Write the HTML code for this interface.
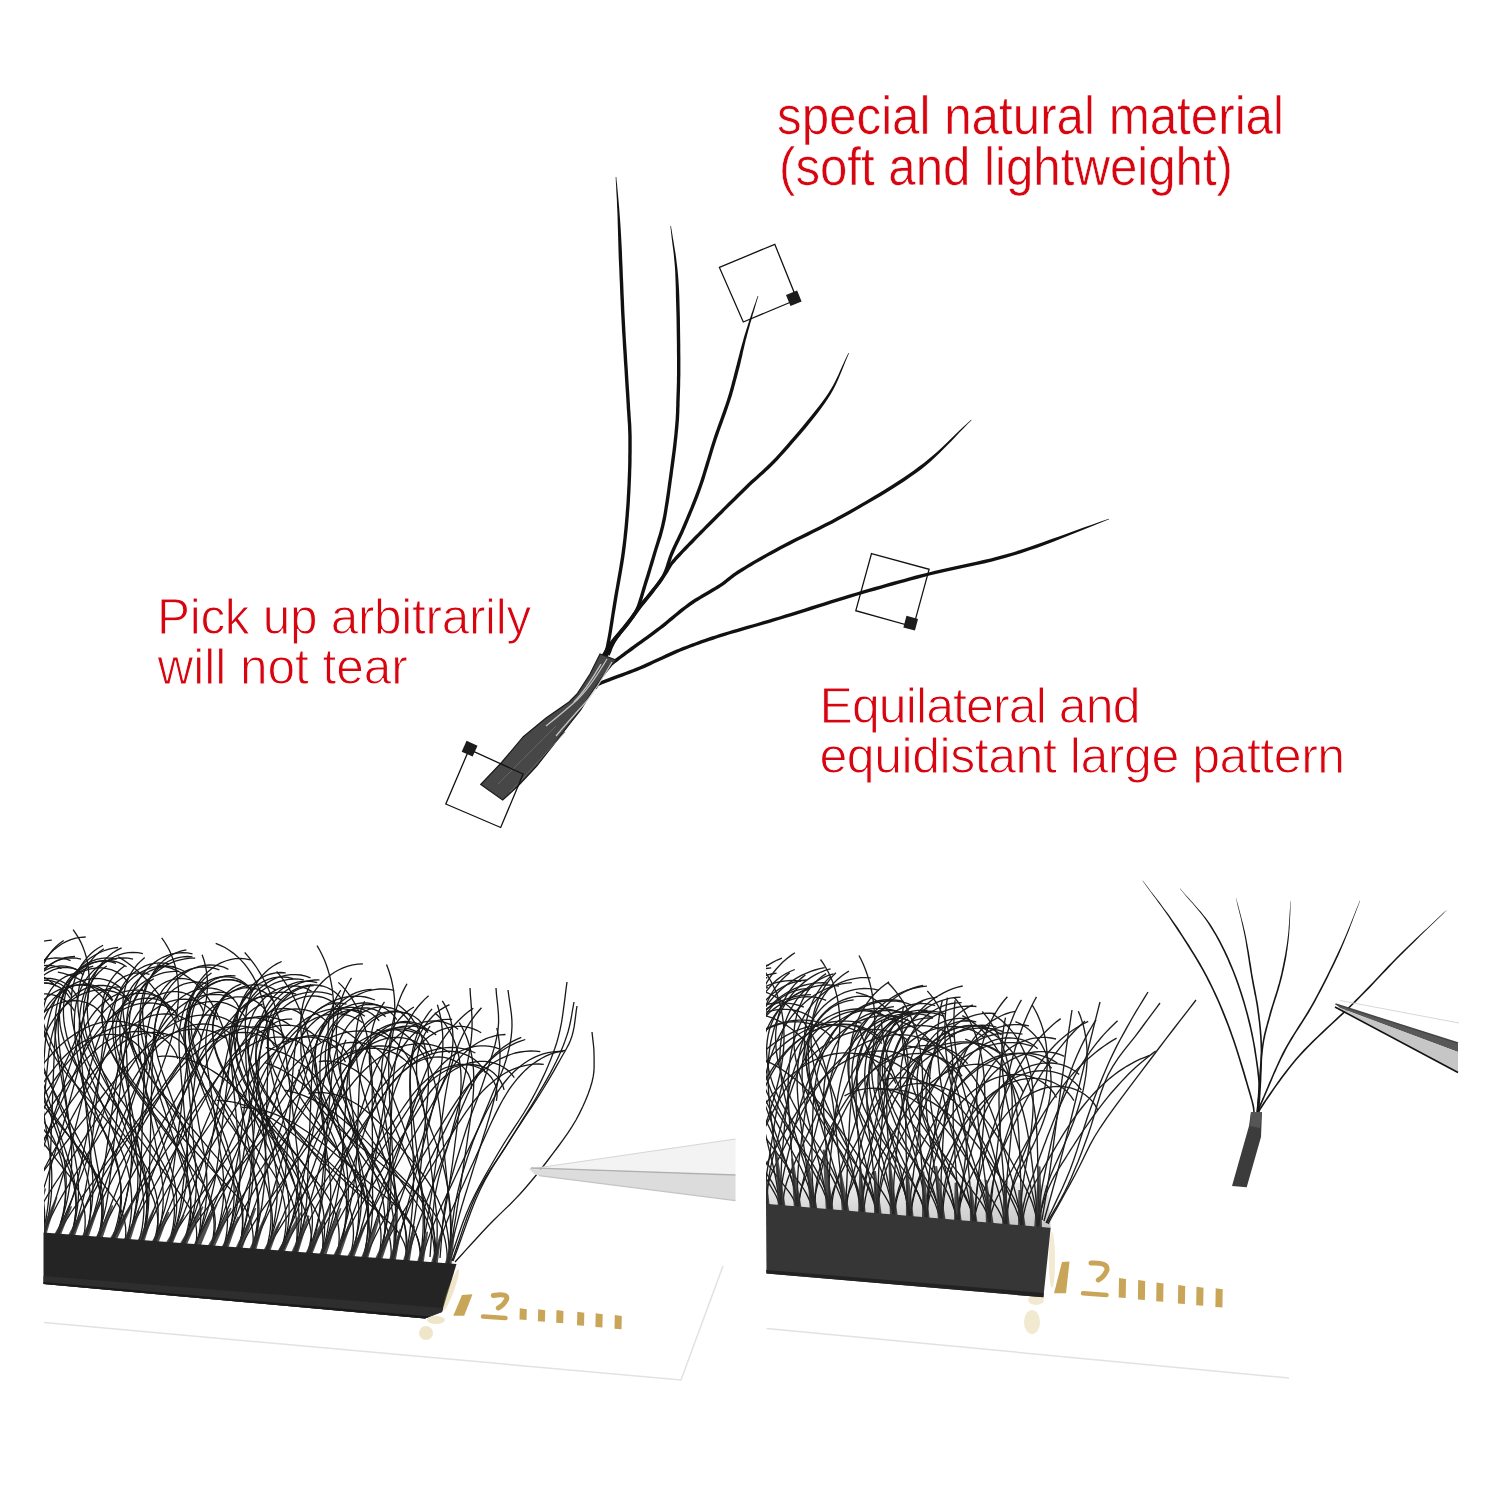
<!DOCTYPE html>
<html><head><meta charset="utf-8"><style>
html,body{margin:0;padding:0;background:#fff;width:1500px;height:1500px;overflow:hidden}
svg{display:block}
</style></head><body>
<svg width="1500" height="1500" viewBox="0 0 1500 1500">
<rect width="1500" height="1500" fill="#fff"/>
<g font-family="Liberation Sans, sans-serif" fill="#d7050f">
<text x="777" y="134.4" font-size="54" stroke="#fff" stroke-width="0.6" textLength="507" lengthAdjust="spacingAndGlyphs">special natural material</text>
<text x="779" y="184.8" font-size="54" stroke="#fff" stroke-width="0.6" textLength="454" lengthAdjust="spacingAndGlyphs">(soft and lightweight)</text>
<text x="157" y="633.7" stroke="#fff" stroke-width="1" font-size="49.5" letter-spacing="-0.3">Pick up arbitrarily</text>
<text x="157.5" y="684" stroke="#fff" stroke-width="1" font-size="49.5">will not tear</text>
<text x="819.5" y="723" stroke="#fff" stroke-width="1" font-size="50" letter-spacing="-0.9">Equilateral and</text>
<text x="819.5" y="772.7" stroke="#fff" stroke-width="1" font-size="50" letter-spacing="-0.45">equidistant large pattern</text>
</g>
<g fill="#111"><path d="M615.7,177.0 615.8,180.7 616.0,184.1 616.2,187.4 616.3,190.6 616.5,193.8 616.7,197.1 616.9,200.5 617.0,204.2 617.2,208.2 617.4,212.6 617.6,217.5 617.7,223.1 617.9,229.3 618.1,236.1 618.3,243.5 618.5,251.3 618.8,259.4 619.2,267.8 619.5,276.3 619.9,284.8 620.2,293.2 620.6,301.5 620.9,309.5 621.3,317.1 621.7,324.5 622.1,332.1 622.6,339.6 623.0,347.2 623.5,354.6 623.9,362.0 624.4,369.1 624.8,376.0 625.2,382.6 625.6,388.9 626.0,394.7 626.3,400.1 626.6,404.9 626.8,409.1 627.1,412.8 627.3,416.2 627.5,419.2 627.7,422.0 627.9,424.7 628.0,427.4 628.1,430.2 628.2,433.1 628.3,436.4 628.3,440.0 628.3,444.0 628.3,448.1 628.3,452.3 628.2,456.6 628.2,461.1 628.1,465.6 628.0,470.1 627.8,474.7 627.6,479.3 627.5,483.9 627.2,488.4 627.0,492.9 626.7,497.4 626.5,501.8 626.2,506.3 625.8,510.8 625.5,515.3 625.1,519.9 624.7,524.4 624.3,528.9 623.8,533.4 623.4,537.9 622.9,542.3 622.3,546.8 621.7,551.2 621.1,555.7 620.4,560.2 619.7,564.6 619.0,569.1 618.2,573.6 617.4,578.0 616.6,582.4 615.9,586.8 615.1,591.1 614.3,595.5 613.6,599.7 612.9,604.0 612.2,608.5 611.5,613.0 610.8,617.6 610.1,622.1 609.4,626.6 608.7,630.9 608.0,635.0 607.3,638.8 606.6,642.3 606.0,645.4 605.4,648.1 604.7,650.3 604.2,652.0 603.6,653.3 603.1,654.2 602.6,654.9 602.2,655.4 601.7,655.8 601.2,656.2 600.6,656.7 599.9,657.3 599.2,658.1 598.6,659.0 601.4,661.0 601.9,660.2 602.4,659.7 602.8,659.3 603.4,658.9 604.0,658.4 604.6,657.8 605.3,657.0 606.0,656.0 606.7,654.7 607.3,653.2 608.0,651.3 608.6,648.9 609.3,646.1 610.0,642.9 610.6,639.4 611.3,635.5 612.0,631.4 612.7,627.1 613.4,622.7 614.1,618.1 614.8,613.6 615.6,609.0 616.3,604.6 617.0,600.3 617.7,596.0 618.4,591.7 619.2,587.4 620.0,583.0 620.8,578.6 621.6,574.1 622.3,569.7 623.1,565.2 623.8,560.7 624.5,556.2 625.1,551.7 625.7,547.2 626.2,542.7 626.7,538.2 627.2,533.7 627.7,529.2 628.1,524.7 628.5,520.1 628.9,515.6 629.2,511.1 629.6,506.6 629.9,502.1 630.1,497.6 630.4,493.1 630.6,488.6 630.8,484.0 631.0,479.4 631.2,474.8 631.3,470.2 631.5,465.7 631.6,461.1 631.6,456.7 631.7,452.3 631.7,448.1 631.7,444.0 631.7,440.0 631.7,436.3 631.6,433.0 631.5,430.0 631.4,427.2 631.3,424.5 631.1,421.8 630.9,418.9 630.7,415.9 630.5,412.6 630.2,408.9 630.0,404.7 629.7,399.9 629.4,394.5 629.0,388.7 628.6,382.4 628.2,375.8 627.8,368.9 627.3,361.8 626.9,354.4 626.4,347.0 625.9,339.4 625.5,331.9 625.1,324.3 624.7,316.9 624.3,309.3 624.0,301.3 623.6,293.1 623.3,284.6 622.9,276.1 622.6,267.6 622.2,259.3 621.9,251.1 621.5,243.3 621.1,236.0 620.7,229.1 620.3,222.9 619.9,217.4 619.5,212.5 619.2,208.1 618.8,204.1 618.5,200.4 618.2,196.9 617.9,193.7 617.6,190.5 617.3,187.3 617.0,184.1 616.6,180.7 616.3,177.0Z"/><path d="M670.4,226.0 670.8,230.2 671.3,234.2 671.7,238.2 672.2,242.0 672.7,245.9 673.2,249.8 673.7,253.8 674.1,258.0 674.5,262.3 674.9,266.9 675.2,271.8 675.4,277.1 675.6,282.8 675.8,289.1 675.9,295.9 676.1,302.9 676.3,310.2 676.5,317.5 676.6,324.8 676.7,332.0 676.8,338.9 676.9,345.5 676.9,351.6 677.0,357.0 677.0,361.9 677.0,366.5 677.0,370.7 677.0,374.6 676.9,378.3 676.9,381.8 676.8,385.0 676.7,388.2 676.6,391.2 676.5,394.1 676.4,397.0 676.3,400.0 676.2,402.7 676.2,405.2 676.1,407.5 676.0,409.7 676.0,411.7 675.9,413.6 675.8,415.6 675.7,417.5 675.6,419.6 675.4,421.8 675.2,424.2 675.0,426.8 674.7,429.7 674.5,432.6 674.2,435.6 673.8,438.7 673.5,441.9 673.1,445.2 672.7,448.5 672.3,452.0 671.8,455.6 671.3,459.2 670.8,462.9 670.3,466.8 669.8,470.8 669.2,475.1 668.6,479.6 667.9,484.2 667.3,488.9 666.6,493.7 665.9,498.4 665.2,503.1 664.5,507.6 663.8,511.9 663.1,515.9 662.3,519.7 661.6,523.1 660.9,526.3 660.1,529.3 659.4,532.1 658.6,534.7 657.8,537.3 657.0,539.8 656.3,542.3 655.5,544.8 654.7,547.3 653.9,549.9 653.1,552.5 652.3,555.2 651.5,558.0 650.6,560.7 649.8,563.5 649.0,566.3 648.2,569.0 647.3,571.7 646.5,574.4 645.7,577.0 644.9,579.6 644.1,582.1 643.4,584.5 642.6,586.9 641.9,589.2 641.3,591.5 640.6,593.7 640.0,595.9 639.3,598.1 638.7,600.1 638.1,602.1 637.4,604.0 636.7,605.9 636.0,607.6 635.3,609.3 634.5,610.8 633.7,612.2 632.9,613.5 632.1,614.7 631.3,615.8 630.4,616.9 629.5,618.0 628.6,619.1 627.7,620.2 626.7,621.4 625.7,622.6 624.7,623.9 623.6,625.3 622.5,626.7 621.3,628.1 620.1,629.5 618.8,631.0 617.6,632.5 616.3,633.9 615.1,635.4 613.9,636.8 612.8,638.3 611.7,639.6 610.6,641.0 609.7,642.3 608.8,643.5 608.0,644.8 607.2,646.0 606.5,647.1 605.7,648.3 605.0,649.4 604.4,650.6 603.7,651.7 603.0,652.8 602.3,653.9 601.6,655.1 604.4,656.9 605.2,655.7 605.9,654.6 606.6,653.5 607.3,652.3 607.9,651.2 608.6,650.1 609.3,648.9 610.1,647.8 610.8,646.7 611.6,645.5 612.5,644.3 613.4,643.0 614.3,641.7 615.4,640.4 616.5,639.0 617.7,637.6 618.9,636.1 620.2,634.7 621.4,633.2 622.7,631.7 623.9,630.3 625.1,628.8 626.3,627.4 627.3,626.1 628.3,624.8 629.3,623.6 630.3,622.4 631.2,621.3 632.2,620.2 633.1,619.1 634.0,617.9 634.9,616.6 635.8,615.3 636.7,613.9 637.5,612.4 638.3,610.7 639.1,609.0 639.9,607.1 640.6,605.2 641.3,603.2 641.9,601.2 642.6,599.1 643.2,596.9 643.9,594.7 644.5,592.5 645.2,590.2 645.9,587.9 646.6,585.5 647.4,583.1 648.2,580.6 649.0,578.0 649.8,575.4 650.6,572.7 651.4,570.0 652.2,567.2 653.1,564.5 653.9,561.7 654.7,559.0 655.5,556.2 656.3,553.5 657.1,550.8 657.9,548.3 658.7,545.8 659.5,543.3 660.3,540.8 661.1,538.3 661.9,535.7 662.6,533.0 663.4,530.1 664.2,527.1 664.9,523.8 665.7,520.3 666.4,516.6 667.1,512.5 667.8,508.1 668.6,503.6 669.3,498.9 670.0,494.2 670.6,489.4 671.3,484.7 671.9,480.0 672.6,475.5 673.1,471.3 673.7,467.2 674.2,463.4 674.7,459.7 675.2,456.0 675.6,452.4 676.1,449.0 676.5,445.6 676.8,442.3 677.2,439.1 677.5,436.0 677.8,432.9 678.1,430.0 678.4,427.2 678.6,424.5 678.8,422.1 679.0,419.8 679.1,417.7 679.2,415.7 679.3,413.8 679.4,411.8 679.4,409.8 679.5,407.6 679.6,405.3 679.6,402.8 679.7,400.0 679.8,397.1 679.9,394.2 680.0,391.3 680.1,388.3 680.2,385.1 680.2,381.9 680.3,378.4 680.4,374.7 680.4,370.7 680.4,366.5 680.4,361.9 680.4,357.0 680.3,351.5 680.3,345.5 680.2,338.9 680.1,332.0 680.0,324.8 679.9,317.5 679.7,310.1 679.5,302.8 679.3,295.8 679.0,289.0 678.6,282.7 678.2,276.9 677.7,271.6 677.2,266.7 676.6,262.1 676.1,257.7 675.5,253.6 674.8,249.6 674.2,245.7 673.6,241.8 672.9,238.0 672.3,234.1 671.6,230.1 671.0,226.0Z"/><path d="M757.7,295.9 757.1,297.7 756.4,299.5 755.8,301.4 755.2,303.2 754.5,305.0 753.9,306.8 753.3,308.6 752.7,310.5 752.0,312.3 751.4,314.1 750.8,315.9 750.2,317.8 749.6,319.6 749.0,321.3 748.5,323.0 747.9,324.8 747.4,326.5 746.8,328.2 746.2,330.0 745.7,331.8 745.1,333.6 744.5,335.6 743.9,337.6 743.3,339.7 742.7,341.9 742.0,344.2 741.4,346.6 740.7,349.1 740.0,351.6 739.4,354.1 738.7,356.7 738.0,359.3 737.3,361.9 736.7,364.5 736.0,367.1 735.4,369.6 734.7,372.0 734.1,374.5 733.5,376.8 732.9,379.2 732.2,381.6 731.6,383.9 731.0,386.3 730.3,388.8 729.6,391.3 728.8,393.9 728.0,396.6 727.1,399.5 726.1,402.4 725.1,405.5 724.0,408.6 722.9,411.8 721.7,415.0 720.5,418.4 719.3,421.8 718.0,425.2 716.8,428.7 715.5,432.3 714.3,435.8 713.1,439.5 711.9,443.2 710.7,447.0 709.5,450.9 708.3,454.9 707.1,459.0 705.8,463.0 704.6,467.1 703.4,471.1 702.2,475.1 700.9,479.0 699.7,482.8 698.4,486.4 697.1,490.0 695.8,493.6 694.4,497.2 693.0,500.7 691.6,504.2 690.3,507.7 688.9,511.0 687.5,514.3 686.2,517.5 684.9,520.6 683.6,523.5 682.4,526.3 681.3,529.0 680.2,531.5 679.1,533.8 678.0,536.1 677.0,538.2 676.0,540.3 675.0,542.3 674.1,544.3 673.1,546.3 672.2,548.3 671.3,550.3 670.4,552.3 669.6,554.4 668.8,556.5 668.1,558.5 667.5,560.6 666.8,562.5 666.2,564.5 665.6,566.4 665.0,568.2 664.3,570.1 663.6,571.8 662.8,573.5 662.0,575.2 661.1,576.8 660.1,578.4 659.0,580.0 657.9,581.5 656.8,583.0 655.6,584.5 654.4,586.0 653.2,587.4 652.0,588.8 650.9,590.2 649.7,591.6 648.7,592.9 647.6,594.2 646.6,595.5 645.7,596.7 644.7,597.8 643.7,599.0 642.8,600.1 641.8,601.2 640.9,602.3 639.9,603.4 639.0,604.6 638.1,605.8 637.1,607.0 636.2,608.2 635.3,609.4 634.5,610.6 633.7,611.9 632.8,613.1 632.0,614.3 631.2,615.5 630.3,616.8 629.4,618.0 628.6,619.3 627.6,620.6 626.6,622.0 625.6,623.4 624.5,624.8 623.3,626.3 622.0,627.8 620.8,629.4 619.5,630.9 618.3,632.5 617.0,634.1 615.8,635.6 614.7,637.1 613.6,638.6 612.6,640.1 611.7,641.5 610.9,642.8 610.1,644.1 609.4,645.4 608.7,646.7 608.1,647.9 607.5,649.2 606.9,650.4 606.3,651.6 605.7,652.8 605.1,654.0 604.5,655.2 607.5,656.8 608.2,655.5 608.8,654.3 609.4,653.1 610.0,651.9 610.6,650.6 611.1,649.4 611.8,648.2 612.4,647.0 613.1,645.8 613.8,644.5 614.6,643.3 615.4,641.9 616.4,640.6 617.4,639.2 618.5,637.7 619.7,636.2 620.9,634.6 622.2,633.1 623.4,631.5 624.7,630.0 625.9,628.4 627.1,626.9 628.3,625.4 629.4,624.0 630.4,622.6 631.3,621.3 632.2,620.0 633.1,618.7 634.0,617.4 634.8,616.2 635.6,615.0 636.5,613.8 637.3,612.6 638.1,611.4 639.0,610.2 639.9,609.0 640.8,607.9 641.7,606.7 642.6,605.6 643.5,604.5 644.4,603.4 645.4,602.3 646.3,601.2 647.3,600.0 648.3,598.8 649.3,597.6 650.3,596.4 651.3,595.1 652.4,593.7 653.5,592.4 654.7,591.0 655.8,589.6 657.0,588.1 658.3,586.6 659.5,585.1 660.7,583.5 661.8,581.9 662.9,580.3 664.0,578.6 665.0,576.8 665.9,575.0 666.7,573.2 667.5,571.3 668.2,569.4 668.8,567.5 669.5,565.5 670.1,563.6 670.7,561.6 671.4,559.6 672.0,557.6 672.8,555.6 673.6,553.7 674.4,551.7 675.3,549.7 676.2,547.8 677.1,545.8 678.1,543.8 679.1,541.8 680.1,539.7 681.1,537.5 682.2,535.3 683.3,532.9 684.4,530.3 685.6,527.7 686.8,524.8 688.0,521.9 689.3,518.8 690.7,515.6 692.0,512.3 693.4,509.0 694.8,505.5 696.2,502.0 697.6,498.4 699.0,494.8 700.3,491.2 701.6,487.6 702.9,483.8 704.2,480.0 705.4,476.1 706.6,472.1 707.9,468.1 709.1,464.0 710.3,459.9 711.5,455.9 712.7,451.9 713.9,448.0 715.1,444.2 716.3,440.5 717.5,436.9 718.7,433.4 720.0,429.8 721.2,426.4 722.5,422.9 723.7,419.5 724.9,416.2 726.1,412.9 727.2,409.7 728.3,406.6 729.3,403.5 730.3,400.5 731.2,397.7 732.1,394.9 732.8,392.3 733.6,389.7 734.2,387.2 734.9,384.8 735.5,382.4 736.1,380.1 736.8,377.7 737.4,375.3 738.0,372.9 738.6,370.4 739.3,367.9 740.0,365.3 740.6,362.7 741.2,360.1 741.8,357.5 742.4,354.9 742.9,352.3 743.5,349.8 744.1,347.3 744.6,344.9 745.2,342.5 745.7,340.3 746.3,338.2 746.8,336.2 747.3,334.3 747.8,332.4 748.3,330.6 748.8,328.8 749.3,327.1 749.8,325.3 750.2,323.6 750.8,321.8 751.3,320.1 751.8,318.2 752.3,316.4 752.8,314.6 753.4,312.7 753.9,310.9 754.5,309.0 755.0,307.2 755.6,305.3 756.1,303.5 756.7,301.6 757.2,299.8 757.8,297.9 758.3,296.1Z"/><path d="M848.5,352.9 846.7,356.5 844.9,360.2 843.3,363.7 841.7,367.3 840.1,370.8 838.5,374.4 836.8,378.0 835.0,381.7 833.0,385.4 830.8,389.2 828.3,393.2 825.6,397.3 822.5,401.6 818.9,406.2 815.1,411.0 811.1,416.0 807.0,421.1 802.7,426.2 798.5,431.3 794.2,436.3 790.0,441.1 786.0,445.7 782.2,450.0 778.7,453.9 775.5,457.4 772.5,460.6 769.5,463.5 766.7,466.3 764.0,468.8 761.4,471.2 758.8,473.6 756.2,475.9 753.6,478.3 750.9,480.6 748.3,483.1 745.5,485.8 742.7,488.5 739.9,491.3 737.0,494.1 734.1,496.9 731.3,499.8 728.4,502.6 725.5,505.4 722.7,508.2 720.0,510.9 717.3,513.6 714.6,516.3 712.1,518.8 709.6,521.3 707.1,523.8 704.7,526.2 702.3,528.7 699.9,531.0 697.6,533.4 695.4,535.6 693.2,537.8 691.1,540.0 689.1,542.0 687.3,544.0 685.5,545.8 683.8,547.6 682.2,549.2 680.8,550.7 679.4,552.2 678.1,553.5 676.9,554.8 675.7,556.1 674.6,557.3 673.6,558.5 672.6,559.6 671.6,560.8 670.7,561.9 669.8,563.0 669.1,564.1 668.4,565.0 667.9,565.9 667.4,566.7 666.9,567.5 666.5,568.3 666.0,569.2 665.5,570.0 665.0,570.9 664.3,571.9 663.6,573.0 662.7,574.3 661.8,575.7 660.8,577.1 659.7,578.6 658.6,580.2 657.4,581.8 656.3,583.4 655.1,585.0 654.0,586.5 652.8,588.1 651.7,589.6 650.6,591.0 649.6,592.3 648.6,593.6 647.6,594.9 646.6,596.2 645.6,597.4 644.6,598.6 643.6,599.8 642.6,601.0 641.6,602.3 640.6,603.5 639.6,604.7 638.7,606.0 637.7,607.2 636.8,608.5 635.9,609.7 635.0,610.9 634.1,612.1 633.2,613.3 632.4,614.5 631.5,615.8 630.6,617.0 629.6,618.3 628.7,619.6 627.6,621.0 626.6,622.4 625.4,623.8 624.2,625.3 623.0,626.8 621.7,628.4 620.4,629.9 619.2,631.5 617.9,633.1 616.7,634.6 615.6,636.1 614.5,637.6 613.6,639.1 612.7,640.5 611.9,641.9 611.2,643.2 610.6,644.5 610.0,645.8 609.5,647.0 609.0,648.3 608.5,649.5 608.0,650.7 607.5,651.9 607.0,653.1 606.5,654.3 609.5,655.7 610.1,654.4 610.7,653.2 611.2,652.0 611.7,650.7 612.1,649.5 612.6,648.3 613.1,647.1 613.7,645.9 614.3,644.7 614.9,643.5 615.6,642.2 616.4,640.9 617.3,639.6 618.3,638.1 619.4,636.7 620.6,635.2 621.8,633.6 623.1,632.1 624.3,630.5 625.6,629.0 626.9,627.4 628.1,625.9 629.3,624.5 630.4,623.0 631.4,621.7 632.4,620.3 633.3,619.0 634.2,617.8 635.1,616.5 636.0,615.3 636.9,614.1 637.7,612.9 638.6,611.7 639.5,610.5 640.4,609.3 641.3,608.0 642.3,606.8 643.3,605.6 644.2,604.4 645.2,603.2 646.2,602.0 647.2,600.8 648.2,599.5 649.2,598.3 650.2,597.0 651.3,595.7 652.3,594.4 653.4,593.0 654.4,591.6 655.5,590.1 656.7,588.6 657.9,587.0 659.0,585.4 660.2,583.7 661.3,582.1 662.5,580.6 663.5,579.1 664.6,577.6 665.5,576.2 666.4,575.0 667.2,573.8 667.9,572.7 668.5,571.7 669.0,570.8 669.4,570.0 669.9,569.2 670.3,568.4 670.8,567.7 671.3,566.9 671.8,566.0 672.5,565.1 673.3,564.1 674.2,563.0 675.2,561.9 676.1,560.7 677.2,559.6 678.2,558.4 679.4,557.2 680.6,555.9 681.9,554.5 683.2,553.1 684.7,551.5 686.3,549.9 687.9,548.2 689.7,546.3 691.6,544.4 693.6,542.4 695.6,540.2 697.8,538.0 700.0,535.8 702.3,533.4 704.7,531.0 707.1,528.6 709.5,526.2 712.0,523.7 714.5,521.2 717.0,518.7 719.7,516.0 722.4,513.4 725.1,510.6 727.9,507.8 730.8,505.0 733.6,502.2 736.5,499.4 739.4,496.5 742.3,493.7 745.1,490.9 747.9,488.2 750.6,485.6 753.3,483.1 755.9,480.8 758.4,478.5 761.0,476.1 763.7,473.8 766.3,471.3 769.1,468.7 771.9,465.9 774.9,463.0 778.0,459.7 781.3,456.1 784.8,452.2 788.6,447.9 792.6,443.3 796.8,438.5 801.1,433.5 805.4,428.4 809.6,423.2 813.8,418.1 817.7,413.0 821.4,408.0 824.8,403.2 827.8,398.7 830.5,394.5 832.8,390.4 834.9,386.4 836.8,382.5 838.5,378.8 840.0,375.1 841.5,371.4 843.0,367.8 844.4,364.2 845.9,360.6 847.4,356.9 849.1,353.1Z"/><path d="M971.1,419.8 966.8,423.7 962.6,427.6 958.4,431.6 954.3,435.6 950.2,439.5 946.1,443.5 941.9,447.5 937.6,451.4 933.2,455.3 928.7,459.1 923.9,462.9 919.0,466.6 913.8,470.5 908.4,474.3 902.9,478.1 897.1,481.8 891.3,485.6 885.3,489.3 879.2,493.0 873.2,496.6 867.1,500.2 861.0,503.7 855.0,507.2 849.2,510.5 843.3,513.8 837.2,517.1 831.0,520.4 824.8,523.6 818.6,526.7 812.4,529.8 806.3,532.8 800.4,535.7 794.6,538.6 789.2,541.3 784.0,544.0 779.2,546.5 774.7,548.9 770.5,551.2 766.6,553.4 762.9,555.5 759.4,557.5 756.0,559.4 752.9,561.2 749.9,563.0 747.0,564.7 744.3,566.4 741.6,568.0 739.1,569.6 736.7,571.1 734.7,572.5 732.8,573.8 731.2,575.0 729.7,576.2 728.3,577.3 727.0,578.3 725.6,579.4 724.2,580.5 722.7,581.7 721.0,582.9 719.1,584.2 716.9,585.5 714.7,586.9 712.3,588.3 709.9,589.8 707.4,591.2 704.8,592.7 702.1,594.3 699.5,595.9 696.8,597.5 694.2,599.1 691.6,600.8 689.0,602.6 686.5,604.4 684.0,606.4 681.4,608.3 678.9,610.3 676.4,612.4 673.9,614.5 671.4,616.6 668.9,618.6 666.4,620.7 663.9,622.7 661.4,624.7 659.0,626.7 656.4,628.6 653.8,630.5 651.2,632.5 648.5,634.5 645.8,636.4 643.2,638.3 640.6,640.2 638.0,642.1 635.6,643.8 633.2,645.5 631.0,647.1 629.0,648.6 627.1,650.0 625.3,651.3 623.7,652.6 622.1,653.7 620.6,654.8 619.2,655.9 617.9,656.8 616.7,657.8 615.5,658.6 614.4,659.5 613.3,660.3 612.3,661.0 611.3,661.7 610.5,662.4 609.8,662.9 609.1,663.4 608.6,663.9 608.0,664.3 607.5,664.7 607.0,665.0 606.6,665.4 606.1,665.8 605.5,666.2 605.0,666.7 607.0,669.3 607.6,668.9 608.1,668.5 608.6,668.1 609.1,667.7 609.6,667.4 610.1,667.0 610.6,666.6 611.2,666.1 611.8,665.6 612.6,665.1 613.4,664.5 614.3,663.8 615.3,663.0 616.4,662.2 617.5,661.4 618.7,660.5 619.9,659.6 621.2,658.6 622.6,657.6 624.1,656.5 625.7,655.3 627.3,654.1 629.1,652.8 631.0,651.4 633.0,649.9 635.2,648.3 637.6,646.6 640.0,644.8 642.6,643.0 645.2,641.1 647.8,639.2 650.5,637.2 653.2,635.2 655.9,633.3 658.5,631.3 661.0,629.3 663.6,627.4 666.1,625.4 668.6,623.3 671.1,621.2 673.6,619.2 676.1,617.1 678.6,615.0 681.1,613.0 683.6,611.0 686.0,609.0 688.5,607.2 691.0,605.4 693.5,603.7 696.0,602.0 698.6,600.4 701.2,598.8 703.9,597.2 706.5,595.7 709.1,594.2 711.6,592.7 714.1,591.3 716.5,589.8 718.8,588.4 720.9,587.0 722.9,585.7 724.7,584.4 726.3,583.2 727.7,582.1 729.1,581.0 730.4,579.9 731.8,578.8 733.3,577.7 734.8,576.5 736.6,575.3 738.6,573.9 740.9,572.4 743.4,570.9 746.0,569.3 748.8,567.6 751.6,565.9 754.6,564.1 757.7,562.3 761.0,560.4 764.5,558.4 768.2,556.3 772.2,554.2 776.4,551.9 780.8,549.5 785.6,547.0 790.7,544.4 796.2,541.6 801.9,538.8 807.8,535.9 813.9,532.8 820.1,529.7 826.3,526.6 832.6,523.4 838.8,520.1 844.9,516.8 850.8,513.5 856.7,510.1 862.7,506.6 868.8,503.1 874.9,499.5 881.0,495.9 887.1,492.2 893.1,488.5 899.0,484.7 904.8,480.9 910.4,477.1 915.8,473.2 921.0,469.4 925.9,465.4 930.6,461.4 935.1,457.3 939.3,453.2 943.5,449.1 947.5,445.0 951.5,440.9 955.5,436.7 959.4,432.6 963.4,428.5 967.4,424.3 971.5,420.2Z"/><path d="M1108.9,518.7 1100.8,521.5 1092.6,524.4 1084.4,527.3 1076.2,530.2 1068.0,533.2 1059.8,536.2 1051.6,539.0 1043.5,541.9 1035.6,544.7 1027.8,547.4 1020.1,550.0 1012.5,552.4 1005.1,554.6 997.7,556.6 990.5,558.4 983.3,560.1 976.2,561.7 969.1,563.3 962.2,564.8 955.3,566.2 948.5,567.7 941.8,569.2 935.1,570.7 928.6,572.4 922.2,574.0 915.9,575.6 909.8,577.3 903.9,578.9 898.0,580.5 892.1,582.1 886.3,583.7 880.5,585.4 874.6,587.1 868.7,588.8 862.7,590.6 856.5,592.4 850.2,594.3 843.8,596.2 837.2,598.2 830.6,600.3 823.9,602.4 817.2,604.5 810.6,606.6 804.1,608.7 797.7,610.7 791.4,612.7 785.3,614.6 779.5,616.4 773.9,618.1 768.3,619.7 762.9,621.3 757.5,622.9 752.3,624.4 747.2,625.8 742.2,627.3 737.4,628.7 732.7,630.0 728.2,631.4 723.7,632.7 719.5,634.1 715.4,635.4 711.6,636.6 708.1,637.8 704.6,639.0 701.4,640.1 698.2,641.2 695.1,642.4 692.0,643.5 688.9,644.7 685.8,645.9 682.6,647.1 679.4,648.4 676.0,649.8 672.6,651.3 669.3,652.8 665.9,654.3 662.5,655.9 659.2,657.4 655.8,659.0 652.5,660.6 649.2,662.1 645.9,663.6 642.6,665.0 639.3,666.4 636.0,667.8 632.5,669.2 628.9,670.5 625.3,671.9 621.7,673.2 618.1,674.5 614.7,675.8 611.4,677.0 608.3,678.2 605.5,679.2 603.0,680.2 600.9,681.1 599.2,681.9 597.8,682.6 596.8,683.3 596.0,683.8 595.4,684.4 594.9,685.0 594.6,685.6 594.4,686.0 594.4,686.2 594.3,686.3 594.2,686.4 593.9,686.7 596.1,689.3 596.7,688.8 597.2,688.2 597.5,687.6 597.6,687.2 597.7,687.0 597.7,686.9 597.8,686.7 598.1,686.5 598.6,686.1 599.5,685.6 600.7,685.0 602.3,684.3 604.3,683.4 606.8,682.4 609.5,681.4 612.6,680.2 615.9,679.0 619.3,677.7 622.9,676.4 626.5,675.1 630.1,673.7 633.8,672.3 637.3,670.9 640.7,669.6 644.0,668.2 647.3,666.7 650.6,665.2 653.9,663.6 657.3,662.1 660.6,660.5 664.0,658.9 667.3,657.4 670.7,655.9 674.0,654.4 677.3,652.9 680.6,651.6 683.9,650.3 687.1,649.0 690.1,647.8 693.2,646.7 696.2,645.5 699.3,644.4 702.5,643.3 705.7,642.2 709.1,641.0 712.7,639.9 716.5,638.6 720.5,637.3 724.7,636.0 729.1,634.6 733.7,633.3 738.4,631.9 743.2,630.5 748.2,629.1 753.3,627.6 758.5,626.1 763.8,624.6 769.3,623.0 774.8,621.3 780.5,619.6 786.3,617.8 792.4,615.9 798.7,614.0 805.1,611.9 811.6,609.9 818.3,607.8 824.9,605.7 831.6,603.6 838.2,601.5 844.8,599.5 851.2,597.5 857.5,595.6 863.6,593.8 869.6,592.1 875.5,590.4 881.4,588.7 887.2,587.0 893.0,585.4 898.9,583.8 904.7,582.2 910.7,580.5 916.8,578.9 923.0,577.3 929.4,575.6 935.9,574.0 942.5,572.5 949.2,571.0 956.0,569.6 962.9,568.1 969.9,566.6 976.9,565.1 984.1,563.4 991.3,561.7 998.6,559.8 1006.0,557.8 1013.5,555.6 1021.1,553.2 1028.9,550.6 1036.7,547.9 1044.7,545.0 1052.7,541.9 1060.7,538.7 1068.8,535.5 1076.9,532.2 1085.0,528.9 1093.1,525.7 1101.1,522.4 1109.1,519.3Z"/></g><path d="M600,654 590,674 577,694 569,702 546,718 523.3,736.7 502,762 480.7,784.5 502.7,800 518,786 536.7,766 556.7,740.7 570,723.3 580.7,710 590,695 603,676 616,660Z" fill="#474747" stroke="#1a1a1a" stroke-width="1.2"/><g stroke="#d0d0d0" stroke-width="1.3" fill="none" opacity="0.9"><path d="M607,659 C599,672 590,688 577,700 C566,710 556,718 546,726"/><path d="M612,662 C604,676 596,690 585,703 C575,714 566,724 556,736"/><path d="M601,664 C594,676 586,690 574,702"/></g><g stroke="#6a6a6a" stroke-width="1" fill="none" opacity="0.9"><path d="M556,726 C540,742 522,760 498,784"/><path d="M565,732 C550,748 533,768 510,792"/></g><polygon points="719.4,267.4 774.8,244.3 797,299.5 743.3,322" fill="none" stroke="#111" stroke-width="1.3"/><rect x="787.8" y="292.2" width="12" height="12" fill="#1c1c1c" transform="rotate(-22 793.8 298.2)"/><polygon points="871.5,553.6 929.1,569.3 913.4,626.8 855.8,610.7" fill="none" stroke="#111" stroke-width="1.3"/><rect x="904.7" y="617.2" width="12" height="12" fill="#1c1c1c" transform="rotate(15 910.7 623.2)"/><polygon points="469.1,749.4 523.1,774 500.7,827.5 445.8,804" fill="none" stroke="#111" stroke-width="1.3"/><rect x="463.6" y="742.7" width="12" height="12" fill="#1c1c1c" transform="rotate(24 469.6 748.7)"/>
<clipPath id="cl"><rect x="44" y="900" width="700" height="500"/></clipPath><clipPath id="cr"><rect x="766" y="860" width="700" height="540"/></clipPath><g stroke="#e2e2e2" stroke-width="1.5" fill="none"><path d="M44,1322.5 L681,1380 L723,1266"/><path d="M766.5,1328.5 L1289,1378"/></g><g clip-path="url(#cl)" fill="none" stroke="#181818" stroke-width="1.3"><path d="M-70.7,1227.8 -69.2,1223.0 -68.0,1218.1 -67.1,1213.2 -66.5,1208.2 -66.1,1203.2 -66.0,1198.2 -66.2,1193.2 -66.7,1188.2 -67.5,1183.2 -68.5,1178.3 -69.8,1173.5 -71.4,1168.7 -73.3,1164.1 -75.4,1159.5 -77.7,1155.1 -80.3,1150.8 -83.1,1146.6 -85.8,1142.4 -88.5,1138.2 -91.2,1133.9 -93.9,1129.7 -96.6,1125.5 -99.3,1121.3 -102.1,1117.1 -104.8,1112.9 -107.5,1108.6 -110.2,1104.4 -112.9,1100.2 -115.6,1096.0 -118.4,1091.8 -121.1,1087.6 -123.8,1083.4 -126.5,1079.1 -129.2,1074.9 -131.9,1070.7 -134.7,1066.5 -137.4,1062.3 -140.1,1058.0 -142.7,1053.8 -145.3,1049.5 -147.8,1045.1 -150.2,1040.8 -152.5,1036.3 -154.7,1031.8 -156.7,1027.2 -158.5,1022.5 -160.1,1017.7 -161.5,1012.9 -162.6,1008.0 -163.4,1003.1 -164.0,998.1 -164.2,993.1 -164.1,988.1 -163.6,983.1 -162.7,978.2 -161.5,973.3 -159.8,968.6 -157.7,964.0 -155.1,959.7 -152.2,955.6 -148.8,951.9 -145.1,948.6 -141.0,945.6 -136.7,943.2 -132.0,941.3"/><path d="M-69.1,1228.9 -67.4,1224.2 -65.7,1219.5 -64.3,1214.7 -62.9,1209.9 -61.7,1205.0 -60.7,1200.1 -59.8,1195.2 -59.1,1190.2 -58.5,1185.3 -58.0,1180.3 -57.7,1175.3 -57.6,1170.3 -57.6,1165.3 -57.8,1160.3 -58.1,1155.3 -58.6,1150.3 -59.2,1145.4 -59.9,1140.4 -60.9,1135.5 -61.9,1130.6 -63.1,1125.8 -64.5,1121.0 -66.0,1116.2 -67.6,1111.5 -69.4,1106.8 -71.4,1102.2 -73.3,1097.6 -75.3,1093.0 -77.3,1088.4 -79.2,1083.8 -81.2,1079.2 -83.2,1074.6 -85.1,1070.0 -87.1,1065.4 -89.1,1060.8 -91.1,1056.2 -93.0,1051.6 -94.9,1047.0 -96.7,1042.3 -98.4,1037.6 -99.9,1032.8 -101.2,1028.0 -102.4,1023.1 -103.2,1018.2 -103.8,1013.2 -104.0,1008.2 -103.9,1003.2 -103.4,998.3 -102.5,993.4 -101.1,988.6 -99.2,983.9 -96.9,979.5 -94.0,975.4 -90.7,971.6 -87.0,968.3 -82.8,965.5 -78.3,963.3 -73.6,961.8 -68.6,961.1 -63.6,961.1 -58.7,962.0 -54.0,963.7 -49.7,966.2 -45.9,969.5"/><path d="M-71.4,1227.1 -69.6,1222.4 -67.9,1217.6 -66.5,1212.7 -65.1,1207.8 -63.9,1202.9 -62.9,1197.9 -62.0,1192.9 -61.3,1187.9 -60.7,1182.9 -60.3,1177.8 -60.0,1172.8 -59.9,1167.7 -60.0,1162.6 -60.2,1157.6 -60.5,1152.5 -61.1,1147.5 -61.7,1142.5 -62.5,1137.4 -63.3,1132.4 -64.0,1127.4 -64.8,1122.4 -65.5,1117.4 -66.3,1112.4 -67.0,1107.4 -67.8,1102.4 -68.6,1097.3 -69.3,1092.3 -70.1,1087.3 -70.8,1082.3 -71.6,1077.3 -72.4,1072.3 -73.1,1067.3 -73.9,1062.3 -74.6,1057.2 -75.4,1052.2 -76.1,1047.2 -76.8,1042.2 -77.4,1037.2 -77.9,1032.1 -78.2,1027.0 -78.3,1022.0 -78.3,1016.9 -78.0,1011.8 -77.5,1006.8 -76.7,1001.8 -75.5,996.9 -74.1,992.0 -72.2,987.3 -70.0,982.7 -67.4,978.4 -64.5,974.3 -61.1,970.5 -57.4,967.0 -53.3,964.0 -48.9,961.5 -44.2,959.6 -39.3,958.2 -34.3,957.5 -29.2,957.5 -24.2,958.3 -19.3,959.8 -14.8,962.0"/><path d="M-70.0,1228.5 -68.0,1223.8 -66.2,1219.1 -64.4,1214.3 -62.8,1209.5 -61.2,1204.7 -59.7,1199.9 -58.3,1195.0 -57.0,1190.1 -55.7,1185.2 -54.6,1180.3 -53.6,1175.3 -52.6,1170.3 -51.7,1165.3 -50.9,1160.3 -50.0,1155.3 -49.1,1150.4 -48.2,1145.4 -47.3,1140.4 -46.5,1135.4 -45.6,1130.4 -44.7,1125.4 -43.8,1120.4 -42.9,1115.4 -42.1,1110.4 -41.2,1105.4 -40.3,1100.4 -39.4,1095.4 -38.5,1090.5 -37.7,1085.5 -36.8,1080.5 -35.9,1075.5 -35.0,1070.5 -34.1,1065.5 -33.3,1060.5 -32.4,1055.5 -31.5,1050.5 -30.6,1045.5 -29.6,1040.6 -28.5,1035.6 -27.3,1030.7 -25.9,1025.8 -24.4,1021.0 -22.7,1016.2 -20.7,1011.5 -18.5,1007.0 -16.0,1002.5 -13.3,998.3 -10.3,994.2 -6.9,990.4 -3.3,986.9 0.6,983.7 4.8,980.8 9.3,978.4 14.0,976.5 18.8,975.1 23.8,974.2 28.9,974.0 34.0,974.4 38.9,975.5 43.7,977.2 48.1,979.7 52.2,982.7 55.7,986.3"/><path d="M-70.9,1228.1 -68.9,1223.5 -67.0,1218.9 -65.2,1214.2 -63.5,1209.5 -61.8,1204.8 -60.1,1200.1 -58.5,1195.3 -57.0,1190.6 -55.6,1185.8 -54.1,1181.0 -52.6,1176.2 -51.2,1171.4 -49.7,1166.7 -48.2,1161.9 -46.8,1157.1 -45.3,1152.3 -43.8,1147.5 -42.4,1142.7 -40.9,1137.9 -39.4,1133.2 -38.0,1128.4 -36.5,1123.6 -35.0,1118.8 -33.6,1114.0 -32.1,1109.2 -30.6,1104.5 -29.2,1099.7 -27.7,1094.9 -26.2,1090.1 -24.8,1085.3 -23.3,1080.5 -21.8,1075.8 -20.4,1071.0 -18.9,1066.2 -17.4,1061.4 -16.0,1056.6 -14.4,1051.9 -12.8,1047.1 -11.0,1042.5 -9.1,1037.8 -7.1,1033.3 -4.9,1028.8 -2.4,1024.4 0.3,1020.2 3.2,1016.1 6.4,1012.3 9.9,1008.7 13.6,1005.3 17.6,1002.3 21.9,999.7 26.3,997.5 31.0,995.8 35.9,994.5 40.9,993.9 45.9,993.8 50.8,994.4 55.7,995.6 60.3,997.5 64.6,1000.1 68.5,1003.3 71.8,1007.0 74.5,1011.2"/><path d="M-68.9,1228.5 -66.6,1224.0 -64.4,1219.5 -62.1,1215.1 -59.7,1210.6 -57.4,1206.2 -54.9,1201.8 -52.5,1197.4 -50.0,1193.0 -47.5,1188.7 -44.9,1184.4 -42.3,1180.1 -39.6,1175.8 -37.0,1171.6 -34.2,1167.3 -31.5,1163.1 -28.7,1159.0 -25.9,1154.8 -23.0,1150.7 -20.1,1146.6 -17.2,1142.5 -14.2,1138.4 -11.2,1134.4 -8.1,1130.4 -5.1,1126.4 -2.0,1122.5 1.0,1118.5 4.1,1114.5 7.2,1110.5 10.2,1106.5 13.3,1102.5 16.4,1098.6 19.4,1094.6 22.5,1090.6 25.6,1086.6 28.6,1082.6 31.7,1078.6 34.7,1074.7 37.8,1070.7 41.0,1066.8 44.1,1062.9 47.4,1059.0 50.7,1055.3 54.1,1051.6 57.7,1048.0 61.3,1044.6 65.1,1041.3 69.0,1038.1 73.1,1035.2 77.3,1032.4 81.6,1029.9 86.1,1027.7 90.8,1025.7 95.5,1024.0 100.4,1022.7 105.3,1021.8 110.3,1021.3 115.3,1021.1 120.3,1021.5 125.3,1022.2 130.2,1023.5 134.9,1025.2 139.4,1027.4 143.6,1030.1 147.5,1033.3 151.1,1036.9"/><path d="M-57.0,1230.4 -55.7,1225.6 -54.7,1220.7 -53.9,1215.7 -53.6,1210.7 -53.5,1205.7 -53.8,1200.7 -54.4,1195.7 -55.3,1190.8 -56.6,1185.9 -58.1,1181.2 -60.0,1176.5 -62.2,1172.0 -64.7,1167.6 -67.4,1163.4 -70.5,1159.4 -73.6,1155.5 -76.7,1151.5 -79.8,1147.6 -82.9,1143.6 -86.0,1139.7 -89.1,1135.7 -92.2,1131.8 -95.3,1127.8 -98.4,1123.9 -101.5,1120.0 -104.6,1116.0 -107.7,1112.1 -110.8,1108.1 -113.9,1104.2 -117.0,1100.2 -120.1,1096.3 -123.2,1092.3 -126.3,1088.4 -129.4,1084.4 -132.5,1080.5 -135.6,1076.5 -138.6,1072.5 -141.6,1068.5 -144.5,1064.4 -147.3,1060.3 -150.0,1056.0 -152.6,1051.7 -155.0,1047.3 -157.2,1042.8 -159.2,1038.2 -161.0,1033.5 -162.5,1028.7 -163.6,1023.8 -164.5,1018.9 -165.0,1013.9 -165.2,1008.9 -164.9,1003.9 -164.2,998.9 -163.1,994.0 -161.5,989.2 -159.4,984.7 -156.9,980.3 -154.0,976.3 -150.5,972.6 -146.7,969.3 -142.5,966.6 -138.0,964.4"/><path d="M-55.6,1230.0 -54.2,1225.2 -53.1,1220.2 -52.3,1215.2 -51.8,1210.1 -51.7,1205.1 -51.9,1200.0 -52.4,1195.0 -53.2,1190.0 -54.4,1185.0 -55.8,1180.2 -57.6,1175.4 -59.4,1170.7 -61.2,1165.9 -62.9,1161.2 -64.7,1156.4 -66.5,1151.7 -68.3,1146.9 -70.1,1142.2 -71.8,1137.4 -73.6,1132.7 -75.4,1127.9 -77.2,1123.2 -79.0,1118.4 -80.7,1113.7 -82.5,1108.9 -84.3,1104.2 -86.1,1099.4 -87.9,1094.7 -89.6,1089.9 -91.4,1085.2 -93.2,1080.5 -95.0,1075.7 -96.8,1071.0 -98.5,1066.2 -100.3,1061.5 -102.1,1056.7 -103.9,1052.0 -105.6,1047.2 -107.3,1042.4 -108.9,1037.6 -110.4,1032.8 -111.8,1027.9 -113.0,1023.0 -114.0,1018.0 -114.8,1013.0 -115.3,1007.9 -115.6,1002.9 -115.6,997.8 -115.3,992.7 -114.6,987.7 -113.5,982.8 -112.0,977.9 -110.2,973.2 -107.9,968.7 -105.2,964.4 -102.1,960.4 -98.6,956.7 -94.6,953.5 -90.4,950.8 -85.8,948.5 -81.0,946.9 -76.0,946.0 -71.0,945.7 -65.9,946.1 -61.0,947.3"/><path d="M-57.2,1230.9 -55.5,1226.1 -54.1,1221.3 -52.8,1216.4 -51.7,1211.4 -50.8,1206.5 -50.1,1201.4 -49.7,1196.4 -49.4,1191.4 -49.3,1186.3 -49.5,1181.2 -49.8,1176.2 -50.4,1171.2 -51.0,1166.1 -51.6,1161.1 -52.2,1156.1 -52.8,1151.1 -53.4,1146.0 -54.0,1141.0 -54.6,1136.0 -55.2,1131.0 -55.8,1125.9 -56.4,1120.9 -57.0,1115.9 -57.6,1110.9 -58.2,1105.8 -58.8,1100.8 -59.4,1095.8 -60.0,1090.8 -60.6,1085.7 -61.2,1080.7 -61.8,1075.7 -62.4,1070.7 -63.0,1065.6 -63.6,1060.6 -64.2,1055.6 -64.8,1050.6 -65.3,1045.5 -65.8,1040.5 -66.3,1035.5 -66.6,1030.4 -66.8,1025.4 -66.8,1020.3 -66.6,1015.2 -66.3,1010.2 -65.7,1005.2 -64.8,1000.2 -63.7,995.2 -62.3,990.4 -60.6,985.6 -58.5,981.0 -56.1,976.5 -53.4,972.3 -50.3,968.3 -46.8,964.6 -43.1,961.2 -39.0,958.2 -34.6,955.7 -30.0,953.6 -25.2,952.1 -20.2,951.2 -15.1,950.9 -10.1,951.2 -5.1,952.2"/><path d="M-55.5,1228.4 -53.5,1223.8 -51.5,1219.1 -49.6,1214.4 -47.7,1209.7 -45.9,1205.0 -44.1,1200.3 -42.4,1195.6 -40.7,1190.8 -39.1,1186.0 -37.5,1181.2 -36.0,1176.4 -34.5,1171.6 -33.1,1166.7 -31.7,1161.8 -30.4,1157.0 -29.1,1152.1 -27.9,1147.2 -26.7,1142.3 -25.6,1137.3 -24.5,1132.4 -23.5,1127.4 -22.5,1122.5 -21.6,1117.5 -20.7,1112.5 -19.8,1107.5 -19.0,1102.6 -18.1,1097.6 -17.2,1092.6 -16.3,1087.6 -15.4,1082.7 -14.5,1077.7 -13.7,1072.7 -12.8,1067.7 -11.9,1062.8 -11.0,1057.8 -10.1,1052.8 -9.2,1047.8 -8.2,1042.9 -7.2,1037.9 -6.0,1033.0 -4.7,1028.2 -3.2,1023.3 -1.5,1018.6 0.5,1013.9 2.7,1009.3 5.1,1004.9 7.9,1000.7 11.0,996.7 14.4,992.9 18.0,989.5 22.1,986.4 26.3,983.7 30.9,981.5 35.7,979.9 40.6,978.8 45.6,978.3 50.7,978.5 55.7,979.4 60.5,980.9 65.0,983.2 69.1,986.2 72.6,989.7 75.5,993.9 77.7,998.5"/><path d="M-57.1,1228.6 -55.0,1224.0 -52.9,1219.4 -50.8,1214.8 -48.7,1210.1 -46.7,1205.5 -44.6,1200.9 -42.6,1196.2 -40.6,1191.6 -38.6,1186.9 -36.7,1182.3 -34.7,1177.6 -32.8,1172.9 -30.9,1168.2 -29.0,1163.6 -27.1,1158.9 -25.2,1154.2 -23.3,1149.5 -21.5,1144.7 -19.7,1140.0 -17.9,1135.3 -16.1,1130.6 -14.3,1125.8 -12.5,1121.1 -10.8,1116.3 -9.0,1111.6 -7.3,1106.8 -5.6,1102.1 -3.9,1097.3 -2.1,1092.6 -0.4,1087.8 1.3,1083.1 3.1,1078.3 4.8,1073.5 6.5,1068.8 8.3,1064.0 10.0,1059.3 11.7,1054.5 13.5,1049.8 15.3,1045.1 17.2,1040.4 19.2,1035.7 21.4,1031.1 23.6,1026.6 26.1,1022.2 28.7,1017.9 31.5,1013.7 34.6,1009.6 37.8,1005.8 41.3,1002.1 45.1,998.7 49.1,995.6 53.3,992.8 57.7,990.4 62.4,988.3 67.2,986.7 72.1,985.6 77.1,985.0 82.2,985.0 87.2,985.5 92.1,986.6 96.9,988.3 101.4,990.6 105.5,993.6 109.2,997.0 112.4,1001.0"/><path d="M-55.6,1229.7 -53.3,1225.2 -51.0,1220.8 -48.7,1216.3 -46.3,1211.9 -43.8,1207.6 -41.3,1203.2 -38.7,1198.9 -36.1,1194.6 -33.5,1190.3 -30.8,1186.1 -28.0,1181.9 -25.3,1177.8 -22.4,1173.6 -19.5,1169.5 -16.6,1165.4 -13.7,1161.4 -10.7,1157.3 -7.8,1153.3 -4.8,1149.2 -1.9,1145.1 1.1,1141.1 4.0,1137.0 6.9,1132.9 9.9,1128.9 12.8,1124.8 15.8,1120.7 18.7,1116.7 21.6,1112.6 24.6,1108.6 27.5,1104.5 30.5,1100.4 33.4,1096.4 36.4,1092.3 39.3,1088.2 42.2,1084.2 45.2,1080.1 48.1,1076.1 51.2,1072.1 54.2,1068.1 57.4,1064.2 60.7,1060.4 64.1,1056.8 67.7,1053.3 71.5,1049.9 75.4,1046.8 79.5,1043.9 83.8,1041.4 88.3,1039.1 93.0,1037.2 97.8,1035.8 102.7,1034.8 107.7,1034.3 112.7,1034.3 117.7,1034.9 122.5,1036.1 127.2,1037.8 131.6,1040.2 135.7,1043.2 139.3,1046.7 142.3,1050.7 144.6,1055.2 146.2,1059.9 146.9,1064.9 146.8,1069.9"/><path d="M-43.1,1231.9 -41.8,1227.1 -40.6,1222.2 -39.7,1217.3 -39.1,1212.3 -38.7,1207.3 -38.6,1202.3 -38.7,1197.3 -39.1,1192.3 -39.8,1187.3 -40.7,1182.4 -41.8,1177.5 -43.2,1172.7 -44.8,1168.0 -46.7,1163.3 -48.8,1158.8 -51.2,1154.4 -53.7,1150.1 -56.5,1145.9 -59.5,1141.9 -62.7,1138.0 -65.9,1134.2 -69.2,1130.4 -72.4,1126.6 -75.7,1122.8 -78.9,1118.9 -82.1,1115.1 -85.4,1111.3 -88.6,1107.5 -91.9,1103.7 -95.1,1099.9 -98.4,1096.1 -101.6,1092.2 -104.9,1088.4 -108.1,1084.6 -111.4,1080.8 -114.6,1077.0 -117.8,1073.1 -121.0,1069.3 -124.1,1065.3 -127.1,1061.3 -130.1,1057.3 -132.9,1053.2 -135.6,1049.0 -138.2,1044.7 -140.6,1040.3 -142.9,1035.8 -144.9,1031.2 -146.8,1026.6 -148.3,1021.8 -149.7,1017.0 -150.7,1012.1 -151.4,1007.1 -151.8,1002.2 -151.9,997.1 -151.6,992.2 -150.8,987.2 -149.7,982.3 -148.2,977.5 -146.3,972.9 -144.0,968.5 -141.2,964.3 -138.0,960.4"/><path d="M-42.5,1230.8 -40.9,1226.0 -39.4,1221.1 -38.2,1216.2 -37.1,1211.3 -36.1,1206.3 -35.4,1201.3 -34.8,1196.3 -34.3,1191.3 -34.1,1186.2 -34.0,1181.1 -34.1,1176.1 -34.4,1171.0 -34.8,1166.0 -35.4,1161.0 -36.2,1156.0 -37.1,1151.0 -38.2,1146.1 -39.5,1141.2 -41.0,1136.4 -42.6,1131.6 -44.3,1126.8 -46.0,1122.0 -47.7,1117.3 -49.4,1112.5 -51.1,1107.8 -52.8,1103.0 -54.5,1098.2 -56.2,1093.5 -57.9,1088.7 -59.6,1084.0 -61.3,1079.2 -63.0,1074.4 -64.7,1069.7 -66.4,1064.9 -68.1,1060.2 -69.8,1055.4 -71.5,1050.6 -73.1,1045.8 -74.5,1041.0 -75.9,1036.1 -77.0,1031.2 -78.0,1026.2 -78.7,1021.2 -79.2,1016.2 -79.3,1011.1 -79.1,1006.1 -78.5,1001.0 -77.6,996.1 -76.2,991.2 -74.3,986.5 -72.0,982.0 -69.3,977.8 -66.0,973.9 -62.4,970.4 -58.3,967.4 -53.8,965.0 -49.1,963.2 -44.2,962.1 -39.1,961.8 -34.1,962.3 -29.2,963.6 -24.6,965.7 -20.5,968.6"/><path d="M-40.8,1229.4 -39.0,1224.7 -37.4,1220.0 -35.8,1215.2 -34.4,1210.3 -33.1,1205.5 -31.8,1200.6 -30.7,1195.7 -29.7,1190.8 -28.7,1185.8 -27.9,1180.9 -27.2,1175.9 -26.6,1170.9 -26.1,1165.9 -25.7,1160.9 -25.4,1155.8 -25.2,1150.8 -25.1,1145.8 -25.2,1140.7 -25.3,1135.7 -25.5,1130.7 -25.9,1125.7 -26.3,1120.6 -26.9,1115.6 -27.6,1110.7 -28.3,1105.7 -29.1,1100.7 -29.9,1095.7 -30.7,1090.8 -31.5,1085.8 -32.3,1080.8 -33.1,1075.9 -33.8,1070.9 -34.6,1065.9 -35.4,1060.9 -36.2,1056.0 -37.0,1051.0 -37.7,1046.0 -38.4,1041.0 -38.9,1036.0 -39.3,1031.0 -39.6,1026.0 -39.7,1020.9 -39.5,1015.9 -39.1,1010.9 -38.4,1005.9 -37.4,1001.0 -36.0,996.1 -34.3,991.4 -32.2,986.8 -29.7,982.5 -26.8,978.4 -23.5,974.5 -19.8,971.1 -15.7,968.1 -11.4,965.6 -6.7,963.7 -1.9,962.4 3.1,961.7 8.2,961.8 13.1,962.7 17.9,964.3 22.4,966.6 26.4,969.7"/><path d="M-43.1,1230.2 -41.3,1225.6 -39.5,1220.9 -37.8,1216.2 -36.1,1211.5 -34.5,1206.8 -33.0,1202.0 -31.5,1197.2 -30.1,1192.4 -28.7,1187.6 -27.4,1182.8 -26.2,1177.9 -25.0,1173.1 -23.9,1168.2 -22.8,1163.3 -21.8,1158.4 -20.9,1153.5 -20.0,1148.6 -19.2,1143.6 -18.4,1138.7 -17.7,1133.7 -17.1,1128.8 -16.5,1123.8 -16.0,1118.8 -15.5,1113.9 -15.1,1108.9 -14.6,1103.9 -14.1,1098.9 -13.6,1093.9 -13.1,1089.0 -12.6,1084.0 -12.1,1079.0 -11.6,1074.0 -11.1,1069.1 -10.6,1064.1 -10.1,1059.1 -9.6,1054.1 -9.0,1049.2 -8.3,1044.2 -7.5,1039.3 -6.6,1034.4 -5.4,1029.5 -4.0,1024.7 -2.4,1020.0 -0.5,1015.3 1.6,1010.8 4.1,1006.5 6.9,1002.3 10.1,998.5 13.6,994.9 17.4,991.6 21.5,988.8 26.0,986.5 30.6,984.7 35.5,983.4 40.4,982.8 45.4,982.9 50.4,983.7 55.1,985.2 59.6,987.4 63.7,990.3 67.2,993.9 70.0,998.0"/><path d="M-42.0,1231.2 -40.1,1226.5 -38.2,1221.9 -36.4,1217.2 -34.5,1212.6 -32.8,1207.9 -31.0,1203.2 -29.3,1198.5 -27.6,1193.8 -26.0,1189.1 -24.4,1184.3 -22.8,1179.6 -21.2,1174.8 -19.7,1170.1 -18.2,1165.3 -16.6,1160.5 -15.1,1155.8 -13.5,1151.0 -12.0,1146.2 -10.5,1141.5 -8.9,1136.7 -7.4,1131.9 -5.9,1127.2 -4.3,1122.4 -2.8,1117.7 -1.3,1112.9 0.3,1108.1 1.8,1103.4 3.3,1098.6 4.9,1093.8 6.4,1089.1 7.9,1084.3 9.5,1079.6 11.0,1074.8 12.6,1070.0 14.1,1065.3 15.7,1060.5 17.3,1055.8 19.0,1051.1 20.8,1046.4 22.8,1041.8 24.9,1037.3 27.3,1032.9 29.9,1028.6 32.7,1024.4 35.7,1020.5 39.1,1016.8 42.7,1013.3 46.6,1010.1 50.7,1007.3 55.1,1005.0 59.7,1003.0 64.5,1001.6 69.5,1000.8 74.5,1000.5 79.5,1000.9 84.4,1002.0 89.0,1003.7 93.4,1006.1 97.4,1009.2 100.8,1012.8 103.6,1017.0 105.6,1021.6"/><path d="M-42.5,1231.8 -40.3,1227.2 -38.2,1222.7 -36.0,1218.1 -33.7,1213.6 -31.4,1209.1 -29.0,1204.6 -26.6,1200.1 -24.2,1195.7 -21.7,1191.3 -19.1,1186.9 -16.5,1182.6 -13.9,1178.2 -11.2,1173.9 -8.5,1169.7 -5.7,1165.4 -2.9,1161.2 -0.0,1157.0 2.9,1152.9 5.8,1148.8 8.7,1144.6 11.6,1140.5 14.6,1136.4 17.5,1132.2 20.4,1128.1 23.3,1124.0 26.3,1119.8 29.2,1115.7 32.1,1111.6 35.0,1107.4 38.0,1103.3 40.9,1099.2 43.8,1095.0 46.7,1090.9 49.7,1086.8 52.6,1082.6 55.5,1078.5 58.5,1074.4 61.5,1070.4 64.6,1066.3 67.8,1062.4 71.1,1058.5 74.5,1054.8 78.0,1051.1 81.6,1047.6 85.4,1044.2 89.3,1041.1 93.4,1038.1 97.7,1035.3 102.1,1032.8 106.6,1030.6 111.3,1028.7 116.2,1027.1 121.1,1025.9 126.1,1025.1 131.1,1024.8 136.2,1024.8 141.2,1025.4 146.2,1026.4 151.0,1027.9 155.7,1029.9 160.1,1032.4 164.1,1035.4"/><path d="M-26.9,1231.2 -25.3,1226.4 -24.0,1221.5 -22.9,1216.5 -21.9,1211.5 -21.1,1206.5 -20.5,1201.5 -20.1,1196.4 -19.9,1191.4 -19.9,1186.3 -20.1,1181.2 -20.4,1176.1 -21.0,1171.1 -21.7,1166.1 -22.7,1161.1 -23.8,1156.1 -25.1,1151.2 -26.6,1146.4 -28.2,1141.6 -30.1,1136.9 -32.1,1132.2 -34.3,1127.6 -36.7,1123.1 -39.2,1118.7 -41.9,1114.4 -44.7,1110.2 -47.5,1106.0 -50.3,1101.8 -53.1,1097.5 -56.0,1093.3 -58.8,1089.1 -61.6,1084.9 -64.4,1080.6 -67.2,1076.4 -70.0,1072.2 -72.8,1068.0 -75.7,1063.7 -78.4,1059.5 -81.2,1055.2 -83.9,1050.9 -86.5,1046.6 -89.1,1042.2 -91.5,1037.7 -93.7,1033.2 -95.8,1028.5 -97.7,1023.8 -99.3,1019.0 -100.7,1014.1 -101.9,1009.2 -102.7,1004.2 -103.2,999.1 -103.3,994.1 -103.0,989.0 -102.4,984.0 -101.3,979.0 -99.8,974.2 -97.8,969.5 -95.3,965.0 -92.4,960.9 -89.1,957.0 -85.3,953.6 -81.2,950.7 -76.8,948.2 -72.0,946.4 -67.1,945.2"/><path d="M-26.6,1230.7 -25.1,1226.0 -23.7,1221.1 -22.5,1216.3 -21.4,1211.4 -20.5,1206.4 -19.8,1201.4 -19.2,1196.5 -18.8,1191.4 -18.5,1186.4 -18.5,1181.4 -18.6,1176.4 -18.8,1171.4 -19.2,1166.4 -19.8,1161.4 -20.6,1156.4 -21.5,1151.5 -22.6,1146.6 -23.8,1141.7 -25.3,1136.9 -26.8,1132.1 -28.6,1127.4 -30.4,1122.7 -32.5,1118.1 -34.5,1113.6 -36.5,1109.0 -38.5,1104.4 -40.5,1099.8 -42.6,1095.2 -44.6,1090.6 -46.6,1086.0 -48.6,1081.4 -50.6,1076.8 -52.7,1072.2 -54.7,1067.6 -56.7,1063.0 -58.7,1058.4 -60.6,1053.7 -62.5,1049.1 -64.3,1044.4 -65.9,1039.6 -67.4,1034.8 -68.7,1030.0 -69.9,1025.1 -70.7,1020.1 -71.3,1015.2 -71.6,1010.1 -71.6,1005.1 -71.2,1000.1 -70.5,995.2 -69.3,990.3 -67.7,985.5 -65.7,980.9 -63.3,976.5 -60.4,972.4 -57.1,968.6 -53.4,965.2 -49.3,962.3 -44.8,960.0 -40.1,958.2 -35.2,957.1 -30.2,956.6 -25.2,956.9"/><path d="M-26.6,1231.0 -25.0,1226.2 -23.5,1221.3 -22.2,1216.5 -21.0,1211.6 -19.9,1206.6 -19.0,1201.6 -18.3,1196.6 -17.6,1191.6 -17.2,1186.6 -16.8,1181.5 -16.7,1176.5 -16.6,1171.4 -16.7,1166.4 -17.0,1161.3 -17.4,1156.3 -17.9,1151.3 -18.4,1146.2 -18.8,1141.2 -19.3,1136.2 -19.8,1131.1 -20.3,1126.1 -20.8,1121.1 -21.2,1116.0 -21.7,1111.0 -22.2,1106.0 -22.7,1100.9 -23.2,1095.9 -23.6,1090.9 -24.1,1085.8 -24.6,1080.8 -25.1,1075.8 -25.6,1070.7 -26.0,1065.7 -26.5,1060.7 -27.0,1055.7 -27.5,1050.6 -27.9,1045.6 -28.3,1040.5 -28.7,1035.5 -28.9,1030.5 -29.0,1025.4 -28.9,1020.3 -28.6,1015.3 -28.2,1010.3 -27.4,1005.3 -26.5,1000.3 -25.2,995.4 -23.6,990.6 -21.7,985.9 -19.4,981.4 -16.8,977.1 -13.8,973.0 -10.4,969.2 -6.7,965.8 -2.7,962.8 1.7,960.2 6.3,958.1 11.1,956.6 16.1,955.7 21.2,955.5 26.2,956.0 31.1,957.1 35.8,959.0 40.2,961.6"/><path d="M-26.8,1232.5 -25.1,1227.7 -23.6,1222.9 -22.2,1218.0 -20.9,1213.1 -19.8,1208.2 -18.8,1203.2 -17.9,1198.2 -17.2,1193.2 -16.5,1188.2 -16.1,1183.1 -15.6,1178.1 -15.2,1173.0 -14.8,1168.0 -14.4,1162.9 -13.9,1157.9 -13.5,1152.8 -13.1,1147.8 -12.6,1142.8 -12.2,1137.7 -11.8,1132.7 -11.4,1127.6 -10.9,1122.6 -10.5,1117.5 -10.1,1112.5 -9.6,1107.4 -9.2,1102.4 -8.8,1097.3 -8.4,1092.3 -7.9,1087.2 -7.5,1082.2 -7.1,1077.1 -6.7,1072.1 -6.2,1067.0 -5.8,1062.0 -5.4,1056.9 -5.0,1051.9 -4.6,1046.8 -4.2,1041.8 -4.0,1036.7 -3.8,1031.7 -3.7,1026.6 -3.7,1021.5 -3.8,1016.5 -4.1,1011.4 -4.5,1006.4 -5.1,1001.3 -5.9,996.3 -6.8,991.4 -8.0,986.4 -9.4,981.6 -11.1,976.8 -13.0,972.1 -15.2,967.5 -17.6,963.1 -20.3,958.8 -23.3,954.7 -26.5,950.8 -30.1,947.2 -33.8,943.8 -37.9,940.7 -42.1,938.0 -46.6,935.6"/><path d="M-27.5,1230.9 -25.6,1226.2 -23.7,1221.6 -21.8,1216.9 -19.9,1212.3 -18.1,1207.6 -16.2,1202.9 -14.4,1198.2 -12.5,1193.5 -10.7,1188.8 -8.9,1184.2 -7.1,1179.5 -5.3,1174.7 -3.5,1170.0 -1.8,1165.3 -0.0,1160.6 1.7,1155.9 3.5,1151.2 5.2,1146.4 6.9,1141.7 8.6,1137.0 10.3,1132.2 11.9,1127.5 13.6,1122.7 15.3,1118.0 16.9,1113.2 18.5,1108.4 20.1,1103.7 21.8,1098.9 23.4,1094.2 25.0,1089.4 26.7,1084.6 28.3,1079.9 29.9,1075.1 31.6,1070.4 33.2,1065.6 34.8,1060.8 36.5,1056.1 38.2,1051.3 39.9,1046.6 41.8,1042.0 43.8,1037.3 45.9,1032.8 48.2,1028.3 50.7,1023.9 53.4,1019.6 56.3,1015.5 59.4,1011.6 62.8,1007.9 66.4,1004.4 70.3,1001.2 74.4,998.3 78.7,995.7 83.3,993.6 88.0,991.9 92.9,990.7 97.9,990.0 102.9,989.9 107.9,990.4 112.9,991.5 117.6,993.2 122.1,995.5 126.2,998.4 129.8,1001.9 132.9,1005.8"/><path d="M-28.9,1230.2 -26.8,1225.6 -24.7,1221.0 -22.4,1216.4 -20.1,1211.9 -17.8,1207.4 -15.4,1203.0 -12.9,1198.5 -10.4,1194.1 -7.8,1189.8 -5.1,1185.5 -2.4,1181.2 0.4,1176.9 3.2,1172.7 6.1,1168.6 9.0,1164.4 12.0,1160.3 14.9,1156.2 17.9,1152.1 20.9,1148.0 23.8,1143.9 26.8,1139.8 29.8,1135.7 32.8,1131.6 35.7,1127.5 38.7,1123.4 41.7,1119.3 44.6,1115.1 47.6,1111.0 50.6,1106.9 53.6,1102.8 56.5,1098.7 59.5,1094.6 62.5,1090.5 65.4,1086.4 68.4,1082.3 71.4,1078.2 74.4,1074.1 77.5,1070.1 80.6,1066.1 83.9,1062.2 87.2,1058.4 90.7,1054.7 94.3,1051.2 98.1,1047.9 102.1,1044.7 106.3,1041.8 110.6,1039.2 115.1,1036.9 119.8,1034.9 124.6,1033.3 129.5,1032.2 134.6,1031.5 139.6,1031.3 144.7,1031.6 149.7,1032.5 154.5,1033.9 159.2,1036.0 163.5,1038.6 167.5,1041.7 171.0,1045.4 173.9,1049.5 176.2,1054.0 177.8,1058.9"/><path d="M-15.4,1231.7 -14.0,1226.9 -13.0,1221.9 -12.3,1216.9 -12.0,1211.9 -12.0,1206.8 -12.3,1201.8 -13.1,1196.8 -14.2,1191.9 -15.6,1187.0 -17.4,1182.3 -19.5,1177.7 -21.9,1173.3 -24.6,1169.0 -27.2,1164.7 -29.9,1160.4 -32.6,1156.1 -35.3,1151.9 -38.0,1147.6 -40.6,1143.3 -43.3,1139.0 -46.0,1134.7 -48.7,1130.5 -51.4,1126.2 -54.0,1121.9 -56.7,1117.6 -59.4,1113.3 -62.1,1109.0 -64.8,1104.8 -67.4,1100.5 -70.1,1096.2 -72.8,1091.9 -75.5,1087.6 -78.2,1083.4 -80.8,1079.1 -83.5,1074.8 -86.2,1070.5 -88.9,1066.2 -91.6,1062.0 -94.3,1057.7 -97.1,1053.5 -99.9,1049.3 -102.8,1045.2 -105.8,1041.1 -108.9,1037.1 -112.1,1033.2 -115.4,1029.4 -118.8,1025.6 -122.3,1022.1 -126.0,1018.6 -129.9,1015.3 -133.9,1012.2 -138.0,1009.3 -142.3,1006.6 -146.7,1004.2 -151.2,1002.0 -155.9,1000.1 -160.7,998.5 -165.6,997.2 -170.5,996.3 -175.6,995.7 -180.6,995.6 -185.7,995.8 -190.7,996.5 -195.6,997.6 -200.4,999.2"/><path d="M-13.7,1231.5 -12.0,1226.7 -10.4,1221.9 -9.0,1217.1 -7.7,1212.2 -6.7,1207.2 -5.9,1202.2 -5.3,1197.2 -4.8,1192.1 -4.6,1187.1 -4.6,1182.0 -4.7,1177.0 -5.1,1171.9 -5.6,1166.9 -6.4,1161.9 -7.3,1156.9 -8.5,1152.0 -9.8,1147.1 -11.3,1142.3 -13.0,1137.5 -14.9,1132.8 -16.9,1128.2 -18.9,1123.5 -20.8,1118.8 -22.8,1114.2 -24.8,1109.5 -26.8,1104.9 -28.7,1100.2 -30.7,1095.5 -32.7,1090.9 -34.7,1086.2 -36.7,1081.6 -38.6,1076.9 -40.6,1072.2 -42.6,1067.6 -44.6,1062.9 -46.5,1058.3 -48.4,1053.6 -50.3,1048.9 -52.1,1044.2 -53.8,1039.4 -55.5,1034.6 -56.9,1029.8 -58.3,1024.9 -59.5,1020.0 -60.5,1015.0 -61.3,1010.0 -61.9,1005.0 -62.2,999.9 -62.3,994.9 -62.1,989.8 -61.6,984.8 -60.7,979.8 -59.6,974.9 -58.1,970.0 -56.2,965.3 -54.0,960.8 -51.4,956.4 -48.5,952.3 -45.2,948.4 -41.6,944.9 -37.6,941.8 -33.4,939.0"/><path d="M-13.9,1233.4 -11.9,1228.8 -10.1,1224.1 -8.4,1219.4 -6.8,1214.7 -5.2,1209.9 -3.8,1205.1 -2.6,1200.3 -1.4,1195.4 -0.3,1190.5 0.6,1185.6 1.5,1180.7 2.2,1175.7 2.8,1170.7 3.3,1165.8 3.7,1160.8 4.0,1155.8 4.1,1150.8 4.2,1145.8 4.1,1140.8 3.9,1135.8 3.7,1130.8 3.5,1125.7 3.2,1120.7 3.0,1115.7 2.8,1110.7 2.6,1105.7 2.3,1100.7 2.1,1095.7 1.9,1090.7 1.7,1085.7 1.4,1080.7 1.2,1075.7 1.0,1070.7 0.8,1065.7 0.5,1060.7 0.3,1055.7 0.2,1050.7 0.2,1045.7 0.3,1040.7 0.6,1035.7 1.1,1030.7 1.8,1025.8 2.8,1020.9 4.1,1016.0 5.7,1011.3 7.7,1006.7 10.1,1002.3 12.8,998.1 15.9,994.2 19.5,990.6 23.3,987.5 27.6,984.8 32.1,982.7 36.9,981.2 41.8,980.3 46.8,980.2 51.8,980.8 56.6,982.3 61.1,984.5 65.1,987.4 68.6,991.0 71.3,995.2"/><path d="M-15.4,1233.4 -13.3,1228.8 -11.2,1224.2 -9.2,1219.6 -7.2,1215.0 -5.3,1210.3 -3.5,1205.6 -1.6,1200.9 0.1,1196.2 1.9,1191.5 3.5,1186.7 5.2,1182.0 6.8,1177.2 8.3,1172.4 9.8,1167.6 11.2,1162.8 12.6,1157.9 14.0,1153.1 15.3,1148.2 16.5,1143.3 17.7,1138.5 18.9,1133.6 20.0,1128.6 21.0,1123.7 22.0,1118.8 23.0,1113.8 23.9,1108.9 24.8,1103.9 25.7,1099.0 26.6,1094.0 27.6,1089.1 28.5,1084.1 29.4,1079.2 30.3,1074.2 31.2,1069.3 32.2,1064.3 33.1,1059.4 34.0,1054.4 35.0,1049.5 36.1,1044.6 37.2,1039.7 38.5,1034.8 39.9,1030.0 41.6,1025.2 43.4,1020.5 45.4,1015.9 47.6,1011.4 50.1,1007.0 52.9,1002.8 56.0,998.8 59.3,995.1 63.0,991.6 66.9,988.4 71.0,985.6 75.5,983.2 80.1,981.2 84.9,979.8 89.9,978.8 94.9,978.5 99.9,978.7 104.9,979.6 109.7,981.2 114.2,983.3 118.4,986.1 122.1,989.5"/><path d="M-14.5,1231.3 -12.3,1226.8 -10.1,1222.3 -7.9,1217.7 -5.7,1213.2 -3.6,1208.7 -1.4,1204.1 0.8,1199.6 3.0,1195.1 5.2,1190.5 7.3,1186.0 9.5,1181.5 11.7,1176.9 13.8,1172.4 16.0,1167.8 18.2,1163.3 20.3,1158.7 22.5,1154.2 24.6,1149.6 26.7,1145.1 28.9,1140.5 31.0,1136.0 33.1,1131.4 35.3,1126.8 37.4,1122.3 39.6,1117.7 41.7,1113.2 43.8,1108.6 46.0,1104.1 48.1,1099.5 50.2,1095.0 52.4,1090.4 54.5,1085.8 56.7,1081.3 58.8,1076.7 60.9,1072.2 63.1,1067.6 65.2,1063.1 67.3,1058.5 69.4,1053.9 71.5,1049.3 73.5,1044.7 75.4,1040.1 77.3,1035.4 79.1,1030.7 80.7,1026.0 82.3,1021.2 83.7,1016.4 85.0,1011.5 86.2,1006.6 87.2,1001.7 88.0,996.7 88.6,991.7 89.0,986.7 89.1,981.6 89.1,976.6 88.7,971.6 88.2,966.6 87.3,961.6 86.2,956.7 84.7,951.9 83.0,947.2 81.0,942.6 78.7,938.1 76.0,933.8 73.1,929.7"/><path d="M-13.1,1231.4 -10.8,1226.9 -8.5,1222.5 -6.1,1218.0 -3.7,1213.6 -1.3,1209.2 1.1,1204.9 3.6,1200.5 6.1,1196.2 8.7,1191.9 11.3,1187.6 13.9,1183.3 16.6,1179.0 19.2,1174.8 21.9,1170.6 24.7,1166.4 27.5,1162.2 30.3,1158.0 33.1,1153.9 36.0,1149.8 38.9,1145.7 41.8,1141.6 44.8,1137.6 47.7,1133.5 50.7,1129.5 53.7,1125.5 56.7,1121.4 59.6,1117.4 62.6,1113.3 65.6,1109.3 68.5,1105.3 71.5,1101.2 74.5,1097.2 77.4,1093.1 80.4,1089.1 83.4,1085.1 86.3,1081.0 89.3,1077.0 92.3,1073.0 95.4,1069.0 98.5,1065.1 101.8,1061.2 105.1,1057.5 108.6,1053.9 112.3,1050.5 116.1,1047.2 120.1,1044.2 124.3,1041.4 128.6,1039.0 133.2,1036.8 137.8,1035.0 142.7,1033.7 147.6,1032.8 152.6,1032.3 157.6,1032.4 162.6,1033.1 167.4,1034.3 172.1,1036.2 176.5,1038.6 180.5,1041.5 184.1,1045.1 187.1,1049.1 189.5,1053.5 191.1,1058.2 192.0,1063.2 192.0,1068.2"/><path d="M0.7,1234.6 2.5,1229.9 4.1,1225.1 5.6,1220.3 6.8,1215.5 7.9,1210.6 8.8,1205.6 9.4,1200.6 9.9,1195.6 10.2,1190.6 10.2,1185.6 10.1,1180.6 9.8,1175.6 9.2,1170.6 8.5,1165.6 7.6,1160.7 6.4,1155.8 5.1,1150.9 3.6,1146.1 1.9,1141.4 0.0,1136.8 -2.1,1132.2 -4.3,1127.7 -6.8,1123.3 -9.4,1119.0 -12.1,1114.8 -14.7,1110.5 -17.4,1106.3 -20.1,1102.0 -22.8,1097.8 -25.5,1093.6 -28.2,1089.3 -30.9,1085.1 -33.6,1080.8 -36.2,1076.6 -38.9,1072.3 -41.6,1068.1 -44.3,1063.8 -47.0,1059.6 -49.6,1055.3 -52.1,1051.0 -54.6,1046.6 -57.0,1042.2 -59.2,1037.7 -61.4,1033.1 -63.3,1028.5 -65.1,1023.8 -66.6,1019.0 -67.9,1014.2 -69.0,1009.3 -69.8,1004.3 -70.3,999.3 -70.4,994.3 -70.2,989.3 -69.6,984.3 -68.6,979.4 -67.2,974.5 -65.4,969.8 -63.2,965.3 -60.5,961.1 -57.5,957.1 -54.0,953.5 -50.1,950.2 -46.0,947.5 -41.5,945.2 -36.7,943.5"/><path d="M-0.9,1233.7 1.1,1229.0 2.9,1224.3 4.6,1219.5 6.2,1214.7 7.6,1209.9 8.8,1205.0 10.0,1200.0 10.9,1195.1 11.8,1190.1 12.5,1185.1 13.0,1180.1 13.4,1175.0 13.6,1170.0 13.7,1164.9 13.7,1159.9 13.5,1154.8 13.1,1149.8 12.6,1144.8 12.0,1139.8 11.2,1134.8 10.2,1129.8 9.2,1124.9 7.9,1120.0 6.6,1115.1 5.1,1110.3 3.5,1105.5 2.0,1100.7 0.4,1095.9 -1.1,1091.1 -2.7,1086.2 -4.2,1081.4 -5.8,1076.6 -7.3,1071.8 -8.9,1067.0 -10.4,1062.2 -12.0,1057.4 -13.5,1052.6 -15.2,1047.8 -16.8,1043.0 -18.5,1038.3 -20.3,1033.5 -22.1,1028.8 -24.0,1024.1 -26.0,1019.5 -28.1,1014.9 -30.3,1010.3 -32.6,1005.9 -35.0,1001.4 -37.6,997.1 -40.3,992.8 -43.1,988.6 -46.1,984.6 -49.2,980.6 -52.5,976.8 -56.0,973.1 -59.6,969.6 -63.4,966.2 -67.3,963.0 -71.4,960.1 -75.7,957.3 -80.1,954.8 -84.6,952.6"/><path d="M0.5,1232.3 2.4,1227.6 4.2,1222.9 5.8,1218.1 7.2,1213.3 8.5,1208.4 9.7,1203.5 10.7,1198.6 11.5,1193.6 12.2,1188.6 12.7,1183.6 13.0,1178.5 13.2,1173.5 13.2,1168.5 13.0,1163.4 12.7,1158.4 12.3,1153.4 12.0,1148.3 11.6,1143.3 11.3,1138.3 10.9,1133.3 10.6,1128.2 10.2,1123.2 9.8,1118.2 9.5,1113.1 9.1,1108.1 8.8,1103.1 8.4,1098.1 8.1,1093.0 7.7,1088.0 7.3,1083.0 7.0,1077.9 6.6,1072.9 6.3,1067.9 5.9,1062.9 5.6,1057.8 5.2,1052.8 4.9,1047.8 4.6,1042.7 4.5,1037.7 4.4,1032.7 4.5,1027.6 4.7,1022.6 5.2,1017.6 5.8,1012.6 6.7,1007.6 7.8,1002.7 9.2,997.8 10.9,993.1 13.0,988.5 15.3,984.0 18.0,979.8 21.1,975.8 24.4,972.0 28.2,968.6 32.2,965.6 36.5,963.0 41.1,960.9 45.9,959.3 50.8,958.3 55.8,957.9 60.9,958.1 65.8,959.0 70.6,960.6"/><path d="M-0.4,1233.1 1.7,1228.5 3.7,1223.9 5.6,1219.2 7.4,1214.5 9.2,1209.7 10.8,1205.0 12.3,1200.2 13.8,1195.3 15.1,1190.5 16.4,1185.6 17.6,1180.7 18.7,1175.8 19.7,1170.8 20.6,1165.9 21.4,1160.9 22.1,1155.9 22.7,1150.9 23.2,1145.9 23.7,1140.9 24.2,1135.8 24.7,1130.8 25.3,1125.8 25.8,1120.8 26.3,1115.8 26.8,1110.8 27.3,1105.7 27.8,1100.7 28.3,1095.7 28.8,1090.7 29.4,1085.7 29.9,1080.6 30.4,1075.6 30.9,1070.6 31.4,1065.6 31.9,1060.6 32.5,1055.6 33.1,1050.6 33.8,1045.6 34.6,1040.6 35.6,1035.6 36.8,1030.7 38.2,1025.9 39.8,1021.1 41.8,1016.5 44.0,1011.9 46.5,1007.6 49.4,1003.4 52.6,999.6 56.2,996.0 60.1,992.8 64.3,990.0 68.7,987.7 73.5,985.9 78.4,984.8 83.4,984.2 88.4,984.4 93.4,985.3 98.2,986.9 102.6,989.3 106.6,992.3 110.1,996.0 112.8,1000.3"/><path d="M-0.1,1232.2 2.2,1227.7 4.4,1223.1 6.7,1218.6 9.0,1214.1 11.2,1209.5 13.4,1205.0 15.7,1200.4 17.9,1195.9 20.1,1191.3 22.3,1186.7 24.5,1182.2 26.7,1177.6 28.8,1173.0 31.0,1168.4 33.2,1163.8 35.3,1159.2 37.4,1154.6 39.6,1150.0 41.7,1145.4 43.8,1140.8 45.9,1136.2 48.0,1131.6 50.1,1127.0 52.1,1122.4 54.2,1117.7 56.3,1113.1 58.4,1108.5 60.5,1103.9 62.6,1099.3 64.7,1094.6 66.8,1090.0 68.9,1085.4 71.0,1080.8 73.0,1076.2 75.1,1071.6 77.3,1066.9 79.4,1062.4 81.6,1057.8 83.9,1053.3 86.3,1048.8 88.9,1044.4 91.5,1040.1 94.4,1035.9 97.4,1031.8 100.6,1027.9 104.0,1024.1 107.6,1020.6 111.4,1017.3 115.4,1014.2 119.7,1011.4 124.1,1009.0 128.7,1006.9 133.5,1005.2 138.4,1003.9 143.4,1003.2 148.5,1002.9 153.6,1003.2 158.6,1004.0 163.5,1005.3 168.1,1007.3 172.5,1009.8 176.6,1012.8"/><path d="M0.8,1232.4 3.2,1228.0 5.8,1223.6 8.4,1219.3 11.0,1215.1 13.8,1210.8 16.6,1206.7 19.4,1202.5 22.3,1198.4 25.3,1194.4 28.4,1190.4 31.5,1186.5 34.6,1182.5 37.7,1178.6 40.8,1174.6 43.9,1170.6 47.0,1166.7 50.1,1162.7 53.2,1158.8 56.3,1154.8 59.4,1150.9 62.5,1146.9 65.6,1143.0 68.7,1139.0 71.8,1135.1 74.9,1131.1 78.0,1127.2 81.1,1123.2 84.2,1119.3 87.3,1115.3 90.4,1111.3 93.5,1107.4 96.6,1103.4 99.7,1099.5 102.8,1095.5 105.9,1091.6 109.0,1087.6 112.1,1083.7 115.3,1079.8 118.4,1075.9 121.7,1072.0 125.0,1068.2 128.3,1064.5 131.8,1060.9 135.4,1057.3 139.1,1053.9 142.9,1050.6 146.8,1047.5 150.9,1044.5 155.0,1041.8 159.4,1039.2 163.8,1036.9 168.4,1034.8 173.1,1033.0 177.9,1031.6 182.8,1030.4 187.8,1029.6 192.8,1029.2 197.8,1029.2 202.8,1029.6 207.8,1030.4 212.6,1031.7 217.3,1033.4 221.9,1035.6 226.2,1038.2"/><path d="M14.6,1233.2 15.9,1228.4 17.0,1223.4 17.9,1218.4 18.5,1213.4 19.0,1208.4 19.2,1203.3 19.2,1198.3 19.0,1193.2 18.5,1188.2 17.9,1183.2 17.0,1178.2 15.9,1173.2 14.6,1168.3 13.1,1163.5 11.4,1158.8 9.4,1154.1 7.3,1149.5 5.0,1145.0 2.5,1140.6 -0.3,1136.3 -3.1,1132.2 -6.1,1128.1 -9.0,1124.0 -12.0,1119.9 -15.0,1115.8 -17.9,1111.7 -20.9,1107.5 -23.8,1103.4 -26.8,1099.3 -29.7,1095.2 -32.7,1091.1 -35.6,1087.0 -38.6,1082.9 -41.5,1078.8 -44.5,1074.7 -47.4,1070.6 -50.3,1066.4 -53.2,1062.3 -56.0,1058.1 -58.7,1053.8 -61.3,1049.5 -63.8,1045.0 -66.1,1040.6 -68.3,1036.0 -70.2,1031.3 -71.9,1026.5 -73.3,1021.7 -74.5,1016.7 -75.3,1011.8 -75.8,1006.7 -75.9,1001.7 -75.6,996.6 -74.9,991.6 -73.8,986.7 -72.2,981.9 -70.2,977.2 -67.7,972.8 -64.7,968.7 -61.3,965.0 -57.5,961.7 -53.3,958.8 -48.8,956.5 -44.0,954.8"/><path d="M13.6,1233.1 14.9,1228.3 16.0,1223.4 16.8,1218.5 17.5,1213.5 17.9,1208.5 18.1,1203.5 18.1,1198.5 17.9,1193.5 17.5,1188.5 16.8,1183.6 16.0,1178.6 14.9,1173.7 13.6,1168.9 12.1,1164.1 10.4,1159.4 8.5,1154.8 6.4,1150.2 4.1,1145.7 1.9,1141.3 -0.4,1136.8 -2.6,1132.3 -4.9,1127.9 -7.1,1123.4 -9.4,1118.9 -11.7,1114.5 -13.9,1110.0 -16.2,1105.5 -18.4,1101.0 -20.7,1096.6 -23.0,1092.1 -25.2,1087.6 -27.5,1083.2 -29.7,1078.7 -32.0,1074.2 -34.2,1069.8 -36.5,1065.3 -38.8,1060.8 -41.0,1056.3 -43.1,1051.8 -45.2,1047.3 -47.2,1042.7 -49.0,1038.0 -50.7,1033.3 -52.2,1028.5 -53.5,1023.7 -54.5,1018.8 -55.3,1013.8 -55.8,1008.8 -55.9,1003.8 -55.6,998.8 -55.0,993.8 -54.0,988.9 -52.5,984.2 -50.6,979.5 -48.2,975.1 -45.4,971.0 -42.1,967.2 -38.4,963.8 -34.4,960.9 -30.0,958.5 -25.3,956.7 -20.4,955.6 -15.4,955.1 -10.4,955.5 -5.5,956.6"/><path d="M14.1,1235.2 15.6,1230.4 17.1,1225.6 18.4,1220.8 19.6,1216.0 20.7,1211.1 21.7,1206.2 22.6,1201.3 23.3,1196.3 24.0,1191.4 24.5,1186.4 25.0,1181.4 25.3,1176.4 25.5,1171.4 25.6,1166.4 25.6,1161.4 25.5,1156.4 25.2,1151.4 24.9,1146.4 24.4,1141.4 23.9,1136.5 23.2,1131.5 22.4,1126.6 21.5,1121.7 20.5,1116.8 19.4,1111.9 18.3,1107.0 17.2,1102.1 16.1,1097.2 15.0,1092.3 14.0,1087.5 12.9,1082.6 11.8,1077.7 10.7,1072.8 9.6,1067.9 8.5,1063.0 7.5,1058.1 6.4,1053.3 5.3,1048.4 4.3,1043.5 3.4,1038.6 2.5,1033.6 1.8,1028.7 1.2,1023.7 0.7,1018.7 0.4,1013.7 0.3,1008.7 0.4,1003.7 0.7,998.8 1.3,993.8 2.2,988.9 3.3,984.0 4.8,979.2 6.5,974.5 8.6,970.0 11.1,965.6 13.8,961.5 17.0,957.5 20.4,953.9 24.2,950.6 28.2,947.7 32.6,945.2 37.1,943.2 41.9,941.6 46.8,940.6 51.8,940.2"/><path d="M14.4,1235.1 16.1,1230.4 17.8,1225.6 19.4,1220.8 20.9,1216.0 22.5,1211.2 23.9,1206.4 25.3,1201.6 26.7,1196.7 28.0,1191.9 29.3,1187.0 30.5,1182.1 31.7,1177.2 32.9,1172.3 34.0,1167.4 35.0,1162.4 36.0,1157.5 36.9,1152.5 37.8,1147.6 38.7,1142.6 39.5,1137.6 40.2,1132.6 40.9,1127.7 41.6,1122.7 42.2,1117.7 42.8,1112.6 43.3,1107.6 43.8,1102.6 44.3,1097.6 44.8,1092.6 45.3,1087.6 45.8,1082.6 46.3,1077.5 46.8,1072.5 47.3,1067.5 47.8,1062.5 48.3,1057.5 48.9,1052.5 49.6,1047.5 50.4,1042.5 51.4,1037.6 52.6,1032.7 53.9,1027.8 55.6,1023.0 57.5,1018.4 59.6,1013.8 62.1,1009.4 65.0,1005.3 68.1,1001.3 71.6,997.7 75.5,994.5 79.6,991.6 84.1,989.2 88.7,987.3 93.6,986.1 98.6,985.4 103.7,985.5 108.7,986.2 113.5,987.7 118.0,989.9 122.1,992.8 125.7,996.3 128.6,1000.4"/><path d="M13.7,1234.9 15.5,1230.1 17.2,1225.4 18.9,1220.6 20.6,1215.9 22.3,1211.1 24.0,1206.3 25.7,1201.6 27.3,1196.8 28.9,1192.0 30.5,1187.2 32.1,1182.4 33.7,1177.6 35.2,1172.8 36.8,1167.9 38.3,1163.1 39.9,1158.3 41.5,1153.5 43.0,1148.7 44.6,1143.9 46.2,1139.1 47.7,1134.3 49.3,1129.5 50.9,1124.6 52.4,1119.8 54.0,1115.0 55.5,1110.2 57.1,1105.4 58.7,1100.6 60.2,1095.8 61.8,1091.0 63.4,1086.2 64.9,1081.4 66.5,1076.5 68.1,1071.7 69.6,1066.9 71.2,1062.1 72.7,1057.3 74.4,1052.5 76.0,1047.7 77.8,1043.0 79.7,1038.3 81.7,1033.7 83.9,1029.1 86.2,1024.6 88.8,1020.3 91.6,1016.1 94.7,1012.0 98.0,1008.2 101.6,1004.6 105.4,1001.4 109.5,998.4 113.9,995.8 118.4,993.6 123.2,991.9 128.1,990.8 133.1,990.1 138.2,990.1 143.2,990.7 148.1,991.9 152.8,993.8 157.2,996.3 161.2,999.4 164.6,1003.1 167.5,1007.3 169.6,1011.9"/><path d="M13.8,1234.1 15.7,1229.5 17.6,1224.8 19.6,1220.2 21.6,1215.6 23.6,1211.1 25.6,1206.5 27.7,1202.0 29.9,1197.4 32.0,1192.9 34.2,1188.4 36.4,1183.9 38.7,1179.5 41.0,1175.0 43.3,1170.6 45.7,1166.2 48.0,1161.8 50.4,1157.4 52.8,1153.0 55.2,1148.6 57.6,1144.2 60.0,1139.8 62.4,1135.4 64.8,1131.0 67.2,1126.6 69.6,1122.2 71.9,1117.8 74.3,1113.4 76.7,1109.0 79.1,1104.6 81.5,1100.2 83.9,1095.9 86.3,1091.5 88.7,1087.1 91.1,1082.7 93.5,1078.3 95.9,1073.9 98.3,1069.5 100.7,1065.1 103.2,1060.8 105.7,1056.5 108.4,1052.2 111.2,1048.1 114.1,1044.0 117.2,1040.1 120.5,1036.3 123.9,1032.7 127.6,1029.3 131.5,1026.1 135.6,1023.2 139.9,1020.7 144.3,1018.4 149.0,1016.6 153.8,1015.2 158.7,1014.3 163.7,1013.8 168.7,1014.0 173.6,1014.6 178.5,1015.9 183.1,1017.8 187.5,1020.2 191.5,1023.2 195.0,1026.8 198.0,1030.8 200.3,1035.3 201.9,1040.0"/><path d="M28.8,1236.9 29.5,1231.9 29.9,1226.9 29.8,1221.8 29.2,1216.8 28.3,1211.8 27.0,1207.0 25.2,1202.2 23.1,1197.6 20.6,1193.2 17.8,1189.1 14.6,1185.2 11.4,1181.3 8.2,1177.4 5.0,1173.4 1.8,1169.5 -1.4,1165.6 -4.7,1161.7 -7.9,1157.8 -11.1,1153.9 -14.3,1150.0 -17.5,1146.1 -20.7,1142.2 -23.9,1138.3 -27.1,1134.4 -30.3,1130.5 -33.5,1126.6 -36.7,1122.7 -39.9,1118.8 -43.1,1114.9 -46.3,1111.0 -49.5,1107.1 -52.7,1103.2 -56.0,1099.3 -59.2,1095.4 -62.4,1091.5 -65.6,1087.6 -68.8,1083.6 -72.0,1079.7 -75.1,1075.8 -78.2,1071.8 -81.3,1067.8 -84.2,1063.7 -87.1,1059.5 -89.8,1055.3 -92.5,1050.9 -94.9,1046.5 -97.2,1042.0 -99.3,1037.4 -101.2,1032.8 -102.9,1028.0 -104.3,1023.1 -105.5,1018.2 -106.3,1013.2 -106.8,1008.2 -107.0,1003.2 -106.8,998.1 -106.2,993.1 -105.3,988.1 -103.9,983.3 -102.1,978.5 -99.9,974.0 -97.3,969.7 -94.3,965.6 -90.9,961.9 -87.1,958.6"/><path d="M26.9,1234.2 28.3,1229.4 29.5,1224.4 30.6,1219.5 31.6,1214.5 32.4,1209.5 33.1,1204.5 33.6,1199.5 33.9,1194.4 34.1,1189.3 34.2,1184.3 34.1,1179.2 33.8,1174.2 33.5,1169.1 32.9,1164.1 32.2,1159.0 31.4,1154.0 30.4,1149.1 29.2,1144.1 27.9,1139.2 26.5,1134.4 24.9,1129.6 23.2,1124.8 21.3,1120.1 19.3,1115.4 17.2,1110.9 14.9,1106.3 12.6,1101.8 10.4,1097.3 8.1,1092.7 5.8,1088.2 3.6,1083.7 1.3,1079.2 -1.0,1074.6 -3.3,1070.1 -5.5,1065.6 -7.8,1061.0 -10.0,1056.5 -12.2,1051.9 -14.4,1047.3 -16.4,1042.7 -18.2,1038.0 -19.9,1033.2 -21.3,1028.3 -22.5,1023.4 -23.5,1018.4 -24.1,1013.4 -24.4,1008.3 -24.2,1003.3 -23.7,998.2 -22.7,993.3 -21.3,988.4 -19.3,983.7 -16.9,979.3 -13.9,975.2 -10.5,971.4 -6.7,968.1 -2.4,965.4 2.2,963.3 7.1,961.9 12.1,961.3 17.2,961.4 22.2,962.4 26.9,964.3 31.2,967.0"/><path d="M27.8,1236.2 29.1,1231.3 30.1,1226.4 31.0,1221.4 31.6,1216.4 32.0,1211.4 32.3,1206.4 32.3,1201.3 32.1,1196.3 31.7,1191.3 31.1,1186.3 30.2,1181.3 29.3,1176.4 28.3,1171.4 27.3,1166.5 26.3,1161.6 25.3,1156.6 24.3,1151.7 23.3,1146.7 22.3,1141.8 21.3,1136.9 20.3,1131.9 19.3,1127.0 18.4,1122.0 17.4,1117.1 16.4,1112.2 15.4,1107.2 14.4,1102.3 13.4,1097.3 12.4,1092.4 11.4,1087.5 10.4,1082.5 9.4,1077.6 8.4,1072.6 7.4,1067.7 6.5,1062.8 5.5,1057.8 4.6,1052.9 3.8,1047.9 3.0,1042.9 2.5,1037.9 2.0,1032.9 1.8,1027.9 1.8,1022.8 2.1,1017.8 2.6,1012.8 3.5,1007.8 4.7,1002.9 6.2,998.1 8.1,993.5 10.4,989.0 13.1,984.7 16.1,980.7 19.6,977.1 23.4,973.8 27.6,971.0 32.1,968.7 36.8,966.9 41.7,965.8 46.8,965.4 51.8,965.7 56.7,966.7 61.5,968.4"/><path d="M26.7,1235.4 28.1,1230.5 29.4,1225.6 30.6,1220.7 31.6,1215.8 32.5,1210.8 33.3,1205.8 33.9,1200.8 34.4,1195.8 34.8,1190.7 35.1,1185.7 35.5,1180.7 35.8,1175.6 36.2,1170.6 36.5,1165.6 36.9,1160.5 37.2,1155.5 37.6,1150.4 38.0,1145.4 38.3,1140.4 38.7,1135.3 39.0,1130.3 39.4,1125.2 39.7,1120.2 40.1,1115.2 40.5,1110.1 40.8,1105.1 41.2,1100.1 41.5,1095.0 41.9,1090.0 42.2,1084.9 42.6,1079.9 42.9,1074.9 43.3,1069.8 43.7,1064.8 44.0,1059.8 44.4,1054.7 44.7,1049.7 45.1,1044.6 45.6,1039.6 46.2,1034.6 46.8,1029.6 47.7,1024.6 48.7,1019.7 49.9,1014.8 51.4,1009.9 53.1,1005.2 55.1,1000.5 57.3,996.0 59.9,991.7 62.9,987.6 66.1,983.7 69.7,980.1 73.6,976.9 77.8,974.1 82.2,971.7 86.9,969.9 91.8,968.6 96.8,967.9 101.9,967.9 106.9,968.6 111.8,969.9 116.4,971.9 120.6,974.6 124.4,978.0 127.6,981.9"/><path d="M27.9,1234.1 29.6,1229.4 31.3,1224.7 32.9,1219.9 34.6,1215.2 36.2,1210.5 37.9,1205.7 39.5,1200.9 41.1,1196.2 42.7,1191.4 44.2,1186.7 45.8,1181.9 47.3,1177.1 48.8,1172.3 50.4,1167.5 51.9,1162.7 53.3,1157.9 54.8,1153.1 56.3,1148.3 57.7,1143.5 59.1,1138.7 60.5,1133.9 61.9,1129.1 63.3,1124.2 64.6,1119.4 66.0,1114.6 67.3,1109.7 68.6,1104.9 70.0,1100.0 71.3,1095.2 72.6,1090.4 73.9,1085.5 75.3,1080.7 76.6,1075.8 77.9,1071.0 79.3,1066.2 80.6,1061.3 82.0,1056.5 83.4,1051.7 85.0,1046.9 86.6,1042.2 88.4,1037.5 90.4,1032.9 92.6,1028.4 95.0,1024.0 97.7,1019.7 100.6,1015.6 103.8,1011.7 107.2,1008.1 111.0,1004.7 115.0,1001.7 119.3,999.1 123.8,996.9 128.5,995.1 133.4,993.9 138.3,993.3 143.4,993.3 148.3,993.9 153.2,995.2 157.8,997.1 162.1,999.7 166.0,1002.9 169.3,1006.7 172.0,1010.9"/><path d="M27.7,1234.6 29.6,1230.0 31.7,1225.4 33.8,1220.8 36.0,1216.3 38.3,1211.8 40.7,1207.3 43.1,1202.9 45.7,1198.6 48.3,1194.2 51.0,1190.0 53.7,1185.7 56.4,1181.5 59.2,1177.3 61.9,1173.0 64.7,1168.8 67.4,1164.6 70.1,1160.3 72.9,1156.1 75.6,1151.9 78.4,1147.6 81.1,1143.4 83.8,1139.2 86.6,1134.9 89.3,1130.7 92.1,1126.5 94.8,1122.2 97.5,1118.0 100.3,1113.8 103.0,1109.5 105.8,1105.3 108.5,1101.1 111.2,1096.8 114.0,1092.6 116.7,1088.4 119.5,1084.1 122.2,1079.9 124.9,1075.7 127.7,1071.5 130.5,1067.3 133.4,1063.1 136.3,1059.0 139.3,1055.0 142.4,1051.0 145.7,1047.1 149.0,1043.4 152.5,1039.8 156.2,1036.3 160.0,1033.0 164.0,1029.9 168.1,1027.0 172.4,1024.3 176.8,1021.9 181.4,1019.8 186.2,1018.1 191.0,1016.7 195.9,1015.7 200.9,1015.1 206.0,1014.9 211.0,1015.2 216.0,1015.9 220.9,1017.2 225.6,1018.9 230.1,1021.2 234.4,1023.9 238.3,1027.1"/><path d="M42.0,1236.8 43.1,1231.9 43.9,1227.0 44.4,1222.0 44.6,1217.0 44.6,1212.0 44.2,1207.0 43.6,1202.0 42.7,1197.1 41.6,1192.3 40.2,1187.5 38.5,1182.7 36.5,1178.1 34.3,1173.7 31.8,1169.3 29.1,1165.1 26.2,1161.0 23.0,1157.1 19.6,1153.4 16.3,1149.8 12.9,1146.1 9.5,1142.4 6.1,1138.7 2.7,1135.1 -0.7,1131.4 -4.1,1127.7 -7.5,1124.0 -10.9,1120.4 -14.3,1116.7 -17.7,1113.0 -21.1,1109.3 -24.5,1105.7 -27.9,1102.0 -31.3,1098.3 -34.7,1094.6 -38.1,1091.0 -41.5,1087.3 -44.9,1083.6 -48.2,1079.8 -51.5,1076.1 -54.7,1072.2 -57.8,1068.3 -60.8,1064.3 -63.6,1060.2 -66.3,1056.0 -68.9,1051.6 -71.2,1047.2 -73.3,1042.7 -75.2,1038.0 -76.7,1033.3 -78.0,1028.4 -78.9,1023.5 -79.5,1018.5 -79.7,1013.5 -79.4,1008.5 -78.8,1003.6 -77.7,998.7 -76.1,993.9 -74.1,989.4 -71.6,985.0 -68.6,981.0 -65.2,977.3 -61.4,974.0 -57.3,971.3"/><path d="M41.0,1235.3 41.9,1230.4 42.5,1225.4 42.6,1220.3 42.5,1215.3 41.9,1210.3 41.0,1205.3 39.8,1200.4 38.2,1195.6 36.3,1190.9 34.0,1186.4 31.6,1182.0 29.2,1177.5 26.8,1173.1 24.4,1168.7 22.0,1164.2 19.6,1159.8 17.2,1155.3 14.9,1150.9 12.5,1146.5 10.1,1142.0 7.7,1137.6 5.3,1133.1 2.9,1128.7 0.5,1124.2 -1.9,1119.8 -4.3,1115.4 -6.7,1110.9 -9.1,1106.5 -11.5,1102.0 -13.9,1097.6 -16.3,1093.2 -18.7,1088.7 -21.1,1084.3 -23.5,1079.8 -25.8,1075.4 -28.2,1070.9 -30.6,1066.5 -32.9,1062.0 -35.0,1057.4 -37.1,1052.8 -39.0,1048.1 -40.7,1043.4 -42.1,1038.5 -43.3,1033.6 -44.2,1028.7 -44.8,1023.7 -45.0,1018.6 -44.7,1013.6 -44.1,1008.6 -43.0,1003.6 -41.4,998.9 -39.3,994.3 -36.7,989.9 -33.6,986.0 -30.0,982.4 -26.0,979.4 -21.6,976.9 -16.9,975.1 -11.9,974.0 -6.9,973.7 -1.9,974.3 3.0,975.7 7.5,977.9"/><path d="M43.4,1235.6 44.8,1230.7 46.1,1225.8 47.3,1220.9 48.4,1215.9 49.3,1210.9 50.0,1205.9 50.7,1200.9 51.2,1195.8 51.5,1190.8 51.7,1185.7 51.8,1180.6 51.8,1175.6 51.6,1170.5 51.3,1165.4 50.8,1160.4 50.2,1155.3 49.5,1150.3 48.7,1145.3 47.9,1140.3 47.2,1135.3 46.4,1130.3 45.6,1125.3 44.8,1120.3 44.0,1115.3 43.3,1110.2 42.5,1105.2 41.7,1100.2 40.9,1095.2 40.1,1090.2 39.4,1085.2 38.6,1080.2 37.8,1075.2 37.0,1070.2 36.2,1065.2 35.5,1060.1 34.7,1055.1 33.9,1050.1 33.2,1045.1 32.4,1040.1 31.8,1035.1 31.3,1030.0 30.8,1025.0 30.5,1019.9 30.3,1014.8 30.3,1009.8 30.5,1004.7 30.9,999.6 31.5,994.6 32.4,989.6 33.5,984.7 34.9,979.8 36.6,975.0 38.7,970.4 41.0,965.9 43.6,961.6 46.6,957.5 49.9,953.6 53.6,950.1 57.5,946.9 61.7,944.0 66.1,941.6 70.8,939.7 75.7,938.2 80.7,937.3 85.7,937.0"/><path d="M41.4,1236.7 42.9,1231.9 44.1,1226.9 45.3,1222.0 46.3,1217.0 47.1,1212.0 47.8,1207.0 48.4,1201.9 48.8,1196.9 49.1,1191.8 49.3,1186.7 49.4,1181.6 49.6,1176.6 49.8,1171.5 50.0,1166.4 50.2,1161.3 50.4,1156.3 50.6,1151.2 50.8,1146.1 51.0,1141.0 51.2,1136.0 51.3,1130.9 51.5,1125.8 51.7,1120.7 51.9,1115.7 52.1,1110.6 52.3,1105.5 52.5,1100.4 52.7,1095.4 52.9,1090.3 53.0,1085.2 53.2,1080.1 53.4,1075.1 53.6,1070.0 53.8,1064.9 54.0,1059.8 54.2,1054.8 54.4,1049.7 54.7,1044.6 55.0,1039.6 55.4,1034.5 55.9,1029.4 56.5,1024.4 57.3,1019.4 58.2,1014.4 59.3,1009.4 60.5,1004.5 62.0,999.6 63.6,994.8 65.5,990.1 67.7,985.5 70.1,981.1 72.7,976.7 75.7,972.6 78.9,968.6 82.3,964.9 86.0,961.4 90.0,958.3 94.2,955.5 98.7,953.0 103.3,951.0 108.1,949.3 113.1,948.2 118.1,947.5"/><path d="M42.8,1237.4 44.5,1232.6 46.2,1227.9 47.8,1223.1 49.4,1218.2 51.1,1213.4 52.6,1208.6 54.2,1203.8 55.7,1198.9 57.2,1194.1 58.7,1189.2 60.2,1184.4 61.6,1179.5 63.1,1174.6 64.5,1169.8 65.8,1164.9 67.2,1160.0 68.5,1155.1 69.8,1150.2 71.1,1145.3 72.3,1140.3 73.5,1135.4 74.7,1130.5 75.9,1125.5 77.2,1120.6 78.4,1115.7 79.6,1110.7 80.8,1105.8 82.0,1100.9 83.2,1096.0 84.4,1091.0 85.6,1086.1 86.8,1081.2 88.0,1076.2 89.2,1071.3 90.4,1066.4 91.7,1061.4 93.0,1056.5 94.3,1051.7 95.9,1046.8 97.6,1042.0 99.4,1037.3 101.5,1032.7 103.9,1028.2 106.5,1023.8 109.3,1019.6 112.5,1015.7 116.0,1012.0 119.8,1008.6 123.9,1005.6 128.3,1003.1 132.9,1001.0 137.8,999.4 142.7,998.5 147.8,998.2 152.9,998.5 157.8,999.6 162.6,1001.4 167.0,1003.9 170.9,1007.1 174.3,1010.9 177.0,1015.2 178.8,1020.0"/><path d="M42.7,1235.8 44.6,1231.2 46.6,1226.5 48.7,1221.9 50.9,1217.3 53.1,1212.8 55.4,1208.2 57.7,1203.8 60.2,1199.3 62.7,1194.9 65.2,1190.5 67.9,1186.2 70.5,1181.9 73.2,1177.6 75.8,1173.3 78.5,1169.0 81.1,1164.6 83.8,1160.3 86.4,1156.0 89.1,1151.7 91.8,1147.4 94.4,1143.1 97.1,1138.8 99.7,1134.5 102.4,1130.1 105.0,1125.8 107.7,1121.5 110.3,1117.2 113.0,1112.9 115.7,1108.6 118.3,1104.3 121.0,1099.9 123.6,1095.6 126.3,1091.3 128.9,1087.0 131.6,1082.7 134.3,1078.4 136.9,1074.1 139.6,1069.8 142.4,1065.6 145.3,1061.4 148.3,1057.3 151.4,1053.3 154.7,1049.5 158.1,1045.8 161.8,1042.2 165.6,1038.9 169.6,1035.8 173.8,1033.0 178.2,1030.5 182.8,1028.3 187.5,1026.5 192.4,1025.2 197.4,1024.3 202.4,1024.0 207.5,1024.2 212.5,1024.9 217.4,1026.2 222.1,1028.1 226.5,1030.7 230.5,1033.7 234.1,1037.3 237.1,1041.4 239.4,1045.9 241.0,1050.7"/><path d="M56.9,1236.8 58.7,1232.1 60.2,1227.3 61.6,1222.4 62.7,1217.5 63.7,1212.6 64.4,1207.6 65.0,1202.6 65.3,1197.6 65.4,1192.6 65.4,1187.5 65.1,1182.5 64.6,1177.5 64.0,1172.5 63.1,1167.6 62.0,1162.7 60.7,1157.8 59.2,1153.0 57.6,1148.3 55.7,1143.6 53.7,1139.0 51.4,1134.5 49.0,1130.1 46.4,1125.7 43.9,1121.4 41.3,1117.1 38.8,1112.8 36.2,1108.4 33.6,1104.1 31.1,1099.8 28.5,1095.4 26.0,1091.1 23.4,1086.8 20.8,1082.4 18.3,1078.1 15.7,1073.8 13.2,1069.4 10.7,1065.1 8.3,1060.7 6.0,1056.2 3.8,1051.7 1.7,1047.1 -0.1,1042.4 -1.8,1037.7 -3.2,1032.8 -4.3,1027.9 -5.2,1023.0 -5.7,1018.0 -5.8,1012.9 -5.5,1007.9 -4.9,1002.9 -3.7,998.0 -2.1,993.3 -0.1,988.7 2.5,984.3 5.5,980.3 8.9,976.7 12.8,973.5 17.1,970.8 21.7,968.7 26.5,967.3 31.5,966.7 36.5,966.8"/><path d="M55.8,1237.2 57.6,1232.4 59.3,1227.7 60.7,1222.8 62.0,1217.9 63.2,1213.0 64.1,1208.0 64.9,1203.0 65.5,1198.0 65.9,1192.9 66.1,1187.9 66.2,1182.8 66.1,1177.8 65.7,1172.7 65.3,1167.7 64.6,1162.6 63.8,1157.6 62.7,1152.7 61.5,1147.8 60.2,1142.9 58.6,1138.1 57.0,1133.3 55.3,1128.5 53.6,1123.7 52.0,1118.9 50.3,1114.2 48.6,1109.4 47.0,1104.6 45.3,1099.8 43.7,1095.0 42.0,1090.2 40.3,1085.5 38.7,1080.7 37.0,1075.9 35.3,1071.1 33.7,1066.3 32.0,1061.5 30.4,1056.8 28.8,1051.9 27.3,1047.1 25.9,1042.2 24.7,1037.3 23.7,1032.4 22.9,1027.4 22.3,1022.3 22.1,1017.3 22.2,1012.2 22.6,1007.2 23.4,1002.2 24.6,997.3 26.3,992.5 28.4,987.9 31.0,983.5 34.1,979.5 37.6,975.8 41.5,972.6 45.8,970.0 50.5,967.9 55.3,966.6 60.4,966.0 65.4,966.1 70.4,967.1 75.1,968.9 79.5,971.5 83.3,974.9"/><path d="M55.1,1237.6 57.1,1232.9 58.9,1228.3 60.6,1223.5 62.1,1218.8 63.6,1213.9 65.0,1209.1 66.2,1204.2 67.3,1199.3 68.3,1194.4 69.1,1189.4 69.9,1184.5 70.5,1179.5 71.0,1174.5 71.4,1169.5 71.6,1164.5 71.7,1159.4 71.7,1154.4 71.6,1149.4 71.4,1144.4 71.0,1139.3 70.5,1134.3 69.9,1129.4 69.3,1124.4 68.6,1119.4 68.0,1114.4 67.4,1109.4 66.7,1104.4 66.1,1099.4 65.4,1094.5 64.8,1089.5 64.2,1084.5 63.5,1079.5 62.9,1074.5 62.2,1069.5 61.6,1064.5 61.0,1059.6 60.3,1054.6 59.7,1049.6 59.2,1044.6 58.7,1039.6 58.4,1034.6 58.2,1029.5 58.2,1024.5 58.4,1019.5 58.8,1014.5 59.5,1009.5 60.4,1004.6 61.6,999.7 63.2,994.9 65.1,990.3 67.3,985.8 70.0,981.5 72.9,977.4 76.3,973.7 80.0,970.3 84.1,967.3 88.4,964.8 93.0,962.8 97.8,961.4 102.8,960.6 107.8,960.4 112.8,961.0 117.7,962.2 122.3,964.2 126.6,966.8"/><path d="M57.4,1237.3 59.4,1232.7 61.4,1228.1 63.3,1223.5 65.1,1218.8 66.9,1214.1 68.6,1209.4 70.2,1204.6 71.8,1199.9 73.3,1195.1 74.7,1190.3 76.0,1185.4 77.3,1180.6 78.5,1175.7 79.7,1170.8 80.7,1165.9 81.7,1161.0 82.7,1156.0 83.7,1151.1 84.7,1146.2 85.7,1141.3 86.7,1136.4 87.7,1131.5 88.8,1126.5 89.8,1121.6 90.8,1116.7 91.8,1111.8 92.8,1106.9 93.8,1101.9 94.8,1097.0 95.8,1092.1 96.8,1087.2 97.8,1082.3 98.8,1077.3 99.8,1072.4 100.8,1067.5 101.8,1062.6 102.9,1057.7 104.0,1052.8 105.2,1047.9 106.4,1043.0 107.8,1038.2 109.3,1033.4 110.9,1028.7 112.7,1024.0 114.7,1019.3 116.8,1014.8 119.1,1010.3 121.6,1006.0 124.4,1001.8 127.4,997.8 130.6,993.9 134.0,990.2 137.7,986.8 141.6,983.6 145.7,980.7 150.0,978.2 154.5,976.0 159.2,974.1 164.0,972.7 168.9,971.8 173.9,971.3 178.9,971.3"/><path d="M54.8,1237.6 56.9,1233.0 59.0,1228.4 61.1,1223.8 63.2,1219.2 65.3,1214.6 67.3,1209.9 69.3,1205.3 71.3,1200.6 73.2,1195.9 75.1,1191.2 77.0,1186.5 78.8,1181.8 80.7,1177.0 82.5,1172.3 84.2,1167.6 86.0,1162.8 87.7,1158.0 89.4,1153.2 91.0,1148.5 92.7,1143.7 94.4,1138.9 96.1,1134.1 97.7,1129.3 99.4,1124.5 101.1,1119.8 102.8,1115.0 104.4,1110.2 106.1,1105.4 107.8,1100.6 109.5,1095.8 111.1,1091.0 112.8,1086.3 114.5,1081.5 116.2,1076.7 117.8,1071.9 119.5,1067.1 121.2,1062.4 123.0,1057.6 124.8,1052.9 126.7,1048.2 128.8,1043.5 131.0,1039.0 133.4,1034.5 136.0,1030.2 138.8,1026.0 141.8,1021.9 145.1,1018.1 148.7,1014.4 152.5,1011.1 156.6,1008.1 160.9,1005.4 165.4,1003.2 170.2,1001.4 175.1,1000.1 180.1,999.3 185.2,999.2 190.2,999.6 195.2,1000.7 199.9,1002.4 204.4,1004.8 208.5,1007.8 212.1,1011.3 215.1,1015.4 217.4,1020.0"/><path d="M56.4,1237.6 58.8,1233.1 61.3,1228.7 63.8,1224.3 66.4,1220.0 69.1,1215.7 71.8,1211.5 74.6,1207.3 77.5,1203.1 80.4,1199.0 83.4,1194.9 86.4,1190.8 89.4,1186.7 92.4,1182.7 95.3,1178.6 98.3,1174.5 101.3,1170.4 104.3,1166.3 107.3,1162.2 110.3,1158.2 113.2,1154.1 116.2,1150.0 119.2,1145.9 122.2,1141.8 125.2,1137.8 128.2,1133.7 131.1,1129.6 134.1,1125.5 137.1,1121.4 140.1,1117.3 143.1,1113.3 146.1,1109.2 149.0,1105.1 152.0,1101.0 155.0,1096.9 158.0,1092.9 161.0,1088.8 164.0,1084.7 166.9,1080.6 169.9,1076.5 172.8,1072.4 175.7,1068.2 178.5,1064.0 181.3,1059.8 183.9,1055.5 186.6,1051.2 189.1,1046.8 191.5,1042.3 193.8,1037.8 195.9,1033.2 197.9,1028.6 199.8,1023.9 201.5,1019.1 203.0,1014.3 204.3,1009.4 205.4,1004.5 206.3,999.5 206.9,994.5 207.3,989.5 207.5,984.4 207.3,979.4 206.9,974.3 206.1,969.3 205.1,964.4 203.8,959.5 202.1,954.7"/><path d="M70.4,1239.4 71.9,1234.6 73.2,1229.8 74.2,1224.8 75.0,1219.9 75.6,1214.9 75.9,1209.9 76.0,1204.9 75.8,1199.9 75.4,1194.9 74.7,1189.9 73.8,1185.0 72.6,1180.1 71.2,1175.3 69.6,1170.5 67.7,1165.9 65.7,1161.3 63.3,1156.9 60.8,1152.5 58.1,1148.3 55.1,1144.3 52.1,1140.3 49.0,1136.3 45.9,1132.3 42.9,1128.4 39.8,1124.4 36.7,1120.4 33.7,1116.5 30.6,1112.5 27.5,1108.5 24.5,1104.6 21.4,1100.6 18.3,1096.6 15.3,1092.6 12.2,1088.7 9.1,1084.7 6.1,1080.7 3.0,1076.7 0.0,1072.7 -3.0,1068.7 -5.8,1064.6 -8.6,1060.4 -11.3,1056.2 -13.8,1051.8 -16.2,1047.4 -18.3,1042.9 -20.3,1038.2 -21.9,1033.5 -23.3,1028.7 -24.4,1023.8 -25.2,1018.8 -25.6,1013.8 -25.6,1008.8 -25.2,1003.8 -24.4,998.9 -23.1,994.0 -21.3,989.3 -19.1,984.8 -16.4,980.6 -13.2,976.7 -9.6,973.2 -5.6,970.2 -1.3,967.7 3.4,965.8 8.2,964.5"/><path d="M69.7,1239.2 71.3,1234.4 72.6,1229.5 73.8,1224.6 74.7,1219.6 75.4,1214.7 75.9,1209.6 76.2,1204.6 76.2,1199.5 76.0,1194.5 75.6,1189.5 74.9,1184.5 74.1,1179.5 73.0,1174.6 71.7,1169.7 70.1,1164.9 68.6,1160.1 67.0,1155.3 65.4,1150.5 63.8,1145.7 62.2,1141.0 60.7,1136.2 59.1,1131.4 57.5,1126.6 55.9,1121.8 54.4,1117.0 52.8,1112.2 51.2,1107.4 49.6,1102.6 48.1,1097.8 46.5,1093.0 44.9,1088.2 43.3,1083.5 41.7,1078.7 40.2,1073.9 38.6,1069.1 37.0,1064.3 35.5,1059.5 33.9,1054.7 32.5,1049.8 31.2,1045.0 29.9,1040.1 28.9,1035.2 28.0,1030.2 27.3,1025.2 26.8,1020.2 26.6,1015.1 26.7,1010.1 27.1,1005.1 27.8,1000.1 28.9,995.1 30.4,990.3 32.3,985.6 34.5,981.1 37.2,976.9 40.3,972.9 43.8,969.2 47.7,966.0 51.9,963.2 56.4,960.9 61.1,959.3 66.1,958.2 71.1,957.8 76.1,958.2 81.1,959.2"/><path d="M69.5,1239.4 71.2,1234.6 72.7,1229.8 74.1,1224.9 75.3,1220.0 76.3,1215.0 77.1,1210.0 77.7,1205.0 78.2,1199.9 78.5,1194.9 78.5,1189.8 78.4,1184.7 78.2,1179.7 77.7,1174.6 77.1,1169.6 76.2,1164.6 75.4,1159.6 74.5,1154.6 73.7,1149.6 72.8,1144.6 72.0,1139.6 71.1,1134.6 70.3,1129.6 69.4,1124.6 68.6,1119.6 67.7,1114.6 66.9,1109.6 66.0,1104.6 65.2,1099.6 64.3,1094.6 63.5,1089.6 62.6,1084.6 61.8,1079.7 60.9,1074.7 60.1,1069.7 59.2,1064.7 58.4,1059.7 57.6,1054.7 56.8,1049.6 56.2,1044.6 55.6,1039.6 55.2,1034.5 55.0,1029.5 54.9,1024.4 55.1,1019.3 55.6,1014.3 56.3,1009.3 57.2,1004.3 58.6,999.4 60.2,994.6 62.2,989.9 64.6,985.5 67.3,981.2 70.5,977.2 74.0,973.5 77.8,970.2 82.0,967.4 86.4,965.0 91.2,963.1 96.1,961.8 101.1,961.2 106.2,961.2 111.2,961.9 116.0,963.4"/><path d="M70.6,1237.0 72.5,1232.4 74.3,1227.7 76.0,1222.9 77.7,1218.2 79.2,1213.4 80.6,1208.6 82.0,1203.7 83.2,1198.9 84.4,1194.0 85.5,1189.0 86.4,1184.1 87.3,1179.2 88.1,1174.2 88.8,1169.2 89.4,1164.2 90.0,1159.2 90.5,1154.2 91.1,1149.2 91.6,1144.2 92.2,1139.2 92.7,1134.2 93.3,1129.2 93.9,1124.2 94.4,1119.2 95.0,1114.2 95.5,1109.2 96.1,1104.2 96.7,1099.2 97.2,1094.2 97.8,1089.2 98.3,1084.3 98.9,1079.3 99.5,1074.3 100.0,1069.3 100.6,1064.3 101.1,1059.3 101.7,1054.3 102.3,1049.3 102.9,1044.3 103.7,1039.3 104.5,1034.3 105.4,1029.4 106.5,1024.5 107.8,1019.6 109.2,1014.8 110.9,1010.1 112.8,1005.4 114.9,1000.8 117.3,996.4 120.0,992.2 122.9,988.1 126.1,984.2 129.7,980.6 133.4,977.3 137.5,974.4 141.8,971.8 146.4,969.6 151.1,967.9 156.0,966.8 161.0,966.1 166.0,966.1 171.0,966.6 175.9,967.8 180.6,969.5 185.1,971.9"/><path d="M70.5,1239.0 72.6,1234.4 74.7,1229.8 76.7,1225.2 78.8,1220.6 80.9,1216.0 82.9,1211.4 84.9,1206.8 87.0,1202.2 89.0,1197.6 91.0,1193.0 93.0,1188.4 95.0,1183.8 97.0,1179.1 99.0,1174.5 101.0,1169.9 103.0,1165.2 104.9,1160.6 106.9,1156.0 108.8,1151.3 110.8,1146.7 112.7,1142.0 114.7,1137.4 116.6,1132.8 118.5,1128.1 120.5,1123.5 122.4,1118.8 124.4,1114.2 126.3,1109.5 128.3,1104.9 130.2,1100.3 132.2,1095.6 134.1,1091.0 136.1,1086.3 138.0,1081.7 140.0,1077.0 141.9,1072.4 143.9,1067.8 145.8,1063.1 147.9,1058.5 150.0,1054.0 152.2,1049.4 154.5,1045.0 157.0,1040.6 159.6,1036.3 162.4,1032.1 165.4,1028.1 168.6,1024.2 172.1,1020.5 175.7,1017.0 179.6,1013.8 183.7,1010.9 188.0,1008.3 192.5,1006.1 197.2,1004.2 202.0,1002.8 207.0,1001.9 212.0,1001.5 217.0,1001.7 222.0,1002.4 226.9,1003.7 231.5,1005.6 235.9,1008.0 240.0,1011.1 243.5,1014.6 246.5,1018.6"/><path d="M69.4,1238.2 71.6,1233.7 73.8,1229.1 76.1,1224.6 78.4,1220.1 80.7,1215.6 83.1,1211.2 85.5,1206.7 87.9,1202.3 90.4,1197.9 92.9,1193.5 95.4,1189.1 97.9,1184.7 100.5,1180.4 103.2,1176.1 105.8,1171.8 108.5,1167.5 111.2,1163.2 114.0,1159.0 116.7,1154.8 119.6,1150.6 122.4,1146.4 125.3,1142.2 128.2,1138.1 131.1,1134.0 134.1,1129.9 137.1,1125.8 140.1,1121.7 143.1,1117.7 146.1,1113.6 149.1,1109.5 152.1,1105.5 155.1,1101.4 158.1,1097.3 161.1,1093.3 164.1,1089.2 167.1,1085.1 170.1,1081.1 173.2,1077.1 176.3,1073.1 179.5,1069.2 182.8,1065.4 186.2,1061.7 189.8,1058.0 193.4,1054.6 197.2,1051.2 201.2,1048.1 205.3,1045.2 209.6,1042.5 214.0,1040.0 218.6,1037.9 223.3,1036.0 228.1,1034.5 233.0,1033.4 238.0,1032.7 243.1,1032.5 248.1,1032.7 253.2,1033.4 258.1,1034.6 262.8,1036.3 267.4,1038.5 271.6,1041.2 275.6,1044.4 279.1,1048.0"/><path d="M82.7,1240.5 83.9,1235.6 84.7,1230.6 85.1,1225.6 85.2,1220.6 85.0,1215.5 84.4,1210.5 83.5,1205.6 82.2,1200.7 80.6,1195.9 78.7,1191.2 76.5,1186.7 73.9,1182.4 71.1,1178.2 68.0,1174.2 64.9,1170.3 61.7,1166.3 58.6,1162.3 55.5,1158.4 52.4,1154.4 49.3,1150.5 46.2,1146.5 43.0,1142.5 39.9,1138.6 36.8,1134.6 33.7,1130.7 30.6,1126.7 27.4,1122.7 24.3,1118.8 21.2,1114.8 18.1,1110.8 15.0,1106.9 11.9,1102.9 8.7,1099.0 5.6,1095.0 2.5,1091.0 -0.6,1087.1 -3.7,1083.1 -6.8,1079.1 -9.9,1075.1 -12.8,1071.0 -15.7,1066.9 -18.4,1062.6 -21.0,1058.3 -23.4,1053.9 -25.7,1049.4 -27.7,1044.7 -29.4,1040.0 -30.8,1035.2 -31.9,1030.3 -32.6,1025.3 -33.0,1020.2 -32.9,1015.2 -32.4,1010.2 -31.4,1005.2 -29.9,1000.4 -27.9,995.8 -25.4,991.4 -22.4,987.4 -19.0,983.7 -15.1,980.5 -10.8,977.8 -6.1,975.8 -1.3,974.5 3.7,973.9 8.8,974.1"/><path d="M85.0,1240.4 86.4,1235.5 87.7,1230.6 88.7,1225.6 89.5,1220.6 90.1,1215.6 90.5,1210.5 90.7,1205.4 90.6,1200.4 90.3,1195.3 89.8,1190.2 89.1,1185.2 88.1,1180.2 87.0,1175.3 85.6,1170.4 84.0,1165.6 82.3,1160.8 80.3,1156.1 78.4,1151.4 76.4,1146.7 74.5,1142.1 72.5,1137.4 70.6,1132.7 68.6,1128.0 66.7,1123.3 64.7,1118.6 62.8,1113.9 60.9,1109.2 58.9,1104.5 57.0,1099.8 55.0,1095.2 53.1,1090.5 51.1,1085.8 49.2,1081.1 47.2,1076.4 45.3,1071.7 43.4,1067.0 41.5,1062.3 39.6,1057.6 37.8,1052.8 36.2,1048.0 34.6,1043.2 33.2,1038.3 32.0,1033.4 31.0,1028.4 30.2,1023.4 29.7,1018.3 29.5,1013.3 29.5,1008.2 29.9,1003.1 30.7,998.1 31.9,993.1 33.4,988.3 35.3,983.6 37.7,979.1 40.5,974.9 43.7,970.9 47.2,967.3 51.2,964.2 55.5,961.5 60.1,959.3 64.9,957.7 69.9,956.8 75.0,956.5"/><path d="M84.1,1238.5 85.7,1233.8 87.1,1229.0 88.4,1224.1 89.5,1219.2 90.5,1214.3 91.3,1209.4 91.9,1204.4 92.4,1199.4 92.7,1194.5 92.9,1189.4 92.9,1184.4 92.8,1179.4 92.5,1174.4 92.0,1169.5 91.5,1164.5 91.0,1159.5 90.6,1154.5 90.1,1149.5 89.6,1144.6 89.1,1139.6 88.6,1134.6 88.1,1129.6 87.6,1124.6 87.1,1119.6 86.7,1114.7 86.2,1109.7 85.7,1104.7 85.2,1099.7 84.7,1094.7 84.2,1089.8 83.7,1084.8 83.2,1079.8 82.7,1074.8 82.3,1069.8 81.8,1064.8 81.3,1059.9 80.8,1054.9 80.3,1049.9 79.9,1044.9 79.6,1039.9 79.4,1034.9 79.3,1029.9 79.3,1024.9 79.5,1019.9 79.8,1014.9 80.4,1009.9 81.2,1005.0 82.3,1000.1 83.6,995.3 85.2,990.5 87.1,985.9 89.3,981.4 91.8,977.1 94.7,973.0 97.9,969.1 101.4,965.6 105.2,962.3 109.3,959.5 113.7,957.0 118.3,955.1 123.1,953.6 128.0,952.7 133.0,952.4 138.0,952.7 142.9,953.6"/><path d="M84.7,1240.4 86.5,1235.6 88.2,1230.9 89.9,1226.1 91.5,1221.3 93.0,1216.4 94.4,1211.6 95.8,1206.7 97.1,1201.8 98.3,1196.9 99.5,1192.0 100.6,1187.0 101.6,1182.1 102.5,1177.1 103.4,1172.1 104.2,1167.1 104.9,1162.1 105.6,1157.1 106.3,1152.1 107.0,1147.0 107.7,1142.0 108.4,1137.0 109.1,1132.0 109.8,1127.0 110.5,1122.0 111.2,1116.9 111.9,1111.9 112.6,1106.9 113.3,1101.9 114.0,1096.9 114.7,1091.9 115.4,1086.8 116.1,1081.8 116.8,1076.8 117.5,1071.8 118.2,1066.8 118.9,1061.8 119.6,1056.7 120.3,1051.7 121.1,1046.7 122.0,1041.7 122.9,1036.8 124.0,1031.8 125.2,1026.9 126.5,1022.0 127.9,1017.1 129.6,1012.4 131.4,1007.6 133.4,1003.0 135.6,998.4 138.0,994.0 140.7,989.7 143.6,985.5 146.8,981.6 150.2,977.8 153.8,974.3 157.7,971.0 161.8,968.1 166.1,965.4 170.6,963.1 175.3,961.2 180.2,959.8 185.1,958.8 190.2,958.2 195.2,958.2"/><path d="M84.4,1239.0 86.3,1234.4 88.2,1229.7 90.1,1225.1 91.9,1220.4 93.7,1215.7 95.5,1211.1 97.3,1206.4 99.1,1201.7 100.8,1197.0 102.6,1192.2 104.3,1187.5 106.0,1182.8 107.6,1178.1 109.3,1173.3 110.9,1168.6 112.5,1163.8 114.1,1159.1 115.7,1154.3 117.3,1149.5 118.8,1144.7 120.3,1140.0 121.9,1135.2 123.4,1130.4 125.0,1125.6 126.5,1120.8 128.0,1116.1 129.6,1111.3 131.1,1106.5 132.6,1101.7 134.2,1097.0 135.7,1092.2 137.3,1087.4 138.8,1082.6 140.3,1077.8 141.9,1073.1 143.4,1068.3 145.0,1063.5 146.7,1058.8 148.4,1054.1 150.3,1049.4 152.2,1044.8 154.4,1040.2 156.6,1035.8 159.1,1031.4 161.7,1027.1 164.6,1023.0 167.6,1019.0 170.9,1015.2 174.4,1011.6 178.1,1008.3 182.1,1005.2 186.3,1002.4 190.7,1000.0 195.3,998.0 200.0,996.3 204.9,995.2 209.9,994.5 214.9,994.3 219.9,994.7 224.9,995.6 229.7,997.0 234.2,999.1"/><path d="M84.4,1238.5 86.4,1233.9 88.4,1229.4 90.5,1224.8 92.5,1220.2 94.6,1215.7 96.7,1211.2 98.9,1206.7 101.1,1202.1 103.2,1197.6 105.5,1193.2 107.7,1188.7 110.0,1184.2 112.2,1179.8 114.5,1175.3 116.9,1170.9 119.2,1166.5 121.6,1162.1 124.0,1157.7 126.4,1153.3 128.9,1148.9 131.3,1144.6 133.8,1140.3 136.3,1135.9 138.8,1131.6 141.4,1127.3 144.0,1123.0 146.6,1118.7 149.1,1114.4 151.7,1110.1 154.3,1105.9 156.8,1101.6 159.4,1097.3 162.0,1093.0 164.6,1088.7 167.1,1084.4 169.7,1080.1 172.3,1075.9 175.0,1071.6 177.7,1067.4 180.6,1063.3 183.5,1059.3 186.6,1055.3 189.8,1051.5 193.2,1047.9 196.8,1044.4 200.6,1041.1 204.5,1038.0 208.7,1035.2 213.0,1032.7 217.5,1030.6 222.2,1028.8 227.0,1027.4 231.9,1026.5 236.9,1026.0 241.9,1026.1 246.9,1026.7 251.8,1027.8 256.5,1029.6 260.9,1031.9 265.0,1034.7 268.7,1038.1 271.9,1041.9 274.5,1046.2"/><path d="M98.0,1241.7 99.3,1236.8 100.4,1231.9 101.2,1226.9 101.8,1221.9 102.1,1216.9 102.2,1211.8 102.0,1206.8 101.6,1201.8 100.9,1196.8 100.0,1191.8 98.8,1186.9 97.4,1182.0 95.7,1177.3 93.8,1172.6 91.7,1168.0 89.4,1163.6 86.8,1159.2 84.0,1155.0 81.0,1151.0 77.8,1147.1 74.6,1143.2 71.4,1139.3 68.2,1135.4 65.0,1131.5 61.7,1127.6 58.5,1123.7 55.3,1119.9 52.1,1116.0 48.9,1112.1 45.6,1108.2 42.4,1104.3 39.2,1100.4 36.0,1096.6 32.8,1092.7 29.6,1088.8 26.4,1084.9 23.2,1080.9 20.1,1076.9 17.2,1072.9 14.3,1068.7 11.6,1064.4 9.1,1060.0 6.9,1055.5 4.9,1050.9 3.1,1046.2 1.7,1041.3 0.7,1036.4 0.1,1031.4 -0.1,1026.3 0.2,1021.3 1.0,1016.3 2.4,1011.5 4.3,1006.8 6.7,1002.4 9.7,998.3 13.1,994.6 17.1,991.5 21.4,989.0 26.1,987.1 31.1,986.0 36.1,985.8 41.1,986.4"/><path d="M97.5,1239.7 98.9,1234.8 100.0,1229.9 100.8,1224.9 101.4,1219.9 101.8,1214.9 101.9,1209.9 101.8,1204.8 101.5,1199.8 100.9,1194.8 100.0,1189.9 98.9,1184.9 97.6,1180.1 96.0,1175.3 94.2,1170.6 92.2,1166.0 90.0,1161.5 87.7,1157.0 85.4,1152.5 83.1,1148.0 80.8,1143.5 78.5,1139.0 76.2,1134.6 73.9,1130.1 71.6,1125.6 69.3,1121.1 67.0,1116.6 64.7,1112.1 62.4,1107.7 60.1,1103.2 57.8,1098.7 55.5,1094.2 53.2,1089.7 50.9,1085.2 48.6,1080.8 46.3,1076.3 44.0,1071.8 41.7,1067.3 39.5,1062.8 37.3,1058.2 35.3,1053.6 33.4,1049.0 31.6,1044.2 30.0,1039.5 28.7,1034.6 27.6,1029.7 26.8,1024.7 26.3,1019.7 26.2,1014.7 26.4,1009.6 27.0,1004.6 28.1,999.7 29.7,994.9 31.7,990.3 34.1,985.9 37.1,981.8 40.5,978.1 44.3,974.8 48.5,972.1 53.1,969.9 57.9,968.4 62.8,967.6 67.9,967.6 72.9,968.3 77.6,969.9"/><path d="M98.4,1239.3 99.8,1234.4 100.9,1229.5 101.9,1224.5 102.6,1219.5 103.0,1214.4 103.2,1209.3 103.2,1204.3 103.0,1199.2 102.5,1194.1 101.8,1189.1 100.9,1184.1 100.0,1179.1 99.1,1174.1 98.1,1169.1 97.2,1164.1 96.3,1159.2 95.4,1154.2 94.5,1149.2 93.6,1144.2 92.7,1139.2 91.8,1134.2 90.9,1129.2 90.0,1124.2 89.1,1119.2 88.2,1114.2 87.3,1109.2 86.3,1104.2 85.4,1099.2 84.5,1094.2 83.6,1089.2 82.7,1084.2 81.8,1079.2 80.9,1074.3 80.0,1069.3 79.1,1064.3 78.2,1059.3 77.3,1054.3 76.5,1049.3 75.8,1044.2 75.2,1039.2 74.7,1034.1 74.4,1029.1 74.3,1024.0 74.3,1018.9 74.7,1013.9 75.2,1008.8 76.1,1003.8 77.3,998.9 78.8,994.0 80.6,989.3 82.8,984.7 85.4,980.3 88.3,976.2 91.7,972.4 95.3,968.8 99.3,965.7 103.6,963.1 108.2,960.9 113.0,959.2 118.0,958.2 123.1,957.8 128.1,958.1 133.1,959.1"/><path d="M96.6,1239.5 98.2,1234.7 99.8,1229.9 101.3,1225.0 102.6,1220.2 103.9,1215.3 105.0,1210.3 106.1,1205.4 107.0,1200.4 107.8,1195.4 108.5,1190.4 109.1,1185.4 109.7,1180.4 110.3,1175.4 110.9,1170.3 111.4,1165.3 112.0,1160.3 112.6,1155.3 113.1,1150.2 113.7,1145.2 114.3,1140.2 114.9,1135.2 115.4,1130.2 116.0,1125.1 116.6,1120.1 117.1,1115.1 117.7,1110.1 118.3,1105.0 118.9,1100.0 119.4,1095.0 120.0,1090.0 120.6,1084.9 121.1,1079.9 121.7,1074.9 122.3,1069.9 122.9,1064.8 123.5,1059.8 124.1,1054.8 124.9,1049.8 125.8,1044.8 126.9,1039.9 128.2,1035.0 129.7,1030.2 131.5,1025.5 133.6,1020.9 136.0,1016.4 138.7,1012.2 141.8,1008.1 145.2,1004.4 149.0,1001.1 153.1,998.1 157.5,995.6 162.2,993.7 167.1,992.4 172.1,991.7 177.1,991.7 182.1,992.5 186.9,994.0 191.4,996.3 195.5,999.3 199.0,1003.0 201.7,1007.3 203.6,1011.9"/><path d="M97.0,1239.7 98.9,1235.0 100.8,1230.3 102.7,1225.6 104.6,1220.9 106.4,1216.2 108.3,1211.5 110.2,1206.8 112.0,1202.0 113.9,1197.3 115.7,1192.6 117.5,1187.8 119.3,1183.1 121.1,1178.4 122.9,1173.6 124.7,1168.9 126.5,1164.1 128.3,1159.4 130.1,1154.6 131.8,1149.9 133.6,1145.1 135.3,1140.4 137.1,1135.6 138.8,1130.8 140.5,1126.1 142.3,1121.3 144.0,1116.5 145.7,1111.8 147.5,1107.0 149.2,1102.2 150.9,1097.5 152.7,1092.7 154.4,1087.9 156.1,1083.2 157.9,1078.4 159.6,1073.6 161.3,1068.9 163.0,1064.1 164.7,1059.3 166.4,1054.5 168.0,1049.7 169.5,1044.9 171.0,1040.0 172.3,1035.1 173.6,1030.2 174.7,1025.3 175.8,1020.3 176.6,1015.3 177.4,1010.3 177.9,1005.3 178.3,1000.2 178.5,995.1 178.5,990.1 178.2,985.0 177.8,980.0 177.1,974.9 176.1,970.0 174.9,965.0 173.4,960.2 171.6,955.4 169.6,950.8 167.2,946.3 164.6,942.0 161.7,937.8"/><path d="M97.8,1241.4 99.8,1236.7 101.9,1232.1 104.0,1227.5 106.2,1223.0 108.4,1218.4 110.7,1213.9 113.0,1209.4 115.4,1204.9 117.8,1200.5 120.3,1196.1 122.8,1191.7 125.3,1187.3 127.8,1182.9 130.4,1178.5 132.9,1174.1 135.4,1169.8 137.9,1165.4 140.4,1161.0 143.0,1156.6 145.5,1152.2 148.0,1147.8 150.5,1143.4 153.0,1139.0 155.6,1134.7 158.1,1130.3 160.6,1125.9 163.1,1121.5 165.6,1117.1 168.2,1112.7 170.7,1108.3 173.2,1103.9 175.7,1099.6 178.2,1095.2 180.8,1090.8 183.3,1086.4 185.8,1082.0 188.4,1077.7 191.1,1073.4 193.8,1069.1 196.6,1064.9 199.6,1060.8 202.7,1056.8 205.9,1052.9 209.4,1049.2 213.0,1045.7 216.8,1042.3 220.8,1039.2 225.0,1036.4 229.3,1033.8 233.9,1031.6 238.6,1029.8 243.4,1028.4 248.4,1027.4 253.4,1026.9 258.5,1026.9 263.5,1027.4 268.5,1028.5 273.3,1030.2 277.8,1032.4 282.0,1035.1 285.9,1038.4 289.2,1042.2"/><path d="M111.4,1240.0 113.3,1235.3 115.0,1230.5 116.4,1225.7 117.7,1220.8 118.7,1215.8 119.6,1210.8 120.2,1205.8 120.6,1200.7 120.9,1195.7 120.9,1190.6 120.7,1185.6 120.2,1180.5 119.6,1175.5 118.8,1170.5 117.8,1165.5 116.5,1160.6 115.1,1155.8 113.4,1151.0 111.6,1146.3 109.5,1141.6 107.3,1137.1 104.9,1132.6 102.3,1128.3 99.7,1124.0 97.1,1119.6 94.4,1115.3 91.8,1111.0 89.2,1106.7 86.5,1102.3 83.9,1098.0 81.3,1093.7 78.7,1089.4 76.0,1085.0 73.4,1080.7 70.8,1076.4 68.2,1072.0 65.5,1067.7 62.9,1063.4 60.4,1059.0 57.8,1054.6 55.4,1050.2 53.0,1045.7 50.8,1041.2 48.6,1036.6 46.6,1031.9 44.8,1027.2 43.1,1022.4 41.7,1017.6 40.4,1012.7 39.4,1007.7 38.6,1002.7 38.2,997.7 38.0,992.6 38.1,987.6 38.6,982.5 39.4,977.5 40.6,972.6 42.2,967.8 44.1,963.1 46.5,958.6 49.2,954.4 52.3,950.4 55.8,946.7 59.6,943.4 63.7,940.4"/><path d="M112.5,1241.9 114.3,1237.2 116.0,1232.4 117.4,1227.6 118.6,1222.7 119.6,1217.7 120.4,1212.8 120.9,1207.7 121.3,1202.7 121.4,1197.6 121.3,1192.6 121.0,1187.6 120.5,1182.5 119.7,1177.5 118.8,1172.6 117.6,1167.7 116.2,1162.8 114.7,1158.0 112.9,1153.3 111.0,1148.6 109.0,1143.9 107.1,1139.3 105.2,1134.6 103.3,1129.9 101.4,1125.2 99.5,1120.6 97.6,1115.9 95.7,1111.2 93.8,1106.5 91.9,1101.8 90.0,1097.2 88.0,1092.5 86.1,1087.8 84.2,1083.1 82.3,1078.5 80.4,1073.8 78.5,1069.1 76.6,1064.4 74.7,1059.7 72.9,1055.0 71.2,1050.3 69.5,1045.5 68.0,1040.7 66.7,1035.8 65.6,1030.9 64.6,1025.9 63.9,1020.9 63.5,1015.9 63.4,1010.8 63.6,1005.8 64.1,1000.8 65.1,995.8 66.4,990.9 68.1,986.2 70.3,981.6 72.9,977.3 75.9,973.2 79.3,969.5 83.1,966.2 87.3,963.4 91.8,961.1 96.5,959.3 101.5,958.3 106.5,957.9 111.5,958.2 116.5,959.3"/><path d="M112.0,1240.0 114.1,1235.3 116.1,1230.7 117.9,1225.9 119.6,1221.2 121.2,1216.4 122.8,1211.6 124.1,1206.7 125.4,1201.8 126.6,1196.9 127.6,1191.9 128.6,1186.9 129.4,1181.9 130.1,1176.9 130.6,1171.9 131.1,1166.9 131.4,1161.8 131.6,1156.7 131.7,1151.7 131.7,1146.6 131.6,1141.6 131.3,1136.5 131.0,1131.5 130.7,1126.4 130.4,1121.3 130.2,1116.3 129.9,1111.2 129.6,1106.2 129.3,1101.1 129.0,1096.1 128.7,1091.0 128.4,1086.0 128.1,1080.9 127.8,1075.9 127.5,1070.8 127.2,1065.8 126.9,1060.7 126.7,1055.6 126.4,1050.6 126.2,1045.5 126.1,1040.5 126.0,1035.4 126.1,1030.3 126.3,1025.3 126.7,1020.2 127.2,1015.2 128.0,1010.2 129.0,1005.2 130.2,1000.3 131.7,995.5 133.4,990.7 135.5,986.1 137.8,981.6 140.5,977.3 143.5,973.2 146.7,969.4 150.4,965.8 154.3,962.6 158.4,959.8 162.9,957.3 167.6,955.4 172.4,953.9 177.4,953.0 182.4,952.6 187.5,952.9 192.5,953.8"/><path d="M112.8,1240.9 114.8,1236.3 116.7,1231.6 118.5,1226.8 120.1,1222.1 121.6,1217.2 123.0,1212.4 124.3,1207.5 125.4,1202.5 126.4,1197.6 127.3,1192.6 128.2,1187.6 129.1,1182.6 130.0,1177.7 130.9,1172.7 131.8,1167.7 132.7,1162.7 133.6,1157.7 134.5,1152.7 135.4,1147.8 136.3,1142.8 137.2,1137.8 138.1,1132.8 139.0,1127.8 139.9,1122.9 140.8,1117.9 141.7,1112.9 142.5,1107.9 143.4,1102.9 144.3,1098.0 145.2,1093.0 146.1,1088.0 147.0,1083.0 147.9,1078.0 148.8,1073.1 149.7,1068.1 150.6,1063.1 151.5,1058.1 152.5,1053.2 153.6,1048.2 154.8,1043.3 156.1,1038.4 157.6,1033.6 159.3,1028.8 161.2,1024.1 163.4,1019.6 165.9,1015.1 168.6,1010.9 171.7,1006.9 175.1,1003.1 178.8,999.6 182.7,996.5 187.0,993.8 191.6,991.6 196.3,989.8 201.2,988.7 206.3,988.1 211.3,988.2 216.3,989.0 221.2,990.5 225.7,992.7 229.9,995.6 233.5,999.1 236.6,1003.1 238.9,1007.6"/><path d="M111.8,1242.7 114.1,1238.2 116.4,1233.7 118.7,1229.2 121.0,1224.7 123.2,1220.2 125.5,1215.7 127.7,1211.2 129.9,1206.6 132.2,1202.1 134.4,1197.6 136.6,1193.0 138.8,1188.5 140.9,1183.9 143.1,1179.4 145.3,1174.8 147.5,1170.3 149.6,1165.7 151.8,1161.2 154.0,1156.7 156.2,1152.1 158.4,1147.6 160.5,1143.0 162.7,1138.5 164.9,1133.9 167.1,1129.4 169.2,1124.8 171.4,1120.3 173.6,1115.7 175.8,1111.2 177.9,1106.6 180.1,1102.1 182.3,1097.5 184.5,1093.0 186.6,1088.4 188.8,1083.9 191.0,1079.3 193.3,1074.8 195.6,1070.3 197.9,1065.9 200.4,1061.5 203.0,1057.2 205.8,1052.9 208.7,1048.8 211.7,1044.8 215.0,1040.9 218.4,1037.3 222.0,1033.8 225.9,1030.5 229.9,1027.5 234.2,1024.8 238.6,1022.4 243.2,1020.3 248.0,1018.7 252.9,1017.5 257.9,1016.7 262.9,1016.4 267.9,1016.7 272.9,1017.5 277.8,1018.8 282.5,1020.7 286.9,1023.1 290.9,1026.1"/><path d="M111.7,1239.9 114.1,1235.5 116.5,1231.0 118.9,1226.6 121.4,1222.2 123.9,1217.8 126.4,1213.4 128.9,1209.1 131.5,1204.7 134.1,1200.4 136.7,1196.1 139.3,1191.8 141.9,1187.5 144.6,1183.2 147.3,1178.9 150.0,1174.7 152.8,1170.4 155.6,1166.2 158.4,1162.0 161.2,1157.8 164.0,1153.7 166.9,1149.5 169.8,1145.4 172.7,1141.3 175.6,1137.1 178.5,1133.0 181.4,1128.9 184.3,1124.8 187.2,1120.6 190.1,1116.5 193.0,1112.4 195.9,1108.2 198.8,1104.1 201.7,1100.0 204.6,1095.9 207.5,1091.7 210.4,1087.6 213.3,1083.5 216.3,1079.4 219.3,1075.3 222.3,1071.3 225.5,1067.4 228.8,1063.6 232.2,1059.9 235.8,1056.3 239.6,1053.0 243.6,1049.9 247.7,1047.0 252.0,1044.4 256.5,1042.1 261.2,1040.2 266.0,1038.7 271.0,1037.7 276.0,1037.1 281.0,1037.1 286.0,1037.6 291.0,1038.7 295.7,1040.4 300.2,1042.7 304.4,1045.6 308.1,1049.1 311.2,1053.0 313.7,1057.4 315.5,1062.1 316.5,1067.0 316.7,1072.1"/><path d="M124.9,1242.4 125.6,1237.4 125.8,1232.4 125.6,1227.3 124.9,1222.3 123.7,1217.4 122.1,1212.6 120.0,1208.0 117.4,1203.6 114.5,1199.5 111.5,1195.4 108.6,1191.3 105.6,1187.1 102.7,1183.0 99.7,1178.9 96.8,1174.8 93.8,1170.7 90.9,1166.6 87.9,1162.4 85.0,1158.3 82.0,1154.2 79.1,1150.1 76.1,1146.0 73.2,1141.9 70.2,1137.8 67.3,1133.6 64.3,1129.5 61.4,1125.4 58.4,1121.3 55.5,1117.2 52.5,1113.1 49.6,1109.0 46.6,1104.8 43.7,1100.7 40.7,1096.6 37.8,1092.5 34.8,1088.4 31.9,1084.3 29.0,1080.1 26.2,1075.9 23.5,1071.6 20.9,1067.2 18.5,1062.8 16.2,1058.3 14.2,1053.6 12.4,1048.9 11.0,1044.0 9.8,1039.1 9.0,1034.1 8.6,1029.1 8.6,1024.0 9.1,1019.0 10.0,1014.0 11.5,1009.1 13.4,1004.5 15.9,1000.1 19.0,996.0 22.5,992.4 26.4,989.2 30.8,986.6 35.5,984.7 40.4,983.5 45.4,983.1 50.5,983.5 55.4,984.8"/><path d="M125.3,1243.2 126.8,1238.4 128.0,1233.5 129.1,1228.6 130.0,1223.7 130.7,1218.7 131.2,1213.7 131.6,1208.7 131.7,1203.7 131.7,1198.7 131.4,1193.7 131.0,1188.7 130.4,1183.7 129.7,1178.8 128.7,1173.8 127.6,1169.0 126.2,1164.1 124.7,1159.3 123.0,1154.6 121.2,1149.9 119.3,1145.3 117.3,1140.7 115.4,1136.1 113.5,1131.4 111.6,1126.8 109.7,1122.2 107.7,1117.5 105.8,1112.9 103.9,1108.3 102.0,1103.6 100.0,1099.0 98.1,1094.4 96.2,1089.7 94.3,1085.1 92.3,1080.5 90.4,1075.8 88.5,1071.2 86.6,1066.6 84.7,1061.9 82.9,1057.2 81.1,1052.5 79.4,1047.8 77.9,1043.1 76.4,1038.3 75.1,1033.4 73.9,1028.5 72.9,1023.6 72.1,1018.7 71.5,1013.7 71.2,1008.7 71.1,1003.7 71.2,998.7 71.7,993.7 72.4,988.7 73.5,983.8 74.9,979.0 76.7,974.3 78.8,969.8 81.3,965.4 84.1,961.3 87.3,957.4 90.8,953.8 94.6,950.5 98.7,947.7 103.1,945.3"/><path d="M127.1,1241.8 128.7,1237.0 130.1,1232.2 131.5,1227.4 132.7,1222.5 133.8,1217.6 134.7,1212.7 135.6,1207.7 136.3,1202.7 136.8,1197.8 137.3,1192.8 137.6,1187.8 137.8,1182.7 137.9,1177.7 137.9,1172.7 137.7,1167.7 137.4,1162.7 136.9,1157.7 136.4,1152.7 135.7,1147.7 134.9,1142.8 133.9,1137.8 132.9,1132.9 131.8,1128.0 130.7,1123.1 129.6,1118.2 128.6,1113.3 127.5,1108.4 126.4,1103.5 125.4,1098.6 124.3,1093.7 123.2,1088.8 122.1,1083.9 121.1,1079.0 120.0,1074.1 118.9,1069.2 117.9,1064.3 116.8,1059.3 115.9,1054.4 115.0,1049.5 114.2,1044.5 113.5,1039.5 113.1,1034.5 112.8,1029.5 112.7,1024.5 112.8,1019.5 113.2,1014.5 113.9,1009.5 114.9,1004.6 116.3,999.8 118.0,995.0 120.0,990.5 122.4,986.1 125.2,981.9 128.4,978.0 131.9,974.4 135.8,971.2 140.0,968.5 144.5,966.2 149.2,964.5 154.1,963.4 159.1,962.9 164.1,963.1 169.0,964.0"/><path d="M126.7,1243.0 128.3,1238.2 129.9,1233.4 131.3,1228.6 132.7,1223.7 133.9,1218.8 135.1,1213.9 136.1,1209.0 137.0,1204.0 137.9,1199.1 138.6,1194.1 139.3,1189.1 139.8,1184.1 140.2,1179.0 140.5,1174.0 140.8,1169.0 140.9,1163.9 141.1,1158.9 141.3,1153.9 141.5,1148.8 141.7,1143.8 141.9,1138.7 142.1,1133.7 142.2,1128.7 142.4,1123.6 142.6,1118.6 142.8,1113.6 143.0,1108.5 143.2,1103.5 143.4,1098.4 143.5,1093.4 143.7,1088.4 143.9,1083.3 144.1,1078.3 144.3,1073.2 144.5,1068.2 144.6,1063.2 144.9,1058.1 145.1,1053.1 145.4,1048.1 145.8,1043.0 146.3,1038.0 147.0,1033.0 147.8,1028.0 148.8,1023.1 150.0,1018.2 151.4,1013.3 153.0,1008.6 154.9,1003.9 157.1,999.4 159.6,995.0 162.3,990.7 165.4,986.7 168.8,983.0 172.4,979.5 176.4,976.4 180.6,973.6 185.1,971.3 189.7,969.4 194.6,968.1 199.6,967.2 204.6,967.0 209.6,967.4 214.6,968.3 219.4,969.9"/><path d="M125.1,1243.1 127.0,1238.4 128.8,1233.8 130.7,1229.1 132.6,1224.5 134.4,1219.8 136.3,1215.2 138.1,1210.5 140.0,1205.9 141.8,1201.2 143.7,1196.6 145.5,1191.9 147.3,1187.2 149.2,1182.6 151.0,1177.9 152.8,1173.3 154.7,1168.6 156.5,1163.9 158.3,1159.3 160.2,1154.6 162.0,1150.0 163.8,1145.3 165.7,1140.6 167.5,1136.0 169.3,1131.3 171.2,1126.7 173.0,1122.0 174.8,1117.3 176.7,1112.7 178.5,1108.0 180.4,1103.4 182.2,1098.7 184.0,1094.0 185.9,1089.4 187.7,1084.7 189.5,1080.0 191.4,1075.4 193.3,1070.8 195.3,1066.2 197.4,1061.6 199.6,1057.2 202.1,1052.8 204.6,1048.5 207.4,1044.3 210.5,1040.3 213.7,1036.5 217.2,1032.9 221.0,1029.6 225.0,1026.6 229.2,1024.0 233.7,1021.7 238.4,1019.9 243.2,1018.6 248.1,1017.8 253.1,1017.6 258.1,1018.0 263.0,1019.1 267.7,1020.8 272.2,1023.1 276.2,1026.1 279.7,1029.6 282.7,1033.7 284.9,1038.2"/><path d="M125.4,1241.8 127.4,1237.2 129.5,1232.6 131.7,1228.0 133.9,1223.4 136.2,1218.9 138.5,1214.4 140.9,1209.9 143.3,1205.5 145.8,1201.1 148.4,1196.7 150.9,1192.3 153.5,1187.9 156.0,1183.5 158.5,1179.1 161.1,1174.7 163.6,1170.4 166.2,1166.0 168.7,1161.6 171.3,1157.2 173.8,1152.8 176.3,1148.4 178.9,1144.0 181.4,1139.7 184.0,1135.3 186.5,1130.9 189.1,1126.5 191.6,1122.1 194.2,1117.7 196.7,1113.3 199.2,1109.0 201.8,1104.6 204.3,1100.2 206.9,1095.8 209.4,1091.4 212.0,1087.0 214.5,1082.7 217.1,1078.3 219.7,1074.0 222.4,1069.7 225.2,1065.4 228.1,1061.3 231.2,1057.2 234.4,1053.3 237.7,1049.5 241.2,1045.9 245.0,1042.4 248.9,1039.2 253.0,1036.2 257.2,1033.5 261.7,1031.1 266.4,1029.1 271.2,1027.4 276.1,1026.2 281.1,1025.4 286.1,1025.1 291.2,1025.4 296.2,1026.2 301.1,1027.5 305.8,1029.4 310.2,1031.9 314.3,1034.9 318.0,1038.4 321.1,1042.4"/><path d="M138.7,1242.3 140.1,1237.4 141.2,1232.6 142.2,1227.6 142.9,1222.7 143.4,1217.7 143.8,1212.7 143.9,1207.7 143.8,1202.7 143.4,1197.7 142.9,1192.7 142.2,1187.8 141.2,1182.9 140.1,1178.0 138.7,1173.2 137.2,1168.4 135.4,1163.7 133.4,1159.1 131.3,1154.6 129.0,1150.2 126.4,1145.8 123.7,1141.6 120.9,1137.5 117.8,1133.5 114.6,1129.7 111.3,1125.9 108.0,1122.1 104.8,1118.3 101.5,1114.6 98.2,1110.8 94.9,1107.0 91.7,1103.2 88.4,1099.4 85.1,1095.6 81.8,1091.8 78.6,1088.0 75.3,1084.3 72.1,1080.4 68.9,1076.6 65.7,1072.7 62.7,1068.7 59.8,1064.6 57.0,1060.5 54.4,1056.2 51.9,1051.8 49.7,1047.3 47.7,1042.7 46.0,1038.0 44.6,1033.2 43.6,1028.3 42.9,1023.4 42.6,1018.4 42.8,1013.4 43.4,1008.4 44.5,1003.5 46.0,998.7 48.1,994.2 50.7,989.9 53.7,985.9 57.2,982.3 61.1,979.2 65.5,976.7 70.1,974.7 74.9,973.5"/><path d="M140.3,1244.5 141.8,1239.6 143.1,1234.7 144.2,1229.8 145.2,1224.8 146.0,1219.8 146.6,1214.8 147.1,1209.7 147.3,1204.7 147.5,1199.6 147.4,1194.5 147.1,1189.5 146.7,1184.4 146.2,1179.4 145.4,1174.3 144.5,1169.4 143.4,1164.4 142.1,1159.5 140.7,1154.6 139.1,1149.8 137.3,1145.1 135.4,1140.4 133.3,1135.7 131.1,1131.2 128.7,1126.7 126.3,1122.2 124.0,1117.7 121.6,1113.2 119.3,1108.8 116.9,1104.3 114.5,1099.8 112.2,1095.3 109.8,1090.8 107.5,1086.3 105.1,1081.8 102.7,1077.3 100.4,1072.8 98.1,1068.3 95.8,1063.8 93.5,1059.3 91.4,1054.7 89.3,1050.1 87.3,1045.4 85.5,1040.6 83.8,1035.9 82.3,1031.0 81.0,1026.1 79.8,1021.2 78.9,1016.2 78.3,1011.2 77.9,1006.1 77.8,1001.0 78.0,996.0 78.6,990.9 79.4,985.9 80.7,981.0 82.3,976.2 84.2,971.5 86.6,967.1 89.3,962.8 92.4,958.8 95.9,955.1 99.7,951.7 103.9,948.8"/><path d="M140.8,1242.1 142.2,1237.3 143.4,1232.5 144.4,1227.6 145.3,1222.6 145.9,1217.7 146.4,1212.7 146.7,1207.7 146.8,1202.7 146.7,1197.7 146.4,1192.7 145.9,1187.7 145.2,1182.8 144.3,1177.8 143.4,1172.9 142.5,1168.0 141.6,1163.1 140.7,1158.2 139.8,1153.3 138.9,1148.3 138.0,1143.4 137.0,1138.5 136.1,1133.6 135.2,1128.7 134.3,1123.7 133.4,1118.8 132.5,1113.9 131.6,1109.0 130.7,1104.1 129.7,1099.2 128.8,1094.2 127.9,1089.3 127.0,1084.4 126.1,1079.5 125.2,1074.6 124.3,1069.6 123.4,1064.7 122.5,1059.8 121.8,1054.9 121.1,1049.9 120.5,1044.9 120.1,1039.9 119.9,1034.9 119.8,1029.9 120.0,1024.9 120.4,1020.0 121.1,1015.0 122.0,1010.1 123.3,1005.3 124.9,1000.5 126.8,995.9 129.1,991.5 131.8,987.2 134.8,983.2 138.2,979.6 141.9,976.2 145.9,973.3 150.3,970.8 154.9,968.8 159.7,967.3 164.6,966.5 169.6,966.3 174.6,966.7"/><path d="M141.4,1242.8 142.9,1238.0 144.2,1233.2 145.3,1228.3 146.3,1223.4 147.2,1218.4 147.8,1213.5 148.3,1208.5 148.6,1203.5 148.8,1198.4 148.9,1193.4 149.1,1188.4 149.2,1183.4 149.3,1178.4 149.4,1173.4 149.6,1168.3 149.7,1163.3 149.8,1158.3 150.0,1153.3 150.1,1148.3 150.2,1143.3 150.3,1138.2 150.5,1133.2 150.6,1128.2 150.7,1123.2 150.9,1118.2 151.0,1113.1 151.1,1108.1 151.3,1103.1 151.4,1098.1 151.5,1093.1 151.6,1088.1 151.8,1083.0 151.9,1078.0 152.0,1073.0 152.2,1068.0 152.3,1063.0 152.4,1058.0 152.6,1052.9 152.8,1047.9 153.1,1042.9 153.5,1037.9 154.0,1032.9 154.7,1027.9 155.5,1023.0 156.6,1018.1 157.8,1013.2 159.3,1008.4 161.0,1003.7 163.0,999.1 165.3,994.6 167.9,990.3 170.8,986.2 174.0,982.4 177.5,978.8 181.3,975.5 185.4,972.6 189.7,970.1 194.3,968.0 199.1,966.4 204.0,965.4 209.0,965.0 214.0,965.1 219.0,965.8 223.8,967.2 228.4,969.3"/><path d="M140.2,1244.7 142.1,1240.1 143.9,1235.4 145.7,1230.7 147.5,1225.9 149.4,1221.2 151.2,1216.5 153.0,1211.8 154.8,1207.1 156.5,1202.4 158.3,1197.7 160.1,1192.9 161.8,1188.2 163.6,1183.5 165.3,1178.7 167.0,1174.0 168.8,1169.3 170.5,1164.5 172.2,1159.8 173.9,1155.0 175.6,1150.3 177.3,1145.5 179.0,1140.8 180.7,1136.0 182.4,1131.3 184.1,1126.5 185.8,1121.7 187.5,1117.0 189.2,1112.2 190.9,1107.5 192.6,1102.7 194.3,1098.0 196.0,1093.2 197.7,1088.5 199.4,1083.7 201.1,1079.0 202.8,1074.2 204.5,1069.5 206.3,1064.8 208.1,1060.1 210.0,1055.4 212.0,1050.8 214.1,1046.2 216.3,1041.7 218.7,1037.2 221.2,1032.9 223.9,1028.6 226.8,1024.4 229.9,1020.4 233.2,1016.6 236.6,1012.9 240.3,1009.5 244.2,1006.2 248.3,1003.3 252.5,1000.6 257.0,998.2 261.6,996.2 266.4,994.6 271.3,993.4 276.3,992.6 281.3,992.2 286.3,992.4 291.3,993.0 296.3,994.2"/><path d="M140.8,1243.7 142.7,1239.0 144.8,1234.4 146.8,1229.8 149.0,1225.2 151.1,1220.6 153.3,1216.1 155.6,1211.6 157.9,1207.1 160.2,1202.6 162.6,1198.2 165.0,1193.7 167.4,1189.3 169.9,1185.0 172.5,1180.6 175.1,1176.3 177.7,1172.0 180.4,1167.7 183.1,1163.4 185.8,1159.2 188.6,1155.0 191.5,1150.8 194.3,1146.7 197.3,1142.5 200.2,1138.4 203.1,1134.3 206.0,1130.2 208.9,1126.0 211.8,1121.9 214.7,1117.8 217.6,1113.7 220.5,1109.5 223.4,1105.4 226.3,1101.3 229.2,1097.2 232.1,1093.0 235.0,1088.9 237.9,1084.8 240.9,1080.7 243.9,1076.7 247.0,1072.7 250.2,1068.8 253.5,1065.0 257.0,1061.3 260.6,1057.8 264.4,1054.4 268.3,1051.3 272.4,1048.3 276.7,1045.7 281.1,1043.3 285.8,1041.2 290.5,1039.6 295.4,1038.3 300.4,1037.5 305.4,1037.1 310.4,1037.2 315.4,1037.9 320.3,1039.1 325.1,1040.9 329.6,1043.2 333.7,1046.1 337.4,1049.4 340.7,1053.3 343.4,1057.6 345.4,1062.2"/><path d="M153.3,1244.0 154.8,1239.2 156.0,1234.3 156.9,1229.4 157.6,1224.4 158.0,1219.4 158.2,1214.4 158.1,1209.4 157.7,1204.4 157.1,1199.4 156.2,1194.5 155.0,1189.6 153.6,1184.8 152.0,1180.1 150.1,1175.4 147.9,1170.9 145.6,1166.5 143.0,1162.2 140.1,1158.1 137.3,1154.0 134.4,1149.8 131.5,1145.7 128.6,1141.6 125.8,1137.5 122.9,1133.4 120.0,1129.3 117.2,1125.2 114.3,1121.1 111.4,1117.0 108.5,1112.9 105.7,1108.7 102.8,1104.6 99.9,1100.5 97.1,1096.4 94.2,1092.3 91.3,1088.2 88.4,1084.1 85.6,1080.0 82.8,1075.8 80.0,1071.6 77.3,1067.4 74.7,1063.1 72.3,1058.7 69.9,1054.3 67.8,1049.8 65.8,1045.2 64.0,1040.5 62.5,1035.7 61.2,1030.8 60.3,1025.9 59.7,1021.0 59.4,1015.9 59.5,1010.9 59.9,1005.9 60.8,1001.0 62.2,996.2 64.0,991.5 66.2,987.0 68.9,982.8 72.0,978.8 75.6,975.3 79.5,972.2 83.8,969.6 88.3,967.5 93.2,966.1"/><path d="M155.0,1245.6 156.2,1240.8 157.2,1235.8 157.8,1230.8 158.0,1225.7 157.9,1220.7 157.5,1215.6 156.7,1210.6 155.5,1205.7 154.1,1200.8 152.3,1196.1 150.4,1191.4 148.5,1186.7 146.7,1182.0 144.8,1177.3 142.9,1172.6 141.1,1167.9 139.2,1163.2 137.3,1158.5 135.5,1153.8 133.6,1149.1 131.7,1144.4 129.9,1139.7 128.0,1135.0 126.1,1130.3 124.3,1125.6 122.4,1120.9 120.5,1116.2 118.7,1111.5 116.8,1106.8 114.9,1102.1 113.0,1097.4 111.2,1092.7 109.3,1088.0 107.4,1083.3 105.6,1078.6 103.7,1073.9 101.9,1069.2 100.0,1064.5 98.3,1059.7 96.6,1055.0 94.9,1050.2 93.4,1045.4 92.0,1040.5 90.8,1035.6 89.7,1030.6 88.8,1025.7 88.1,1020.7 87.6,1015.6 87.3,1010.6 87.4,1005.5 87.7,1000.5 88.2,995.4 89.1,990.5 90.4,985.6 92.0,980.8 93.9,976.1 96.2,971.6 98.8,967.2 101.8,963.2 105.1,959.4 108.8,955.9 112.8,952.8 117.1,950.1 121.6,947.9"/><path d="M155.2,1243.0 156.9,1238.2 158.3,1233.3 159.6,1228.4 160.7,1223.5 161.6,1218.5 162.3,1213.4 162.8,1208.4 163.1,1203.3 163.2,1198.2 163.2,1193.1 162.9,1188.1 162.4,1183.0 161.8,1178.0 160.9,1173.0 160.0,1168.0 159.1,1163.0 158.2,1158.0 157.3,1153.0 156.4,1148.0 155.5,1143.0 154.6,1138.0 153.7,1133.0 152.8,1128.0 151.9,1123.0 150.9,1118.0 150.0,1113.0 149.1,1108.0 148.2,1103.0 147.3,1098.0 146.4,1093.0 145.5,1088.0 144.6,1083.0 143.7,1078.0 142.8,1073.0 141.9,1068.0 141.0,1063.0 140.2,1058.0 139.5,1052.9 138.9,1047.9 138.5,1042.8 138.3,1037.7 138.3,1032.7 138.6,1027.6 139.1,1022.5 140.1,1017.5 141.3,1012.6 143.0,1007.8 145.0,1003.2 147.5,998.7 150.4,994.6 153.7,990.7 157.4,987.3 161.6,984.3 166.0,981.9 170.8,980.0 175.7,978.9 180.8,978.4 185.8,978.8 190.8,979.9 195.5,981.8 199.8,984.5 203.5,987.9"/><path d="M152.7,1243.4 154.6,1238.7 156.4,1234.0 158.2,1229.2 159.9,1224.5 161.5,1219.7 163.0,1214.8 164.5,1210.0 165.8,1205.1 167.1,1200.2 168.3,1195.3 169.5,1190.4 170.5,1185.4 171.5,1180.4 172.4,1175.5 173.2,1170.5 173.9,1165.5 174.6,1160.4 175.2,1155.4 175.9,1150.4 176.5,1145.4 177.2,1140.4 177.8,1135.3 178.5,1130.3 179.1,1125.3 179.8,1120.3 180.4,1115.3 181.1,1110.2 181.7,1105.2 182.4,1100.2 183.0,1095.2 183.7,1090.2 184.3,1085.1 185.0,1080.1 185.6,1075.1 186.3,1070.1 186.9,1065.1 187.7,1060.0 188.5,1055.1 189.5,1050.1 190.7,1045.2 192.0,1040.3 193.6,1035.5 195.4,1030.8 197.5,1026.2 200.0,1021.7 202.7,1017.5 205.8,1013.5 209.3,1009.8 213.1,1006.4 217.2,1003.4 221.6,1000.9 226.2,999.0 231.1,997.6 236.1,996.9 241.2,996.8 246.2,997.5 251.0,998.9 255.6,1001.1 259.8,1004.0 263.4,1007.6 266.3,1011.7 268.4,1016.3"/><path d="M152.9,1243.9 155.0,1239.4 157.0,1234.8 159.1,1230.2 161.1,1225.7 163.2,1221.1 165.2,1216.5 167.2,1211.9 169.3,1207.4 171.3,1202.8 173.3,1198.2 175.3,1193.6 177.3,1189.0 179.4,1184.4 181.4,1179.9 183.4,1175.3 185.3,1170.7 187.3,1166.1 189.3,1161.5 191.3,1156.9 193.3,1152.3 195.3,1147.7 197.2,1143.1 199.2,1138.5 201.2,1133.9 203.1,1129.3 205.1,1124.6 207.0,1120.0 209.0,1115.4 210.9,1110.8 212.9,1106.2 214.8,1101.6 216.8,1097.0 218.7,1092.4 220.7,1087.8 222.6,1083.1 224.6,1078.5 226.6,1073.9 228.6,1069.3 230.6,1064.8 232.8,1060.3 235.1,1055.8 237.4,1051.4 240.0,1047.1 242.7,1042.8 245.5,1038.7 248.6,1034.8 251.8,1031.0 255.3,1027.4 259.0,1024.0 262.9,1020.9 267.0,1018.0 271.4,1015.5 275.9,1013.3 280.6,1011.6 285.4,1010.2 290.3,1009.4 295.3,1009.0 300.3,1009.2 305.3,1009.9 310.1,1011.2 314.8,1013.0 319.2,1015.4 323.2,1018.4 326.8,1021.9"/><path d="M153.4,1245.2 155.6,1240.7 157.9,1236.3 160.2,1231.8 162.6,1227.4 165.0,1223.1 167.5,1218.7 170.0,1214.4 172.5,1210.1 175.2,1205.8 177.8,1201.6 180.4,1197.3 183.0,1193.0 185.6,1188.8 188.2,1184.5 190.8,1180.3 193.4,1176.0 196.1,1171.7 198.7,1167.5 201.3,1163.2 203.9,1158.9 206.5,1154.7 209.1,1150.4 211.7,1146.1 214.3,1141.9 216.9,1137.6 219.6,1133.3 222.2,1129.1 224.8,1124.8 227.4,1120.6 230.0,1116.3 232.6,1112.0 235.2,1107.8 237.8,1103.5 240.4,1099.2 243.1,1095.0 245.7,1090.7 248.3,1086.4 250.9,1082.2 253.6,1078.0 256.4,1073.8 259.3,1069.8 262.3,1065.8 265.5,1061.9 268.8,1058.2 272.3,1054.6 276.0,1051.2 279.9,1048.1 284.0,1045.2 288.3,1042.6 292.7,1040.4 297.4,1038.5 302.2,1037.1 307.1,1036.1 312.1,1035.7 317.1,1035.8 322.0,1036.4 326.9,1037.6 331.5,1039.5 335.9,1041.9 339.9,1044.9 343.4,1048.4 346.4,1052.5 348.7,1056.9 350.3,1061.6 351.0,1066.6"/><path d="M167.9,1244.9 169.6,1240.2 171.0,1235.4 172.2,1230.5 173.2,1225.6 173.8,1220.6 174.3,1215.6 174.4,1210.6 174.3,1205.6 174.0,1200.6 173.4,1195.6 172.5,1190.7 171.4,1185.8 170.1,1181.0 168.5,1176.2 166.6,1171.5 164.5,1167.0 162.2,1162.5 159.7,1158.2 156.9,1154.0 154.2,1149.8 151.4,1145.6 148.6,1141.4 145.9,1137.3 143.1,1133.1 140.4,1128.9 137.6,1124.7 134.8,1120.5 132.1,1116.3 129.3,1112.1 126.6,1107.9 123.8,1103.7 121.0,1099.6 118.3,1095.4 115.5,1091.2 112.8,1087.0 110.0,1082.8 107.3,1078.6 104.6,1074.3 102.0,1070.0 99.5,1065.7 97.1,1061.3 94.9,1056.8 92.7,1052.3 90.8,1047.6 89.0,1043.0 87.4,1038.2 86.1,1033.4 85.0,1028.5 84.2,1023.5 83.6,1018.5 83.5,1013.5 83.6,1008.5 84.1,1003.5 85.0,998.6 86.3,993.7 88.0,989.0 90.1,984.4 92.7,980.1 95.6,976.0 98.9,972.3 102.6,968.9 106.7,965.9"/><path d="M168.8,1244.6 170.5,1239.9 172.1,1235.2 173.4,1230.3 174.5,1225.5 175.4,1220.5 176.0,1215.6 176.5,1210.6 176.7,1205.6 176.6,1200.6 176.4,1195.6 175.9,1190.6 175.2,1185.6 174.3,1180.7 173.2,1175.8 171.8,1171.0 170.3,1166.2 168.7,1161.4 167.2,1156.7 165.7,1151.9 164.2,1147.1 162.6,1142.3 161.1,1137.6 159.6,1132.8 158.1,1128.0 156.5,1123.3 155.0,1118.5 153.5,1113.7 152.0,1108.9 150.4,1104.2 148.9,1099.4 147.4,1094.6 145.9,1089.9 144.3,1085.1 142.8,1080.3 141.3,1075.5 139.7,1070.8 138.2,1066.0 136.6,1061.3 135.0,1056.5 133.3,1051.8 131.6,1047.1 129.7,1042.4 127.8,1037.8 125.8,1033.2 123.6,1028.7 121.4,1024.2 118.9,1019.9 116.4,1015.6 113.7,1011.3 110.8,1007.2 107.7,1003.3 104.5,999.4 101.1,995.8 97.5,992.3 93.7,989.0 89.8,985.9 85.6,983.1 81.3,980.5 76.9,978.2 72.3,976.2 67.6,974.5 62.7,973.2 57.8,972.2"/><path d="M169.3,1244.8 171.3,1240.2 173.1,1235.6 174.9,1230.9 176.6,1226.2 178.1,1221.4 179.6,1216.6 180.9,1211.8 182.1,1207.0 183.2,1202.1 184.1,1197.2 185.0,1192.2 185.7,1187.3 186.3,1182.3 186.8,1177.4 187.2,1172.4 187.5,1167.4 187.6,1162.4 187.6,1157.4 187.5,1152.4 187.3,1147.4 186.9,1142.4 186.5,1137.4 186.1,1132.4 185.6,1127.4 185.2,1122.5 184.8,1117.5 184.3,1112.5 183.9,1107.5 183.5,1102.5 183.0,1097.5 182.6,1092.6 182.2,1087.6 181.7,1082.6 181.3,1077.6 180.9,1072.6 180.4,1067.6 180.0,1062.7 179.6,1057.7 179.3,1052.7 179.1,1047.7 179.0,1042.7 179.1,1037.7 179.3,1032.7 179.8,1027.7 180.6,1022.8 181.6,1017.9 182.9,1013.1 184.6,1008.3 186.6,1003.8 189.0,999.4 191.7,995.2 194.9,991.3 198.4,987.7 202.3,984.5 206.5,981.8 210.9,979.6 215.7,978.0 220.6,977.0 225.6,976.7 230.5,977.1 235.4,978.2 240.1,980.1 244.3,982.7 248.1,986.0 251.3,989.8"/><path d="M168.3,1246.7 170.3,1242.1 172.1,1237.4 173.7,1232.7 175.3,1227.9 176.7,1223.1 178.0,1218.3 179.1,1213.4 180.1,1208.5 180.9,1203.6 181.6,1198.6 182.2,1193.7 182.7,1188.7 183.3,1183.7 183.8,1178.8 184.4,1173.8 184.9,1168.8 185.5,1163.9 186.0,1158.9 186.6,1153.9 187.1,1148.9 187.7,1144.0 188.2,1139.0 188.8,1134.0 189.3,1129.1 189.9,1124.1 190.4,1119.1 191.0,1114.1 191.5,1109.2 192.1,1104.2 192.6,1099.2 193.2,1094.3 193.7,1089.3 194.3,1084.3 194.8,1079.4 195.4,1074.4 195.9,1069.4 196.5,1064.4 197.2,1059.5 197.9,1054.5 198.7,1049.6 199.7,1044.7 200.8,1039.8 202.1,1035.0 203.6,1030.2 205.4,1025.5 207.3,1020.9 209.5,1016.5 212.0,1012.1 214.8,1008.0 217.9,1004.0 221.2,1000.3 224.9,996.9 228.8,993.8 233.0,991.1 237.5,988.8 242.1,987.0 247.0,985.6 251.9,984.9 256.9,984.7 261.9,985.1 266.8,986.1 271.5,987.8 275.9,990.1"/><path d="M169.4,1246.0 171.6,1241.4 173.7,1236.8 175.8,1232.2 177.9,1227.5 179.9,1222.9 181.9,1218.2 183.8,1213.5 185.6,1208.8 187.5,1204.1 189.2,1199.3 191.0,1194.6 192.7,1189.8 194.4,1185.1 196.2,1180.3 197.9,1175.6 199.7,1170.8 201.4,1166.0 203.1,1161.3 204.9,1156.5 206.6,1151.8 208.4,1147.0 210.1,1142.2 211.8,1137.5 213.6,1132.7 215.3,1128.0 217.1,1123.2 218.8,1118.5 220.5,1113.7 222.3,1108.9 224.0,1104.2 225.8,1099.4 227.5,1094.7 229.2,1089.9 231.0,1085.1 232.7,1080.4 234.5,1075.6 236.2,1070.9 238.0,1066.1 239.8,1061.4 241.7,1056.7 243.7,1052.1 245.8,1047.5 248.0,1042.9 250.4,1038.4 252.9,1034.0 255.5,1029.7 258.4,1025.5 261.4,1021.4 264.6,1017.5 268.0,1013.8 271.7,1010.2 275.5,1006.9 279.5,1003.8 283.7,1001.0 288.2,998.6 292.8,996.4 297.5,994.7 302.4,993.3 307.4,992.4 312.4,991.9 317.5,991.9 322.5,992.4 327.5,993.4 332.3,994.9"/><path d="M167.5,1246.7 169.9,1242.3 172.4,1237.9 175.0,1233.5 177.6,1229.2 180.3,1224.9 183.0,1220.7 185.8,1216.5 188.7,1212.3 191.6,1208.2 194.5,1204.1 197.4,1200.0 200.3,1195.8 203.3,1191.7 206.2,1187.6 209.1,1183.5 212.0,1179.4 214.9,1175.2 217.8,1171.1 220.7,1167.0 223.7,1162.9 226.6,1158.7 229.5,1154.6 232.4,1150.5 235.3,1146.4 238.2,1142.3 241.1,1138.1 244.0,1134.0 247.0,1129.9 249.9,1125.8 252.8,1121.6 255.7,1117.5 258.6,1113.4 261.5,1109.3 264.4,1105.2 267.4,1101.0 270.3,1096.9 273.2,1092.8 276.1,1088.7 279.1,1084.6 282.1,1080.5 285.2,1076.5 288.3,1072.6 291.6,1068.7 294.9,1064.9 298.4,1061.3 301.9,1057.7 305.6,1054.2 309.4,1051.0 313.4,1047.8 317.5,1044.9 321.8,1042.2 326.2,1039.7 330.7,1037.5 335.4,1035.6 340.2,1033.9 345.0,1032.6 350.0,1031.7 355.0,1031.1 360.1,1031.0 365.1,1031.2 370.1,1031.9 375.0,1033.0 379.8,1034.6 384.4,1036.7 388.8,1039.2"/><path d="M181.7,1247.2 183.6,1242.5 185.2,1237.7 186.6,1232.8 187.8,1227.9 188.8,1222.9 189.6,1217.9 190.2,1212.8 190.5,1207.8 190.7,1202.7 190.6,1197.6 190.3,1192.6 189.7,1187.5 189.0,1182.5 188.0,1177.5 186.9,1172.6 185.5,1167.7 183.9,1162.9 182.1,1158.1 180.1,1153.5 177.9,1148.9 175.5,1144.4 172.9,1140.0 170.1,1135.8 167.1,1131.7 164.1,1127.6 161.1,1123.5 158.2,1119.4 155.2,1115.3 152.2,1111.2 149.2,1107.1 146.2,1103.0 143.2,1098.9 140.2,1094.8 137.2,1090.7 134.2,1086.6 131.2,1082.5 128.2,1078.4 125.3,1074.2 122.4,1070.1 119.6,1065.8 116.9,1061.6 114.3,1057.2 111.9,1052.7 109.6,1048.2 107.6,1043.5 105.9,1038.7 104.5,1033.8 103.4,1028.9 102.6,1023.9 102.2,1018.8 102.3,1013.7 102.8,1008.7 103.8,1003.7 105.3,998.9 107.4,994.2 109.9,989.8 112.9,985.8 116.5,982.1 120.5,979.0 124.8,976.4 129.5,974.5 134.5,973.2 139.5,972.8 144.6,973.2 149.5,974.4"/><path d="M183.3,1247.7 185.1,1242.9 186.7,1238.1 188.0,1233.2 189.0,1228.3 189.9,1223.2 190.5,1218.2 190.8,1213.1 190.9,1208.1 190.8,1203.0 190.4,1197.9 189.8,1192.9 188.9,1187.9 187.8,1183.0 186.5,1178.1 184.9,1173.2 183.3,1168.4 181.7,1163.6 180.2,1158.8 178.6,1153.9 177.0,1149.1 175.4,1144.3 173.9,1139.5 172.3,1134.7 170.7,1129.8 169.1,1125.0 167.5,1120.2 166.0,1115.4 164.4,1110.5 162.8,1105.7 161.2,1100.9 159.7,1096.1 158.1,1091.2 156.5,1086.4 154.9,1081.6 153.4,1076.8 151.8,1071.9 150.2,1067.1 148.7,1062.3 147.2,1057.4 145.8,1052.6 144.4,1047.7 143.2,1042.7 142.2,1037.8 141.3,1032.8 140.6,1027.7 140.2,1022.7 140.0,1017.6 140.0,1012.5 140.4,1007.5 141.1,1002.5 142.1,997.5 143.4,992.6 145.2,987.8 147.3,983.2 149.8,978.8 152.7,974.6 156.0,970.8 159.6,967.3 163.7,964.2 168.0,961.5 172.6,959.4 177.4,957.8 182.4,956.8 187.5,956.5 192.5,956.9"/><path d="M182.8,1246.3 184.7,1241.6 186.6,1236.9 188.2,1232.1 189.7,1227.3 191.1,1222.4 192.3,1217.5 193.4,1212.6 194.3,1207.6 195.0,1202.6 195.6,1197.6 196.0,1192.5 196.2,1187.5 196.3,1182.4 196.3,1177.3 196.1,1172.3 195.7,1167.2 195.3,1162.2 194.8,1157.2 194.4,1152.1 193.9,1147.1 193.5,1142.0 193.1,1137.0 192.6,1132.0 192.2,1126.9 191.7,1121.9 191.3,1116.9 190.9,1111.8 190.4,1106.8 190.0,1101.7 189.5,1096.7 189.1,1091.7 188.7,1086.6 188.2,1081.6 187.8,1076.5 187.3,1071.5 186.9,1066.5 186.5,1061.4 186.1,1056.4 185.7,1051.3 185.4,1046.3 185.2,1041.2 185.2,1036.2 185.3,1031.1 185.5,1026.1 185.9,1021.0 186.6,1016.0 187.4,1011.0 188.5,1006.1 189.9,1001.2 191.6,996.4 193.6,991.8 195.9,987.3 198.5,982.9 201.4,978.8 204.7,975.0 208.3,971.4 212.2,968.2 216.4,965.3 220.8,962.9 225.5,961.0 230.3,959.6 235.3,958.7 240.4,958.4 245.4,958.8 250.4,959.8"/><path d="M180.7,1247.1 182.8,1242.6 184.9,1238.0 186.9,1233.3 188.8,1228.7 190.7,1224.0 192.5,1219.3 194.2,1214.5 195.9,1209.8 197.4,1205.0 198.9,1200.2 200.4,1195.3 201.7,1190.5 203.0,1185.6 204.2,1180.7 205.3,1175.8 206.4,1170.8 207.3,1165.9 208.3,1160.9 209.1,1156.0 210.0,1151.0 210.8,1146.0 211.7,1141.1 212.6,1136.1 213.4,1131.1 214.3,1126.2 215.2,1121.2 216.0,1116.2 216.9,1111.2 217.7,1106.3 218.6,1101.3 219.5,1096.3 220.3,1091.4 221.2,1086.4 222.1,1081.4 222.9,1076.5 223.8,1071.5 224.7,1066.5 225.6,1061.6 226.6,1056.6 227.7,1051.7 228.9,1046.8 230.3,1041.9 231.7,1037.1 233.3,1032.3 235.1,1027.6 237.1,1023.0 239.3,1018.5 241.7,1014.0 244.4,1009.7 247.3,1005.6 250.4,1001.6 253.8,997.9 257.4,994.4 261.3,991.2 265.4,988.2 269.7,985.7 274.2,983.4 279.0,981.6 283.8,980.3 288.8,979.4 293.8,979.0 298.8,979.2 303.8,979.9"/><path d="M181.2,1245.7 183.5,1241.2 185.8,1236.7 188.1,1232.2 190.3,1227.7 192.6,1223.1 194.8,1218.6 197.0,1214.1 199.3,1209.5 201.5,1205.0 203.7,1200.4 205.8,1195.9 208.0,1191.3 210.2,1186.7 212.3,1182.2 214.5,1177.6 216.7,1173.0 218.8,1168.5 221.0,1163.9 223.1,1159.3 225.3,1154.7 227.4,1150.2 229.6,1145.6 231.7,1141.0 233.9,1136.5 236.0,1131.9 238.2,1127.3 240.4,1122.7 242.5,1118.2 244.7,1113.6 246.8,1109.0 249.0,1104.5 251.1,1099.9 253.3,1095.3 255.4,1090.7 257.6,1086.2 259.8,1081.6 261.9,1077.0 264.1,1072.5 266.4,1068.0 268.7,1063.5 271.1,1059.0 273.7,1054.7 276.3,1050.4 279.1,1046.1 282.0,1042.0 285.1,1038.0 288.4,1034.2 291.9,1030.5 295.5,1027.0 299.4,1023.7 303.4,1020.7 307.6,1017.9 312.0,1015.5 316.6,1013.3 321.3,1011.5 326.2,1010.2 331.2,1009.2 336.2,1008.7 341.2,1008.7 346.3,1009.1 351.2,1010.1 356.1,1011.6 360.7,1013.6 365.0,1016.2"/><path d="M182.4,1245.4 184.9,1241.1 187.4,1236.8 190.1,1232.5 192.8,1228.3 195.5,1224.1 198.4,1220.0 201.3,1215.9 204.3,1211.9 207.3,1207.9 210.4,1204.0 213.5,1200.1 216.7,1196.2 219.8,1192.3 222.9,1188.4 226.1,1184.5 229.2,1180.6 232.3,1176.7 235.5,1172.8 238.6,1168.9 241.7,1165.0 244.9,1161.1 248.0,1157.2 251.1,1153.3 254.3,1149.4 257.4,1145.5 260.5,1141.6 263.7,1137.7 266.8,1133.8 269.9,1129.9 273.1,1126.0 276.2,1122.1 279.3,1118.2 282.5,1114.3 285.6,1110.4 288.7,1106.5 291.9,1102.6 295.0,1098.7 298.2,1094.8 301.4,1091.0 304.6,1087.2 307.9,1083.4 311.3,1079.8 314.8,1076.2 318.4,1072.7 322.2,1069.4 326.0,1066.2 330.0,1063.2 334.2,1060.4 338.5,1057.8 342.9,1055.5 347.5,1053.4 352.1,1051.7 356.9,1050.2 361.8,1049.2 366.8,1048.5 371.8,1048.3 376.8,1048.4 381.7,1049.1 386.6,1050.2 391.4,1051.8 395.9,1053.8 400.2,1056.4 404.2,1059.4 407.8,1062.9 410.9,1066.8"/><path d="M195.0,1248.0 196.0,1243.1 196.6,1238.1 196.7,1233.0 196.3,1228.0 195.5,1223.0 194.2,1218.2 192.4,1213.5 190.3,1208.9 187.6,1204.6 184.7,1200.6 181.7,1196.5 178.8,1192.4 175.8,1188.4 172.8,1184.3 169.9,1180.2 166.9,1176.2 164.0,1172.1 161.0,1168.0 158.0,1164.0 155.1,1159.9 152.1,1155.8 149.2,1151.8 146.2,1147.7 143.2,1143.6 140.3,1139.6 137.3,1135.5 134.3,1131.4 131.4,1127.4 128.4,1123.3 125.5,1119.2 122.5,1115.2 119.5,1111.1 116.6,1107.0 113.6,1103.0 110.7,1098.9 107.7,1094.8 104.8,1090.7 101.9,1086.6 99.1,1082.4 96.4,1078.1 93.9,1073.8 91.5,1069.4 89.2,1064.9 87.2,1060.3 85.4,1055.6 83.9,1050.8 82.7,1045.9 81.9,1040.9 81.4,1035.9 81.3,1030.9 81.6,1025.9 82.4,1020.9 83.6,1016.0 85.3,1011.3 87.6,1006.8 90.3,1002.6 93.5,998.7 97.1,995.2 101.2,992.3 105.6,989.9 110.4,988.1 115.3,987.1 120.3,986.8"/><path d="M195.1,1248.8 196.7,1244.0 198.0,1239.1 199.1,1234.2 199.9,1229.2 200.4,1224.1 200.7,1219.1 200.7,1214.0 200.5,1208.9 199.9,1203.9 199.2,1198.9 198.1,1193.9 196.8,1189.0 195.3,1184.2 193.6,1179.4 191.9,1174.6 190.2,1169.9 188.5,1165.1 186.9,1160.3 185.2,1155.5 183.5,1150.7 181.8,1146.0 180.2,1141.2 178.5,1136.4 176.8,1131.6 175.1,1126.8 173.4,1122.0 171.8,1117.3 170.1,1112.5 168.4,1107.7 166.7,1102.9 165.1,1098.1 163.4,1093.4 161.7,1088.6 160.0,1083.8 158.3,1079.0 156.7,1074.2 155.0,1069.4 153.3,1064.7 151.7,1059.8 150.2,1055.0 148.7,1050.2 147.4,1045.3 146.2,1040.4 145.1,1035.4 144.2,1030.4 143.5,1025.4 142.9,1020.4 142.7,1015.3 142.6,1010.2 142.9,1005.2 143.4,1000.1 144.3,995.1 145.5,990.2 147.0,985.4 148.9,980.7 151.2,976.1 153.8,971.8 156.8,967.7 160.1,963.9 163.8,960.4 167.8,957.4 172.1,954.7 176.7,952.5 181.5,950.9 186.4,949.8"/><path d="M194.6,1247.4 196.5,1242.7 198.1,1238.0 199.7,1233.2 201.1,1228.4 202.3,1223.5 203.4,1218.6 204.4,1213.6 205.2,1208.7 205.8,1203.7 206.3,1198.7 206.7,1193.6 206.9,1188.6 206.9,1183.6 206.8,1178.6 206.6,1173.5 206.2,1168.5 205.6,1163.5 204.9,1158.5 204.1,1153.6 203.2,1148.6 202.3,1143.7 201.4,1138.7 200.5,1133.7 199.6,1128.8 198.7,1123.8 197.9,1118.9 197.0,1113.9 196.1,1109.0 195.2,1104.0 194.3,1099.1 193.4,1094.1 192.5,1089.2 191.6,1084.2 190.8,1079.3 189.9,1074.3 189.0,1069.3 188.1,1064.4 187.3,1059.4 186.6,1054.4 186.0,1049.4 185.6,1044.4 185.4,1039.4 185.4,1034.4 185.6,1029.3 186.1,1024.3 187.0,1019.4 188.2,1014.5 189.8,1009.7 191.8,1005.1 194.1,1000.6 196.9,996.5 200.2,992.6 203.8,989.1 207.8,986.1 212.2,983.5 216.8,981.6 221.7,980.3 226.7,979.7 231.7,979.9 236.6,980.9 241.4,982.6 245.7,985.1 249.6,988.4 252.8,992.2"/><path d="M194.5,1246.0 196.5,1241.3 198.4,1236.6 200.3,1231.9 202.0,1227.2 203.7,1222.4 205.3,1217.6 206.8,1212.7 208.3,1207.9 209.6,1203.0 210.9,1198.1 212.1,1193.2 213.2,1188.3 214.3,1183.3 215.2,1178.3 216.1,1173.3 216.8,1168.3 217.5,1163.3 218.2,1158.3 218.8,1153.3 219.4,1148.2 220.0,1143.2 220.6,1138.2 221.2,1133.2 221.8,1128.1 222.4,1123.1 223.0,1118.1 223.6,1113.0 224.2,1108.0 224.8,1103.0 225.4,1098.0 226.0,1092.9 226.6,1087.9 227.2,1082.9 227.8,1077.9 228.4,1072.8 229.0,1067.8 229.6,1062.8 230.3,1057.8 231.0,1052.7 231.8,1047.7 232.7,1042.8 233.7,1037.8 234.9,1032.9 236.3,1028.0 237.9,1023.2 239.6,1018.5 241.6,1013.8 243.8,1009.3 246.3,1004.8 249.1,1000.6 252.1,996.5 255.4,992.7 259.0,989.1 262.9,985.9 267.0,982.9 271.4,980.4 276.0,978.2 280.7,976.5 285.7,975.3 290.7,974.7 295.7,974.6 300.8,975.0 305.7,976.1 310.5,977.8"/><path d="M194.7,1245.9 196.9,1241.4 199.0,1236.9 201.1,1232.3 203.2,1227.7 205.3,1223.2 207.4,1218.6 209.5,1214.0 211.6,1209.5 213.6,1204.9 215.7,1200.3 217.7,1195.7 219.8,1191.1 221.8,1186.5 223.8,1181.9 225.8,1177.3 227.8,1172.7 229.8,1168.1 231.8,1163.4 233.7,1158.8 235.7,1154.2 237.6,1149.6 239.5,1144.9 241.5,1140.3 243.4,1135.6 245.3,1131.0 247.2,1126.3 249.1,1121.7 251.0,1117.0 252.9,1112.4 254.8,1107.7 256.7,1103.1 258.6,1098.4 260.5,1093.8 262.4,1089.1 264.3,1084.5 266.2,1079.8 268.1,1075.2 270.2,1070.6 272.3,1066.0 274.5,1061.5 276.8,1057.1 279.3,1052.7 282.0,1048.4 284.8,1044.3 287.8,1040.3 291.1,1036.4 294.5,1032.8 298.2,1029.3 302.1,1026.1 306.2,1023.2 310.5,1020.7 315.0,1018.4 319.6,1016.6 324.5,1015.2 329.4,1014.3 334.4,1013.8 339.4,1013.9 344.4,1014.5 349.3,1015.7 354.0,1017.5 358.5,1019.8 362.6,1022.7"/><path d="M194.5,1246.6 196.8,1242.1 199.0,1237.5 201.3,1233.0 203.6,1228.5 206.0,1224.0 208.3,1219.6 210.7,1215.1 213.1,1210.6 215.6,1206.2 218.0,1201.8 220.5,1197.4 223.0,1193.0 225.5,1188.6 228.0,1184.2 230.6,1179.9 233.2,1175.5 235.8,1171.2 238.4,1166.9 241.1,1162.6 243.8,1158.3 246.5,1154.0 249.2,1149.7 251.9,1145.5 254.7,1141.2 257.5,1137.0 260.3,1132.8 263.1,1128.6 265.9,1124.4 268.7,1120.2 271.5,1115.9 274.3,1111.7 277.1,1107.5 279.9,1103.3 282.7,1099.1 285.5,1094.9 288.3,1090.7 291.1,1086.5 294.0,1082.3 297.0,1078.3 300.1,1074.2 303.3,1070.3 306.7,1066.6 310.2,1062.9 313.9,1059.5 317.8,1056.2 321.9,1053.2 326.1,1050.5 330.6,1048.1 335.2,1046.1 340.0,1044.4 344.9,1043.2 349.9,1042.5 355.0,1042.3 360.0,1042.7 365.0,1043.6 369.8,1045.1 374.4,1047.3 378.7,1050.0 382.5,1053.2 385.9,1057.0 388.6,1061.3 390.7,1065.9 391.9,1070.8"/><path d="M211.2,1247.9 212.7,1243.0 213.9,1238.1 214.7,1233.2 215.1,1228.1 215.3,1223.1 215.0,1218.1 214.4,1213.1 213.5,1208.1 212.2,1203.2 210.6,1198.4 208.7,1193.8 206.4,1189.3 203.9,1184.9 201.0,1180.8 198.0,1176.7 195.1,1172.6 192.1,1168.6 189.1,1164.5 186.2,1160.4 183.2,1156.3 180.2,1152.3 177.3,1148.2 174.3,1144.1 171.3,1140.0 168.4,1136.0 165.4,1131.9 162.4,1127.8 159.5,1123.7 156.5,1119.7 153.5,1115.6 150.5,1111.5 147.6,1107.4 144.6,1103.4 141.6,1099.3 138.7,1095.2 135.7,1091.1 132.8,1087.1 129.8,1082.9 126.9,1078.8 124.1,1074.6 121.4,1070.4 118.7,1066.1 116.2,1061.7 113.8,1057.3 111.6,1052.8 109.5,1048.2 107.6,1043.5 106.0,1038.8 104.5,1033.9 103.4,1029.0 102.5,1024.0 101.9,1019.0 101.7,1014.0 101.8,1009.0 102.3,1003.9 103.2,999.0 104.4,994.1 106.1,989.3 108.2,984.8 110.7,980.4 113.6,976.3 116.9,972.5 120.6,969.0 124.6,966.0"/><path d="M210.1,1248.7 211.6,1243.9 212.8,1239.0 213.5,1234.0 214.0,1229.0 214.1,1224.0 213.8,1219.0 213.2,1214.0 212.2,1209.1 210.9,1204.2 209.2,1199.5 207.5,1194.7 205.7,1190.0 204.0,1185.3 202.3,1180.6 200.5,1175.9 198.8,1171.2 197.0,1166.4 195.3,1161.7 193.5,1157.0 191.8,1152.3 190.1,1147.6 188.3,1142.9 186.6,1138.1 184.8,1133.4 183.1,1128.7 181.3,1124.0 179.6,1119.3 177.9,1114.6 176.1,1109.8 174.4,1105.1 172.6,1100.4 170.9,1095.7 169.2,1091.0 167.4,1086.3 165.7,1081.5 164.0,1076.8 162.3,1072.1 160.7,1067.3 159.3,1062.5 157.9,1057.6 156.8,1052.7 155.8,1047.8 155.1,1042.8 154.7,1037.8 154.5,1032.8 154.7,1027.8 155.3,1022.8 156.2,1017.8 157.5,1013.0 159.3,1008.3 161.5,1003.8 164.2,999.5 167.3,995.5 170.8,991.9 174.7,988.8 179.0,986.2 183.6,984.2 188.5,982.8 193.4,982.1 198.5,982.2 203.4,983.0 208.2,984.7"/><path d="M211.0,1248.8 212.9,1244.1 214.6,1239.5 216.3,1234.7 217.7,1229.9 219.0,1225.1 220.2,1220.3 221.2,1215.3 222.0,1210.4 222.7,1205.5 223.2,1200.5 223.5,1195.5 223.7,1190.5 223.8,1185.5 223.6,1180.5 223.3,1175.5 222.9,1170.5 222.3,1165.5 221.5,1160.6 220.8,1155.6 220.0,1150.7 219.3,1145.8 218.5,1140.8 217.8,1135.9 217.0,1130.9 216.3,1126.0 215.5,1121.0 214.8,1116.1 214.0,1111.1 213.3,1106.2 212.6,1101.2 211.8,1096.3 211.1,1091.3 210.3,1086.4 209.6,1081.4 208.8,1076.5 208.1,1071.5 207.4,1066.6 206.8,1061.6 206.3,1056.6 205.9,1051.7 205.8,1046.7 205.8,1041.7 206.1,1036.7 206.7,1031.7 207.6,1026.8 208.8,1021.9 210.4,1017.2 212.4,1012.6 214.8,1008.2 217.6,1004.1 220.8,1000.2 224.5,996.8 228.5,993.8 232.8,991.3 237.5,989.5 242.3,988.2 247.3,987.7 252.3,988.0 257.2,989.0 261.9,990.9 266.1,993.4 269.9,996.8 273.0,1000.7"/><path d="M208.9,1248.9 211.0,1244.4 213.1,1239.8 215.1,1235.2 217.0,1230.6 218.9,1226.0 220.6,1221.3 222.4,1216.6 224.0,1211.9 225.6,1207.1 227.2,1202.4 228.6,1197.6 230.0,1192.8 231.3,1187.9 232.6,1183.1 233.7,1178.2 234.8,1173.4 235.9,1168.5 236.8,1163.5 237.7,1158.6 238.6,1153.7 239.3,1148.7 240.0,1143.8 240.6,1138.8 241.2,1133.8 241.8,1128.9 242.4,1123.9 243.0,1118.9 243.6,1114.0 244.2,1109.0 244.8,1104.0 245.4,1099.1 246.0,1094.1 246.6,1089.1 247.3,1084.2 247.9,1079.2 248.5,1074.2 249.1,1069.3 249.9,1064.3 250.6,1059.4 251.5,1054.4 252.5,1049.5 253.6,1044.7 254.9,1039.8 256.3,1035.0 257.9,1030.3 259.8,1025.6 261.8,1021.0 264.0,1016.6 266.5,1012.2 269.2,1008.0 272.2,1004.0 275.4,1000.2 278.9,996.6 282.6,993.2 286.6,990.2 290.8,987.5 295.2,985.1 299.8,983.2 304.6,981.6 309.5,980.6 314.5,980.0 319.5,979.9"/><path d="M208.6,1249.4 210.8,1244.9 213.1,1240.4 215.2,1235.9 217.4,1231.4 219.6,1226.9 221.7,1222.3 223.8,1217.8 225.9,1213.2 227.9,1208.6 229.9,1204.1 232.0,1199.5 233.9,1194.9 235.9,1190.3 237.8,1185.6 239.8,1181.0 241.7,1176.4 243.5,1171.7 245.4,1167.1 247.2,1162.4 249.0,1157.7 250.8,1153.0 252.5,1148.3 254.3,1143.6 256.0,1138.9 257.7,1134.2 259.3,1129.5 261.0,1124.8 262.7,1120.0 264.3,1115.3 266.0,1110.6 267.7,1105.9 269.3,1101.1 271.0,1096.4 272.7,1091.7 274.3,1086.9 276.0,1082.2 277.6,1077.5 279.3,1072.8 281.1,1068.1 282.9,1063.4 284.7,1058.7 286.7,1054.1 288.8,1049.6 291.0,1045.1 293.3,1040.6 295.8,1036.3 298.4,1032.0 301.3,1027.9 304.3,1023.9 307.6,1020.1 311.0,1016.5 314.6,1013.0 318.5,1009.8 322.6,1006.9 326.8,1004.2 331.2,1001.9 335.9,999.9 340.6,998.3 345.5,997.1 350.4,996.4 355.4,996.1 360.4,996.3 365.4,997.0 370.3,998.3 375.0,1000.0"/><path d="M209.4,1248.4 211.9,1243.9 214.4,1239.5 217.0,1235.1 219.6,1230.8 222.3,1226.4 225.0,1222.2 227.7,1217.9 230.6,1213.7 233.4,1209.5 236.3,1205.3 239.1,1201.1 242.0,1196.9 244.8,1192.7 247.7,1188.5 250.6,1184.3 253.4,1180.1 256.3,1175.9 259.1,1171.7 262.0,1167.5 264.8,1163.3 267.7,1159.1 270.5,1154.9 273.4,1150.7 276.2,1146.5 279.1,1142.3 281.9,1138.1 284.8,1133.9 287.7,1129.7 290.5,1125.5 293.4,1121.3 296.2,1117.1 299.1,1112.9 301.9,1108.7 304.8,1104.5 307.6,1100.3 310.5,1096.1 313.4,1091.9 316.4,1087.8 319.5,1083.7 322.6,1079.8 325.9,1075.9 329.3,1072.1 332.8,1068.5 336.5,1065.0 340.4,1061.7 344.5,1058.7 348.7,1055.9 353.1,1053.3 357.7,1051.1 362.4,1049.2 367.3,1047.7 372.2,1046.7 377.3,1046.0 382.3,1045.9 387.4,1046.3 392.4,1047.2 397.3,1048.6 401.9,1050.6 406.3,1053.2 410.4,1056.2 414.0,1059.8 417.1,1063.8"/><path d="M222.6,1250.8 224.1,1246.0 225.2,1241.0 226.2,1236.1 226.9,1231.1 227.3,1226.0 227.5,1221.0 227.4,1215.9 227.0,1210.9 226.4,1205.8 225.6,1200.8 224.5,1195.9 223.2,1191.0 221.6,1186.2 219.8,1181.5 217.7,1176.9 215.4,1172.4 212.9,1168.0 210.2,1163.7 207.3,1159.6 204.4,1155.4 201.5,1151.3 198.6,1147.1 195.7,1143.0 192.9,1138.8 190.0,1134.6 187.1,1130.5 184.2,1126.3 181.3,1122.2 178.4,1118.0 175.6,1113.9 172.7,1109.7 169.8,1105.6 166.9,1101.4 164.0,1097.2 161.1,1093.1 158.3,1088.9 155.4,1084.8 152.5,1080.6 149.7,1076.4 146.9,1072.2 144.2,1067.9 141.6,1063.6 139.0,1059.2 136.6,1054.8 134.3,1050.3 132.2,1045.7 130.2,1041.0 128.4,1036.3 126.9,1031.5 125.5,1026.6 124.4,1021.7 123.6,1016.7 123.1,1011.6 122.9,1006.6 123.0,1001.5 123.4,996.5 124.3,991.5 125.5,986.6 127.0,981.8 129.0,977.1 131.4,972.7 134.2,968.4 137.3,964.5 140.9,960.9 144.7,957.6"/><path d="M223.8,1250.7 225.5,1246.0 227.0,1241.2 228.4,1236.3 229.6,1231.5 230.7,1226.6 231.6,1221.7 232.4,1216.7 233.0,1211.7 233.5,1206.7 233.9,1201.7 234.1,1196.7 234.1,1191.7 234.0,1186.7 233.8,1181.7 233.4,1176.7 232.8,1171.7 232.1,1166.7 231.3,1161.8 230.3,1156.8 229.2,1152.0 227.9,1147.1 226.5,1142.3 224.9,1137.5 223.2,1132.8 221.3,1128.1 219.4,1123.5 217.5,1118.9 215.6,1114.2 213.7,1109.6 211.8,1105.0 209.8,1100.3 207.9,1095.7 206.0,1091.0 204.1,1086.4 202.2,1081.8 200.3,1077.1 198.5,1072.5 196.7,1067.8 195.0,1063.0 193.5,1058.3 192.1,1053.4 190.9,1048.6 189.9,1043.6 189.1,1038.7 188.6,1033.7 188.4,1028.7 188.5,1023.7 189.0,1018.7 189.8,1013.7 191.0,1008.9 192.7,1004.1 194.8,999.5 197.3,995.2 200.2,991.1 203.5,987.4 207.3,984.1 211.4,981.2 215.8,978.8 220.5,977.1 225.4,976.0 230.4,975.6 235.5,975.9"/><path d="M225.0,1249.7 226.8,1245.0 228.4,1240.2 230.0,1235.4 231.4,1230.6 232.7,1225.7 234.0,1220.8 235.1,1215.9 236.1,1211.0 237.0,1206.0 237.8,1201.1 238.4,1196.1 239.0,1191.1 239.5,1186.0 239.8,1181.0 240.1,1176.0 240.2,1170.9 240.2,1165.9 240.1,1160.9 239.9,1155.8 239.6,1150.8 239.1,1145.8 238.6,1140.7 238.2,1135.7 237.7,1130.7 237.2,1125.7 236.7,1120.7 236.2,1115.7 235.7,1110.6 235.3,1105.6 234.8,1100.6 234.3,1095.6 233.8,1090.6 233.3,1085.6 232.8,1080.5 232.4,1075.5 231.9,1070.5 231.5,1065.5 231.2,1060.5 230.9,1055.4 230.8,1050.4 230.8,1045.3 231.1,1040.3 231.5,1035.3 232.1,1030.3 233.0,1025.3 234.1,1020.4 235.6,1015.6 237.4,1010.9 239.5,1006.3 241.9,1001.9 244.7,997.7 247.8,993.7 251.2,990.0 255.0,986.7 259.2,983.8 263.6,981.4 268.2,979.4 273.0,978.0 278.0,977.2 283.0,977.0 288.1,977.4 293.0,978.6"/><path d="M222.5,1249.9 224.3,1245.2 226.0,1240.5 227.6,1235.7 229.1,1231.0 230.5,1226.1 231.9,1221.3 233.1,1216.4 234.2,1211.5 235.3,1206.6 236.2,1201.7 237.1,1196.7 237.8,1191.8 238.6,1186.8 239.4,1181.8 240.1,1176.9 240.9,1171.9 241.6,1166.9 242.4,1162.0 243.2,1157.0 243.9,1152.0 244.7,1147.1 245.4,1142.1 246.2,1137.1 247.0,1132.2 247.7,1127.2 248.5,1122.2 249.3,1117.3 250.0,1112.3 250.8,1107.3 251.5,1102.4 252.3,1097.4 253.1,1092.4 253.8,1087.5 254.6,1082.5 255.3,1077.5 256.1,1072.6 256.9,1067.6 257.7,1062.7 258.7,1057.7 259.7,1052.8 260.9,1047.9 262.2,1043.1 263.8,1038.3 265.6,1033.6 267.6,1029.0 269.9,1024.6 272.5,1020.3 275.4,1016.2 278.6,1012.3 282.2,1008.7 286.0,1005.5 290.1,1002.6 294.5,1000.2 299.2,998.3 304.0,996.9 308.9,996.1 314.0,995.9 319.0,996.5 323.8,997.7 328.5,999.6 332.8,1002.1 336.7,1005.4 339.9,1009.2 342.5,1013.5"/><path d="M222.7,1249.1 224.6,1244.5 226.6,1239.8 228.5,1235.1 230.4,1230.4 232.3,1225.7 234.2,1221.0 236.1,1216.3 237.9,1211.5 239.7,1206.8 241.5,1202.0 243.2,1197.3 245.0,1192.5 246.7,1187.8 248.4,1183.0 250.1,1178.2 251.8,1173.4 253.4,1168.6 255.0,1163.8 256.6,1159.0 258.2,1154.2 259.8,1149.4 261.3,1144.5 262.9,1139.7 264.5,1134.9 266.1,1130.1 267.6,1125.3 269.2,1120.4 270.8,1115.6 272.3,1110.8 273.9,1106.0 275.5,1101.2 277.1,1096.3 278.6,1091.5 280.2,1086.7 281.8,1081.9 283.4,1077.1 285.0,1072.3 286.7,1067.5 288.4,1062.7 290.3,1058.0 292.3,1053.4 294.5,1048.8 296.8,1044.3 299.4,1039.9 302.1,1035.6 305.1,1031.5 308.3,1027.6 311.8,1023.9 315.5,1020.5 319.5,1017.4 323.8,1014.6 328.2,1012.2 332.9,1010.2 337.7,1008.7 342.7,1007.6 347.7,1007.2 352.8,1007.3 357.8,1008.0 362.7,1009.3 367.4,1011.3 371.8,1013.8 375.7,1017.0 379.2,1020.7"/><path d="M224.1,1249.0 226.2,1244.4 228.3,1239.9 230.5,1235.3 232.7,1230.8 234.9,1226.3 237.2,1221.9 239.5,1217.4 241.8,1212.9 244.2,1208.5 246.6,1204.1 249.0,1199.7 251.5,1195.4 254.0,1191.0 256.5,1186.7 259.0,1182.3 261.6,1178.1 264.3,1173.8 266.9,1169.5 269.6,1165.2 272.2,1161.0 274.8,1156.7 277.5,1152.4 280.1,1148.2 282.8,1143.9 285.4,1139.7 288.1,1135.4 290.7,1131.1 293.3,1126.9 296.0,1122.6 298.6,1118.3 301.3,1114.1 303.9,1109.8 306.6,1105.5 309.2,1101.3 311.8,1097.0 314.5,1092.7 317.2,1088.5 319.9,1084.3 322.7,1080.1 325.6,1076.0 328.5,1071.9 331.6,1068.0 334.8,1064.1 338.1,1060.3 341.5,1056.6 345.1,1053.1 348.8,1049.7 352.7,1046.5 356.7,1043.6 360.9,1040.8 365.2,1038.3 369.7,1036.0 374.3,1034.1 379.1,1032.5 383.9,1031.2 388.9,1030.3 393.9,1029.8 398.9,1029.7 403.9,1030.1 408.9,1030.9 413.7,1032.2 418.4,1033.9"/><path d="M238.7,1249.8 239.9,1245.0 241.0,1240.1 241.7,1235.1 242.3,1230.1 242.5,1225.1 242.5,1220.1 242.2,1215.1 241.7,1210.1 240.9,1205.2 239.8,1200.3 238.5,1195.5 236.9,1190.7 235.1,1186.0 233.0,1181.5 230.7,1177.0 228.2,1172.7 225.4,1168.5 222.5,1164.4 219.3,1160.6 216.0,1156.7 212.8,1152.9 209.6,1149.1 206.3,1145.3 203.1,1141.4 199.9,1137.6 196.6,1133.8 193.4,1130.0 190.1,1126.1 186.9,1122.3 183.7,1118.5 180.4,1114.7 177.2,1110.8 173.9,1107.0 170.7,1103.2 167.5,1099.4 164.2,1095.5 161.0,1091.7 157.9,1087.8 154.7,1083.9 151.7,1079.9 148.8,1075.8 146.0,1071.7 143.3,1067.4 140.7,1063.1 138.4,1058.7 136.3,1054.1 134.4,1049.5 132.7,1044.7 131.4,1039.9 130.3,1035.0 129.6,1030.1 129.3,1025.1 129.4,1020.0 129.8,1015.1 130.7,1010.1 132.0,1005.3 133.8,1000.6 136.1,996.1 138.8,991.9 141.9,988.0 145.5,984.5 149.5,981.4 153.8,978.8"/><path d="M238.1,1250.0 239.5,1245.1 240.7,1240.2 241.6,1235.2 242.3,1230.2 242.7,1225.2 242.9,1220.1 242.9,1215.1 242.7,1210.0 242.2,1205.0 241.5,1200.0 240.6,1195.0 239.4,1190.1 238.0,1185.2 236.4,1180.5 234.6,1175.7 232.9,1171.0 231.1,1166.2 229.4,1161.5 227.6,1156.8 225.8,1152.0 224.1,1147.3 222.3,1142.6 220.6,1137.8 218.8,1133.1 217.0,1128.3 215.3,1123.6 213.5,1118.9 211.8,1114.1 210.0,1109.4 208.2,1104.7 206.5,1099.9 204.7,1095.2 203.0,1090.4 201.2,1085.7 199.4,1081.0 197.7,1076.2 195.9,1071.5 194.1,1066.8 192.3,1062.0 190.5,1057.3 188.7,1052.6 186.8,1047.9 184.9,1043.2 182.9,1038.6 180.8,1034.0 178.7,1029.4 176.5,1024.8 174.2,1020.3 171.9,1015.9 169.4,1011.4 166.9,1007.1 164.2,1002.8 161.4,998.6 158.5,994.4 155.5,990.4 152.3,986.4 149.1,982.6 145.7,978.8 142.1,975.2 138.5,971.7 134.7,968.4 130.7,965.2 126.7,962.2 122.5,959.4 118.2,956.8"/><path d="M236.8,1250.8 238.5,1246.1 240.1,1241.4 241.6,1236.6 243.1,1231.8 244.4,1226.9 245.7,1222.1 246.9,1217.2 247.9,1212.3 248.9,1207.4 249.8,1202.4 250.7,1197.5 251.4,1192.5 252.0,1187.5 252.6,1182.5 253.0,1177.5 253.4,1172.5 253.7,1167.5 253.8,1162.5 253.9,1157.4 253.9,1152.4 253.8,1147.4 253.7,1142.4 253.4,1137.4 253.0,1132.4 252.6,1127.4 252.0,1122.4 251.5,1117.4 251.0,1112.4 250.5,1107.4 250.0,1102.4 249.4,1097.4 248.9,1092.4 248.4,1087.4 247.9,1082.4 247.4,1077.4 246.9,1072.4 246.4,1067.4 246.1,1062.4 245.8,1057.4 245.7,1052.4 245.8,1047.3 246.1,1042.3 246.6,1037.3 247.4,1032.4 248.4,1027.4 249.8,1022.6 251.5,1017.9 253.5,1013.3 255.9,1008.9 258.7,1004.7 261.9,1000.8 265.4,997.2 269.3,994.0 273.5,991.3 278.0,989.0 282.7,987.4 287.6,986.3 292.6,985.9 297.6,986.2 302.5,987.2 307.3,988.9 311.6,991.4"/><path d="M237.0,1251.7 238.7,1246.9 240.2,1242.1 241.7,1237.3 243.0,1232.4 244.2,1227.4 245.3,1222.5 246.2,1217.5 247.1,1212.5 247.8,1207.5 248.4,1202.4 248.9,1197.4 249.3,1192.3 249.7,1187.3 250.1,1182.2 250.4,1177.2 250.8,1172.1 251.2,1167.1 251.6,1162.0 252.0,1156.9 252.4,1151.9 252.7,1146.8 253.1,1141.8 253.5,1136.7 253.9,1131.7 254.3,1126.6 254.6,1121.5 255.0,1116.5 255.4,1111.4 255.8,1106.4 256.2,1101.3 256.5,1096.3 256.9,1091.2 257.3,1086.2 257.7,1081.1 258.1,1076.0 258.5,1071.0 258.8,1065.9 259.3,1060.9 259.8,1055.8 260.4,1050.8 261.1,1045.8 261.9,1040.8 263.0,1035.8 264.3,1030.9 265.8,1026.1 267.5,1021.3 269.6,1016.7 271.9,1012.2 274.6,1007.9 277.6,1003.8 280.9,1000.0 284.6,996.4 288.6,993.3 292.9,990.6 297.4,988.3 302.2,986.6 307.1,985.5 312.2,985.0 317.2,985.1 322.2,986.0 327.1,987.5 331.6,989.8 335.7,992.7 339.4,996.2 342.4,1000.3"/><path d="M238.1,1249.4 239.9,1244.8 241.8,1240.1 243.6,1235.4 245.4,1230.7 247.2,1226.0 249.0,1221.3 250.8,1216.6 252.5,1211.8 254.3,1207.1 256.0,1202.4 257.6,1197.6 259.3,1192.9 261.0,1188.1 262.6,1183.3 264.2,1178.6 265.8,1173.8 267.4,1169.0 269.0,1164.2 270.5,1159.4 272.1,1154.6 273.6,1149.9 275.2,1145.1 276.8,1140.3 278.3,1135.5 279.9,1130.7 281.5,1125.9 283.0,1121.1 284.6,1116.3 286.2,1111.6 287.7,1106.8 289.3,1102.0 290.8,1097.2 292.4,1092.4 294.0,1087.6 295.5,1082.8 297.1,1078.0 298.7,1073.3 300.3,1068.5 301.9,1063.7 303.7,1059.0 305.5,1054.3 307.5,1049.7 309.6,1045.1 311.9,1040.6 314.4,1036.3 317.1,1032.0 320.1,1027.9 323.2,1024.0 326.7,1020.3 330.3,1016.9 334.2,1013.7 338.4,1010.9 342.8,1008.4 347.4,1006.3 352.2,1004.7 357.1,1003.6 362.1,1003.0 367.1,1003.0 372.1,1003.6 377.0,1004.8 381.7,1006.6 386.1,1009.0 390.2,1012.0 393.8,1015.6 396.8,1019.6"/><path d="M238.9,1251.6 241.0,1247.1 243.2,1242.5 245.5,1238.1 247.8,1233.7 250.3,1229.3 252.8,1224.9 255.4,1220.6 258.0,1216.4 260.8,1212.2 263.6,1208.1 266.5,1204.0 269.4,1199.9 272.3,1195.8 275.2,1191.7 278.1,1187.6 281.0,1183.5 283.8,1179.4 286.7,1175.3 289.6,1171.2 292.5,1167.1 295.4,1163.0 298.3,1158.9 301.2,1154.8 304.1,1150.7 307.0,1146.6 309.9,1142.5 312.8,1138.5 315.7,1134.4 318.6,1130.3 321.5,1126.2 324.3,1122.1 327.2,1118.0 330.1,1113.9 333.0,1109.8 335.9,1105.7 338.8,1101.6 341.7,1097.5 344.7,1093.5 347.7,1089.5 350.8,1085.5 353.9,1081.6 357.2,1077.8 360.6,1074.1 364.0,1070.5 367.7,1067.0 371.4,1063.7 375.3,1060.6 379.4,1057.6 383.6,1054.8 387.9,1052.3 392.4,1050.1 397.0,1048.1 401.7,1046.5 406.6,1045.2 411.5,1044.3 416.5,1043.8 421.5,1043.7 426.5,1044.0 431.5,1044.8 436.3,1046.1 441.0,1047.8 445.5,1050.0 449.7,1052.7"/><path d="M251.9,1252.5 252.7,1247.6 253.1,1242.5 253.2,1237.5 252.8,1232.5 252.1,1227.5 251.0,1222.6 249.5,1217.8 247.6,1213.1 245.4,1208.5 242.9,1204.2 240.0,1200.0 236.8,1196.1 233.4,1192.4 229.9,1188.7 226.5,1185.0 223.1,1181.3 219.7,1177.6 216.2,1174.0 212.8,1170.3 209.4,1166.6 206.0,1162.9 202.5,1159.2 199.1,1155.5 195.7,1151.8 192.3,1148.1 188.8,1144.4 185.4,1140.7 182.0,1137.0 178.6,1133.3 175.1,1129.6 171.7,1125.9 168.3,1122.2 164.9,1118.5 161.4,1114.8 158.0,1111.1 154.6,1107.4 151.2,1103.7 147.8,1099.9 144.5,1096.2 141.2,1092.3 138.0,1088.4 135.0,1084.4 132.0,1080.3 129.2,1076.1 126.6,1071.8 124.2,1067.4 122.0,1062.8 120.1,1058.2 118.5,1053.4 117.2,1048.5 116.2,1043.6 115.6,1038.6 115.4,1033.5 115.6,1028.5 116.2,1023.5 117.3,1018.6 118.9,1013.8 121.0,1009.2 123.6,1004.9 126.6,1000.8 130.1,997.2 133.9,994.0 138.2,991.3 142.8,989.2"/><path d="M251.7,1251.3 253.0,1246.5 254.2,1241.5 255.2,1236.6 256.1,1231.6 256.8,1226.6 257.3,1221.6 257.6,1216.5 257.8,1211.5 257.8,1206.4 257.7,1201.4 257.4,1196.3 256.9,1191.3 256.2,1186.3 255.4,1181.3 254.4,1176.3 253.3,1171.4 251.9,1166.5 250.5,1161.7 248.8,1156.9 247.1,1152.1 245.1,1147.5 243.0,1142.9 240.8,1138.3 238.4,1133.9 235.9,1129.4 233.5,1125.0 231.1,1120.5 228.7,1116.1 226.3,1111.6 223.9,1107.2 221.5,1102.7 219.1,1098.3 216.7,1093.9 214.3,1089.4 211.9,1085.0 209.5,1080.5 207.1,1076.0 204.8,1071.6 202.5,1067.0 200.4,1062.4 198.4,1057.8 196.6,1053.1 195.0,1048.3 193.6,1043.4 192.5,1038.5 191.7,1033.5 191.3,1028.4 191.2,1023.4 191.5,1018.3 192.3,1013.3 193.6,1008.4 195.3,1003.7 197.6,999.2 200.3,994.9 203.5,991.0 207.2,987.6 211.3,984.6 215.8,982.3 220.6,980.6 225.6,979.7 230.6,979.6 235.6,980.3 240.5,981.8 244.9,984.2"/><path d="M253.5,1249.9 254.8,1245.0 255.9,1240.1 256.9,1235.2 257.6,1230.2 258.2,1225.2 258.7,1220.2 258.9,1215.1 259.0,1210.1 258.8,1205.0 258.5,1200.0 258.1,1195.0 257.4,1190.0 256.6,1185.0 255.6,1180.1 254.6,1175.1 253.6,1170.2 252.6,1165.2 251.6,1160.3 250.7,1155.3 249.7,1150.4 248.7,1145.4 247.7,1140.5 246.7,1135.5 245.7,1130.6 244.8,1125.7 243.8,1120.7 242.8,1115.8 241.8,1110.8 240.8,1105.9 239.9,1100.9 238.9,1096.0 237.9,1091.0 236.9,1086.1 235.9,1081.1 234.9,1076.2 234.0,1071.2 233.0,1066.3 231.9,1061.4 230.9,1056.4 229.8,1051.5 228.6,1046.6 227.3,1041.7 225.9,1036.9 224.4,1032.1 222.8,1027.3 221.0,1022.6 219.1,1017.9 217.0,1013.3 214.7,1008.8 212.2,1004.4 209.6,1000.1 206.7,996.0 203.6,992.0 200.3,988.2 196.8,984.6 193.1,981.2 189.2,978.0 185.0,975.1 180.7,972.5 176.2,970.3 171.5,968.4 166.7,966.8 161.8,965.7 156.8,965.0"/><path d="M251.1,1250.1 252.7,1245.3 254.1,1240.4 255.5,1235.6 256.7,1230.7 257.9,1225.7 259.0,1220.8 260.0,1215.9 260.9,1210.9 261.8,1205.9 262.5,1200.9 263.1,1195.9 263.7,1190.9 264.2,1185.8 264.6,1180.8 264.9,1175.8 265.1,1170.7 265.2,1165.7 265.3,1160.6 265.5,1155.6 265.6,1150.5 265.7,1145.5 265.9,1140.4 266.0,1135.3 266.1,1130.3 266.2,1125.2 266.4,1120.2 266.5,1115.1 266.6,1110.1 266.8,1105.0 266.9,1100.0 267.0,1094.9 267.2,1089.9 267.3,1084.8 267.4,1079.8 267.6,1074.7 267.7,1069.7 267.8,1064.6 267.9,1059.6 268.0,1054.5 268.0,1049.5 268.0,1044.4 267.9,1039.4 267.7,1034.3 267.3,1029.3 266.9,1024.2 266.3,1019.2 265.6,1014.2 264.7,1009.2 263.7,1004.3 262.4,999.4 260.9,994.6 259.3,989.8 257.4,985.1 255.2,980.5 252.9,976.1 250.2,971.8 247.3,967.6 244.2,963.6 240.8,959.9 237.2,956.4 233.3,953.1 229.2,950.2 224.9,947.5 220.4,945.3 215.7,943.4"/><path d="M252.9,1252.2 254.6,1247.5 256.3,1242.8 257.9,1238.0 259.5,1233.3 261.1,1228.5 262.7,1223.8 264.3,1219.0 265.8,1214.2 267.4,1209.4 268.9,1204.7 270.4,1199.9 271.8,1195.1 273.3,1190.3 274.7,1185.5 276.1,1180.6 277.5,1175.8 278.9,1171.0 280.2,1166.2 281.6,1161.3 282.9,1156.5 284.3,1151.7 285.6,1146.8 287.0,1142.0 288.3,1137.2 289.7,1132.3 291.0,1127.5 292.3,1122.7 293.7,1117.8 295.0,1113.0 296.4,1108.1 297.7,1103.3 299.1,1098.5 300.4,1093.6 301.8,1088.8 303.1,1084.0 304.4,1079.1 305.8,1074.3 307.2,1069.5 308.6,1064.7 310.1,1059.9 311.7,1055.1 313.4,1050.4 315.3,1045.7 317.2,1041.1 319.3,1036.6 321.6,1032.1 324.0,1027.7 326.7,1023.4 329.5,1019.3 332.6,1015.3 335.8,1011.5 339.3,1007.9 343.0,1004.5 346.9,1001.4 351.1,998.5 355.4,996.0 359.9,993.8 364.6,992.0 369.4,990.5 374.3,989.6 379.3,989.0 384.3,989.0 389.3,989.4 394.2,990.4"/><path d="M251.8,1252.4 253.6,1247.7 255.5,1243.0 257.4,1238.4 259.3,1233.7 261.3,1229.1 263.3,1224.5 265.3,1219.9 267.4,1215.3 269.5,1210.7 271.7,1206.2 273.8,1201.7 276.1,1197.1 278.3,1192.6 280.6,1188.2 282.9,1183.7 285.3,1179.2 287.6,1174.8 290.0,1170.3 292.3,1165.9 294.7,1161.4 297.0,1157.0 299.4,1152.5 301.7,1148.1 304.0,1143.6 306.4,1139.2 308.7,1134.7 311.1,1130.2 313.4,1125.8 315.8,1121.3 318.1,1116.9 320.4,1112.4 322.8,1108.0 325.1,1103.5 327.5,1099.1 329.8,1094.6 332.2,1090.2 334.6,1085.8 337.1,1081.4 339.7,1077.1 342.4,1072.8 345.3,1068.7 348.3,1064.7 351.5,1060.8 354.9,1057.1 358.5,1053.6 362.3,1050.3 366.4,1047.3 370.6,1044.6 375.1,1042.3 379.8,1040.4 384.6,1038.9 389.5,1037.9 394.5,1037.4 399.5,1037.5 404.5,1038.1 409.4,1039.4 414.1,1041.2 418.5,1043.7 422.5,1046.8 426.0,1050.4 428.9,1054.5 431.1,1059.0"/><path d="M265.0,1252.7 266.6,1247.9 267.9,1243.0 268.9,1238.1 269.8,1233.1 270.4,1228.1 270.8,1223.1 271.0,1218.1 270.9,1213.0 270.6,1208.0 270.1,1203.0 269.3,1198.0 268.4,1193.0 267.2,1188.1 265.7,1183.3 264.1,1178.5 262.2,1173.8 260.1,1169.2 257.9,1164.7 255.4,1160.3 252.7,1156.1 249.8,1151.9 246.9,1147.8 244.0,1143.7 241.0,1139.6 238.1,1135.5 235.2,1131.3 232.3,1127.2 229.3,1123.1 226.4,1119.0 223.5,1114.9 220.6,1110.8 217.6,1106.7 214.7,1102.6 211.8,1098.4 208.9,1094.3 206.0,1090.2 203.1,1086.0 200.4,1081.8 197.7,1077.5 195.2,1073.2 192.8,1068.7 190.6,1064.1 188.7,1059.5 187.1,1054.7 185.7,1049.9 184.7,1044.9 184.0,1039.9 183.8,1034.9 184.0,1029.8 184.7,1024.8 185.9,1019.9 187.7,1015.2 189.9,1010.7 192.7,1006.5 196.0,1002.6 199.7,999.3 203.9,996.5 208.5,994.3 213.3,992.9 218.4,992.2 223.4,992.4 228.3,993.5"/><path d="M265.9,1251.7 267.6,1246.9 269.2,1242.1 270.7,1237.2 272.0,1232.3 273.1,1227.4 274.2,1222.4 275.0,1217.4 275.7,1212.4 276.3,1207.3 276.8,1202.3 277.0,1197.2 277.2,1192.1 277.1,1187.0 277.0,1182.0 276.7,1176.9 276.2,1171.9 275.6,1166.8 274.8,1161.8 273.9,1156.8 272.9,1151.8 271.7,1146.9 270.4,1142.0 268.9,1137.1 267.3,1132.3 265.5,1127.6 263.8,1122.8 262.1,1118.0 260.4,1113.2 258.7,1108.5 256.9,1103.7 255.2,1098.9 253.5,1094.1 251.8,1089.3 250.1,1084.6 248.4,1079.8 246.7,1075.0 245.0,1070.2 243.4,1065.4 242.0,1060.5 240.6,1055.6 239.4,1050.7 238.4,1045.7 237.6,1040.7 237.0,1035.7 236.7,1030.6 236.7,1025.5 237.0,1020.4 237.7,1015.4 238.7,1010.4 240.1,1005.6 241.9,1000.8 244.1,996.3 246.7,991.9 249.8,987.9 253.3,984.2 257.1,980.8 261.3,978.0 265.8,975.7 270.6,974.0 275.6,972.9 280.6,972.5 285.7,972.8"/><path d="M267.3,1253.7 268.8,1248.9 270.0,1244.0 271.0,1239.1 271.7,1234.1 272.2,1229.1 272.4,1224.1 272.4,1219.1 272.1,1214.1 271.6,1209.1 271.0,1204.1 270.5,1199.2 270.0,1194.2 269.4,1189.2 268.9,1184.2 268.4,1179.2 267.9,1174.2 267.3,1169.3 266.8,1164.3 266.3,1159.3 265.7,1154.3 265.2,1149.3 264.7,1144.3 264.2,1139.4 263.6,1134.4 263.1,1129.4 262.6,1124.4 262.0,1119.4 261.5,1114.4 261.0,1109.5 260.5,1104.5 259.9,1099.5 259.4,1094.5 258.9,1089.5 258.3,1084.5 257.8,1079.6 257.3,1074.6 256.8,1069.6 256.5,1064.6 256.2,1059.6 256.0,1054.6 256.0,1049.6 256.2,1044.6 256.5,1039.6 257.1,1034.6 258.0,1029.6 259.1,1024.7 260.5,1019.9 262.2,1015.2 264.2,1010.6 266.6,1006.2 269.3,1002.0 272.4,998.1 275.8,994.4 279.5,991.1 283.6,988.1 288.0,985.7 292.6,983.7 297.4,982.2 302.3,981.4 307.3,981.1 312.3,981.6 317.2,982.7"/><path d="M266.0,1251.0 267.9,1246.3 269.6,1241.5 271.3,1236.7 272.9,1231.9 274.5,1227.1 275.9,1222.2 277.3,1217.4 278.5,1212.4 279.7,1207.5 280.8,1202.6 281.8,1197.6 282.7,1192.6 283.5,1187.6 284.3,1182.6 284.9,1177.6 285.5,1172.5 285.9,1167.5 286.3,1162.4 286.7,1157.4 287.0,1152.3 287.4,1147.3 287.8,1142.2 288.1,1137.2 288.5,1132.1 288.9,1127.1 289.2,1122.0 289.6,1117.0 290.0,1111.9 290.3,1106.9 290.7,1101.8 291.1,1096.7 291.4,1091.7 291.8,1086.6 292.2,1081.6 292.5,1076.5 292.9,1071.5 293.3,1066.4 293.7,1061.4 294.2,1056.3 294.7,1051.3 295.3,1046.3 296.0,1041.2 296.9,1036.3 297.9,1031.3 299.0,1026.3 300.4,1021.5 301.9,1016.6 303.6,1011.9 305.5,1007.2 307.7,1002.6 310.1,998.1 312.8,993.8 315.7,989.7 318.9,985.7 322.3,982.0 326.0,978.5 329.9,975.4 334.1,972.5 338.5,970.0 343.1,967.9 347.9,966.2 352.8,964.9 357.8,964.2 362.9,963.9"/><path d="M266.3,1253.3 268.4,1248.7 270.4,1244.1 272.5,1239.4 274.5,1234.8 276.6,1230.2 278.7,1225.6 280.7,1221.0 282.8,1216.4 284.8,1211.8 286.9,1207.2 289.0,1202.6 291.0,1197.9 293.1,1193.3 295.1,1188.7 297.2,1184.1 299.3,1179.5 301.3,1174.9 303.4,1170.3 305.4,1165.7 307.5,1161.0 309.5,1156.4 311.6,1151.8 313.7,1147.2 315.7,1142.6 317.8,1138.0 319.8,1133.4 321.9,1128.7 323.9,1124.1 326.0,1119.5 328.1,1114.9 330.1,1110.3 332.2,1105.7 334.2,1101.1 336.3,1096.5 338.3,1091.8 340.4,1087.2 342.6,1082.7 344.8,1078.1 347.1,1073.7 349.6,1069.2 352.2,1064.9 354.9,1060.7 357.8,1056.5 360.9,1052.5 364.2,1048.7 367.7,1045.0 371.4,1041.6 375.3,1038.4 379.5,1035.5 383.8,1033.0 388.3,1030.7 393.0,1028.9 397.9,1027.5 402.8,1026.5 407.9,1026.1 412.9,1026.1 417.9,1026.8 422.9,1027.9 427.6,1029.7 432.1,1032.0 436.2,1034.9"/><path d="M265.6,1253.7 267.9,1249.2 270.2,1244.8 272.6,1240.4 275.0,1236.0 277.6,1231.7 280.2,1227.4 282.9,1223.1 285.6,1218.9 288.4,1214.8 291.3,1210.7 294.3,1206.6 297.2,1202.6 300.1,1198.5 303.1,1194.4 306.0,1190.4 309.0,1186.3 311.9,1182.2 314.8,1178.2 317.8,1174.1 320.7,1170.0 323.6,1166.0 326.6,1161.9 329.5,1157.8 332.5,1153.8 335.4,1149.7 338.3,1145.7 341.3,1141.6 344.2,1137.5 347.1,1133.5 350.1,1129.4 353.0,1125.3 356.0,1121.3 358.9,1117.2 361.8,1113.1 364.8,1109.1 367.7,1105.0 370.7,1101.0 373.7,1097.0 376.8,1093.0 379.9,1089.1 383.2,1085.3 386.5,1081.5 389.9,1077.8 393.5,1074.3 397.1,1070.9 400.9,1067.6 404.9,1064.5 409.0,1061.6 413.2,1058.9 417.5,1056.4 422.0,1054.2 426.7,1052.2 431.4,1050.6 436.2,1049.3 441.2,1048.3 446.1,1047.7 451.1,1047.5 456.2,1047.7 461.1,1048.4 466.0,1049.4 470.8,1051.0 475.4,1053.0"/><path d="M280.0,1252.7 281.7,1247.9 283.1,1243.0 284.2,1238.1 285.1,1233.1 285.7,1228.1 286.0,1223.0 286.0,1217.9 285.8,1212.8 285.2,1207.8 284.4,1202.8 283.4,1197.8 282.0,1192.9 280.4,1188.1 278.5,1183.4 276.4,1178.8 274.0,1174.3 271.4,1170.0 268.5,1165.8 265.6,1161.6 262.8,1157.5 259.9,1153.3 257.0,1149.1 254.1,1145.0 251.2,1140.8 248.3,1136.6 245.4,1132.4 242.5,1128.3 239.7,1124.1 236.8,1119.9 233.9,1115.8 231.0,1111.6 228.1,1107.4 225.2,1103.2 222.3,1099.1 219.5,1094.9 216.6,1090.7 213.7,1086.5 211.0,1082.3 208.2,1078.0 205.6,1073.7 203.1,1069.3 200.7,1064.8 198.4,1060.2 196.3,1055.6 194.5,1050.9 192.8,1046.1 191.3,1041.3 190.1,1036.3 189.2,1031.3 188.6,1026.3 188.4,1021.2 188.5,1016.2 188.9,1011.1 189.8,1006.1 191.0,1001.2 192.7,996.4 194.8,991.8 197.4,987.4 200.3,983.3 203.7,979.5 207.4,976.0 211.5,973.0"/><path d="M280.3,1254.8 282.1,1250.0 283.7,1245.2 285.1,1240.3 286.3,1235.4 287.3,1230.4 288.1,1225.4 288.6,1220.4 289.0,1215.3 289.1,1210.3 289.0,1205.2 288.7,1200.1 288.2,1195.1 287.5,1190.1 286.6,1185.1 285.4,1180.1 284.1,1175.3 282.6,1170.4 281.1,1165.6 279.7,1160.7 278.2,1155.8 276.7,1151.0 275.3,1146.1 273.8,1141.3 272.3,1136.4 270.9,1131.6 269.4,1126.7 267.9,1121.9 266.5,1117.0 265.0,1112.2 263.5,1107.3 262.1,1102.5 260.6,1097.6 259.1,1092.7 257.7,1087.9 256.2,1083.0 254.8,1078.2 253.3,1073.3 252.0,1068.4 250.7,1063.5 249.5,1058.6 248.4,1053.6 247.5,1048.7 246.7,1043.7 246.0,1038.6 245.6,1033.6 245.3,1028.5 245.3,1023.4 245.6,1018.4 246.1,1013.3 246.9,1008.3 248.0,1003.4 249.4,998.5 251.1,993.7 253.2,989.1 255.6,984.7 258.4,980.4 261.5,976.4 264.9,972.7 268.7,969.3 272.8,966.3 277.1,963.6 281.7,961.5"/><path d="M280.2,1254.5 282.3,1249.8 284.2,1245.1 286.0,1240.4 287.6,1235.6 289.2,1230.7 290.6,1225.8 291.9,1220.9 293.1,1216.0 294.2,1211.0 295.1,1206.0 296.0,1201.0 296.7,1196.0 297.2,1191.0 297.7,1185.9 298.0,1180.8 298.2,1175.8 298.3,1170.7 298.2,1165.6 298.0,1160.5 297.7,1155.5 297.3,1150.4 296.7,1145.3 296.1,1140.3 295.6,1135.3 295.0,1130.2 294.4,1125.2 293.8,1120.1 293.2,1115.1 292.6,1110.0 292.0,1105.0 291.4,1100.0 290.8,1094.9 290.2,1089.9 289.6,1084.8 289.0,1079.8 288.4,1074.7 287.8,1069.7 287.1,1064.7 286.5,1059.6 285.8,1054.6 285.0,1049.6 284.2,1044.6 283.3,1039.6 282.3,1034.6 281.3,1029.6 280.2,1024.6 279.0,1019.7 277.6,1014.8 276.2,1009.9 274.6,1005.1 273.0,1000.3 271.2,995.6 269.2,990.9 267.1,986.2 264.9,981.7 262.5,977.2 259.9,972.8 257.2,968.5 254.4,964.3 251.3,960.3 248.1,956.3 244.7,952.5"/><path d="M279.1,1252.6 281.2,1248.0 283.2,1243.4 285.1,1238.8 287.0,1234.1 288.8,1229.4 290.5,1224.7 292.2,1219.9 293.7,1215.1 295.2,1210.3 296.6,1205.5 297.9,1200.7 299.1,1195.8 300.3,1190.9 301.4,1186.0 302.4,1181.1 303.5,1176.1 304.5,1171.2 305.6,1166.3 306.7,1161.4 307.7,1156.5 308.8,1151.5 309.8,1146.6 310.9,1141.7 311.9,1136.8 313.0,1131.9 314.0,1127.0 315.1,1122.0 316.2,1117.1 317.2,1112.2 318.3,1107.3 319.3,1102.4 320.4,1097.4 321.4,1092.5 322.5,1087.6 323.5,1082.7 324.6,1077.8 325.6,1072.9 326.7,1067.9 327.6,1063.0 328.6,1058.1 329.5,1053.1 330.3,1048.1 331.1,1043.2 331.8,1038.2 332.4,1033.2 332.8,1028.2 333.2,1023.2 333.5,1018.2 333.6,1013.1 333.6,1008.1 333.5,1003.1 333.2,998.0 332.7,993.0 332.1,988.1 331.2,983.1 330.2,978.2 329.0,973.3 327.5,968.5 325.9,963.7 324.0,959.1 321.9,954.5 319.6,950.0 317.0,945.7"/><path d="M278.5,1252.4 280.7,1247.9 282.9,1243.3 285.0,1238.8 287.1,1234.2 289.1,1229.6 291.1,1225.0 293.1,1220.4 295.1,1215.8 297.0,1211.1 298.8,1206.5 300.7,1201.8 302.5,1197.1 304.2,1192.4 305.9,1187.7 307.6,1183.0 309.3,1178.2 311.0,1173.5 312.7,1168.8 314.4,1164.0 316.0,1159.3 317.7,1154.6 319.4,1149.8 321.1,1145.1 322.8,1140.4 324.5,1135.7 326.2,1130.9 327.9,1126.2 329.5,1121.5 331.2,1116.7 332.9,1112.0 334.6,1107.3 336.3,1102.5 338.0,1097.8 339.7,1093.1 341.3,1088.4 343.1,1083.6 344.8,1078.9 346.7,1074.3 348.7,1069.7 350.9,1065.1 353.2,1060.7 355.8,1056.4 358.5,1052.2 361.6,1048.2 364.9,1044.4 368.4,1040.9 372.3,1037.7 376.4,1034.8 380.8,1032.4 385.4,1030.4 390.2,1028.9 395.2,1028.0 400.2,1027.7 405.2,1028.1 410.1,1029.2 414.8,1030.9 419.2,1033.4 423.1,1036.5 426.5,1040.2 429.2,1044.5 431.1,1049.1 432.0,1054.0"/><path d="M280.8,1253.8 283.1,1249.4 285.5,1244.9 288.0,1240.6 290.4,1236.2 292.9,1231.9 295.5,1227.5 298.0,1223.2 300.7,1218.9 303.3,1214.7 306.0,1210.4 308.7,1206.2 311.4,1202.0 314.2,1197.8 317.0,1193.7 319.8,1189.5 322.6,1185.4 325.4,1181.2 328.2,1177.0 331.0,1172.9 333.8,1168.7 336.6,1164.6 339.4,1160.4 342.2,1156.2 345.0,1152.1 347.8,1147.9 350.6,1143.8 353.3,1139.6 356.1,1135.4 358.9,1131.3 361.7,1127.1 364.5,1122.9 367.3,1118.8 370.1,1114.6 372.9,1110.5 375.7,1106.3 378.5,1102.1 381.4,1098.0 384.2,1093.9 387.2,1089.9 390.3,1085.9 393.4,1082.0 396.7,1078.2 400.1,1074.5 403.7,1071.0 407.5,1067.7 411.4,1064.6 415.5,1061.7 419.8,1059.1 424.3,1056.8 428.9,1054.9 433.6,1053.3 438.5,1052.2 443.5,1051.5 448.5,1051.2 453.5,1051.5 458.4,1052.3 463.3,1053.7 467.9,1055.6 472.3,1058.1 476.3,1061.1 479.9,1064.6 482.9,1068.6 485.4,1072.9"/><path d="M293.7,1254.6 295.0,1249.8 296.2,1244.9 297.1,1240.0 297.9,1235.0 298.4,1230.0 298.8,1225.0 299.0,1220.0 298.9,1215.0 298.7,1209.9 298.3,1204.9 297.7,1200.0 296.9,1195.0 296.0,1190.1 294.8,1185.2 293.4,1180.3 291.9,1175.6 290.2,1170.9 288.3,1166.2 286.2,1161.6 283.9,1157.1 281.5,1152.7 278.9,1148.4 276.2,1144.2 273.2,1140.2 270.3,1136.1 267.3,1132.1 264.3,1128.0 261.4,1124.0 258.4,1119.9 255.4,1115.9 252.5,1111.8 249.5,1107.8 246.5,1103.7 243.5,1099.7 240.6,1095.6 237.6,1091.5 234.8,1087.4 232.0,1083.3 229.2,1079.0 226.6,1074.7 224.2,1070.4 221.9,1065.9 219.8,1061.3 217.9,1056.7 216.2,1052.0 214.8,1047.1 213.7,1042.2 213.0,1037.3 212.6,1032.3 212.6,1027.2 213.0,1022.2 213.8,1017.3 215.1,1012.4 216.8,1007.7 219.0,1003.2 221.7,998.9 224.8,995.0 228.4,991.5 232.4,988.4 236.7,985.8 241.3,983.9"/><path d="M294.0,1255.7 295.1,1250.8 296.0,1245.8 296.6,1240.8 297.0,1235.7 297.1,1230.7 296.9,1225.6 296.5,1220.6 295.8,1215.5 294.8,1210.6 293.5,1205.7 292.1,1200.8 290.3,1196.1 288.3,1191.4 286.2,1186.8 284.1,1182.2 282.0,1177.6 279.9,1173.0 277.8,1168.4 275.7,1163.8 273.6,1159.2 271.5,1154.6 269.4,1150.0 267.3,1145.4 265.2,1140.8 263.1,1136.2 261.0,1131.6 258.9,1127.0 256.8,1122.4 254.7,1117.8 252.6,1113.1 250.5,1108.5 248.4,1103.9 246.3,1099.3 244.2,1094.7 242.1,1090.1 240.1,1085.5 238.1,1080.8 236.3,1076.1 234.5,1071.4 233.0,1066.5 231.7,1061.6 230.6,1056.7 229.8,1051.7 229.3,1046.7 229.2,1041.6 229.5,1036.6 230.1,1031.5 231.3,1026.6 232.9,1021.8 235.0,1017.2 237.6,1012.9 240.7,1008.8 244.2,1005.2 248.2,1002.1 252.6,999.6 257.3,997.7 262.2,996.6 267.3,996.2 272.3,996.7 277.2,998.1 281.8,1000.2"/><path d="M295.0,1254.6 296.4,1249.8 297.7,1244.9 298.7,1240.0 299.7,1235.0 300.4,1230.1 301.0,1225.0 301.4,1220.0 301.7,1215.0 301.8,1210.0 301.7,1204.9 301.5,1199.9 301.1,1194.9 300.5,1189.9 299.8,1184.9 298.9,1179.9 297.9,1175.0 296.6,1170.1 295.4,1165.2 294.1,1160.4 292.8,1155.5 291.5,1150.6 290.2,1145.8 288.9,1140.9 287.6,1136.0 286.3,1131.2 285.0,1126.3 283.7,1121.4 282.4,1116.6 281.1,1111.7 279.8,1106.8 278.5,1102.0 277.3,1097.1 276.0,1092.2 274.7,1087.4 273.4,1082.5 272.3,1077.6 271.2,1072.7 270.2,1067.7 269.4,1062.8 268.7,1057.8 268.2,1052.8 268.0,1047.7 268.0,1042.7 268.3,1037.7 268.8,1032.7 269.7,1027.7 271.0,1022.8 272.6,1018.0 274.5,1013.4 276.9,1008.9 279.6,1004.7 282.8,1000.8 286.3,997.2 290.2,994.0 294.4,991.2 298.9,989.0 303.6,987.3 308.5,986.2 313.6,985.7"/><path d="M295.4,1255.4 296.9,1250.6 298.3,1245.8 299.7,1241.0 300.9,1236.1 302.0,1231.2 303.0,1226.3 304.0,1221.4 304.8,1216.4 305.5,1211.4 306.1,1206.4 306.6,1201.4 307.0,1196.4 307.3,1191.4 307.4,1186.4 307.6,1181.4 307.8,1176.4 308.0,1171.4 308.2,1166.3 308.4,1161.3 308.6,1156.3 308.8,1151.3 309.0,1146.3 309.2,1141.2 309.4,1136.2 309.6,1131.2 309.8,1126.2 310.0,1121.2 310.2,1116.1 310.4,1111.1 310.6,1106.1 310.8,1101.1 310.9,1096.1 311.1,1091.0 311.3,1086.0 311.6,1081.0 311.9,1076.0 312.2,1071.0 312.7,1066.0 313.3,1061.0 314.0,1056.0 314.9,1051.1 315.9,1046.2 317.2,1041.3 318.7,1036.5 320.4,1031.8 322.3,1027.1 324.5,1022.6 327.0,1018.3 329.8,1014.1 332.8,1010.1 336.2,1006.3 339.8,1002.8 343.7,999.7 347.8,996.9 352.2,994.4 356.8,992.4 361.6,990.9 366.5,989.9 371.5,989.4"/><path d="M292.9,1254.3 294.6,1249.6 296.3,1244.8 297.9,1240.1 299.5,1235.3 301.1,1230.5 302.7,1225.7 304.2,1220.9 305.8,1216.1 307.2,1211.3 308.7,1206.5 310.1,1201.7 311.5,1196.8 312.9,1192.0 314.2,1187.1 315.6,1182.3 317.0,1177.4 318.3,1172.6 319.7,1167.7 321.1,1162.9 322.5,1158.0 323.8,1153.2 325.2,1148.3 326.6,1143.5 327.9,1138.7 329.3,1133.8 330.7,1129.0 332.0,1124.1 333.4,1119.3 334.8,1114.4 336.1,1109.6 337.5,1104.7 338.9,1099.9 340.3,1095.0 341.6,1090.2 343.1,1085.4 344.6,1080.5 346.2,1075.8 347.9,1071.0 349.8,1066.4 351.8,1061.8 354.1,1057.3 356.6,1052.9 359.3,1048.7 362.3,1044.6 365.5,1040.7 369.1,1037.1 372.8,1033.8 376.9,1030.9 381.2,1028.3 385.8,1026.1 390.5,1024.4 395.4,1023.3 400.4,1022.7 405.5,1022.7 410.5,1023.4 415.3,1024.7 420.0,1026.6 424.3,1029.2 428.2,1032.4"/><path d="M294.9,1253.3 296.8,1248.6 298.8,1244.0 300.7,1239.3 302.8,1234.7 304.9,1230.1 307.0,1225.5 309.2,1221.0 311.4,1216.5 313.7,1212.0 316.0,1207.5 318.4,1203.0 320.8,1198.6 323.2,1194.2 325.7,1189.8 328.3,1185.4 330.9,1181.1 333.5,1176.8 336.1,1172.5 338.7,1168.2 341.4,1163.9 344.0,1159.5 346.6,1155.2 349.2,1150.9 351.9,1146.6 354.5,1142.3 357.1,1138.0 359.7,1133.7 362.4,1129.4 365.0,1125.1 367.6,1120.8 370.2,1116.5 372.9,1112.1 375.5,1107.8 378.1,1103.5 380.8,1099.2 383.5,1095.0 386.3,1090.8 389.3,1086.7 392.3,1082.7 395.6,1078.9 399.1,1075.2 402.7,1071.7 406.6,1068.5 410.7,1065.6 415.0,1063.0 419.6,1060.8 424.3,1059.0 429.2,1057.8 434.2,1057.1 439.2,1056.9 444.3,1057.4 449.2,1058.6 453.9,1060.4 458.3,1062.9 462.2,1066.1 465.6,1069.8 468.3,1074.1 470.2,1078.7 471.3,1083.7 471.4,1088.7"/><path d="M307.1,1254.0 308.6,1249.2 309.8,1244.4 310.8,1239.5 311.6,1234.5 312.1,1229.5 312.3,1224.5 312.4,1219.5 312.2,1214.5 311.7,1209.5 311.0,1204.5 310.0,1199.6 308.9,1194.7 307.4,1189.9 305.8,1185.1 303.9,1180.5 301.8,1175.9 299.5,1171.5 296.9,1167.1 294.2,1162.9 291.3,1158.9 288.1,1155.0 284.9,1151.1 281.7,1147.2 278.6,1143.3 275.4,1139.4 272.2,1135.6 269.0,1131.7 265.8,1127.8 262.6,1123.9 259.5,1120.0 256.3,1116.2 253.1,1112.3 249.9,1108.4 246.7,1104.5 243.6,1100.6 240.5,1096.7 237.4,1092.7 234.5,1088.6 231.6,1084.5 228.9,1080.3 226.2,1076.0 223.8,1071.7 221.5,1067.2 219.4,1062.6 217.6,1057.9 216.0,1053.2 214.7,1048.3 213.7,1043.4 213.0,1038.4 212.7,1033.4 212.8,1028.4 213.3,1023.4 214.1,1018.5 215.5,1013.6 217.2,1008.9 219.4,1004.4 222.1,1000.2 225.2,996.2 228.6,992.6"/><path d="M309.3,1254.6 310.4,1249.7 311.1,1244.7 311.4,1239.7 311.2,1234.7 310.7,1229.7 309.8,1224.8 308.5,1220.0 306.8,1215.2 304.9,1210.6 303.1,1205.9 301.2,1201.3 299.3,1196.7 297.5,1192.0 295.6,1187.4 293.7,1182.7 291.8,1178.1 290.0,1173.4 288.1,1168.8 286.2,1164.1 284.3,1159.5 282.5,1154.8 280.6,1150.2 278.7,1145.6 276.8,1140.9 275.0,1136.3 273.1,1131.6 271.2,1127.0 269.3,1122.3 267.5,1117.7 265.6,1113.0 263.7,1108.4 261.8,1103.7 260.0,1099.1 258.1,1094.4 256.3,1089.8 254.6,1085.1 253.0,1080.3 251.6,1075.5 250.4,1070.7 249.4,1065.7 248.7,1060.8 248.3,1055.8 248.3,1050.8 248.6,1045.8 249.4,1040.8 250.7,1036.0 252.5,1031.3 254.7,1026.8 257.5,1022.6 260.7,1018.8 264.4,1015.5 268.6,1012.7 273.1,1010.5 277.9,1009.1 282.9,1008.4 287.9,1008.6 292.8,1009.7 297.4,1011.6 301.6,1014.4"/><path d="M306.7,1255.9 308.5,1251.2 310.2,1246.5 311.9,1241.7 313.4,1236.9 314.9,1232.1 316.3,1227.2 317.5,1222.4 318.7,1217.5 319.8,1212.5 320.8,1207.6 321.7,1202.6 322.5,1197.7 323.2,1192.7 323.9,1187.7 324.4,1182.6 324.8,1177.6 325.1,1172.6 325.4,1167.6 325.5,1162.5 325.6,1157.5 325.5,1152.4 325.4,1147.4 325.1,1142.4 324.8,1137.3 324.4,1132.3 323.9,1127.3 323.5,1122.3 323.1,1117.2 322.7,1112.2 322.3,1107.2 321.9,1102.2 321.4,1097.1 321.0,1092.1 320.6,1087.1 320.3,1082.1 320.0,1077.0 319.9,1072.0 319.9,1066.9 320.2,1061.9 320.6,1056.9 321.3,1051.9 322.3,1046.9 323.7,1042.1 325.4,1037.3 327.5,1032.7 329.9,1028.4 332.8,1024.2 336.1,1020.4 339.8,1016.9 343.8,1013.9 348.2,1011.4 352.9,1009.5 357.8,1008.3 362.8,1007.8 367.8,1008.0 372.7,1009.0 377.5,1010.8 381.8,1013.4 385.6,1016.7"/><path d="M309.0,1254.9 310.8,1250.1 312.3,1245.3 313.8,1240.4 315.1,1235.6 316.3,1230.6 317.3,1225.7 318.2,1220.7 319.0,1215.7 319.6,1210.6 320.1,1205.6 320.5,1200.6 321.0,1195.5 321.4,1190.5 321.9,1185.4 322.4,1180.4 322.8,1175.3 323.3,1170.3 323.7,1165.2 324.2,1160.2 324.6,1155.1 325.1,1150.1 325.5,1145.0 326.0,1140.0 326.4,1134.9 326.9,1129.9 327.3,1124.9 327.8,1119.8 328.2,1114.8 328.7,1109.7 329.1,1104.7 329.6,1099.6 330.0,1094.6 330.5,1089.5 331.0,1084.5 331.4,1079.4 331.9,1074.4 332.5,1069.4 333.3,1064.4 334.1,1059.4 335.2,1054.4 336.5,1049.5 338.0,1044.7 339.8,1040.0 342.0,1035.4 344.4,1030.9 347.2,1026.7 350.3,1022.7 353.8,1019.0 357.7,1015.7 361.8,1012.9 366.3,1010.5 371.0,1008.7 376.0,1007.4 381.0,1006.9 386.1,1007.1 391.0,1008.0 395.8,1009.7 400.3,1012.1 404.2,1015.2 407.6,1019.0 410.2,1023.3"/><path d="M309.5,1255.5 311.5,1250.8 313.5,1246.1 315.4,1241.5 317.3,1236.8 319.2,1232.1 321.1,1227.3 322.9,1222.6 324.7,1217.9 326.5,1213.1 328.3,1208.4 330.0,1203.6 331.8,1198.9 333.4,1194.1 335.1,1189.3 336.7,1184.5 338.4,1179.7 339.9,1174.9 341.5,1170.0 343.1,1165.2 344.7,1160.4 346.2,1155.6 347.8,1150.8 349.4,1145.9 350.9,1141.1 352.5,1136.3 354.1,1131.5 355.6,1126.6 357.2,1121.8 358.8,1117.0 360.4,1112.2 361.9,1107.4 363.5,1102.5 365.1,1097.7 366.6,1092.9 368.2,1088.1 369.9,1083.3 371.6,1078.5 373.4,1073.8 375.4,1069.1 377.5,1064.5 379.7,1060.0 382.2,1055.5 384.9,1051.2 387.8,1047.0 390.9,1043.1 394.3,1039.3 397.9,1035.7 401.8,1032.5 405.9,1029.5 410.3,1026.9 414.9,1024.8 419.6,1023.0 424.5,1021.8 429.6,1021.1 434.6,1020.9 439.7,1021.3 444.6,1022.4 449.4,1024.1 454.0,1026.3 458.1,1029.2"/><path d="M309.2,1254.9 311.4,1250.3 313.7,1245.8 315.9,1241.3 318.3,1236.8 320.7,1232.3 323.1,1227.9 325.6,1223.5 328.2,1219.1 330.8,1214.8 333.4,1210.5 336.1,1206.2 338.9,1201.9 341.7,1197.7 344.5,1193.5 347.4,1189.4 350.2,1185.2 353.1,1181.0 355.9,1176.8 358.8,1172.7 361.7,1168.5 364.5,1164.3 367.4,1160.1 370.2,1156.0 373.1,1151.8 376.0,1147.6 378.8,1143.4 381.7,1139.3 384.5,1135.1 387.4,1130.9 390.2,1126.7 393.1,1122.6 396.0,1118.4 398.8,1114.2 401.7,1110.0 404.5,1105.9 407.5,1101.7 410.4,1097.6 413.5,1093.6 416.8,1089.7 420.1,1086.0 423.7,1082.4 427.4,1079.0 431.4,1075.8 435.6,1072.9 439.9,1070.4 444.5,1068.2 449.3,1066.5 454.2,1065.3 459.2,1064.5 464.2,1064.4 469.3,1064.9 474.2,1066.0 478.9,1067.8 483.4,1070.2 487.4,1073.3 490.9,1077.0 493.7,1081.2 495.7,1085.8 496.9,1090.7 497.1,1095.8 496.4,1100.8"/><path d="M320.7,1256.3 321.9,1251.4 322.9,1246.5 323.7,1241.6 324.2,1236.6 324.5,1231.6 324.6,1226.6 324.4,1221.6 324.0,1216.6 323.4,1211.6 322.5,1206.7 321.4,1201.8 320.1,1197.0 318.5,1192.2 316.8,1187.5 314.8,1182.9 312.6,1178.4 310.2,1174.0 307.5,1169.7 304.7,1165.6 301.7,1161.6 298.5,1157.7 295.2,1154.0 291.9,1150.2 288.6,1146.5 285.2,1142.7 281.9,1139.0 278.6,1135.2 275.3,1131.5 272.0,1127.7 268.6,1123.9 265.3,1120.2 262.0,1116.4 258.7,1112.7 255.3,1109.0 251.9,1105.3 248.5,1101.6 245.1,1098.0 241.5,1094.4 237.9,1090.9 234.3,1087.5 230.5,1084.2 226.7,1081.0 222.7,1077.9 218.7,1074.9 214.5,1072.1 210.3,1069.5 205.9,1067.0 201.4,1064.8 196.8,1062.7 192.2,1060.9 187.4,1059.4 182.5,1058.1 177.6,1057.2 172.7,1056.5 167.7,1056.2 162.6,1056.2 157.7,1056.6"/><path d="M321.2,1257.5 322.2,1252.5 322.7,1247.5 323.0,1242.5 322.8,1237.4 322.3,1232.4 321.5,1227.4 320.2,1222.5 318.7,1217.7 316.7,1213.0 314.5,1208.5 312.1,1204.1 309.6,1199.7 307.2,1195.2 304.7,1190.8 302.3,1186.4 299.9,1182.0 297.4,1177.6 295.0,1173.1 292.5,1168.7 290.1,1164.3 287.6,1159.9 285.2,1155.5 282.8,1151.0 280.3,1146.6 277.9,1142.2 275.4,1137.8 273.0,1133.4 270.6,1128.9 268.1,1124.5 265.7,1120.1 263.2,1115.7 260.8,1111.3 258.3,1106.8 255.9,1102.4 253.5,1098.0 251.2,1093.5 248.9,1089.0 246.7,1084.5 244.6,1079.9 242.6,1075.2 240.8,1070.5 239.1,1065.7 237.6,1060.9 236.4,1056.0 235.3,1051.1 234.6,1046.1 234.1,1041.1 233.9,1036.0 234.1,1031.0 234.6,1025.9 235.4,1021.0 236.7,1016.1 238.3,1011.3 240.3,1006.7 242.8,1002.2 245.6,998.1 248.8,994.2 252.4,990.6 256.4,987.5"/><path d="M321.0,1256.0 322.5,1251.2 323.9,1246.4 325.1,1241.6 326.3,1236.7 327.3,1231.8 328.1,1226.9 328.9,1221.9 329.5,1216.9 330.0,1212.0 330.4,1207.0 330.6,1202.0 330.7,1196.9 330.7,1191.9 330.6,1186.9 330.3,1181.9 329.9,1176.9 329.4,1172.0 328.8,1167.0 328.1,1162.0 327.4,1157.1 326.7,1152.1 326.0,1147.2 325.3,1142.2 324.7,1137.2 324.0,1132.3 323.3,1127.3 322.6,1122.3 321.9,1117.4 321.2,1112.4 320.5,1107.5 319.9,1102.5 319.2,1097.5 318.5,1092.6 317.8,1087.6 317.1,1082.7 316.4,1077.7 315.6,1072.8 314.8,1067.8 314.0,1062.9 313.1,1057.9 312.2,1053.0 311.2,1048.1 310.1,1043.2 308.9,1038.4 307.6,1033.5 306.2,1028.7 304.8,1023.9 303.2,1019.2 301.5,1014.5 299.6,1009.8 297.7,1005.2 295.6,1000.7 293.3,996.2 290.9,991.8 288.4,987.5 285.7,983.3 282.8,979.2 279.7,975.2 276.6,971.3"/><path d="M321.5,1255.0 323.2,1250.2 324.8,1245.4 326.3,1240.6 327.8,1235.7 329.2,1230.8 330.5,1226.0 331.8,1221.0 333.0,1216.1 334.1,1211.2 335.2,1206.2 336.2,1201.3 337.2,1196.3 338.0,1191.3 338.8,1186.3 339.6,1181.3 340.2,1176.2 340.8,1171.2 341.4,1166.1 341.9,1161.1 342.3,1156.0 342.6,1151.0 342.9,1145.9 343.3,1140.9 343.6,1135.8 343.9,1130.7 344.3,1125.7 344.6,1120.6 344.9,1115.6 345.3,1110.5 345.6,1105.4 345.9,1100.4 346.3,1095.3 346.6,1090.3 347.0,1085.2 347.4,1080.2 347.9,1075.1 348.5,1070.1 349.3,1065.1 350.2,1060.1 351.4,1055.2 352.9,1050.3 354.6,1045.5 356.6,1040.9 359.0,1036.4 361.7,1032.1 364.8,1028.1 368.3,1024.4 372.0,1021.0 376.2,1018.1 380.6,1015.6 385.3,1013.7 390.2,1012.4 395.3,1011.8 400.3,1011.9 405.3,1012.8 410.1,1014.4 414.6,1016.7 418.6,1019.8 422.1,1023.6"/><path d="M321.0,1256.2 322.8,1251.4 324.6,1246.7 326.4,1241.9 328.1,1237.2 329.9,1232.4 331.6,1227.6 333.3,1222.9 335.0,1218.1 336.7,1213.3 338.4,1208.5 340.1,1203.7 341.8,1199.0 343.4,1194.2 345.1,1189.4 346.7,1184.6 348.3,1179.8 349.9,1174.9 351.5,1170.1 353.1,1165.3 354.7,1160.5 356.3,1155.7 357.9,1150.9 359.5,1146.1 361.1,1141.3 362.7,1136.5 364.3,1131.6 365.9,1126.8 367.5,1122.0 369.1,1117.2 370.7,1112.4 372.3,1107.6 373.9,1102.8 375.5,1098.0 377.1,1093.1 378.7,1088.3 380.3,1083.5 381.8,1078.7 383.3,1073.8 384.8,1069.0 386.2,1064.1 387.5,1059.2 388.7,1054.3 389.9,1049.4 391.0,1044.4 391.9,1039.4 392.8,1034.4 393.5,1029.4 394.1,1024.4 394.5,1019.3 394.7,1014.2 394.8,1009.2 394.7,1004.1 394.5,999.0 394.0,994.0 393.3,989.0 392.4,984.0 391.3,979.0 389.9,974.2 388.3,969.3 386.5,964.6"/><path d="M321.7,1256.9 323.6,1252.3 325.6,1247.7 327.6,1243.1 329.7,1238.5 331.9,1233.9 334.1,1229.4 336.3,1224.9 338.6,1220.4 341.0,1216.0 343.4,1211.5 345.8,1207.1 348.3,1202.8 350.9,1198.4 353.5,1194.1 356.1,1189.8 358.8,1185.6 361.6,1181.3 364.3,1177.1 367.0,1172.9 369.8,1168.6 372.5,1164.4 375.2,1160.2 378.0,1156.0 380.7,1151.7 383.4,1147.5 386.2,1143.3 388.9,1139.0 391.6,1134.8 394.4,1130.6 397.1,1126.4 399.8,1122.1 402.6,1117.9 405.3,1113.7 408.0,1109.5 410.8,1105.3 413.7,1101.1 416.7,1097.0 419.7,1093.1 423.0,1089.2 426.4,1085.5 429.9,1081.9 433.7,1078.6 437.7,1075.5 441.9,1072.7 446.3,1070.3 450.9,1068.2 455.6,1066.5 460.5,1065.3 465.5,1064.6 470.5,1064.5 475.5,1065.0 480.5,1066.0 485.2,1067.8 489.7,1070.1 493.7,1073.1 497.3,1076.6 500.3,1080.6 502.6,1085.1 504.1,1089.9"/><path d="M336.4,1258.5 337.5,1253.6 338.4,1248.6 338.9,1243.6 339.2,1238.6 339.1,1233.6 338.7,1228.6 337.9,1223.6 336.9,1218.7 335.5,1213.9 333.8,1209.1 331.9,1204.5 329.6,1200.0 327.0,1195.7 324.2,1191.5 321.2,1187.5 318.1,1183.5 315.1,1179.5 312.0,1175.5 309.0,1171.5 305.9,1167.5 302.9,1163.5 299.8,1159.5 296.8,1155.5 293.7,1151.5 290.7,1147.5 287.6,1143.5 284.6,1139.5 281.5,1135.5 278.5,1131.6 275.4,1127.6 272.4,1123.6 269.3,1119.6 266.3,1115.6 263.2,1111.6 260.2,1107.5 257.3,1103.5 254.4,1099.3 251.6,1095.1 249.0,1090.9 246.5,1086.5 244.2,1082.0 242.1,1077.5 240.2,1072.8 238.6,1068.0 237.3,1063.2 236.3,1058.3 235.6,1053.3 235.4,1048.3 235.6,1043.2 236.2,1038.2 237.2,1033.3 238.8,1028.5 240.8,1024.0 243.4,1019.6 246.4,1015.6 249.9,1011.9 253.8,1008.8 258.0,1006.1 262.6,1004.1"/><path d="M337.4,1256.2 339.0,1251.4 340.4,1246.6 341.7,1241.8 342.8,1236.9 343.8,1232.0 344.6,1227.0 345.3,1222.1 345.9,1217.1 346.2,1212.1 346.5,1207.0 346.5,1202.0 346.5,1197.0 346.2,1192.0 345.8,1187.0 345.3,1182.0 344.6,1177.0 343.8,1172.1 342.8,1167.2 341.6,1162.3 340.3,1157.4 338.9,1152.6 337.3,1147.9 335.6,1143.2 333.7,1138.5 331.7,1133.9 329.6,1129.4 327.4,1124.8 325.3,1120.3 323.2,1115.7 321.1,1111.2 319.0,1106.6 316.8,1102.1 314.7,1097.6 312.6,1093.0 310.6,1088.4 308.7,1083.8 306.9,1079.1 305.3,1074.3 303.8,1069.5 302.6,1064.7 301.7,1059.7 301.1,1054.7 300.8,1049.7 300.9,1044.7 301.4,1039.7 302.3,1034.8 303.7,1030.0 305.6,1025.3 308.0,1020.9 310.9,1016.8 314.2,1013.1 318.0,1009.8 322.2,1007.1 326.8,1005.0 331.6,1003.6 336.6,1003.0 341.6,1003.2 346.5,1004.2"/><path d="M337.1,1256.8 338.8,1252.0 340.3,1247.2 341.7,1242.3 342.9,1237.4 344.0,1232.5 345.0,1227.5 345.9,1222.5 346.6,1217.5 347.2,1212.5 347.7,1207.5 348.0,1202.4 348.2,1197.4 348.3,1192.3 348.3,1187.3 348.1,1182.2 347.7,1177.2 347.3,1172.1 346.7,1167.1 345.9,1162.1 345.1,1157.1 344.1,1152.2 343.1,1147.2 342.1,1142.3 341.1,1137.3 340.1,1132.4 339.1,1127.4 338.1,1122.4 337.1,1117.5 336.1,1112.5 335.1,1107.6 334.1,1102.6 333.1,1097.7 332.1,1092.7 331.2,1087.7 330.3,1082.8 329.5,1077.8 328.9,1072.7 328.4,1067.7 328.1,1062.7 328.1,1057.6 328.4,1052.6 328.9,1047.5 329.8,1042.6 331.1,1037.7 332.7,1032.9 334.8,1028.3 337.3,1023.9 340.2,1019.8 343.6,1016.0 347.4,1012.6 351.5,1009.7 356.0,1007.4 360.7,1005.6 365.7,1004.6 370.7,1004.3 375.8,1004.8 380.6,1006.1 385.2,1008.2"/><path d="M335.1,1256.0 336.9,1251.3 338.5,1246.6 340.2,1241.8 341.7,1237.1 343.2,1232.3 344.6,1227.5 345.9,1222.7 347.2,1217.8 348.3,1213.0 349.5,1208.1 350.5,1203.2 351.5,1198.3 352.4,1193.4 353.2,1188.4 353.9,1183.5 354.6,1178.5 355.2,1173.5 355.7,1168.6 356.1,1163.6 356.5,1158.6 356.8,1153.6 357.0,1148.6 357.2,1143.6 357.3,1138.6 357.5,1133.6 357.7,1128.6 357.8,1123.6 358.0,1118.6 358.2,1113.6 358.3,1108.6 358.5,1103.6 358.7,1098.6 358.9,1093.6 359.1,1088.6 359.4,1083.6 359.9,1078.6 360.6,1073.7 361.4,1068.7 362.5,1063.8 363.8,1059.0 365.4,1054.3 367.4,1049.7 369.7,1045.2 372.3,1041.0 375.4,1037.0 378.8,1033.3 382.5,1030.1 386.6,1027.2 391.1,1024.9 395.7,1023.1 400.6,1021.9 405.6,1021.5 410.6,1021.8 415.5,1022.9 420.1,1024.7 424.4,1027.3 428.2,1030.6"/><path d="M336.5,1256.0 338.4,1251.4 340.2,1246.7 342.1,1242.1 344.0,1237.4 345.8,1232.7 347.6,1228.1 349.4,1223.4 351.2,1218.7 352.9,1214.0 354.7,1209.3 356.4,1204.6 358.1,1199.8 359.8,1195.1 361.5,1190.4 363.2,1185.7 364.8,1180.9 366.4,1176.2 368.0,1171.4 369.6,1166.6 371.2,1161.9 372.8,1157.1 374.3,1152.4 375.9,1147.6 377.5,1142.8 379.0,1138.1 380.6,1133.3 382.2,1128.5 383.8,1123.8 385.3,1119.0 386.9,1114.2 388.5,1109.5 390.0,1104.7 391.6,1099.9 393.2,1095.2 394.8,1090.4 396.5,1085.7 398.3,1081.0 400.2,1076.3 402.2,1071.7 404.3,1067.2 406.7,1062.8 409.2,1058.5 412.0,1054.3 415.0,1050.2 418.2,1046.4 421.7,1042.8 425.4,1039.4 429.4,1036.3 433.6,1033.6 438.0,1031.2 442.6,1029.3 447.4,1027.8 452.3,1026.8 457.3,1026.3 462.3,1026.4 467.3,1027.1 472.2,1028.4 476.8,1030.3 481.2,1032.8"/><path d="M335.2,1258.0 337.2,1253.4 339.3,1248.8 341.4,1244.2 343.5,1239.7 345.7,1235.1 347.9,1230.6 350.2,1226.1 352.4,1221.7 354.8,1217.2 357.1,1212.8 359.5,1208.3 361.9,1203.9 364.4,1199.6 366.9,1195.2 369.4,1190.9 372.0,1186.5 374.6,1182.2 377.2,1177.9 379.8,1173.6 382.4,1169.3 384.9,1165.0 387.5,1160.7 390.1,1156.4 392.7,1152.1 395.3,1147.8 397.9,1143.5 400.5,1139.2 403.1,1134.9 405.7,1130.6 408.3,1126.3 410.9,1122.0 413.5,1117.7 416.0,1113.4 418.7,1109.1 421.4,1104.8 424.1,1100.6 427.0,1096.5 429.9,1092.5 433.1,1088.5 436.4,1084.7 439.8,1081.1 443.5,1077.6 447.3,1074.4 451.4,1071.5 455.7,1068.8 460.1,1066.5 464.7,1064.5 469.5,1063.0 474.5,1062.0 479.4,1061.4 484.5,1061.4 489.5,1061.9 494.4,1063.1 499.1,1064.8 503.5,1067.2 507.6,1070.1 511.2,1073.6 514.3,1077.6"/><path d="M349.6,1257.7 351.0,1252.9 352.0,1248.0 352.8,1243.1 353.3,1238.1 353.5,1233.1 353.3,1228.1 352.9,1223.1 352.2,1218.1 351.2,1213.2 349.9,1208.4 348.4,1203.6 346.5,1199.0 344.4,1194.4 342.1,1190.0 339.4,1185.8 336.5,1181.7 333.4,1177.7 330.3,1173.9 327.1,1170.0 323.9,1166.1 320.7,1162.2 317.6,1158.4 314.4,1154.5 311.2,1150.6 308.0,1146.7 304.9,1142.9 301.7,1139.0 298.5,1135.1 295.3,1131.3 292.2,1127.4 289.0,1123.5 285.8,1119.6 282.7,1115.8 279.5,1111.9 276.4,1107.9 273.4,1103.9 270.6,1099.8 267.8,1095.6 265.3,1091.3 262.9,1086.9 260.8,1082.3 259.1,1077.6 257.6,1072.9 256.5,1068.0 255.8,1063.0 255.6,1058.0 255.9,1053.0 256.7,1048.1 258.0,1043.2 260.0,1038.6 262.4,1034.2 265.5,1030.3 269.0,1026.7 273.0,1023.8 277.5,1021.5 282.2,1019.9 287.2,1019.1 292.2,1019.2"/><path d="M350.5,1257.9 352.2,1253.2 353.6,1248.4 354.9,1243.5 356.0,1238.6 356.9,1233.7 357.6,1228.8 358.2,1223.8 358.6,1218.8 358.8,1213.8 358.8,1208.8 358.6,1203.8 358.3,1198.8 357.8,1193.8 357.1,1188.8 356.2,1183.9 355.2,1179.0 353.9,1174.1 352.5,1169.3 351.0,1164.6 349.2,1159.9 347.4,1155.2 345.5,1150.5 343.7,1145.9 341.8,1141.2 340.0,1136.6 338.1,1131.9 336.2,1127.3 334.4,1122.6 332.5,1118.0 330.7,1113.3 328.8,1108.6 327.0,1104.0 325.2,1099.3 323.4,1094.6 321.7,1089.9 320.1,1085.2 318.7,1080.4 317.5,1075.5 316.5,1070.6 315.7,1065.6 315.3,1060.6 315.2,1055.6 315.5,1050.6 316.1,1045.7 317.2,1040.8 318.8,1036.0 320.8,1031.4 323.4,1027.1 326.4,1023.1 329.8,1019.5 333.8,1016.4 338.1,1013.8 342.7,1011.9 347.5,1010.7 352.5,1010.2 357.5,1010.6 362.4,1011.9"/><path d="M350.2,1256.8 351.9,1252.1 353.5,1247.3 354.9,1242.5 356.2,1237.6 357.4,1232.7 358.4,1227.8 359.3,1222.8 360.0,1217.9 360.6,1212.9 361.0,1207.8 361.3,1202.8 361.5,1197.8 361.5,1192.7 361.4,1187.7 361.1,1182.7 360.7,1177.7 360.1,1172.7 359.5,1167.7 358.8,1162.7 358.2,1157.7 357.6,1152.7 357.0,1147.7 356.4,1142.7 355.8,1137.7 355.1,1132.7 354.5,1127.7 353.9,1122.7 353.3,1117.7 352.7,1112.7 352.0,1107.7 351.4,1102.7 350.8,1097.7 350.2,1092.7 349.7,1087.7 349.3,1082.7 349.1,1077.7 349.0,1072.6 349.1,1067.6 349.4,1062.6 350.0,1057.6 350.9,1052.6 352.1,1047.7 353.7,1043.0 355.6,1038.3 358.0,1033.8 360.7,1029.6 363.8,1025.7 367.3,1022.1 371.2,1018.9 375.4,1016.1 380.0,1013.9 384.8,1012.4 389.7,1011.5 394.7,1011.2 399.7,1011.8 404.6,1013.1"/><path d="M350.5,1259.5 352.4,1254.7 354.2,1250.0 355.9,1245.2 357.5,1240.4 359.1,1235.6 360.6,1230.7 362.0,1225.8 363.4,1220.9 364.7,1216.0 365.9,1211.1 367.0,1206.1 368.0,1201.2 369.0,1196.2 369.8,1191.2 370.7,1186.2 371.5,1181.1 372.3,1176.1 373.1,1171.1 374.0,1166.1 374.8,1161.1 375.6,1156.1 376.4,1151.1 377.2,1146.1 378.1,1141.0 378.9,1136.0 379.7,1131.0 380.5,1126.0 381.4,1121.0 382.2,1116.0 383.0,1111.0 383.8,1106.0 384.7,1100.9 385.6,1095.9 386.5,1090.9 387.6,1086.0 388.7,1081.0 390.0,1076.1 391.5,1071.3 393.1,1066.4 395.0,1061.7 397.1,1057.1 399.4,1052.6 401.9,1048.2 404.8,1044.0 407.9,1039.9 411.3,1036.2 415.0,1032.7 418.9,1029.5 423.1,1026.6 427.6,1024.2 432.3,1022.2 437.1,1020.7 442.1,1019.7 447.1,1019.3 452.2,1019.4"/><path d="M351.2,1257.1 353.2,1252.5 355.2,1247.9 357.3,1243.3 359.3,1238.7 361.3,1234.1 363.3,1229.5 365.3,1224.8 367.3,1220.2 369.3,1215.6 371.3,1211.0 373.3,1206.3 375.3,1201.7 377.3,1197.1 379.3,1192.4 381.2,1187.8 383.2,1183.2 385.2,1178.5 387.2,1173.9 389.1,1169.3 391.1,1164.6 393.1,1160.0 395.1,1155.4 397.0,1150.7 399.0,1146.1 401.0,1141.4 403.0,1136.8 404.9,1132.2 406.9,1127.5 408.9,1122.9 410.8,1118.3 412.8,1113.6 414.8,1109.0 416.8,1104.4 418.9,1099.8 421.1,1095.3 423.4,1090.8 425.9,1086.4 428.4,1082.1 431.2,1077.8 434.1,1073.7 437.3,1069.8 440.6,1066.0 444.2,1062.5 448.0,1059.2 452.0,1056.1 456.2,1053.4 460.7,1051.0 465.3,1049.1 470.1,1047.5 475.0,1046.4 480.0,1045.9 485.1,1045.8 490.1,1046.3 495.0,1047.4 499.8,1049.1"/><path d="M349.3,1258.9 351.4,1254.3 353.6,1249.7 355.7,1245.1 357.9,1240.5 360.1,1235.9 362.3,1231.3 364.5,1226.7 366.8,1222.1 369.0,1217.6 371.3,1213.0 373.6,1208.5 375.9,1204.0 378.3,1199.5 380.6,1195.0 383.0,1190.5 385.4,1186.0 387.8,1181.5 390.3,1177.0 392.7,1172.6 395.2,1168.1 397.7,1163.7 400.2,1159.2 402.7,1154.8 405.2,1150.4 407.8,1146.0 410.4,1141.6 413.0,1137.3 415.5,1132.9 418.1,1128.5 420.7,1124.1 423.3,1119.7 425.8,1115.3 428.4,1110.9 430.9,1106.5 433.4,1102.1 435.8,1097.6 438.1,1093.0 440.3,1088.5 442.4,1083.8 444.4,1079.1 446.2,1074.4 447.9,1069.6 449.3,1064.7 450.6,1059.8 451.6,1054.8 452.3,1049.8 452.8,1044.7 453.0,1039.6 452.9,1034.5 452.5,1029.5 451.7,1024.4 450.6,1019.5 449.1,1014.6 447.2,1009.9 445.0,1005.3 442.3,1000.9"/><path d="M365.5,1259.6 366.6,1254.7 367.6,1249.7 368.3,1244.7 368.9,1239.7 369.2,1234.7 369.3,1229.6 369.1,1224.6 368.8,1219.5 368.2,1214.5 367.4,1209.5 366.4,1204.6 365.2,1199.7 363.8,1194.8 362.2,1190.0 360.4,1185.3 358.3,1180.7 356.1,1176.2 353.7,1171.7 351.1,1167.4 348.3,1163.2 345.3,1159.1 342.1,1155.2 338.8,1151.3 335.4,1147.7 331.9,1144.0 328.4,1140.3 325.0,1136.7 321.5,1133.0 318.0,1129.3 314.5,1125.6 311.1,1122.0 307.6,1118.3 304.2,1114.6 300.9,1110.8 297.5,1107.0 294.3,1103.1 291.2,1099.1 288.1,1095.1 285.2,1091.0 282.5,1086.7 279.9,1082.4 277.4,1078.0 275.2,1073.4 273.3,1068.8 271.5,1064.0 270.1,1059.2 268.9,1054.3 268.0,1049.3 267.5,1044.3 267.4,1039.2 267.6,1034.2 268.2,1029.2 269.3,1024.2 270.7,1019.4"/><path d="M363.2,1258.9 364.4,1253.9 365.5,1249.0 366.3,1244.0 367.0,1238.9 367.5,1233.9 367.8,1228.8 367.9,1223.7 367.8,1218.6 367.5,1213.5 367.0,1208.5 366.3,1203.4 365.5,1198.4 364.4,1193.5 363.2,1188.5 361.8,1183.6 360.1,1178.8 358.4,1174.1 356.4,1169.4 354.2,1164.8 352.0,1160.2 349.8,1155.6 347.6,1151.0 345.4,1146.5 343.2,1141.9 340.9,1137.3 338.7,1132.7 336.5,1128.2 334.3,1123.6 332.1,1119.0 329.9,1114.4 327.6,1109.9 325.4,1105.3 323.2,1100.7 321.0,1096.1 318.9,1091.5 316.8,1086.9 314.7,1082.2 312.8,1077.5 310.9,1072.8 309.2,1068.0 307.5,1063.2 306.0,1058.4 304.7,1053.5 303.5,1048.5 302.5,1043.5 301.7,1038.5 301.2,1033.5 300.8,1028.4 300.8,1023.3 300.9,1018.2 301.4,1013.2 302.2,1008.1 303.2,1003.2 304.6,998.3 306.3,993.5 308.3,988.8 310.7,984.3"/><path d="M362.6,1259.9 363.9,1255.0 365.0,1250.0 366.0,1245.1 366.9,1240.1 367.5,1235.1 368.0,1230.0 368.4,1225.0 368.6,1219.9 368.6,1214.8 368.5,1209.8 368.2,1204.7 367.7,1199.7 367.1,1194.7 366.3,1189.6 365.4,1184.7 364.3,1179.7 363.1,1174.8 362.0,1169.9 360.9,1164.9 359.7,1160.0 358.6,1155.1 357.4,1150.1 356.3,1145.2 355.1,1140.3 354.0,1135.3 352.9,1130.4 351.7,1125.5 350.6,1120.5 349.4,1115.6 348.3,1110.7 347.1,1105.7 346.0,1100.8 344.9,1095.9 343.8,1090.9 342.7,1086.0 341.6,1081.0 340.7,1076.1 339.7,1071.1 338.9,1066.1 338.2,1061.1 337.5,1056.0 337.0,1051.0 336.6,1046.0 336.4,1040.9 336.3,1035.8 336.4,1030.8 336.6,1025.7 337.1,1020.7 337.7,1015.7 338.6,1010.7 339.7,1005.7 341.0,1000.8 342.6,996.0 344.4,991.3 346.5,986.7 348.9,982.2 351.5,977.9"/><path d="M364.5,1259.2 365.9,1254.3 367.1,1249.5 368.2,1244.6 369.2,1239.7 370.1,1234.7 370.8,1229.7 371.5,1224.8 371.9,1219.8 372.3,1214.8 372.5,1209.7 372.6,1204.7 372.6,1199.7 372.6,1194.7 372.5,1189.7 372.5,1184.7 372.5,1179.6 372.5,1174.6 372.5,1169.6 372.5,1164.6 372.4,1159.6 372.4,1154.5 372.4,1149.5 372.4,1144.5 372.4,1139.5 372.4,1134.5 372.3,1129.5 372.3,1124.4 372.3,1119.4 372.3,1114.4 372.3,1109.4 372.3,1104.4 372.2,1099.3 372.2,1094.3 372.2,1089.3 372.1,1084.3 372.0,1079.3 371.8,1074.3 371.5,1069.2 371.2,1064.2 370.8,1059.2 370.2,1054.2 369.6,1049.3 368.8,1044.3 367.8,1039.4 366.8,1034.5 365.5,1029.6 364.1,1024.8 362.4,1020.1 360.6,1015.4 358.6,1010.8 356.4,1006.3 353.9,1001.9 351.3,997.7 348.4,993.6 345.2,989.6 341.9,985.9 338.3,982.4"/><path d="M362.8,1259.2 364.4,1254.4 366.1,1249.6 367.7,1244.8 369.4,1240.0 371.0,1235.2 372.6,1230.5 374.3,1225.7 375.9,1220.9 377.5,1216.1 379.1,1211.3 380.6,1206.5 382.2,1201.7 383.8,1196.9 385.4,1192.0 386.9,1187.2 388.5,1182.4 390.1,1177.6 391.6,1172.8 393.2,1168.0 394.8,1163.2 396.3,1158.4 397.9,1153.6 399.5,1148.8 401.1,1144.0 402.6,1139.2 404.2,1134.4 405.8,1129.5 407.3,1124.7 408.9,1119.9 410.5,1115.1 412.0,1110.3 413.6,1105.5 415.2,1100.7 416.8,1095.9 418.5,1091.1 420.2,1086.4 422.0,1081.6 423.8,1076.9 425.7,1072.3 427.7,1067.6 429.8,1063.0 432.0,1058.5 434.3,1054.0 436.8,1049.5 439.4,1045.2 442.1,1040.9 444.9,1036.7 447.9,1032.6 451.1,1028.7 454.4,1024.9 457.8,1021.2 461.4,1017.7 465.2,1014.3 469.2,1011.1 473.3,1008.2"/><path d="M365.0,1259.7 366.9,1255.0 368.8,1250.4 370.8,1245.8 372.9,1241.2 375.0,1236.7 377.3,1232.2 379.5,1227.7 381.9,1223.3 384.3,1218.9 386.8,1214.6 389.4,1210.2 392.0,1206.0 394.6,1201.7 397.3,1197.4 399.9,1193.1 402.5,1188.8 405.1,1184.6 407.7,1180.3 410.4,1176.0 413.0,1171.7 415.6,1167.4 418.2,1163.1 420.8,1158.9 423.5,1154.6 426.1,1150.3 428.7,1146.0 431.3,1141.7 434.0,1137.5 436.6,1133.2 439.2,1128.9 441.8,1124.6 444.4,1120.3 447.1,1116.1 449.7,1111.8 452.4,1107.6 455.2,1103.4 458.0,1099.2 460.9,1095.1 463.9,1091.1 467.0,1087.2 470.2,1083.3 473.6,1079.6 477.1,1076.0 480.8,1072.6 484.6,1069.3 488.5,1066.2 492.7,1063.3 496.9,1060.7 501.4,1058.3 505.9,1056.3 510.6,1054.5 515.4,1053.0 520.3,1052.0 525.3,1051.3 530.3,1051.0 535.3,1051.1 540.3,1051.7"/><path d="M378.0,1259.9 379.2,1255.0 380.0,1250.0 380.6,1245.0 381.0,1240.0 381.0,1234.9 380.7,1229.9 380.1,1224.9 379.3,1219.9 378.2,1215.0 376.7,1210.2 375.0,1205.5 373.1,1200.8 370.8,1196.3 368.3,1191.9 365.6,1187.7 362.6,1183.7 359.6,1179.6 356.7,1175.5 353.7,1171.5 350.7,1167.4 347.7,1163.4 344.8,1159.3 341.8,1155.2 338.8,1151.2 335.8,1147.1 332.8,1143.0 329.9,1139.0 326.9,1134.9 323.9,1130.9 320.9,1126.8 318.0,1122.7 315.0,1118.7 312.1,1114.6 309.1,1110.5 306.3,1106.3 303.4,1102.2 300.7,1098.0 298.0,1093.7 295.3,1089.4 292.8,1085.1 290.3,1080.7 288.0,1076.2 285.8,1071.7 283.7,1067.1 281.7,1062.5 279.9,1057.8 278.3,1053.0 276.8,1048.2 275.6,1043.3 274.5,1038.4 273.7,1033.4 273.0,1028.4 272.6,1023.4 272.5,1018.4"/><path d="M379.5,1259.4 380.8,1254.6 382.0,1249.7 383.0,1244.7 383.8,1239.7 384.4,1234.7 384.8,1229.7 384.9,1224.7 384.9,1219.6 384.7,1214.6 384.2,1209.6 383.6,1204.6 382.7,1199.6 381.6,1194.7 380.4,1189.8 378.9,1185.0 377.3,1180.2 375.4,1175.5 373.5,1170.9 371.6,1166.2 369.6,1161.6 367.7,1156.9 365.7,1152.3 363.8,1147.6 361.9,1143.0 359.9,1138.3 358.0,1133.7 356.0,1129.0 354.1,1124.4 352.2,1119.7 350.2,1115.1 348.3,1110.4 346.3,1105.8 344.4,1101.1 342.5,1096.4 340.7,1091.7 338.9,1087.0 337.2,1082.3 335.6,1077.5 334.1,1072.7 332.7,1067.8 331.5,1062.9 330.4,1058.0 329.5,1053.1 328.8,1048.1 328.3,1043.1 328.0,1038.0 328.0,1033.0 328.2,1027.9 328.7,1022.9 329.5,1018.0 330.6,1013.0 332.0,1008.2 333.7,1003.4 335.7,998.8 338.1,994.4 340.8,990.1"/><path d="M376.8,1261.0 378.4,1256.3 379.9,1251.5 381.4,1246.6 382.7,1241.8 384.0,1236.9 385.1,1232.0 386.1,1227.1 387.1,1222.1 387.9,1217.1 388.7,1212.2 389.3,1207.2 389.9,1202.2 390.3,1197.1 390.6,1192.1 390.9,1187.1 391.0,1182.0 391.1,1177.0 391.0,1172.0 390.8,1166.9 390.6,1161.9 390.2,1156.9 389.7,1151.8 389.1,1146.8 388.5,1141.8 387.8,1136.9 387.1,1131.9 386.5,1126.9 385.8,1121.9 385.1,1116.9 384.5,1111.9 383.8,1106.9 383.2,1101.9 382.7,1096.9 382.2,1091.9 381.9,1086.8 381.6,1081.8 381.5,1076.8 381.6,1071.7 381.8,1066.7 382.3,1061.7 383.0,1056.7 383.9,1051.7 385.1,1046.8 386.6,1042.0 388.4,1037.3 390.4,1032.7 392.8,1028.3 395.6,1024.0 398.6,1020.0 402.0,1016.3 405.7,1012.8 409.6,1009.7 413.9,1007.0"/><path d="M377.6,1260.3 379.1,1255.5 380.6,1250.7 381.9,1245.9 383.1,1241.0 384.1,1236.1 385.1,1231.2 385.9,1226.3 386.6,1221.3 387.2,1216.3 387.6,1211.4 387.9,1206.4 388.1,1201.4 388.3,1196.4 388.5,1191.4 388.7,1186.3 388.9,1181.3 389.1,1176.3 389.2,1171.3 389.4,1166.3 389.6,1161.3 389.8,1156.3 390.0,1151.3 390.2,1146.3 390.4,1141.3 390.6,1136.3 390.8,1131.3 391.0,1126.3 391.1,1121.3 391.3,1116.3 391.5,1111.3 391.7,1106.3 391.9,1101.3 392.1,1096.3 392.4,1091.3 392.7,1086.3 393.1,1081.3 393.5,1076.3 394.1,1071.3 394.7,1066.4 395.5,1061.4 396.4,1056.5 397.4,1051.6 398.6,1046.7 400.0,1041.9 401.5,1037.2 403.3,1032.5 405.2,1027.8 407.4,1023.3 409.7,1018.9 412.3,1014.6 415.1,1010.5 418.1,1006.5 421.4,1002.7 424.9,999.1 428.6,995.7"/><path d="M377.5,1259.4 379.4,1254.8 381.2,1250.1 383.0,1245.4 384.8,1240.7 386.7,1236.0 388.5,1231.4 390.3,1226.7 392.0,1222.0 393.8,1217.3 395.6,1212.6 397.4,1207.9 399.1,1203.1 400.9,1198.4 402.6,1193.7 404.3,1189.0 406.1,1184.3 407.8,1179.6 409.5,1174.8 411.2,1170.1 412.9,1165.4 414.6,1160.6 416.2,1155.9 417.9,1151.2 419.6,1146.4 421.2,1141.7 422.9,1136.9 424.5,1132.2 426.2,1127.4 427.8,1122.7 429.5,1117.9 431.1,1113.2 432.8,1108.5 434.5,1103.7 436.3,1099.1 438.2,1094.4 440.2,1089.8 442.3,1085.2 444.5,1080.7 446.9,1076.3 449.4,1071.9 452.1,1067.7 455.1,1063.6 458.2,1059.7 461.5,1055.9 465.1,1052.4 468.8,1049.1 472.8,1046.0 477.0,1043.2 481.4,1040.8 486.0,1038.7 490.7,1037.0 495.6,1035.7 500.5,1034.8 505.5,1034.5"/><path d="M378.4,1260.0 380.5,1255.4 382.6,1250.8 384.7,1246.2 386.9,1241.7 389.2,1237.2 391.5,1232.7 393.9,1228.2 396.4,1223.8 398.9,1219.4 401.4,1215.0 404.0,1210.7 406.7,1206.4 409.4,1202.1 412.1,1197.8 414.7,1193.6 417.4,1189.3 420.1,1185.0 422.8,1180.7 425.4,1176.4 428.1,1172.1 430.8,1167.8 433.5,1163.5 436.1,1159.2 438.8,1154.9 441.5,1150.6 444.2,1146.4 446.8,1142.1 449.5,1137.8 452.2,1133.5 454.8,1129.2 457.5,1124.9 460.3,1120.6 463.0,1116.4 465.9,1112.2 468.8,1108.1 471.8,1104.0 474.9,1100.0 478.1,1096.2 481.5,1092.4 485.0,1088.7 488.7,1085.3 492.5,1082.0 496.5,1078.8 500.6,1076.0 504.9,1073.3 509.4,1070.9 514.0,1068.9 518.8,1067.1 523.6,1065.8 528.6,1064.8 533.6,1064.2 538.7,1064.0 543.7,1064.3"/><path d="M390.6,1262.6 391.1,1257.5 391.2,1252.5 391.0,1247.4 390.4,1242.4 389.5,1237.4 388.2,1232.5 386.7,1227.7 384.8,1223.0 382.6,1218.4 380.1,1214.0 377.3,1209.8 374.2,1205.8 370.9,1202.0 367.3,1198.4 363.7,1194.9 360.0,1191.4 356.3,1187.9 352.6,1184.5 349.0,1181.0 345.3,1177.5 341.6,1174.0 337.9,1170.5 334.3,1167.1 330.6,1163.6 326.9,1160.1 323.2,1156.6 319.6,1153.1 315.9,1149.6 312.2,1146.2 308.5,1142.7 304.9,1139.2 301.2,1135.7 297.6,1132.1 294.0,1128.5 290.5,1124.9 287.0,1121.2 283.6,1117.5 280.3,1113.7 277.0,1109.8 273.9,1105.9 270.8,1101.8 267.9,1097.7 265.0,1093.5 262.4,1089.2 259.9,1084.8 257.5,1080.3 255.4,1075.7 253.4,1071.1 251.6,1066.3 250.1,1061.5 248.8,1056.6 247.8,1051.6"/><path d="M391.9,1259.8 392.7,1254.8 393.4,1249.7 393.9,1244.7 394.1,1239.6 394.3,1234.5 394.2,1229.5 393.9,1224.4 393.5,1219.3 392.9,1214.3 392.0,1209.3 391.1,1204.3 389.9,1199.3 388.5,1194.4 387.0,1189.6 385.3,1184.8 383.4,1180.1 381.4,1175.4 379.2,1170.9 376.8,1166.4 374.3,1162.0 371.6,1157.7 368.9,1153.4 366.2,1149.1 363.5,1144.8 360.8,1140.5 358.1,1136.2 355.4,1131.9 352.7,1127.6 350.0,1123.3 347.3,1119.0 344.6,1114.7 341.8,1110.4 339.0,1106.2 336.2,1102.0 333.3,1097.8 330.3,1093.7 327.2,1089.7 324.0,1085.7 320.7,1081.9 317.3,1078.1 313.7,1074.5 310.0,1071.0 306.2,1067.6 302.2,1064.5 298.1,1061.5 293.9,1058.7 289.5,1056.1 285.0,1053.8 280.3,1051.8 275.5,1050.1 270.7,1048.6 265.7,1047.5"/><path d="M392.1,1261.1 393.1,1256.2 394.0,1251.3 394.7,1246.3 395.4,1241.4 396.0,1236.4 396.4,1231.4 396.7,1226.4 396.9,1221.4 397.0,1216.4 397.0,1211.4 396.9,1206.4 396.6,1201.4 396.3,1196.4 395.8,1191.4 395.2,1186.4 394.5,1181.5 393.7,1176.5 392.8,1171.6 391.8,1166.7 390.6,1161.8 389.4,1157.0 388.2,1152.1 387.0,1147.2 385.8,1142.4 384.6,1137.5 383.4,1132.7 382.2,1127.8 381.0,1122.9 379.7,1118.1 378.5,1113.2 377.3,1108.3 376.2,1103.5 375.0,1098.6 374.0,1093.7 373.0,1088.8 372.1,1083.9 371.3,1078.9 370.6,1074.0 370.0,1069.0 369.6,1064.0 369.4,1059.0 369.3,1054.0 369.5,1049.0 369.8,1044.0 370.4,1039.0 371.2,1034.1 372.3,1029.2 373.6,1024.3 375.2,1019.6 377.1,1015.0 379.2,1010.4 381.7,1006.1 384.5,1001.9"/><path d="M392.0,1260.4 392.9,1255.5 393.7,1250.6 394.4,1245.7 395.0,1240.7 395.4,1235.7 395.7,1230.7 395.9,1225.7 395.9,1220.7 395.8,1215.7 395.6,1210.7 395.4,1205.7 395.1,1200.7 394.8,1195.7 394.6,1190.7 394.3,1185.7 394.0,1180.7 393.7,1175.7 393.5,1170.7 393.2,1165.8 392.9,1160.8 392.7,1155.8 392.4,1150.8 392.1,1145.8 391.9,1140.8 391.6,1135.8 391.3,1130.8 391.1,1125.8 390.8,1120.8 390.5,1115.8 390.3,1110.8 390.0,1105.8 389.7,1100.8 389.5,1095.8 389.3,1090.8 389.1,1085.8 388.9,1080.8 388.8,1075.8 388.7,1070.8 388.7,1065.8 388.8,1060.8 388.9,1055.8 389.2,1050.8 389.5,1045.8 390.0,1040.9 390.6,1035.9 391.3,1030.9 392.1,1026.0 393.1,1021.1 394.2,1016.2 395.5,1011.4 397.0,1006.6 398.6,1001.9 400.4,997.2 402.4,992.6 404.6,988.1 407.0,983.7"/><path d="M392.7,1262.3 394.0,1257.4 395.3,1252.5 396.6,1247.6 397.9,1242.6 399.2,1237.7 400.4,1232.8 401.7,1227.9 403.0,1223.0 404.3,1218.1 405.6,1213.1 406.8,1208.2 408.1,1203.3 409.4,1198.4 410.7,1193.5 412.0,1188.6 413.2,1183.6 414.5,1178.7 415.8,1173.8 417.1,1168.9 418.4,1164.0 419.6,1159.1 420.9,1154.1 422.2,1149.2 423.5,1144.3 424.8,1139.4 426.0,1134.5 427.3,1129.6 428.6,1124.6 429.9,1119.7 431.1,1114.8 432.4,1109.9 433.6,1105.0 434.8,1100.0 436.0,1095.1 437.1,1090.1 438.1,1085.1 439.1,1080.1 440.0,1075.1 440.8,1070.1 441.4,1065.1 442.0,1060.0 442.4,1055.0 442.7,1049.9 442.9,1044.8 442.8,1039.7 442.7,1034.7 442.3,1029.6 441.7,1024.5 441.0,1019.5 440.0,1014.5 438.8,1009.6 437.4,1004.7"/><path d="M391.4,1261.0 392.8,1256.2 394.2,1251.3 395.6,1246.5 397.1,1241.7 398.7,1236.9 400.3,1232.2 401.9,1227.4 403.6,1222.7 405.3,1217.9 407.0,1213.2 408.8,1208.5 410.6,1203.8 412.5,1199.2 414.4,1194.5 416.4,1189.9 418.4,1185.2 420.4,1180.6 422.5,1176.1 424.6,1171.5 426.7,1166.9 428.9,1162.4 431.1,1157.9 433.4,1153.4 435.6,1148.9 437.9,1144.4 440.1,1139.9 442.3,1135.4 444.6,1130.9 446.8,1126.4 449.0,1121.9 451.3,1117.4 453.6,1112.9 455.9,1108.4 458.2,1104.0 460.7,1099.6 463.2,1095.2 465.8,1090.9 468.4,1086.6 471.2,1082.4 474.1,1078.3 477.2,1074.3 480.4,1070.4 483.7,1066.7 487.2,1063.0 490.8,1059.5 494.6,1056.2 498.5,1053.1 502.6,1050.2 506.9,1047.5 511.3,1045.1 515.8,1042.9 520.5,1041.1 525.3,1039.5"/><path d="M407.5,1262.8 407.4,1257.8 406.8,1252.8 405.7,1247.9 404.1,1243.1 402.0,1238.5 399.5,1234.1 396.6,1230.0 393.3,1226.2 389.6,1222.8 385.9,1219.4 382.2,1216.0 378.6,1212.5 374.9,1209.1 371.2,1205.7 367.5,1202.3 363.8,1198.9 360.1,1195.4 356.4,1192.0 352.7,1188.6 349.1,1185.2 345.4,1181.8 341.7,1178.3 338.0,1174.9 334.3,1171.5 330.6,1168.1 326.9,1164.7 323.2,1161.2 319.5,1157.8 315.9,1154.4 312.2,1151.0 308.5,1147.6 304.7,1144.2 301.0,1140.9 297.2,1137.6 293.3,1134.3 289.4,1131.1 285.5,1128.0 281.4,1125.0 277.3,1122.1 273.1,1119.3 268.9,1116.7 264.5,1114.2 260.1,1111.8 255.5,1109.6 250.9,1107.6 246.2,1105.8 241.4,1104.3 236.6,1102.9 231.7,1101.9 226.7,1101.1 221.7,1100.6 216.7,1100.4"/><path d="M406.3,1261.8 406.8,1256.8 407.1,1251.8 407.2,1246.7 407.0,1241.7 406.6,1236.7 406.0,1231.7 405.1,1226.8 403.9,1221.9 402.6,1217.0 401.0,1212.3 399.2,1207.6 397.1,1203.0 394.9,1198.5 392.4,1194.1 389.8,1189.8 387.2,1185.6 384.5,1181.3 381.9,1177.0 379.3,1172.7 376.6,1168.4 374.0,1164.2 371.4,1159.9 368.7,1155.6 366.1,1151.3 363.5,1147.0 360.8,1142.7 358.2,1138.5 355.6,1134.2 352.9,1129.9 350.3,1125.6 347.7,1121.3 345.2,1117.0 342.7,1112.6 340.3,1108.2 338.0,1103.7 335.8,1099.2 333.7,1094.6 331.9,1090.0 330.2,1085.2 328.7,1080.4 327.5,1075.5 326.5,1070.6 325.8,1065.6 325.4,1060.6 325.3,1055.6 325.6,1050.6 326.3,1045.6 327.3,1040.7 328.8,1035.9 330.7,1031.2 333.0,1026.7 335.7,1022.5"/><path d="M405.1,1260.7 405.7,1255.7 406.1,1250.7 406.2,1245.6 406.2,1240.6 405.9,1235.5 405.4,1230.5 404.6,1225.5 403.7,1220.5 402.6,1215.6 401.2,1210.7 399.6,1205.9 398.1,1201.1 396.5,1196.3 395.0,1191.5 393.4,1186.6 391.9,1181.8 390.3,1177.0 388.8,1172.2 387.3,1167.4 385.7,1162.6 384.2,1157.8 382.6,1152.9 381.1,1148.1 379.5,1143.3 378.0,1138.5 376.4,1133.7 374.9,1128.9 373.3,1124.0 371.8,1119.2 370.2,1114.4 368.7,1109.6 367.2,1104.8 365.7,1099.9 364.3,1095.1 362.9,1090.2 361.6,1085.3 360.4,1080.4 359.3,1075.5 358.4,1070.5 357.5,1065.5 356.8,1060.5 356.3,1055.5 355.9,1050.4 355.7,1045.4 355.7,1040.3 356.0,1035.3 356.4,1030.2 357.2,1025.2 358.1,1020.3 359.3,1015.3 360.8,1010.5 362.6,1005.8 364.6,1001.2"/><path d="M404.7,1261.8 405.7,1256.9 406.6,1251.9 407.5,1247.0 408.3,1242.0 409.1,1237.0 409.8,1232.0 410.4,1227.0 411.0,1222.0 411.5,1217.0 412.0,1211.9 412.4,1206.9 412.8,1201.9 413.0,1196.8 413.3,1191.8 413.4,1186.8 413.5,1181.7 413.6,1176.7 413.6,1171.6 413.5,1166.6 413.4,1161.5 413.2,1156.5 413.0,1151.5 412.7,1146.4 412.4,1141.4 412.1,1136.4 411.8,1131.3 411.6,1126.3 411.3,1121.2 411.0,1116.2 410.7,1111.2 410.4,1106.1 410.2,1101.1 410.0,1096.1 409.9,1091.0 409.8,1086.0 409.9,1080.9 410.1,1075.9 410.4,1070.8 411.0,1065.8 411.7,1060.8 412.6,1055.9 413.8,1051.0 415.2,1046.1 416.8,1041.4 418.8,1036.7 421.0,1032.2 423.5,1027.8 426.4,1023.6 429.5,1019.7 432.9,1016.0 436.7,1012.6 440.7,1009.6 445.0,1006.9 449.5,1004.7"/><path d="M406.4,1262.8 407.5,1257.8 408.5,1252.9 409.5,1247.9 410.4,1242.9 411.3,1237.9 412.2,1233.0 413.1,1228.0 413.9,1223.0 414.7,1217.9 415.4,1212.9 416.1,1207.9 416.8,1202.9 417.4,1197.9 418.0,1192.8 418.6,1187.8 419.1,1182.8 419.6,1177.7 420.1,1172.7 420.7,1167.6 421.2,1162.6 421.7,1157.5 422.2,1152.5 422.7,1147.5 423.2,1142.4 423.8,1137.4 424.3,1132.3 424.8,1127.3 425.3,1122.2 425.8,1117.2 426.3,1112.2 426.8,1107.1 427.3,1102.1 427.7,1097.0 428.1,1092.0 428.3,1086.9 428.5,1081.8 428.5,1076.8 428.3,1071.7 428.0,1066.6 427.6,1061.6 426.9,1056.6 426.0,1051.6 424.8,1046.6 423.5,1041.8 421.8,1037.0 419.9,1032.3 417.7,1027.7 415.2,1023.3 412.4,1019.1 409.3,1015.1 405.9,1011.3 402.2,1007.9 398.2,1004.7"/><path d="M406.7,1262.3 407.9,1257.4 409.3,1252.5 410.7,1247.6 412.1,1242.8 413.6,1237.9 415.2,1233.1 416.8,1228.3 418.5,1223.5 420.2,1218.7 422.0,1213.9 423.8,1209.2 425.6,1204.4 427.3,1199.6 429.1,1194.9 430.9,1190.1 432.7,1185.4 434.4,1180.6 436.2,1175.8 438.0,1171.1 439.8,1166.3 441.5,1161.6 443.3,1156.8 445.1,1152.0 446.9,1147.3 448.6,1142.5 450.4,1137.8 452.2,1133.0 454.0,1128.2 455.7,1123.5 457.5,1118.7 459.4,1114.0 461.2,1109.2 463.2,1104.5 465.2,1099.9 467.2,1095.2 469.4,1090.7 471.7,1086.1 474.2,1081.7 476.8,1077.3 479.5,1073.0 482.4,1068.8 485.5,1064.8 488.7,1060.9 492.2,1057.1 495.8,1053.6 499.6,1050.2 503.6,1047.1 507.8,1044.2 512.1,1041.6 516.7,1039.3 521.3,1037.3"/><path d="M420.1,1263.0 420.3,1258.0 420.1,1253.0 419.6,1248.0 418.7,1243.1 417.4,1238.2 415.8,1233.5 413.9,1228.9 411.6,1224.4 408.9,1220.1 406.0,1216.1 402.8,1212.2 399.3,1208.6 395.5,1205.3 391.7,1202.0 387.9,1198.8 384.1,1195.5 380.2,1192.3 376.4,1189.0 372.6,1185.8 368.8,1182.5 364.9,1179.3 361.1,1176.0 357.3,1172.7 353.5,1169.5 349.7,1166.2 345.8,1163.0 342.0,1159.7 338.2,1156.5 334.4,1153.2 330.5,1150.0 326.7,1146.8 322.8,1143.6 318.9,1140.5 314.9,1137.4 310.9,1134.4 306.8,1131.5 302.6,1128.7 298.4,1126.0 294.1,1123.4 289.7,1121.0 285.2,1118.7 280.7,1116.6 276.1,1114.6 271.4,1112.9 266.6,1111.3 261.7,1110.0 256.8,1109.0 251.9,1108.2 246.9,1107.7 241.9,1107.4"/><path d="M421.0,1262.7 421.1,1257.7 420.8,1252.7 420.1,1247.7 419.0,1242.8 417.5,1238.0 415.6,1233.3 413.3,1228.8 410.7,1224.5 407.8,1220.4 404.9,1216.4 402.0,1212.3 399.1,1208.2 396.1,1204.1 393.2,1200.0 390.3,1195.9 387.4,1191.8 384.5,1187.7 381.5,1183.6 378.6,1179.5 375.7,1175.4 372.8,1171.3 369.9,1167.3 367.0,1163.2 364.0,1159.1 361.1,1155.0 358.2,1150.9 355.3,1146.8 352.4,1142.7 349.4,1138.6 346.5,1134.5 343.6,1130.4 340.6,1126.4 337.6,1122.3 334.6,1118.3 331.5,1114.4 328.4,1110.5 325.2,1106.6 321.9,1102.8 318.5,1099.1 315.0,1095.4 311.5,1091.9 307.8,1088.4 304.0,1085.1 300.2,1081.9 296.2,1078.9 292.1,1076.0 287.8,1073.2 283.5,1070.7 279.0,1068.4 274.5,1066.3 269.8,1064.4 265.1,1062.7"/><path d="M421.1,1264.1 421.9,1259.1 422.7,1254.1 423.3,1249.1 423.8,1244.1 424.2,1239.0 424.5,1234.0 424.6,1228.9 424.7,1223.9 424.6,1218.8 424.5,1213.7 424.2,1208.7 423.8,1203.6 423.3,1198.6 422.6,1193.6 421.9,1188.6 421.0,1183.6 420.1,1178.6 419.0,1173.7 417.8,1168.8 416.5,1163.9 415.1,1159.0 413.5,1154.2 411.9,1149.4 410.2,1144.6 408.5,1139.9 406.8,1135.1 405.0,1130.3 403.3,1125.6 401.6,1120.8 399.9,1116.1 398.2,1111.3 396.4,1106.5 394.6,1101.8 392.8,1097.1 390.9,1092.4 388.9,1087.8 386.8,1083.1 384.6,1078.6 382.3,1074.1 379.9,1069.6 377.3,1065.3 374.6,1061.0 371.8,1056.8 368.7,1052.8 365.5,1048.9 362.1,1045.1 358.6,1041.5 354.8,1038.1 350.9,1034.9 346.8,1031.9 342.5,1029.2 338.1,1026.8 333.5,1024.6"/><path d="M419.3,1263.2 420.1,1258.2 420.9,1253.3 421.6,1248.3 422.1,1243.4 422.5,1238.4 422.9,1233.4 423.1,1228.4 423.2,1223.4 423.2,1218.4 423.1,1213.4 422.9,1208.4 422.6,1203.4 422.2,1198.4 421.7,1193.4 421.1,1188.4 420.6,1183.4 420.0,1178.5 419.4,1173.5 418.9,1168.5 418.3,1163.6 417.7,1158.6 417.2,1153.6 416.6,1148.6 416.0,1143.7 415.4,1138.7 414.9,1133.7 414.3,1128.7 413.7,1123.8 413.2,1118.8 412.6,1113.8 412.1,1108.9 411.6,1103.9 411.1,1098.9 410.7,1093.9 410.4,1088.9 410.2,1083.9 410.1,1078.9 410.2,1073.9 410.4,1068.9 410.7,1063.9 411.2,1058.9 411.9,1054.0 412.9,1049.0 414.0,1044.2 415.4,1039.3 417.0,1034.6 418.8,1030.0 420.9,1025.4 423.3,1021.0 426.0,1016.8 428.9,1012.7 432.1,1008.9"/><path d="M419.0,1262.9 420.1,1258.0 421.1,1253.1 422.1,1248.2 423.1,1243.2 424.1,1238.3 425.0,1233.4 425.9,1228.5 426.8,1223.5 427.7,1218.6 428.5,1213.6 429.3,1208.7 430.1,1203.7 430.9,1198.8 431.6,1193.8 432.4,1188.9 433.1,1183.9 433.8,1178.9 434.4,1174.0 435.1,1169.0 435.8,1164.0 436.5,1159.0 437.2,1154.1 437.8,1149.1 438.5,1144.1 439.2,1139.2 439.9,1134.2 440.6,1129.2 441.2,1124.3 441.9,1119.3 442.6,1114.3 443.3,1109.4 444.0,1104.4 444.7,1099.4 445.5,1094.5 446.4,1089.5 447.3,1084.6 448.2,1079.7 449.3,1074.8 450.4,1069.9 451.7,1065.0 453.1,1060.2 454.6,1055.4 456.2,1050.7 458.0,1046.0 459.9,1041.3 462.0,1036.8 464.2,1032.3 466.6,1027.9 469.2,1023.6 472.0,1019.5 475.0,1015.4 478.2,1011.5 481.5,1007.8"/><path d="M420.7,1263.8 422.0,1258.8 423.4,1254.0 424.9,1249.1 426.4,1244.2 428.0,1239.4 429.7,1234.6 431.4,1229.8 433.3,1225.1 435.2,1220.4 437.1,1215.7 439.2,1211.0 441.3,1206.4 443.4,1201.8 445.6,1197.2 447.8,1192.6 450.0,1188.0 452.2,1183.4 454.4,1178.8 456.5,1174.2 458.7,1169.6 460.9,1165.0 463.1,1160.4 465.3,1155.8 467.5,1151.2 469.7,1146.6 471.8,1142.0 474.0,1137.5 476.2,1132.9 478.4,1128.3 480.6,1123.7 482.8,1119.1 485.0,1114.5 487.3,1110.0 489.7,1105.5 492.1,1101.0 494.7,1096.6 497.4,1092.3 500.2,1088.1 503.2,1084.0 506.4,1080.0 509.7,1076.1 513.2,1072.5 517.0,1069.0 520.9,1065.7 525.0,1062.7 529.3,1060.0 533.8,1057.6 538.4,1055.6 543.2,1053.9 548.1,1052.6 553.1,1051.8 558.2,1051.4 563.3,1051.5"/><path d="M435.1,1264.6 435.5,1259.6 435.8,1254.6 435.7,1249.6 435.5,1244.6 434.9,1239.6 434.2,1234.6 433.1,1229.7 431.9,1224.9 430.4,1220.1 428.6,1215.4 426.6,1210.8 424.4,1206.3 422.0,1201.9 419.4,1197.6 416.5,1193.5 413.4,1189.5 410.2,1185.7 406.8,1182.1 403.2,1178.5 399.7,1175.0 396.2,1171.4 392.6,1167.8 389.1,1164.3 385.6,1160.7 382.0,1157.2 378.5,1153.6 375.0,1150.0 371.4,1146.5 367.9,1142.9 364.3,1139.4 360.8,1135.9 357.1,1132.4 353.5,1129.0 349.8,1125.6 346.0,1122.3 342.1,1119.1 338.2,1116.0 334.2,1113.0 330.1,1110.0 326.0,1107.2 321.7,1104.6 317.4,1102.1 312.9,1099.7 308.4,1097.6 303.8,1095.6 299.1,1093.9 294.3,1092.4 289.5,1091.1 284.5,1090.1"/><path d="M434.0,1263.2 434.4,1258.2 434.4,1253.2 434.2,1248.2 433.6,1243.3 432.8,1238.3 431.6,1233.5 430.2,1228.7 428.5,1224.0 426.5,1219.4 424.2,1214.9 421.7,1210.6 418.9,1206.5 416.0,1202.4 413.1,1198.3 410.2,1194.2 407.3,1190.1 404.5,1186.0 401.6,1182.0 398.7,1177.9 395.8,1173.8 392.9,1169.7 390.0,1165.6 387.2,1161.5 384.3,1157.4 381.4,1153.3 378.5,1149.3 375.6,1145.2 372.7,1141.1 369.9,1137.0 367.0,1132.9 364.2,1128.7 361.5,1124.6 358.8,1120.3 356.2,1116.0 353.8,1111.7 351.5,1107.3 349.3,1102.7 347.3,1098.1 345.6,1093.5 344.0,1088.7 342.7,1083.9 341.7,1079.0 341.0,1074.0 340.6,1069.1 340.5,1064.1 340.8,1059.1 341.5,1054.1 342.6,1049.2 344.1,1044.5 346.0,1039.8"/><path d="M433.7,1264.1 434.3,1259.0 434.7,1254.0 434.9,1248.9 434.8,1243.9 434.6,1238.8 434.2,1233.8 433.5,1228.7 432.6,1223.8 431.6,1218.8 430.3,1213.9 428.8,1209.1 427.2,1204.3 425.3,1199.6 423.3,1194.9 421.4,1190.2 419.4,1185.6 417.5,1180.9 415.5,1176.2 413.5,1171.6 411.6,1166.9 409.6,1162.2 407.7,1157.6 405.7,1152.9 403.7,1148.2 401.8,1143.5 399.8,1138.9 397.9,1134.2 395.9,1129.5 393.9,1124.9 391.9,1120.2 389.8,1115.6 387.7,1111.0 385.4,1106.5 383.0,1102.0 380.5,1097.7 377.7,1093.4 374.8,1089.3 371.7,1085.3 368.4,1081.4 364.8,1077.8 361.0,1074.5 357.0,1071.4 352.8,1068.7 348.3,1066.3 343.7,1064.2 338.8,1062.7 333.9,1061.6 328.9,1061.0 323.8,1061.0 318.8,1061.6"/><path d="M434.4,1264.2 435.1,1259.2 435.8,1254.2 436.3,1249.2 436.8,1244.1 437.0,1239.0 437.2,1234.0 437.2,1228.9 437.1,1223.9 436.9,1218.8 436.5,1213.7 436.0,1208.7 435.4,1203.7 434.8,1198.6 434.2,1193.6 433.6,1188.6 433.0,1183.6 432.4,1178.5 431.8,1173.5 431.1,1168.5 430.5,1163.4 429.9,1158.4 429.3,1153.4 428.7,1148.3 428.1,1143.3 427.5,1138.3 426.9,1133.3 426.3,1128.2 425.7,1123.2 425.1,1118.2 424.4,1113.2 423.7,1108.1 422.9,1103.1 422.0,1098.1 421.1,1093.2 419.9,1088.2 418.7,1083.3 417.2,1078.5 415.6,1073.7 413.7,1069.0 411.6,1064.4 409.3,1059.9 406.7,1055.5 403.9,1051.3 400.8,1047.3 397.4,1043.5 393.7,1040.0 389.8,1036.8 385.7,1033.9 381.3,1031.4 376.7,1029.3"/><path d="M434.6,1265.0 435.7,1260.1 436.7,1255.1 437.7,1250.2 438.7,1245.3 439.7,1240.4 440.7,1235.4 441.6,1230.5 442.5,1225.5 443.4,1220.6 444.3,1215.6 445.2,1210.7 446.0,1205.7 446.8,1200.8 447.6,1195.8 448.4,1190.8 449.2,1185.9 450.0,1180.9 450.7,1175.9 451.4,1170.9 452.1,1166.0 452.8,1161.0 453.4,1156.0 454.1,1151.0 454.7,1146.0 455.3,1141.0 456.0,1136.0 456.6,1131.0 457.2,1126.0 457.8,1121.1 458.5,1116.1 459.1,1111.1 459.6,1106.1 460.1,1101.1 460.5,1096.1 460.8,1091.0 461.0,1086.0 461.1,1081.0 461.0,1076.0 460.7,1070.9 460.2,1065.9 459.6,1060.9 458.7,1056.0 457.6,1051.1 456.2,1046.3 454.5,1041.5 452.6,1036.9 450.4,1032.4 447.8,1028.0 445.0,1023.8 441.9,1019.9 438.5,1016.2 434.8,1012.8"/><path d="M433.0,1264.8 434.2,1259.9 435.6,1255.1 437.0,1250.3 438.5,1245.4 440.0,1240.7 441.6,1235.9 443.3,1231.1 445.0,1226.4 446.9,1221.7 448.7,1217.0 450.7,1212.4 452.7,1207.8 454.8,1203.2 456.9,1198.6 458.9,1194.0 461.0,1189.4 463.1,1184.9 465.2,1180.3 467.2,1175.7 469.3,1171.1 471.4,1166.5 473.5,1161.9 475.6,1157.3 477.6,1152.8 479.7,1148.2 481.8,1143.6 483.9,1139.0 485.9,1134.4 488.0,1129.8 490.1,1125.2 492.2,1120.7 494.4,1116.1 496.6,1111.6 498.9,1107.1 501.2,1102.7 503.7,1098.3 506.3,1094.0 509.0,1089.7 511.9,1085.6 515.0,1081.6 518.2,1077.7 521.6,1074.0 525.1,1070.4 528.9,1067.1 532.8,1063.9 537.0,1061.1 541.3,1058.5 545.7,1056.2 550.4,1054.2 555.1,1052.6 560.0,1051.3 565.0,1050.5"/><path d="M447.1,1264.5 447.3,1259.5 447.1,1254.4 446.7,1249.3 446.0,1244.3 445.0,1239.3 443.7,1234.4 442.1,1229.6 440.2,1224.9 438.1,1220.3 435.7,1215.9 433.0,1211.5 430.1,1207.4 426.9,1203.4 423.5,1199.7 419.9,1196.1 416.1,1192.7 412.2,1189.5 408.3,1186.3 404.4,1183.1 400.5,1179.8 396.6,1176.6 392.6,1173.4 388.7,1170.2 384.8,1167.0 380.9,1163.7 377.0,1160.5 373.1,1157.3 369.1,1154.1 365.2,1150.8 361.3,1147.6 357.4,1144.4 353.6,1141.1 349.8,1137.7 346.0,1134.4 342.2,1130.9 338.5,1127.5 334.9,1123.9 331.4,1120.3 327.9,1116.6 324.6,1112.8 321.3,1108.9 318.1,1104.9 315.1,1100.9 312.2,1096.7 309.5,1092.4 306.9,1088.0 304.5,1083.6 302.3,1079.0 300.3,1074.3 298.6,1069.6"/><path d="M448.5,1265.3 448.9,1260.2 449.1,1255.2 449.1,1250.1 448.9,1245.0 448.5,1239.9 447.9,1234.9 447.1,1229.8 446.2,1224.9 445.0,1219.9 443.6,1215.0 442.0,1210.2 440.3,1205.4 438.3,1200.7 436.2,1196.1 433.9,1191.6 431.4,1187.1 428.7,1182.8 425.9,1178.6 422.9,1174.5 419.7,1170.5 416.5,1166.6 413.2,1162.6 410.0,1158.7 406.7,1154.8 403.5,1150.9 400.2,1147.0 397.0,1143.0 393.8,1139.1 390.5,1135.2 387.1,1131.4 383.8,1127.6 380.3,1123.9 376.7,1120.3 373.0,1116.8 369.2,1113.4 365.3,1110.2 361.2,1107.1 357.0,1104.3 352.6,1101.7 348.1,1099.4 343.4,1097.3 338.6,1095.6 333.7,1094.2 328.8,1093.3 323.7,1092.7 318.6,1092.6 313.5,1092.9 308.5,1093.8"/><path d="M448.7,1263.9 449.3,1259.0 449.9,1254.0 450.3,1249.0 450.7,1244.0 450.9,1239.0 451.1,1234.0 451.1,1228.9 451.1,1223.9 450.9,1218.9 450.7,1213.9 450.3,1208.9 449.9,1203.9 449.3,1198.9 448.7,1194.0 447.9,1189.0 447.1,1184.1 446.1,1179.1 445.1,1174.2 444.0,1169.4 442.7,1164.5 441.4,1159.7 440.0,1154.9 438.5,1150.1 436.8,1145.3 435.1,1140.6 433.4,1135.9 431.6,1131.2 429.9,1126.5 428.1,1121.8 426.5,1117.1 424.8,1112.4 423.3,1107.6 421.8,1102.8 420.5,1098.0 419.3,1093.1 418.3,1088.2 417.5,1083.2 416.9,1078.3 416.6,1073.3 416.5,1068.2 416.6,1063.2 417.1,1058.2 417.9,1053.3 419.0,1048.4 420.5,1043.6 422.3,1039.0 424.5,1034.5 427.1,1030.2 430.1,1026.1"/><path d="M448.1,1265.3 448.7,1260.3 449.3,1255.3 449.7,1250.2 450.1,1245.2 450.4,1240.2 450.5,1235.1 450.6,1230.1 450.6,1225.0 450.4,1220.0 450.2,1214.9 449.9,1209.9 449.5,1204.9 449.0,1199.9 448.5,1194.8 448.0,1189.8 447.4,1184.8 446.9,1179.8 446.4,1174.8 445.9,1169.8 445.4,1164.7 444.9,1159.7 444.4,1154.7 443.9,1149.7 443.4,1144.7 442.9,1139.6 442.4,1134.6 441.9,1129.6 441.4,1124.6 440.9,1119.6 440.3,1114.5 439.7,1109.5 439.1,1104.5 438.3,1099.5 437.4,1094.6 436.4,1089.6 435.3,1084.7 434.0,1079.8 432.5,1075.0 430.8,1070.3 428.9,1065.6 426.7,1061.0 424.3,1056.6 421.7,1052.3 418.8,1048.2 415.6,1044.3 412.1,1040.6 408.4,1037.2 404.5,1034.1 400.3,1031.3 395.8,1028.9"/><path d="M447.8,1263.8 448.7,1258.9 449.5,1253.9 450.4,1249.0 451.3,1244.0 452.1,1239.1 452.9,1234.1 453.7,1229.2 454.6,1224.2 455.4,1219.3 456.2,1214.3 456.9,1209.4 457.7,1204.4 458.5,1199.4 459.3,1194.5 460.0,1189.5 460.8,1184.6 461.5,1179.6 462.2,1174.6 463.0,1169.7 463.7,1164.7 464.4,1159.7 465.2,1154.8 465.9,1149.8 466.7,1144.8 467.4,1139.9 468.1,1134.9 468.9,1129.9 469.6,1125.0 470.3,1120.0 471.0,1115.0 471.7,1110.0 472.3,1105.1 472.8,1100.1 473.2,1095.1 473.5,1090.1 473.7,1085.0 473.8,1080.0 473.7,1075.0 473.5,1070.0 473.1,1065.0 472.4,1060.0 471.6,1055.0 470.6,1050.1 469.3,1045.3 467.8,1040.5 466.1,1035.8 464.0,1031.2 461.8,1026.7 459.2,1022.4"/><path d="M447.4,1265.3 448.4,1260.3 449.4,1255.3 450.5,1250.4 451.6,1245.4 452.8,1240.4 454.0,1235.5 455.2,1230.5 456.5,1225.6 457.8,1220.6 459.1,1215.7 460.5,1210.8 461.9,1205.9 463.4,1201.0 464.8,1196.2 466.4,1191.3 467.9,1186.4 469.4,1181.6 470.9,1176.7 472.4,1171.8 473.9,1166.9 475.5,1162.1 477.0,1157.2 478.5,1152.3 480.0,1147.5 481.5,1142.6 483.0,1137.7 484.5,1132.9 486.1,1128.0 487.5,1123.1 489.0,1118.2 490.4,1113.3 491.8,1108.4 493.1,1103.5 494.3,1098.6 495.5,1093.6 496.5,1088.6 497.4,1083.6 498.2,1078.5 498.9,1073.5 499.4,1068.4 499.8,1063.3 500.0,1058.2 500.0,1053.1 499.8,1048.0 499.4,1043.0 498.7,1037.9 497.9,1032.9 496.8,1027.9"/><path d="M455.0,1262.0 460.5,1256.0 466.0,1249.9 471.6,1243.8 477.1,1237.7 482.6,1231.8 488.0,1226.0 493.4,1220.5 498.9,1215.1 504.3,1209.9 509.7,1204.7 514.9,1199.4 520.0,1194.0 524.9,1188.5 529.6,1183.0 534.2,1177.5 538.8,1171.9 543.4,1166.0 548.0,1160.0 552.8,1153.7 557.8,1147.0 562.8,1140.2 567.6,1133.4 572.0,1126.6 576.0,1120.0 579.5,1113.4 582.7,1106.8 585.6,1100.2 588.1,1093.9 590.3,1087.7 592.0,1082.0 593.2,1076.7 593.9,1071.7 594.1,1067.0 594.1,1062.5 594.1,1058.2 594.0,1054.0 593.9,1050.0 593.6,1046.2 593.2,1042.6 592.8,1039.1 592.4,1035.6 592.0,1032.0"/><path d="M450.0,1260.0 453.2,1250.8 456.3,1241.7 459.4,1232.5 462.6,1223.3 466.1,1214.2 470.0,1205.0 474.4,1195.7 479.3,1186.3 484.5,1176.8 489.8,1167.5 495.0,1158.5 500.0,1150.0 504.9,1142.0 509.8,1134.4 514.6,1127.1 519.3,1120.0 523.8,1113.0 528.0,1106.0 531.9,1099.1 535.6,1092.2 539.0,1085.5 542.2,1078.9 545.2,1072.4 548.0,1066.0 550.5,1059.9 552.8,1054.1 554.8,1048.5 556.7,1042.7 558.4,1036.6 560.0,1030.0 561.5,1022.7 562.7,1014.9 563.8,1006.8 564.9,998.4 565.9,990.1 567.0,982.0"/><path d="M453.0,1261.0 457.5,1248.9 461.9,1236.6 466.3,1224.2 470.8,1212.1 475.3,1200.6 480.0,1190.0 484.8,1180.4 489.8,1171.6 494.8,1163.4 499.9,1155.6 505.0,1147.9 510.0,1140.0 515.1,1132.0 520.4,1123.9 525.6,1116.0 530.7,1108.3 535.6,1100.9 540.0,1094.0 544.0,1087.5 547.7,1081.4 551.1,1075.6 554.3,1070.1 557.2,1064.9 560.0,1060.0 562.5,1055.5 564.9,1051.5 566.9,1047.8 568.8,1044.1 570.5,1040.2 572.0,1036.0 573.2,1031.3 574.2,1026.4 574.9,1021.4 575.6,1016.2 576.2,1011.1 577.0,1006.0"/><path d="M452.0,1261.0 455.9,1249.8 459.8,1238.4 463.6,1226.9 467.6,1215.7 471.7,1205.0 476.0,1195.0 480.7,1185.8 485.6,1177.4 490.6,1169.4 495.8,1161.6 500.9,1153.9 506.0,1146.0 511.1,1137.8 516.4,1129.5 521.6,1121.2 526.7,1113.1 531.6,1105.3 536.0,1098.0 540.0,1091.2 543.7,1084.9 547.1,1078.9 550.3,1073.1 553.2,1067.5 556.0,1062.0 558.5,1056.7 560.8,1051.6 562.9,1046.6 564.7,1041.8 566.4,1036.9 568.0,1032.0 569.3,1027.0 570.4,1022.0 571.4,1017.0 572.2,1012.0 573.1,1007.0 574.0,1002.0"/><path d="M448.0,1260.0 449.3,1249.9 450.4,1239.6 451.6,1229.4 452.9,1219.3 454.3,1209.4 456.0,1200.0 457.9,1191.1 460.0,1182.6 462.2,1174.4 464.7,1166.3 467.2,1158.2 470.0,1150.0 473.0,1141.6 476.4,1133.0 479.9,1124.4 483.4,1115.9 486.8,1107.8 490.0,1100.0 493.0,1092.7 496.0,1085.7 498.9,1079.0 501.6,1072.5 504.0,1066.2 506.0,1060.0 507.7,1054.0 509.1,1048.3 510.2,1042.8 511.1,1037.3 511.7,1031.7 512.0,1026.0 511.9,1020.1 511.4,1014.1 510.6,1008.1 509.7,1002.1 508.8,996.0 508.0,990.0"/><path d="M440.0,1258.0 440.8,1248.5 441.5,1239.1 442.1,1229.8 443.0,1220.2 444.2,1210.4 446.0,1200.0 448.5,1188.8 451.7,1176.8 455.2,1164.5 459.0,1152.3 462.6,1140.6 466.0,1130.0 469.2,1120.5 472.3,1111.9 475.4,1103.8 478.4,1095.9 481.3,1088.1 484.0,1080.0 486.8,1071.6 489.6,1063.0 492.2,1054.5 494.7,1046.1 496.6,1037.9 498.0,1030.0 498.6,1022.5 498.5,1015.4 498.0,1008.5 497.3,1001.7 496.5,994.9 496.0,988.0"/><path d="M430.0,1257.0 430.8,1245.9 431.5,1234.8 432.2,1223.7 433.0,1212.6 434.2,1201.3 436.0,1190.0 438.5,1178.3 441.7,1166.1 445.2,1153.9 448.8,1142.0 452.1,1130.5 455.0,1120.0 457.4,1110.4 459.4,1101.5 461.3,1093.1 463.0,1085.2 464.5,1077.5 466.0,1070.0 467.4,1062.8 468.7,1056.0 469.8,1049.5 470.8,1043.1 471.5,1036.7 472.0,1030.0 472.1,1023.1 471.9,1016.1 471.5,1009.1 471.0,1002.1 470.4,995.0 470.0,988.0"/></g><g clip-path="url(#cl)" fill="#2e2e2e" opacity="0.85"><path d="M-73.2,1227.5 L-48.8,1181.8 L-47.5,1182.5 L-66.8,1230.5Z"/><path d="M-59.2,1228.5 L-36.2,1186.0 L-34.9,1186.7 L-52.8,1231.5Z"/><path d="M-45.2,1229.6 L-28.1,1196.8 L-26.7,1197.4 L-38.8,1232.4Z"/><path d="M-31.2,1230.6 L-14.2,1197.0 L-12.8,1197.6 L-24.8,1233.3Z"/><path d="M-17.1,1231.4 L7.3,1187.9 L8.6,1188.5 L-10.9,1234.5Z"/><path d="M-3.1,1232.4 L15.7,1201.6 L17.0,1202.3 L3.1,1235.6Z"/><path d="M10.7,1233.7 L25.3,1203.6 L26.7,1204.1 L17.3,1236.2Z"/><path d="M24.7,1234.7 L44.8,1188.3 L46.2,1188.8 L31.3,1237.2Z"/><path d="M38.7,1235.7 L56.1,1196.5 L57.5,1197.0 L45.3,1238.2Z"/><path d="M52.9,1236.4 L70.8,1206.0 L72.1,1206.6 L59.1,1239.5Z"/><path d="M66.8,1237.5 L84.6,1205.5 L86.0,1206.1 L73.2,1240.4Z"/><path d="M80.8,1238.6 L99.4,1201.3 L100.8,1201.9 L87.2,1241.3Z"/><path d="M94.8,1239.6 L111.9,1205.1 L113.3,1205.7 L101.2,1242.2Z"/><path d="M108.9,1240.3 L135.1,1195.7 L136.4,1196.4 L115.1,1243.5Z"/><path d="M122.8,1241.6 L138.3,1210.4 L139.7,1211.0 L129.2,1244.2Z"/><path d="M136.7,1242.6 L153.2,1208.7 L154.6,1209.2 L143.3,1245.2Z"/><path d="M150.8,1243.4 L168.2,1211.8 L169.5,1212.4 L157.2,1246.3Z"/><path d="M164.9,1244.3 L183.3,1214.2 L184.6,1214.9 L171.1,1247.5Z"/><path d="M178.9,1245.3 L202.1,1206.3 L203.5,1207.0 L185.1,1248.5Z"/><path d="M192.8,1246.3 L216.3,1203.8 L217.6,1204.4 L199.2,1249.4Z"/><path d="M206.9,1247.2 L230.3,1207.8 L231.6,1208.4 L213.1,1250.4Z"/><path d="M220.8,1248.4 L237.7,1216.5 L239.1,1217.1 L227.2,1251.2Z"/><path d="M234.8,1249.5 L254.9,1207.7 L256.3,1208.3 L241.2,1252.2Z"/><path d="M248.7,1250.6 L264.2,1216.4 L265.6,1216.9 L255.3,1253.0Z"/><path d="M262.8,1251.4 L279.2,1221.4 L280.6,1222.0 L269.2,1254.2Z"/><path d="M276.9,1252.2 L300.3,1212.3 L301.6,1213.0 L283.1,1255.4Z"/><path d="M290.7,1253.6 L308.1,1215.3 L309.5,1215.9 L297.3,1256.0Z"/><path d="M304.8,1254.4 L329.1,1206.3 L330.5,1207.0 L311.2,1257.2Z"/><path d="M318.7,1255.5 L340.0,1207.9 L341.4,1208.4 L325.3,1258.0Z"/><path d="M332.8,1256.4 L350.6,1220.8 L352.0,1221.4 L339.2,1259.1Z"/><path d="M346.8,1257.3 L365.4,1222.2 L366.8,1222.8 L353.2,1260.2Z"/><path d="M360.7,1258.6 L379.7,1213.0 L381.2,1213.5 L367.3,1260.9Z"/><path d="M374.7,1259.5 L395.1,1216.0 L396.5,1216.6 L381.3,1262.1Z"/><path d="M388.6,1260.9 L399.8,1228.8 L401.3,1229.2 L395.4,1262.6Z"/><path d="M402.6,1262.0 L413.8,1225.8 L415.2,1226.2 L409.4,1263.5Z"/><path d="M416.6,1263.0 L426.6,1231.5 L428.1,1231.8 L423.4,1264.5Z"/><path d="M430.6,1264.0 L440.1,1233.8 L441.6,1234.1 L437.4,1265.5Z"/><path d="M444.6,1265.1 L453.4,1231.9 L454.8,1232.2 L451.4,1266.3Z"/></g><path d="M43.5,1232.5 L456.5,1264 L442,1312 L425,1318.5 L43.5,1284Z" fill="#242424"/><path d="M43.5,1276 L443,1308 L442,1312 L425,1318.5 L43.5,1284Z" fill="#2e2e2e"/><path d="M43.5,1282 L430,1316.5 L425,1318.5 L43.5,1284Z" fill="#1a1a1a"/><g fill="#d9c27a" opacity="0.4"><ellipse cx="426" cy="1333" rx="7" ry="7"/><ellipse cx="436" cy="1320" rx="9" ry="4"/><ellipse cx="451" cy="1290" rx="3" ry="22" transform="rotate(20 451 1290)"/></g><g fill="#d9c27a" opacity="0.35"><ellipse cx="1032" cy="1322" rx="8" ry="12"/><ellipse cx="1036" cy="1300" rx="8" ry="5"/><ellipse cx="1052" cy="1260" rx="3" ry="28"/></g><path d="M529.5,1169 L735.5,1139 L735.5,1175.5 Z" fill="#f3f3f3"/><path d="M529.5,1169 Q533,1174 539,1175.7 L735.5,1200.6 L735.5,1175.5 Z" fill="#dcdcdc"/><path d="M529.5,1169 L735.5,1139" stroke="#d6d6d6" stroke-width="1.2" fill="none"/><path d="M531,1168 L735.5,1175" stroke="#b0b0b0" stroke-width="1.3" fill="none"/><path d="M539,1175.7 L735.5,1200.6" stroke="#c4c4c4" stroke-width="1.2" fill="none"/><g fill="#c9a559"><path d="M462,1295 L472.5,1294.2 L464.2,1315.8 L453.3,1315.8Z"/><path d="M493.3,1295.5 Q508,1293 506.7,1299 Q504,1305 498.3,1308" fill="none" stroke="#c9a559" stroke-width="5" stroke-linecap="round"/><path d="M483,1316.5 L505.5,1318" fill="none" stroke="#c9a559" stroke-width="4.5" stroke-linecap="round"/><path d="M519.8,1308.3 L526.8,1309.3 L526.5,1320.0 L519.5,1319.5Z"/><path d="M538.2,1309.2 L545.2,1310.2 L544.9,1321.7 L537.9,1321.2Z"/><path d="M556.5,1310.0 L563.5,1311.0 L563.2,1323.3 L556.2,1322.8Z"/><path d="M577.3,1311.7 L584.3,1312.7 L584.0,1325.8 L577.0,1325.3Z"/><path d="M595.7,1313.3 L602.7,1314.3 L602.4,1327.5 L595.4,1327.0Z"/><path d="M614.8,1315.0 L621.8,1316.0 L621.5,1329.2 L614.5,1328.7Z"/></g><g clip-path="url(#cr)" fill="none" stroke="#1e1e1e" stroke-width="1.35"><path d="M669.2,1200.5 668.0,1195.6 666.7,1190.7 665.1,1185.9 663.4,1181.1 661.4,1176.4 659.3,1171.8 657.0,1167.3 654.5,1162.8 651.9,1158.5 649.0,1154.3 646.1,1150.2 643.0,1146.1 640.0,1142.1 636.9,1138.0 633.8,1134.0 630.8,1129.9 627.7,1125.9 624.7,1121.8 621.7,1117.7 618.6,1113.6 615.7,1109.5 612.7,1105.4 609.8,1101.2 606.9,1097.1 604.1,1092.8 601.4,1088.5 598.7,1084.2 596.1,1079.9 593.6,1075.4 591.2,1071.0 589.0,1066.4 586.8,1061.8 584.7,1057.2 582.8,1052.5 581.1,1047.7 579.5,1042.9 578.0,1038.0 576.8,1033.1 575.7,1028.2 574.8,1023.2 574.1,1018.1 573.7,1013.1 573.5,1008.0 573.5,1002.9 573.7,997.9 574.2,992.8 575.0,987.8 576.0,982.8 577.3,977.9 578.9,973.1 580.8,968.4 582.9,963.8 585.4,959.3 588.1,955.0"/><path d="M668.6,1199.8 667.3,1194.9 665.9,1190.1 664.2,1185.3 662.3,1180.6 660.2,1176.0 657.9,1171.5 655.3,1167.1 652.8,1162.8 650.2,1158.4 647.6,1154.1 645.0,1149.7 642.4,1145.4 639.8,1141.0 637.2,1136.7 634.6,1132.3 632.0,1128.0 629.4,1123.6 626.9,1119.3 624.3,1114.9 621.8,1110.5 619.4,1106.1 617.0,1101.6 614.7,1097.1 612.5,1092.5 610.4,1087.9 608.5,1083.3 606.7,1078.5 605.0,1073.8 603.5,1068.9 602.3,1064.0 601.2,1059.1 600.4,1054.1 599.8,1049.1 599.4,1044.0 599.4,1039.0 599.7,1033.9 600.2,1028.9 601.1,1023.9 602.3,1019.0 603.9,1014.2 605.8,1009.5 608.0,1004.9 610.7,1000.6 613.6,996.5 616.9,992.7 620.6,989.2 624.5,986.0 628.7,983.2 633.2,980.8 637.9,978.9 642.8,977.6 647.7,976.7 652.8,976.4"/><path d="M669.7,1200.9 668.8,1196.0 667.6,1191.1 666.4,1186.2 665.0,1181.3 663.5,1176.5 661.9,1171.7 660.3,1166.9 658.7,1162.1 657.0,1157.3 655.4,1152.6 653.8,1147.8 652.2,1143.0 650.5,1138.2 648.9,1133.4 647.3,1128.6 645.7,1123.8 644.1,1119.1 642.4,1114.3 640.8,1109.5 639.2,1104.7 637.7,1099.9 636.2,1095.1 634.7,1090.2 633.3,1085.4 631.9,1080.5 630.6,1075.6 629.4,1070.7 628.3,1065.8 627.3,1060.9 626.4,1055.9 625.6,1050.9 624.9,1045.9 624.4,1040.9 624.0,1035.8 623.7,1030.8 623.6,1025.7 623.7,1020.7 624.0,1015.6 624.4,1010.6 625.0,1005.6 625.9,1000.6 626.9,995.7 628.2,990.8 629.7,985.9 631.4,981.2 633.3,976.5 635.5,972.0 637.9,967.5 640.6,963.2 643.4,959.1 646.6,955.1 649.9,951.3 653.5,947.7 657.3,944.4 661.2,941.3"/><path d="M669.0,1201.6 668.3,1196.7 667.6,1191.7 666.9,1186.8 666.2,1181.8 665.5,1176.8 664.8,1171.9 664.1,1166.9 663.3,1162.0 662.6,1157.0 661.9,1152.1 661.2,1147.1 660.4,1142.2 659.7,1137.2 659.0,1132.3 658.2,1127.3 657.5,1122.3 656.8,1117.4 656.1,1112.4 655.4,1107.5 654.7,1102.5 654.1,1097.5 653.5,1092.6 653.0,1087.6 652.6,1082.6 652.3,1077.6 652.1,1072.6 652.1,1067.6 652.1,1062.6 652.4,1057.6 652.8,1052.6 653.3,1047.6 654.1,1042.6 655.1,1037.7 656.2,1032.9 657.6,1028.1 659.3,1023.3 661.1,1018.7 663.2,1014.1 665.6,1009.7 668.3,1005.5 671.2,1001.4 674.3,997.5 677.7,993.8 681.4,990.4 685.3,987.3 689.4,984.4 693.7,981.9 698.2,979.7 702.9,978.0 707.7,976.6 712.6,975.6 717.6,975.2 722.6,975.1 727.6,975.6 732.5,976.6"/><path d="M668.8,1200.8 668.3,1195.7 667.9,1190.7 667.5,1185.6 667.2,1180.5 667.0,1175.5 666.9,1170.4 666.8,1165.3 666.8,1160.3 666.9,1155.2 667.0,1150.1 667.1,1145.1 667.2,1140.0 667.3,1134.9 667.4,1129.9 667.5,1124.8 667.6,1119.7 667.6,1114.7 667.8,1109.6 667.9,1104.5 668.0,1099.5 668.2,1094.4 668.5,1089.3 668.8,1084.3 669.2,1079.2 669.6,1074.2 670.2,1069.1 670.8,1064.1 671.6,1059.1 672.5,1054.1 673.5,1049.2 674.7,1044.2 676.0,1039.3 677.5,1034.5 679.1,1029.7 680.9,1025.0 683.0,1020.3 685.2,1015.7 687.5,1011.3 690.1,1006.9 692.9,1002.7 695.9,998.6 699.2,994.7 702.6,990.9 706.2,987.4 710.0,984.1 714.0,981.0 718.2,978.1 722.6,975.6 727.1,973.3 731.8,971.3 736.6,969.7 741.5,968.4 746.5,967.5 751.5,967.0"/><path d="M670.0,1200.5 669.8,1195.4 669.8,1190.3 670.0,1185.2 670.3,1180.1 670.9,1175.1 671.6,1170.0 672.6,1165.0 673.7,1160.1 675.0,1155.2 676.3,1150.2 677.6,1145.3 678.9,1140.4 680.2,1135.5 681.5,1130.6 682.8,1125.6 684.1,1120.7 685.4,1115.8 686.7,1110.9 688.0,1106.0 689.4,1101.1 690.8,1096.2 692.3,1091.3 693.8,1086.5 695.5,1081.7 697.2,1076.9 699.1,1072.1 701.0,1067.4 703.1,1062.8 705.4,1058.2 707.7,1053.7 710.3,1049.3 713.0,1045.0 715.8,1040.8 718.9,1036.7 722.1,1032.8 725.5,1029.0 729.1,1025.4 732.9,1022.0 736.8,1018.8 741.0,1015.8 745.3,1013.1 749.7,1010.7 754.3,1008.5 759.1,1006.7 763.9,1005.2 768.9,1004.0 773.9,1003.2 779.0,1002.9 784.1,1002.9 789.2,1003.3 794.2,1004.2 799.1,1005.5 803.9,1007.2"/><path d="M669.3,1199.7 669.2,1194.7 669.3,1189.6 669.6,1184.6 670.1,1179.5 670.8,1174.5 671.8,1169.5 673.0,1164.6 674.3,1159.7 675.9,1154.9 677.7,1150.2 679.7,1145.5 681.9,1141.0 684.1,1136.4 686.4,1131.9 688.6,1127.3 690.8,1122.8 693.1,1118.2 695.3,1113.7 697.6,1109.1 699.9,1104.6 702.2,1100.1 704.6,1095.7 707.0,1091.2 709.6,1086.8 712.2,1082.5 714.8,1078.2 717.6,1074.0 720.5,1069.8 723.5,1065.7 726.6,1061.7 729.8,1057.8 733.2,1054.0 736.7,1050.4 740.3,1046.8 744.1,1043.5 748.0,1040.2 752.1,1037.2 756.3,1034.4 760.6,1031.7 765.1,1029.3 769.6,1027.1 774.3,1025.2 779.1,1023.6 784.0,1022.3 789.0,1021.2 794.0,1020.5 799.0,1020.2 804.1,1020.1 809.2,1020.5 814.2,1021.2 819.1,1022.3 824.0,1023.7 828.7,1025.6"/><path d="M685.7,1201.0 684.7,1196.1 683.5,1191.2 682.0,1186.4 680.5,1181.7 678.7,1177.0 676.8,1172.3 674.7,1167.8 672.5,1163.3 670.1,1158.9 667.5,1154.6 664.8,1150.4 661.9,1146.3 658.9,1142.3 655.8,1138.4 652.6,1134.5 649.5,1130.6 646.3,1126.7 643.2,1122.8 640.0,1118.9 636.9,1114.9 633.9,1111.0 630.8,1107.0 627.8,1103.0 624.9,1098.9 622.0,1094.8 619.3,1090.6 616.6,1086.4 614.0,1082.1 611.5,1077.7 609.2,1073.3 607.0,1068.8 604.9,1064.2 603.0,1059.6 601.3,1054.9 599.8,1050.1 598.5,1045.2 597.4,1040.4 596.5,1035.4 595.9,1030.5 595.5,1025.5 595.4,1020.4 595.6,1015.4 596.0,1010.4 596.8,1005.5 597.9,1000.6 599.3,995.8 601.0,991.1 603.0,986.5 605.4,982.1 608.1,977.8 611.1,973.8 614.4,970.1 618.0,966.6 621.9,963.4 626.0,960.6"/><path d="M686.3,1201.1 685.3,1196.1 684.3,1191.2 683.1,1186.3 681.7,1181.4 680.3,1176.6 678.7,1171.7 677.0,1167.0 675.2,1162.3 673.2,1157.6 671.2,1153.0 669.0,1148.4 666.7,1143.9 664.3,1139.4 661.8,1135.0 659.3,1130.6 656.8,1126.2 654.3,1121.8 651.8,1117.4 649.4,1113.0 647.0,1108.5 644.7,1104.0 642.4,1099.5 640.2,1095.0 638.1,1090.4 636.1,1085.7 634.3,1081.0 632.6,1076.2 631.0,1071.4 629.7,1066.5 628.5,1061.6 627.5,1056.7 626.7,1051.7 626.2,1046.6 626.0,1041.6 626.0,1036.5 626.2,1031.5 626.8,1026.4 627.7,1021.5 628.9,1016.5 630.5,1011.7 632.4,1007.0 634.6,1002.5 637.1,998.1 640.0,994.0 643.3,990.1 646.8,986.5 650.6,983.2 654.8,980.2 659.2,977.7 663.8,975.6 668.6,974.0 673.5,972.9"/><path d="M687.2,1200.6 686.3,1195.6 685.3,1190.6 684.2,1185.7 682.9,1180.8 681.6,1175.9 680.2,1171.0 678.7,1166.2 677.0,1161.4 675.3,1156.6 673.7,1151.8 672.0,1147.0 670.3,1142.3 668.6,1137.5 667.0,1132.7 665.3,1127.9 663.6,1123.1 661.9,1118.4 660.3,1113.6 658.6,1108.8 657.0,1104.0 655.4,1099.2 653.9,1094.3 652.4,1089.5 651.0,1084.6 649.7,1079.7 648.4,1074.8 647.3,1069.9 646.2,1064.9 645.3,1059.9 644.5,1054.9 643.8,1049.9 643.3,1044.9 642.9,1039.8 642.7,1034.8 642.7,1029.7 642.8,1024.6 643.2,1019.6 643.7,1014.5 644.5,1009.5 645.5,1004.6 646.7,999.6 648.2,994.8 649.8,990.0 651.8,985.3 654.0,980.8 656.4,976.3 659.1,972.0 662.0,967.9 665.2,963.9 668.6,960.2 672.3,956.7 676.2,953.5 680.3,950.5"/><path d="M687.0,1201.0 686.3,1196.0 685.7,1191.0 685.0,1186.0 684.3,1181.1 683.7,1176.1 683.0,1171.1 682.3,1166.1 681.6,1161.2 680.9,1156.2 680.2,1151.2 679.5,1146.2 678.9,1141.3 678.2,1136.3 677.5,1131.3 676.8,1126.3 676.1,1121.4 675.4,1116.4 674.7,1111.4 674.1,1106.4 673.5,1101.5 672.9,1096.5 672.4,1091.5 672.0,1086.5 671.6,1081.5 671.4,1076.4 671.3,1071.4 671.4,1066.4 671.6,1061.4 672.0,1056.4 672.5,1051.4 673.3,1046.4 674.2,1041.5 675.4,1036.6 676.8,1031.8 678.5,1027.1 680.4,1022.4 682.6,1017.9 685.0,1013.5 687.7,1009.3 690.7,1005.2 694.0,1001.4 697.5,997.8 701.3,994.5 705.3,991.5 709.5,988.9 714.0,986.6 718.6,984.6 723.4,983.1 728.3,982.1 733.3,981.5 738.4,981.4 743.4,981.9 748.3,982.8 753.1,984.3 757.7,986.2"/><path d="M684.5,1201.3 684.2,1196.2 684.0,1191.1 683.9,1186.0 683.9,1181.0 684.1,1175.9 684.3,1170.8 684.6,1165.7 685.0,1160.7 685.3,1155.6 685.6,1150.5 685.9,1145.5 686.2,1140.4 686.6,1135.3 686.9,1130.2 687.2,1125.2 687.5,1120.1 687.8,1115.0 688.1,1110.0 688.4,1104.9 688.7,1099.8 689.0,1094.7 689.2,1089.7 689.4,1084.6 689.6,1079.5 689.7,1074.4 689.8,1069.4 689.8,1064.3 689.7,1059.2 689.6,1054.1 689.4,1049.0 689.2,1044.0 688.8,1038.9 688.4,1033.8 687.8,1028.8 687.2,1023.7 686.5,1018.7 685.7,1013.7 684.7,1008.7 683.6,1003.8 682.5,998.8 681.1,993.9 679.7,989.0 678.1,984.2 676.4,979.4 674.5,974.7 672.5,970.1 670.3,965.5 668.0,960.9 665.5,956.5 662.9,952.2 660.1,947.9 657.2,943.8 654.1,939.7"/><path d="M687.2,1202.3 687.1,1197.3 687.2,1192.3 687.5,1187.2 688.0,1182.2 688.7,1177.2 689.6,1172.2 690.7,1167.3 692.0,1162.5 693.3,1157.6 694.6,1152.7 696.0,1147.9 697.3,1143.0 698.6,1138.1 700.0,1133.3 701.3,1128.4 702.6,1123.5 704.0,1118.7 705.3,1113.8 706.7,1109.0 708.1,1104.1 709.5,1099.3 711.0,1094.5 712.6,1089.7 714.2,1084.9 715.9,1080.2 717.7,1075.4 719.6,1070.8 721.6,1066.1 723.7,1061.6 725.9,1057.0 728.2,1052.6 730.7,1048.2 733.4,1043.9 736.1,1039.7 739.0,1035.6 742.1,1031.6 745.4,1027.7 748.7,1024.0 752.3,1020.4 756.0,1017.0 759.9,1013.7 763.9,1010.7 768.1,1007.9 772.4,1005.3 776.9,1003.0 781.5,1000.9 786.2,999.1 791.0,997.6 795.9,996.3 800.9,995.5 805.9,994.9 810.9,994.7"/><path d="M687.0,1203.1 687.0,1198.1 687.3,1193.1 687.8,1188.1 688.6,1183.1 689.6,1178.2 690.8,1173.4 692.3,1168.6 694.0,1163.9 695.9,1159.3 698.1,1154.7 700.5,1150.3 702.8,1145.9 705.1,1141.5 707.5,1137.0 709.8,1132.6 712.1,1128.2 714.5,1123.7 716.8,1119.3 719.1,1114.9 721.5,1110.5 723.9,1106.1 726.4,1101.7 728.9,1097.4 731.4,1093.0 734.0,1088.8 736.7,1084.6 739.5,1080.4 742.4,1076.3 745.4,1072.3 748.5,1068.3 751.7,1064.5 755.0,1060.7 758.4,1057.1 762.0,1053.5 765.6,1050.1 769.4,1046.9 773.4,1043.8 777.5,1040.9 781.7,1038.2 786.0,1035.6 790.4,1033.3 795.0,1031.2 799.7,1029.4 804.4,1027.9 809.3,1026.6 814.2,1025.6 819.1,1024.9 824.1,1024.5 829.1,1024.5 834.1,1024.8 839.1,1025.5 844.0,1026.5 848.8,1027.9 853.5,1029.6 858.0,1031.8"/><path d="M701.1,1201.7 700.0,1196.8 698.6,1191.9 696.9,1187.2 695.0,1182.5 692.8,1178.0 690.4,1173.6 687.7,1169.3 684.9,1165.1 682.0,1161.0 679.2,1156.8 676.3,1152.7 673.5,1148.5 670.6,1144.4 667.8,1140.2 664.9,1136.1 662.0,1131.9 659.2,1127.8 656.4,1123.6 653.5,1119.5 650.7,1115.3 648.0,1111.0 645.3,1106.8 642.6,1102.5 640.1,1098.2 637.6,1093.8 635.2,1089.4 632.9,1084.9 630.7,1080.4 628.6,1075.8 626.7,1071.1 625.0,1066.4 623.4,1061.6 621.9,1056.8 620.7,1051.9 619.7,1047.0 618.9,1042.0 618.3,1037.0 617.9,1032.0 617.9,1026.9 618.0,1021.9 618.5,1016.9 619.3,1011.9 620.3,1007.0 621.7,1002.1 623.3,997.4 625.3,992.7 627.6,988.3 630.2,983.9 633.1,979.8 636.3,976.0 639.8,972.4 643.6,969.0 647.7,966.0"/><path d="M703.4,1201.6 702.4,1196.6 701.2,1191.7 699.8,1186.9 698.1,1182.1 696.3,1177.4 694.2,1172.8 692.0,1168.3 689.7,1163.8 687.3,1159.3 685.0,1154.8 682.7,1150.3 680.3,1145.8 678.0,1141.4 675.7,1136.9 673.4,1132.4 671.0,1127.9 668.7,1123.4 666.4,1118.9 664.1,1114.4 661.8,1109.9 659.5,1105.4 657.4,1100.9 655.2,1096.3 653.1,1091.7 651.1,1087.0 649.2,1082.4 647.4,1077.6 645.8,1072.9 644.2,1068.1 642.8,1063.2 641.5,1058.3 640.4,1053.4 639.5,1048.4 638.7,1043.4 638.2,1038.4 637.9,1033.4 637.8,1028.3 637.9,1023.3 638.3,1018.2 639.0,1013.2 639.9,1008.3 641.1,1003.4 642.5,998.5 644.3,993.8 646.4,989.2 648.7,984.7 651.4,980.4 654.3,976.3 657.6,972.4 661.1,968.8 664.9,965.5 668.9,962.5 673.2,959.8 677.7,957.4 682.4,955.5"/><path d="M703.0,1202.0 702.3,1197.0 701.5,1192.1 700.6,1187.2 699.7,1182.3 698.6,1177.4 697.4,1172.5 696.2,1167.7 694.8,1162.8 693.4,1158.1 691.8,1153.3 690.3,1148.5 688.7,1143.8 687.1,1139.1 685.6,1134.3 684.0,1129.6 682.4,1124.8 680.8,1120.1 679.3,1115.3 677.7,1110.6 676.1,1105.8 674.5,1101.1 672.8,1096.4 671.2,1091.6 669.5,1086.9 667.7,1082.2 666.0,1077.6 664.1,1072.9 662.3,1068.3 660.4,1063.6 658.4,1059.1 656.3,1054.5 654.2,1050.0 652.0,1045.5 649.7,1041.0 647.4,1036.6 645.0,1032.2 642.4,1027.9 639.8,1023.6 637.1,1019.4 634.3,1015.3 631.4,1011.2 628.4,1007.2 625.3,1003.3 622.0,999.5 618.7,995.8 615.3,992.1 611.7,988.6 608.0,985.2 604.3,981.9 600.4,978.8 596.4,975.7 592.3,972.9 588.1,970.1 583.8,967.6 579.4,965.2"/><path d="M701.7,1202.3 701.3,1197.3 700.9,1192.3 700.5,1187.3 700.2,1182.3 699.9,1177.3 699.6,1172.2 699.3,1167.2 699.1,1162.2 698.8,1157.2 698.5,1152.2 698.3,1147.2 698.0,1142.2 697.7,1137.2 697.5,1132.2 697.2,1127.2 697.0,1122.2 696.7,1117.1 696.5,1112.1 696.2,1107.1 696.0,1102.1 695.9,1097.1 695.8,1092.1 695.7,1087.1 695.7,1082.0 695.8,1077.0 696.1,1072.0 696.4,1067.0 696.8,1062.0 697.4,1057.0 698.0,1052.1 698.9,1047.1 699.9,1042.2 701.1,1037.3 702.4,1032.5 703.9,1027.7 705.7,1023.0 707.6,1018.4 709.7,1013.8 712.0,1009.4 714.6,1005.1 717.4,1000.9 720.4,996.9 723.6,993.0 727.0,989.3 730.6,985.9 734.5,982.7 738.5,979.7 742.8,977.0 747.2,974.7 751.8,972.6 756.5,970.9 761.3,969.5 766.2,968.5 771.2,967.9"/><path d="M701.6,1203.6 701.4,1198.5 701.2,1193.5 701.2,1188.4 701.3,1183.3 701.4,1178.2 701.7,1173.1 702.1,1168.0 702.5,1162.9 703.1,1157.9 703.6,1152.8 704.2,1147.8 704.8,1142.7 705.4,1137.6 705.9,1132.6 706.5,1127.5 707.1,1122.5 707.7,1117.4 708.3,1112.3 708.9,1107.3 709.6,1102.2 710.4,1097.2 711.2,1092.2 712.2,1087.2 713.3,1082.2 714.5,1077.3 715.9,1072.4 717.4,1067.5 719.1,1062.7 721.0,1058.0 723.1,1053.4 725.4,1048.8 728.0,1044.4 730.8,1040.1 733.8,1036.0 737.0,1032.1 740.5,1028.4 744.3,1024.9 748.2,1021.7 752.4,1018.8 756.8,1016.3 761.4,1014.0 766.1,1012.2 771.0,1010.8 776.0,1009.8 781.1,1009.3 786.2,1009.3 791.2,1009.7 796.2,1010.7 801.1,1012.2 805.8,1014.2 810.2,1016.8 814.3,1019.8"/><path d="M701.5,1203.3 701.3,1198.3 701.3,1193.2 701.3,1188.2 701.5,1183.2 701.8,1178.2 702.2,1173.1 702.7,1168.1 703.3,1163.2 704.0,1158.2 704.8,1153.2 705.8,1148.3 706.8,1143.4 708.0,1138.5 709.3,1133.6 710.5,1128.7 711.8,1123.9 713.1,1119.0 714.3,1114.1 715.7,1109.3 717.0,1104.5 718.5,1099.6 720.0,1094.8 721.6,1090.1 723.3,1085.3 725.1,1080.7 727.1,1076.0 729.2,1071.5 731.5,1067.0 734.0,1062.6 736.6,1058.3 739.4,1054.2 742.5,1050.2 745.7,1046.3 749.2,1042.7 752.8,1039.2 756.7,1036.0 760.8,1033.1 765.0,1030.4 769.5,1028.0 774.1,1026.0 778.8,1024.3 783.7,1023.1 788.6,1022.2 793.6,1021.8 798.7,1021.9 803.7,1022.4 808.6,1023.4 813.4,1024.9 818.0,1026.9 822.4,1029.4 826.5,1032.3 830.2,1035.7 833.5,1039.5"/><path d="M702.7,1204.0 702.7,1198.9 703.0,1193.9 703.4,1188.9 704.1,1183.9 704.9,1178.9 705.9,1174.0 707.1,1169.1 708.6,1164.3 710.2,1159.5 712.0,1154.8 713.9,1150.2 716.1,1145.7 718.4,1141.2 720.7,1136.7 723.0,1132.2 725.3,1127.8 727.6,1123.3 729.9,1118.8 732.3,1114.3 734.6,1109.9 737.0,1105.5 739.4,1101.1 741.9,1096.7 744.5,1092.4 747.1,1088.1 749.8,1083.8 752.6,1079.6 755.4,1075.5 758.4,1071.4 761.5,1067.4 764.6,1063.5 767.9,1059.7 771.3,1056.0 774.9,1052.4 778.5,1048.9 782.3,1045.6 786.2,1042.4 790.2,1039.4 794.4,1036.6 798.7,1034.0 803.1,1031.5 807.6,1029.3 812.2,1027.3 816.9,1025.6 821.8,1024.1 826.6,1022.9 831.6,1022.0 836.6,1021.3 841.6,1021.0 846.6,1021.1 851.7,1021.4 856.7,1022.1 861.6,1023.2"/><path d="M717.2,1203.7 716.8,1198.6 716.1,1193.6 715.3,1188.6 714.3,1183.6 713.1,1178.7 711.7,1173.8 710.2,1168.9 708.4,1164.2 706.6,1159.4 704.5,1154.8 702.3,1150.2 699.9,1145.7 697.4,1141.3 694.9,1136.9 692.4,1132.4 689.9,1128.0 687.4,1123.6 684.9,1119.2 682.4,1114.7 679.9,1110.3 677.4,1105.9 674.8,1101.5 672.2,1097.1 669.6,1092.8 667.0,1088.4 664.3,1084.1 661.6,1079.8 658.8,1075.6 655.9,1071.4 653.0,1067.2 650.1,1063.1 647.1,1059.0 644.0,1054.9 640.8,1051.0 637.6,1047.0 634.3,1043.2 630.9,1039.4 627.4,1035.7 623.8,1032.1 620.2,1028.5 616.5,1025.1 612.6,1021.7 608.7,1018.5 604.7,1015.4 600.6,1012.3 596.4,1009.5 592.2,1006.7 587.8,1004.1 583.3,1001.7 578.8,999.4 574.2,997.2 569.5,995.2 564.8,993.5 559.9,991.9"/><path d="M717.9,1205.3 717.4,1200.3 716.6,1195.4 715.7,1190.4 714.5,1185.5 713.2,1180.7 711.6,1175.9 709.9,1171.2 707.9,1166.6 706.0,1162.0 704.0,1157.3 702.1,1152.7 700.1,1148.1 698.1,1143.4 696.2,1138.8 694.2,1134.2 692.3,1129.6 690.3,1124.9 688.4,1120.3 686.5,1115.7 684.6,1111.0 682.7,1106.4 680.9,1101.7 679.1,1097.0 677.4,1092.2 675.7,1087.5 674.2,1082.7 672.7,1077.9 671.4,1073.1 670.2,1068.2 669.1,1063.3 668.1,1058.4 667.3,1053.4 666.7,1048.4 666.2,1043.4 665.9,1038.4 665.8,1033.4 666.0,1028.4 666.3,1023.3 666.9,1018.4 667.7,1013.4 668.7,1008.5 670.0,1003.6 671.6,998.9 673.4,994.2 675.5,989.6 677.9,985.2 680.6,980.9 683.5,976.8 686.7,972.9 690.1,969.3 693.8,965.9 697.7,962.7 701.9,959.9 706.2,957.4 710.8,955.3"/><path d="M719.2,1204.0 719.0,1198.9 718.7,1193.8 718.4,1188.7 718.0,1183.7 717.5,1178.6 717.0,1173.5 716.4,1168.5 715.7,1163.4 714.9,1158.4 714.1,1153.4 713.2,1148.4 712.3,1143.4 711.3,1138.4 710.4,1133.4 709.4,1128.4 708.5,1123.4 707.5,1118.4 706.6,1113.4 705.7,1108.3 704.8,1103.3 703.9,1098.3 703.2,1093.3 702.5,1088.2 701.8,1083.2 701.3,1078.1 700.9,1073.1 700.6,1068.0 700.4,1062.9 700.4,1057.8 700.5,1052.7 700.8,1047.6 701.3,1042.6 701.9,1037.5 702.8,1032.5 703.9,1027.5 705.2,1022.6 706.7,1017.7 708.5,1013.0 710.5,1008.3 712.8,1003.7 715.3,999.3 718.1,995.1 721.1,991.0 724.5,987.1 728.0,983.5 731.8,980.1 735.8,977.0 740.1,974.2 744.5,971.7 749.2,969.6 753.9,967.8 758.9,966.5 763.9,965.6 768.9,965.1"/><path d="M718.3,1204.4 718.2,1199.4 718.2,1194.4 718.0,1189.3 717.9,1184.3 717.8,1179.2 717.6,1174.2 717.4,1169.2 717.2,1164.1 717.1,1159.1 716.9,1154.0 716.7,1149.0 716.6,1144.0 716.4,1138.9 716.2,1133.9 716.1,1128.9 715.9,1123.8 715.7,1118.8 715.6,1113.7 715.4,1108.7 715.3,1103.7 715.3,1098.6 715.3,1093.6 715.4,1088.5 715.5,1083.5 715.8,1078.5 716.2,1073.4 716.7,1068.4 717.3,1063.4 718.1,1058.4 719.0,1053.5 720.1,1048.6 721.4,1043.7 722.9,1038.9 724.6,1034.1 726.4,1029.4 728.6,1024.9 730.9,1020.4 733.4,1016.0 736.2,1011.8 739.2,1007.8 742.5,1003.9 746.0,1000.3 749.7,996.9 753.6,993.7 757.8,990.9 762.1,988.3 766.6,986.0 771.3,984.2 776.1,982.6 781.0,981.5 786.0,980.8 791.0,980.5 796.1,980.7 801.1,981.4"/><path d="M719.3,1204.4 719.6,1199.4 719.9,1194.3 720.3,1189.3 720.9,1184.3 721.5,1179.3 722.2,1174.3 722.9,1169.3 723.6,1164.3 724.3,1159.3 725.0,1154.2 725.7,1149.2 726.4,1144.2 727.1,1139.2 727.8,1134.2 728.5,1129.2 729.2,1124.2 729.9,1119.2 730.6,1114.2 731.3,1109.2 732.1,1104.2 732.8,1099.2 733.6,1094.2 734.5,1089.3 735.4,1084.3 736.4,1079.3 737.4,1074.4 738.5,1069.5 739.7,1064.6 741.0,1059.7 742.5,1054.8 744.0,1050.0 745.6,1045.2 747.4,1040.5 749.3,1035.8 751.3,1031.2 753.5,1026.6 755.8,1022.2 758.3,1017.8 761.0,1013.5 763.8,1009.3 766.7,1005.2 769.9,1001.2 773.2,997.4 776.7,993.7 780.3,990.2 784.1,986.9 788.1,983.8 792.2,980.9 796.5,978.2 800.9,975.7 805.5,973.6 810.1,971.6 814.9,970.0 819.8,968.7 824.7,967.7"/><path d="M719.0,1204.4 719.7,1199.5 720.6,1194.6 721.9,1189.7 723.4,1185.0 725.2,1180.3 726.9,1175.6 728.7,1170.9 730.5,1166.3 732.2,1161.6 734.0,1156.9 735.8,1152.2 737.6,1147.5 739.3,1142.9 741.1,1138.2 742.9,1133.5 744.7,1128.8 746.4,1124.2 748.2,1119.5 750.0,1114.8 751.8,1110.2 753.7,1105.5 755.6,1100.9 757.6,1096.3 759.7,1091.8 761.9,1087.3 764.1,1082.8 766.5,1078.4 769.0,1074.1 771.6,1069.8 774.4,1065.6 777.3,1061.6 780.4,1057.6 783.6,1053.8 787.0,1050.1 790.6,1046.6 794.3,1043.3 798.2,1040.2 802.3,1037.2 806.5,1034.6 810.9,1032.1 815.4,1030.0 820.1,1028.1 824.8,1026.6 829.7,1025.4 834.6,1024.6 839.6,1024.1 844.6,1024.1 849.6,1024.4 854.5,1025.2 859.4,1026.4 864.1,1028.0 868.7,1030.0 873.1,1032.4 877.2,1035.3 881.0,1038.6"/><path d="M717.3,1205.2 717.8,1200.2 718.5,1195.2 719.3,1190.3 720.4,1185.4 721.6,1180.6 723.1,1175.8 724.7,1171.1 726.5,1166.4 728.5,1161.8 730.7,1157.3 733.1,1152.9 735.6,1148.6 738.3,1144.4 741.0,1140.2 743.8,1136.0 746.5,1131.8 749.2,1127.6 752.0,1123.4 754.7,1119.3 757.5,1115.1 760.3,1111.0 763.2,1106.9 766.2,1102.8 769.2,1098.9 772.3,1094.9 775.5,1091.1 778.8,1087.4 782.3,1083.7 785.8,1080.2 789.5,1076.8 793.3,1073.6 797.3,1070.5 801.3,1067.6 805.6,1064.9 809.9,1062.4 814.4,1060.2 819.0,1058.2 823.7,1056.5 828.5,1055.1 833.4,1054.0 838.3,1053.3 843.3,1052.9 848.3,1052.9 853.3,1053.3 858.2,1054.1 863.1,1055.3 867.8,1056.9 872.4,1058.9 876.8,1061.4 880.9,1064.2 884.7,1067.5 888.2,1071.1 891.3,1075.0 893.9,1079.3 896.0,1083.8"/><path d="M734.8,1205.5 733.7,1200.6 732.4,1195.8 730.9,1191.0 729.2,1186.3 727.2,1181.6 725.0,1177.1 722.6,1172.7 720.0,1168.4 717.1,1164.3 714.1,1160.3 711.0,1156.3 707.9,1152.4 704.8,1148.4 701.7,1144.5 698.6,1140.5 695.5,1136.6 692.4,1132.6 689.3,1128.7 686.2,1124.7 683.2,1120.7 680.2,1116.7 677.2,1112.7 674.3,1108.6 671.4,1104.5 668.6,1100.3 665.9,1096.1 663.3,1091.8 660.8,1087.4 658.4,1083.0 656.1,1078.5 654.0,1074.0 652.0,1069.4 650.2,1064.7 648.6,1060.0 647.2,1055.1 645.9,1050.3 644.9,1045.4 644.1,1040.4 643.6,1035.4 643.3,1030.4 643.2,1025.4 643.5,1020.4 644.0,1015.4 644.9,1010.4 646.0,1005.5 647.5,1000.7 649.3,996.0 651.4,991.5 653.8,987.1 656.5,982.9 659.5,978.9 662.9,975.1 666.5,971.7 670.4,968.5"/><path d="M733.3,1205.7 732.4,1200.7 731.4,1195.7 730.2,1190.8 728.8,1185.9 727.3,1181.1 725.6,1176.3 723.8,1171.6 721.8,1166.9 719.6,1162.3 717.3,1157.8 714.8,1153.4 712.3,1148.9 709.8,1144.5 707.3,1140.1 704.8,1135.7 702.3,1131.3 699.9,1126.9 697.4,1122.4 694.9,1118.0 692.5,1113.5 690.2,1109.0 687.9,1104.5 685.7,1099.9 683.6,1095.3 681.7,1090.6 679.8,1085.9 678.2,1081.1 676.7,1076.3 675.3,1071.4 674.2,1066.4 673.3,1061.5 672.6,1056.4 672.2,1051.4 672.1,1046.3 672.2,1041.2 672.7,1036.2 673.4,1031.2 674.5,1026.2 676.0,1021.4 677.8,1016.6 679.9,1012.0 682.4,1007.6 685.3,1003.4 688.5,999.5 692.0,995.8 695.8,992.5 700.0,989.6 704.4,987.1 709.0,985.1 713.9,983.5 718.8,982.5 723.9,982.0 728.9,982.1"/><path d="M733.2,1206.4 732.6,1201.4 731.9,1196.4 731.1,1191.3 730.2,1186.4 729.2,1181.4 728.2,1176.4 727.1,1171.5 725.9,1166.6 724.7,1161.7 723.3,1156.8 721.9,1151.9 720.4,1147.1 718.9,1142.2 717.4,1137.4 715.9,1132.6 714.4,1127.7 712.9,1122.9 711.4,1118.1 709.9,1113.2 708.5,1108.3 707.1,1103.5 705.8,1098.6 704.6,1093.6 703.5,1088.7 702.5,1083.7 701.6,1078.8 700.9,1073.7 700.3,1068.7 699.8,1063.7 699.6,1058.6 699.5,1053.5 699.7,1048.5 700.0,1043.4 700.6,1038.4 701.5,1033.4 702.5,1028.5 703.9,1023.6 705.5,1018.8 707.4,1014.1 709.6,1009.5 712.1,1005.1 714.9,1000.9 717.9,996.8 721.3,993.0 724.9,989.5 728.8,986.2 732.9,983.3 737.2,980.7 741.8,978.5 746.5,976.7 751.4,975.3 756.4,974.4"/><path d="M734.1,1206.3 733.6,1201.3 733.1,1196.3 732.7,1191.3 732.2,1186.3 731.7,1181.3 731.2,1176.2 730.7,1171.2 730.2,1166.2 729.7,1161.2 729.1,1156.2 728.6,1151.2 728.1,1146.2 727.5,1141.2 727.0,1136.2 726.5,1131.1 725.9,1126.1 725.4,1121.1 724.8,1116.1 724.3,1111.1 723.8,1106.1 723.4,1101.1 723.0,1096.0 722.6,1091.0 722.3,1086.0 722.1,1081.0 721.9,1075.9 721.9,1070.9 721.9,1065.8 722.1,1060.8 722.4,1055.8 722.8,1050.8 723.3,1045.7 724.0,1040.8 724.9,1035.8 725.9,1030.8 727.0,1025.9 728.4,1021.1 729.9,1016.3 731.7,1011.6 733.6,1006.9 735.7,1002.3 738.0,997.9 740.6,993.5 743.3,989.3 746.3,985.2 749.5,981.3 752.9,977.6 756.5,974.0 760.2,970.7 764.2,967.7 768.4,964.8 772.7,962.3 777.2,960.0 781.9,958.1"/><path d="M734.2,1205.8 733.9,1200.7 733.6,1195.7 733.4,1190.7 733.2,1185.6 733.0,1180.6 733.0,1175.5 732.9,1170.5 732.9,1165.5 733.0,1160.4 733.1,1155.4 733.3,1150.3 733.5,1145.3 733.7,1140.3 734.0,1135.2 734.3,1130.2 734.6,1125.2 734.8,1120.1 735.1,1115.1 735.4,1110.1 735.8,1105.0 736.2,1100.0 736.6,1095.0 737.1,1090.0 737.7,1085.0 738.3,1080.0 739.1,1075.0 740.0,1070.0 741.0,1065.1 742.1,1060.2 743.4,1055.3 744.9,1050.5 746.5,1045.7 748.2,1041.0 750.2,1036.3 752.3,1031.7 754.6,1027.3 757.2,1022.9 759.9,1018.7 762.8,1014.6 766.0,1010.6 769.3,1006.9 772.9,1003.3 776.6,999.9 780.6,996.8 784.8,994.0 789.1,991.4 793.6,989.1 798.2,987.1 803.0,985.5 807.9,984.3 812.9,983.4 817.9,982.9 822.9,982.8 827.9,983.2"/><path d="M732.7,1206.4 732.7,1201.4 732.9,1196.4 733.3,1191.4 733.9,1186.5 734.7,1181.5 735.6,1176.6 736.8,1171.7 738.1,1166.9 739.6,1162.1 741.1,1157.4 742.7,1152.6 744.2,1147.8 745.7,1143.1 747.2,1138.3 748.8,1133.5 750.3,1128.8 751.8,1124.0 753.4,1119.2 754.9,1114.5 756.5,1109.7 758.1,1105.0 759.8,1100.3 761.6,1095.6 763.5,1091.0 765.5,1086.4 767.5,1081.8 769.8,1077.3 772.1,1072.9 774.6,1068.6 777.3,1064.3 780.1,1060.2 783.1,1056.2 786.3,1052.3 789.6,1048.6 793.2,1045.1 796.9,1041.8 800.8,1038.7 804.9,1035.8 809.2,1033.2 813.6,1030.9 818.2,1028.9 823.0,1027.3 827.8,1026.0 832.7,1025.0 837.7,1024.5 842.7,1024.4 847.7,1024.8 852.6,1025.6 857.5,1026.8 862.2,1028.5 866.7,1030.7 871.0,1033.3 874.9,1036.3 878.6,1039.8 881.8,1043.6"/><path d="M735.0,1204.2 735.3,1199.1 735.9,1194.1 736.9,1189.1 738.2,1184.2 739.8,1179.4 741.6,1174.7 743.8,1170.1 746.1,1165.5 748.3,1161.0 750.6,1156.5 752.8,1151.9 755.1,1147.4 757.3,1142.8 759.6,1138.3 761.9,1133.7 764.1,1129.2 766.4,1124.6 768.6,1120.1 770.9,1115.6 773.2,1111.1 775.6,1106.6 778.0,1102.1 780.5,1097.7 783.0,1093.3 785.6,1088.9 788.3,1084.6 791.2,1080.4 794.1,1076.3 797.1,1072.2 800.3,1068.2 803.6,1064.4 807.0,1060.6 810.6,1057.0 814.3,1053.5 818.1,1050.2 822.1,1047.1 826.3,1044.2 830.5,1041.5 835.0,1039.0 839.5,1036.7 844.2,1034.7 849.0,1033.0 853.8,1031.6 858.8,1030.5 863.8,1029.7 868.9,1029.3 873.9,1029.3 879.0,1029.6 884.0,1030.3 889.0,1031.4 893.8,1032.9 898.5,1034.8 903.1,1037.1 907.4,1039.8"/><path d="M750.4,1206.5 749.5,1201.6 748.4,1196.7 747.1,1191.9 745.6,1187.1 743.9,1182.3 742.0,1177.7 739.9,1173.1 737.6,1168.7 735.1,1164.3 732.5,1160.1 729.6,1155.9 726.6,1151.9 723.5,1147.9 720.5,1144.0 717.4,1140.0 714.4,1136.0 711.3,1132.0 708.3,1128.0 705.2,1124.0 702.2,1120.0 699.3,1115.9 696.4,1111.9 693.5,1107.7 690.7,1103.6 688.0,1099.3 685.4,1095.0 682.9,1090.7 680.6,1086.2 678.3,1081.7 676.3,1077.2 674.4,1072.5 672.6,1067.8 671.1,1063.0 669.8,1058.2 668.7,1053.3 667.9,1048.3 667.3,1043.3 667.0,1038.3 667.0,1033.3 667.3,1028.3 668.0,1023.3 668.9,1018.4 670.2,1013.5 671.8,1008.8 673.8,1004.2 676.1,999.7 678.8,995.5 681.8,991.5 685.2,987.7 688.8,984.3 692.8,981.2 697.0,978.5 701.5,976.2 706.1,974.4 711.0,973.0"/><path d="M748.9,1205.9 748.2,1200.9 747.4,1195.9 746.5,1191.0 745.5,1186.1 744.3,1181.2 743.0,1176.3 741.6,1171.5 740.1,1166.7 738.5,1162.0 736.7,1157.3 734.8,1152.6 732.8,1148.0 730.8,1143.4 728.8,1138.8 726.8,1134.2 724.8,1129.6 722.8,1125.0 720.8,1120.3 718.8,1115.7 716.9,1111.1 715.0,1106.4 713.2,1101.8 711.4,1097.0 709.7,1092.3 708.2,1087.5 706.7,1082.7 705.4,1077.9 704.3,1073.0 703.3,1068.0 702.5,1063.1 701.9,1058.1 701.5,1053.1 701.3,1048.1 701.4,1043.0 701.7,1038.0 702.3,1033.0 703.2,1028.1 704.4,1023.2 705.9,1018.4 707.7,1013.7 709.9,1009.2 712.3,1004.8 715.1,1000.6 718.2,996.6 721.6,992.9 725.3,989.5 729.3,986.5 733.5,983.8 738.0,981.5 742.6,979.6 747.5,978.2 752.4,977.4 757.4,977.0 762.4,977.2 767.4,977.9"/><path d="M748.9,1207.6 748.4,1202.6 747.7,1197.6 747.0,1192.7 746.2,1187.7 745.3,1182.7 744.4,1177.8 743.4,1172.9 742.2,1167.9 741.0,1163.1 739.8,1158.2 738.4,1153.3 737.0,1148.5 735.6,1143.7 734.2,1138.8 732.8,1134.0 731.4,1129.2 730.0,1124.3 728.6,1119.5 727.2,1114.6 725.9,1109.8 724.6,1104.9 723.4,1100.0 722.2,1095.1 721.2,1090.2 720.2,1085.3 719.4,1080.3 718.6,1075.3 718.1,1070.3 717.7,1065.3 717.4,1060.3 717.3,1055.2 717.4,1050.2 717.8,1045.2 718.3,1040.2 719.1,1035.2 720.1,1030.3 721.4,1025.4 722.9,1020.6 724.7,1015.9 726.7,1011.3 729.0,1006.8 731.7,1002.5 734.5,998.4 737.7,994.5 741.1,990.8 744.8,987.4 748.8,984.2 753.0,981.4 757.4,979.0 762.0,976.9 766.7,975.2 771.6,974.0 776.6,973.2"/><path d="M751.2,1208.0 750.9,1202.9 750.5,1197.9 750.0,1192.8 749.6,1187.7 749.2,1182.7 748.8,1177.6 748.3,1172.5 747.9,1167.5 747.4,1162.4 746.9,1157.3 746.5,1152.3 746.0,1147.2 745.5,1142.2 745.1,1137.1 744.6,1132.0 744.1,1127.0 743.7,1121.9 743.2,1116.8 742.8,1111.8 742.5,1106.7 742.2,1101.6 742.0,1096.6 741.9,1091.5 742.0,1086.4 742.1,1081.3 742.4,1076.2 742.9,1071.2 743.5,1066.1 744.4,1061.1 745.4,1056.1 746.7,1051.2 748.2,1046.4 750.0,1041.6 752.0,1036.9 754.2,1032.4 756.8,1028.0 759.6,1023.7 762.7,1019.7 766.1,1015.9 769.7,1012.3 773.6,1009.1 777.7,1006.1 782.1,1003.5 786.7,1001.3 791.4,999.5 796.3,998.1 801.3,997.2 806.4,996.8 811.5,996.9 816.5,997.5 821.5,998.7 826.2,1000.4"/><path d="M750.0,1206.1 749.9,1201.0 750.0,1196.0 750.2,1190.9 750.6,1185.9 751.1,1180.8 751.7,1175.8 752.3,1170.8 752.9,1165.8 753.5,1160.8 754.1,1155.8 754.7,1150.7 755.3,1145.7 755.9,1140.7 756.5,1135.7 757.1,1130.7 757.7,1125.6 758.3,1120.6 759.0,1115.6 759.6,1110.6 760.3,1105.6 761.0,1100.6 761.8,1095.6 762.6,1090.6 763.5,1085.6 764.5,1080.7 765.5,1075.7 766.7,1070.8 768.0,1065.9 769.4,1061.1 771.0,1056.3 772.6,1051.5 774.5,1046.8 776.4,1042.1 778.6,1037.6 780.9,1033.1 783.4,1028.7 786.0,1024.4 788.9,1020.2 791.9,1016.1 795.1,1012.2 798.5,1008.5 802.1,1004.9 805.9,1001.6 809.8,998.4 814.0,995.5 818.3,992.8 822.7,990.5 827.3,988.3 832.0,986.5 836.9,985.1 841.8,983.9 846.8,983.1 851.8,982.7"/><path d="M750.6,1207.3 750.5,1202.3 750.6,1197.2 750.8,1192.2 751.2,1187.1 751.6,1182.1 752.2,1177.1 752.9,1172.0 753.7,1167.1 754.7,1162.1 755.8,1157.1 757.0,1152.2 758.3,1147.4 759.7,1142.5 761.3,1137.7 762.9,1132.9 764.4,1128.1 766.0,1123.3 767.6,1118.5 769.1,1113.7 770.7,1108.8 772.1,1104.0 773.6,1099.1 775.0,1094.3 776.3,1089.4 777.5,1084.5 778.7,1079.6 779.8,1074.6 780.8,1069.7 781.6,1064.7 782.4,1059.7 783.0,1054.7 783.5,1049.6 783.8,1044.6 784.0,1039.5 784.0,1034.5 783.8,1029.4 783.5,1024.4 782.9,1019.3 782.2,1014.3 781.2,1009.4 780.1,1004.4 778.7,999.6 777.1,994.8 775.2,990.1 773.1,985.5 770.8,981.0 768.2,976.6 765.4,972.4 762.3,968.4 759.0,964.6 755.5,961.0 751.7,957.6 747.7,954.4"/><path d="M749.8,1207.8 750.3,1202.8 751.2,1197.8 752.3,1192.9 753.8,1188.2 755.6,1183.5 757.7,1178.9 760.2,1174.5 762.7,1170.2 765.2,1165.8 767.8,1161.5 770.3,1157.2 772.8,1152.8 775.3,1148.5 777.9,1144.1 780.4,1139.8 782.9,1135.5 785.4,1131.1 788.0,1126.8 790.5,1122.5 793.1,1118.2 795.7,1113.9 798.4,1109.6 801.1,1105.4 804.0,1101.3 806.9,1097.2 809.9,1093.2 813.0,1089.3 816.3,1085.4 819.7,1081.7 823.2,1078.1 826.8,1074.7 830.6,1071.4 834.5,1068.2 838.6,1065.3 842.8,1062.6 847.2,1060.1 851.7,1057.9 856.3,1055.9 861.1,1054.3 865.9,1052.9 870.8,1051.9 875.8,1051.2 880.8,1050.9 885.8,1051.0 890.8,1051.5 895.8,1052.4 900.6,1053.8 905.3,1055.5 909.8,1057.7 914.1,1060.3 918.2,1063.3 921.8,1066.7 925.2,1070.5 928.1,1074.6 930.5,1079.0"/><path d="M764.6,1207.6 763.6,1202.5 762.5,1197.6 761.1,1192.7 759.4,1187.9 757.6,1183.1 755.5,1178.5 753.2,1173.9 750.7,1169.5 748.0,1165.2 745.1,1161.0 742.1,1156.9 739.2,1152.7 736.2,1148.5 733.3,1144.4 730.4,1140.2 727.4,1136.1 724.5,1131.9 721.6,1127.7 718.7,1123.5 715.9,1119.3 713.1,1115.0 710.4,1110.7 707.8,1106.3 705.4,1101.8 703.0,1097.3 700.8,1092.7 698.7,1088.1 696.8,1083.4 695.2,1078.5 693.7,1073.7 692.5,1068.7 691.5,1063.7 690.8,1058.7 690.4,1053.6 690.3,1048.5 690.5,1043.4 691.1,1038.4 692.1,1033.4 693.4,1028.4 695.1,1023.6 697.2,1019.0 699.6,1014.5 702.5,1010.3 705.7,1006.4 709.3,1002.7 713.2,999.5 717.4,996.7 721.9,994.3 726.7,992.4 731.6,991.1 736.6,990.3 741.7,990.1"/><path d="M765.2,1209.2 764.2,1204.3 762.9,1199.3 761.5,1194.5 759.7,1189.8 757.7,1185.1 755.6,1180.5 753.4,1175.9 751.3,1171.4 749.1,1166.8 747.0,1162.2 744.9,1157.6 742.7,1153.0 740.6,1148.4 738.4,1143.9 736.3,1139.3 734.1,1134.7 732.0,1130.1 729.8,1125.5 727.7,1120.9 725.6,1116.3 723.6,1111.7 721.6,1107.0 719.7,1102.4 717.8,1097.7 716.0,1092.9 714.3,1088.2 712.8,1083.3 711.3,1078.5 710.0,1073.6 708.8,1068.7 707.7,1063.7 706.9,1058.8 706.2,1053.7 705.7,1048.7 705.4,1043.7 705.3,1038.6 705.5,1033.5 705.9,1028.5 706.5,1023.5 707.4,1018.5 708.6,1013.6 710.0,1008.7 711.8,1004.0 713.8,999.3 716.1,994.8 718.7,990.5 721.5,986.3 724.7,982.4 728.2,978.6 731.9,975.2 735.8,972.1 740.0,969.2 744.4,966.7 749.0,964.6"/><path d="M767.3,1208.8 766.8,1203.8 766.3,1198.8 765.6,1193.8 764.9,1188.8 764.1,1183.8 763.3,1178.8 762.4,1173.8 761.4,1168.8 760.3,1163.9 759.2,1159.0 758.1,1154.0 757.0,1149.1 755.9,1144.1 754.8,1139.2 753.7,1134.3 752.5,1129.3 751.4,1124.4 750.3,1119.5 749.3,1114.5 748.3,1109.6 747.3,1104.6 746.4,1099.6 745.6,1094.6 744.9,1089.6 744.3,1084.6 743.8,1079.6 743.5,1074.5 743.3,1069.5 743.3,1064.4 743.5,1059.3 743.8,1054.3 744.4,1049.3 745.1,1044.3 746.1,1039.3 747.4,1034.4 748.8,1029.6 750.6,1024.8 752.6,1020.2 754.9,1015.7 757.4,1011.3 760.2,1007.1 763.3,1003.1 766.7,999.3 770.3,995.8 774.2,992.5 778.3,989.6 782.6,987.0 787.2,984.7 791.9,982.9 796.7,981.5 801.7,980.5 806.7,980.0"/><path d="M765.5,1206.9 765.1,1201.9 764.8,1197.0 764.4,1192.0 764.0,1187.0 763.6,1182.0 763.2,1177.0 762.7,1172.0 762.3,1167.0 761.9,1162.0 761.4,1157.0 761.0,1152.1 760.6,1147.1 760.2,1142.1 759.7,1137.1 759.3,1132.1 758.9,1127.1 758.4,1122.1 758.0,1117.1 757.6,1112.1 757.3,1107.2 757.0,1102.2 756.7,1097.2 756.6,1092.2 756.5,1087.1 756.5,1082.1 756.6,1077.1 756.9,1072.1 757.3,1067.1 757.9,1062.2 758.6,1057.2 759.5,1052.3 760.6,1047.4 761.9,1042.6 763.4,1037.8 765.2,1033.1 767.2,1028.5 769.4,1024.0 771.8,1019.6 774.5,1015.4 777.4,1011.4 780.6,1007.5 784.1,1003.9 787.7,1000.5 791.6,997.3 795.7,994.5 800.1,992.0 804.6,989.8 809.2,988.0 814.1,986.6 819.0,985.6 823.9,985.0 828.9,984.9 833.9,985.3 838.9,986.2"/><path d="M764.6,1209.4 764.6,1204.3 764.7,1199.2 764.8,1194.1 765.1,1189.0 765.5,1184.0 766.1,1178.9 766.7,1173.9 767.5,1168.8 768.3,1163.8 769.1,1158.8 769.8,1153.8 770.6,1148.8 771.4,1143.7 772.2,1138.7 773.0,1133.7 773.8,1128.7 774.5,1123.6 775.3,1118.6 776.2,1113.6 777.0,1108.6 777.9,1103.6 778.9,1098.6 780.0,1093.6 781.2,1088.7 782.4,1083.8 783.8,1078.9 785.4,1074.0 787.1,1069.2 788.9,1064.5 790.9,1059.8 793.1,1055.3 795.5,1050.8 798.1,1046.4 801.0,1042.2 804.0,1038.1 807.2,1034.2 810.7,1030.4 814.3,1026.9 818.2,1023.7 822.3,1020.6 826.6,1017.9 831.1,1015.5 835.7,1013.4 840.5,1011.7 845.4,1010.4 850.4,1009.5 855.5,1009.0 860.6,1009.0 865.6,1009.4 870.6,1010.3 875.5,1011.7 880.3,1013.6 884.8,1015.9 889.0,1018.7"/><path d="M767.0,1208.5 766.9,1203.5 767.1,1198.5 767.3,1193.4 767.7,1188.4 768.2,1183.4 768.8,1178.4 769.5,1173.4 770.4,1168.5 771.4,1163.6 772.5,1158.7 773.8,1153.8 775.1,1148.9 776.3,1144.0 777.6,1139.2 778.9,1134.3 780.2,1129.4 781.4,1124.6 782.7,1119.7 784.0,1114.8 785.3,1110.0 786.7,1105.1 788.1,1100.3 789.6,1095.5 791.2,1090.7 792.8,1086.0 794.6,1081.2 796.4,1076.6 798.4,1071.9 800.5,1067.3 802.7,1062.8 805.1,1058.4 807.6,1054.1 810.3,1049.8 813.2,1045.7 816.2,1041.7 819.5,1037.8 822.9,1034.1 826.4,1030.5 830.2,1027.2 834.1,1024.0 838.2,1021.1 842.5,1018.5 846.9,1016.1 851.5,1013.9 856.2,1012.1 861.0,1010.7 865.9,1009.6 870.9,1008.8 875.9,1008.4 880.9,1008.4 885.9,1008.9 890.9,1009.7 895.8,1011.0 900.5,1012.7 905.1,1014.8"/><path d="M764.7,1207.1 765.0,1202.0 765.6,1196.9 766.4,1191.9 767.4,1186.9 768.7,1182.0 770.2,1177.2 772.0,1172.4 774.0,1167.7 776.3,1163.2 778.6,1158.6 780.8,1154.1 783.1,1149.5 785.4,1145.0 787.7,1140.4 790.0,1135.9 792.3,1131.3 794.5,1126.8 796.8,1122.2 799.2,1117.7 801.5,1113.2 803.9,1108.7 806.4,1104.3 809.0,1099.9 811.6,1095.5 814.3,1091.2 817.1,1087.0 820.0,1082.8 823.0,1078.7 826.1,1074.7 829.4,1070.8 832.8,1067.0 836.3,1063.4 840.0,1059.8 843.9,1056.5 847.8,1053.3 851.9,1050.3 856.2,1047.5 860.6,1045.0 865.1,1042.6 869.8,1040.6 874.5,1038.8 879.4,1037.3 884.3,1036.1 889.3,1035.3 894.4,1034.7 899.5,1034.6 904.6,1034.8 909.6,1035.4 914.6,1036.4 919.5,1037.8 924.3,1039.6 928.9,1041.8"/><path d="M783.0,1210.9 781.8,1206.0 780.4,1201.1 778.8,1196.3 776.8,1191.7 774.7,1187.1 772.3,1182.6 769.6,1178.3 766.8,1174.1 763.7,1170.1 760.5,1166.2 757.2,1162.3 753.9,1158.5 750.7,1154.6 747.4,1150.7 744.1,1146.8 740.8,1143.0 737.6,1139.1 734.3,1135.2 731.1,1131.3 727.9,1127.4 724.7,1123.5 721.5,1119.5 718.4,1115.5 715.4,1111.5 712.4,1107.4 709.4,1103.3 706.6,1099.1 703.8,1094.8 701.1,1090.5 698.6,1086.2 696.1,1081.7 693.8,1077.2 691.6,1072.7 689.5,1068.1 687.6,1063.4 685.9,1058.6 684.4,1053.8 683.0,1048.9 681.8,1044.0 680.9,1039.0 680.1,1034.0 679.6,1028.9 679.4,1023.9 679.4,1018.8 679.6,1013.8 680.1,1008.7 680.9,1003.7 682.0,998.8 683.4,993.9 685.0,989.1 687.0,984.4 689.3,979.9 691.8,975.5"/><path d="M781.5,1210.5 780.1,1205.6 778.3,1200.9 776.3,1196.3 773.9,1191.8 771.4,1187.5 768.8,1183.1 766.3,1178.7 763.8,1174.3 761.2,1170.0 758.7,1165.6 756.1,1161.2 753.6,1156.9 751.1,1152.5 748.5,1148.1 746.0,1143.8 743.5,1139.4 740.9,1135.0 738.4,1130.7 735.9,1126.3 733.4,1121.9 731.0,1117.4 728.6,1113.0 726.2,1108.5 724.0,1104.0 721.8,1099.5 719.6,1094.9 717.6,1090.2 715.7,1085.6 713.9,1080.8 712.2,1076.1 710.7,1071.3 709.3,1066.4 708.1,1061.5 707.1,1056.5 706.2,1051.6 705.6,1046.6 705.1,1041.5 704.9,1036.5 704.9,1031.4 705.1,1026.4 705.6,1021.4 706.3,1016.4 707.3,1011.4 708.6,1006.5 710.1,1001.7 712.0,997.0 714.1,992.4 716.5,988.0 719.2,983.7 722.2,979.7 725.5,975.8 729.0,972.2 732.8,968.9"/><path d="M780.7,1210.1 780.1,1205.1 779.3,1200.1 778.6,1195.0 777.8,1190.0 776.9,1185.0 776.0,1180.0 775.0,1175.0 774.0,1170.0 772.9,1165.1 771.7,1160.1 770.5,1155.2 769.3,1150.2 768.1,1145.3 767.0,1140.3 765.8,1135.4 764.6,1130.5 763.4,1125.5 762.2,1120.6 761.0,1115.6 759.9,1110.7 758.8,1105.7 757.7,1100.7 756.7,1095.8 755.7,1090.8 754.8,1085.8 754.0,1080.7 753.2,1075.7 752.6,1070.7 752.1,1065.6 751.6,1060.5 751.3,1055.5 751.2,1050.4 751.1,1045.3 751.3,1040.2 751.5,1035.1 752.0,1030.1 752.6,1025.0 753.4,1020.0 754.4,1015.0 755.5,1010.1 756.9,1005.2 758.5,1000.4 760.3,995.6 762.4,990.9 764.6,986.4 767.1,981.9 769.8,977.6 772.7,973.5 775.9,969.5 779.3,965.7 782.9,962.1 786.7,958.7 790.7,955.6 794.9,952.7"/><path d="M781.8,1208.3 781.2,1203.3 780.7,1198.3 780.1,1193.3 779.6,1188.2 779.0,1183.2 778.4,1178.2 777.9,1173.2 777.3,1168.2 776.7,1163.2 776.0,1158.2 775.4,1153.2 774.8,1148.2 774.2,1143.2 773.6,1138.2 773.0,1133.2 772.4,1128.2 771.7,1123.2 771.1,1118.2 770.6,1113.2 770.0,1108.2 769.5,1103.2 769.1,1098.2 768.7,1093.2 768.4,1088.1 768.1,1083.1 768.0,1078.1 768.0,1073.0 768.1,1068.0 768.3,1063.0 768.6,1057.9 769.1,1052.9 769.8,1047.9 770.6,1043.0 771.7,1038.0 772.9,1033.1 774.2,1028.3 775.8,1023.5 777.6,1018.8 779.7,1014.2 781.9,1009.7 784.4,1005.3 787.1,1001.0 790.0,996.9 793.1,993.0 796.5,989.2 800.1,985.7 803.9,982.4 807.9,979.4 812.1,976.6 816.5,974.2 821.1,972.0 825.8,970.2 830.6,968.8"/><path d="M782.0,1209.9 781.7,1204.9 781.4,1199.8 781.2,1194.7 781.1,1189.7 781.0,1184.6 781.0,1179.6 781.1,1174.5 781.3,1169.4 781.5,1164.4 781.8,1159.3 782.2,1154.3 782.6,1149.2 783.0,1144.2 783.5,1139.1 783.9,1134.1 784.3,1129.0 784.7,1124.0 785.2,1118.9 785.7,1113.9 786.2,1108.9 786.8,1103.8 787.5,1098.8 788.3,1093.8 789.2,1088.8 790.3,1083.9 791.4,1078.9 792.8,1074.0 794.3,1069.2 796.0,1064.4 797.8,1059.7 799.9,1055.1 802.2,1050.6 804.7,1046.2 807.5,1041.9 810.5,1037.9 813.7,1033.9 817.1,1030.2 820.8,1026.8 824.8,1023.6 828.9,1020.7 833.2,1018.1 837.8,1015.8 842.5,1013.9 847.3,1012.4 852.3,1011.4 857.3,1010.8 862.4,1010.6 867.4,1011.0 872.4,1011.8 877.3,1013.2 882.0,1015.0 886.5,1017.4"/><path d="M780.8,1208.7 780.7,1203.7 780.8,1198.7 781.0,1193.7 781.4,1188.6 782.0,1183.6 782.7,1178.7 783.6,1173.7 784.6,1168.8 785.8,1163.9 787.0,1159.0 788.2,1154.1 789.4,1149.2 790.6,1144.3 791.7,1139.5 792.9,1134.6 794.1,1129.7 795.3,1124.8 796.5,1119.9 797.7,1115.0 799.0,1110.1 800.3,1105.3 801.7,1100.5 803.2,1095.6 804.7,1090.8 806.3,1086.1 808.1,1081.4 810.0,1076.7 812.0,1072.1 814.2,1067.6 816.5,1063.1 819.0,1058.7 821.7,1054.5 824.5,1050.3 827.6,1046.3 830.8,1042.5 834.2,1038.8 837.8,1035.3 841.6,1032.0 845.6,1028.9 849.8,1026.1 854.2,1023.6 858.7,1021.4 863.4,1019.5 868.1,1017.9 873.0,1016.8 878.0,1016.0 883.0,1015.6 888.0,1015.6 893.1,1016.1 898.0,1017.0 902.8,1018.4 907.5,1020.2 912.0,1022.5 916.3,1025.2"/><path d="M782.7,1209.0 782.9,1204.0 783.3,1198.9 784.0,1193.9 785.0,1188.9 786.2,1184.0 787.7,1179.2 789.5,1174.4 791.5,1169.7 793.6,1165.1 795.7,1160.5 797.8,1155.9 799.9,1151.3 802.0,1146.6 804.1,1142.0 806.2,1137.4 808.3,1132.8 810.4,1128.1 812.4,1123.5 814.5,1118.9 816.5,1114.2 818.5,1109.6 820.5,1104.9 822.4,1100.2 824.3,1095.5 826.1,1090.7 827.8,1086.0 829.4,1081.2 831.0,1076.3 832.4,1071.5 833.8,1066.6 835.0,1061.7 836.2,1056.7 837.1,1051.7 838.0,1046.7 838.7,1041.7 839.2,1036.7 839.6,1031.6 839.8,1026.5 839.8,1021.5 839.7,1016.4 839.3,1011.3 838.7,1006.3 838.0,1001.3 837.0,996.3 835.7,991.4 834.3,986.5 832.6,981.7 830.6,977.0 828.5,972.5 826.0,968.0 823.4,963.7 820.5,959.5"/><path d="M798.4,1211.8 796.9,1207.1 795.0,1202.4 792.8,1197.9 790.2,1193.7 787.3,1189.6 784.2,1185.6 781.2,1181.7 778.1,1177.7 775.0,1173.8 772.0,1169.8 768.9,1165.9 765.8,1161.9 762.7,1158.0 759.7,1154.0 756.6,1150.1 753.5,1146.1 750.5,1142.2 747.4,1138.2 744.3,1134.2 741.3,1130.3 738.3,1126.3 735.3,1122.2 732.4,1118.2 729.5,1114.1 726.7,1109.9 724.0,1105.7 721.4,1101.5 718.8,1097.2 716.3,1092.8 714.0,1088.4 711.8,1083.9 709.7,1079.4 707.8,1074.8 706.0,1070.1 704.4,1065.4 703.0,1060.6 701.7,1055.7 700.7,1050.8 699.9,1045.9 699.3,1040.9 699.0,1035.9 698.9,1030.9 699.0,1025.9 699.5,1020.9 700.2,1016.0 701.2,1011.1 702.5,1006.2 704.1,1001.5 706.0,996.9 708.3,992.4 710.8,988.1 713.6,983.9 716.7,980.0 720.1,976.4 723.8,973.0"/><path d="M798.8,1209.4 798.0,1204.3 797.0,1199.3 795.9,1194.4 794.6,1189.4 793.3,1184.5 791.8,1179.7 790.2,1174.8 788.5,1170.1 786.6,1165.3 784.7,1160.6 782.6,1156.0 780.4,1151.4 778.3,1146.7 776.1,1142.1 774.0,1137.5 771.8,1132.9 769.7,1128.3 767.5,1123.7 765.3,1119.1 763.1,1114.5 760.9,1109.9 758.7,1105.4 756.4,1100.8 754.1,1096.3 751.7,1091.8 749.3,1087.3 746.8,1082.9 744.3,1078.5 741.7,1074.1 739.0,1069.8 736.2,1065.5 733.4,1061.2 730.5,1057.1 727.5,1053.0 724.4,1048.9 721.2,1045.0 717.9,1041.1 714.5,1037.3 711.0,1033.6 707.4,1030.0 703.7,1026.5 699.9,1023.1 696.0,1019.9 692.0,1016.8 687.8,1013.8 683.6,1011.0 679.3,1008.4 674.8,1005.9 670.3,1003.6 665.6,1001.5 660.9,999.6 656.1,997.9 651.3,996.4"/><path d="M798.6,1210.2 797.7,1205.2 796.8,1200.3 795.8,1195.3 794.6,1190.4 793.4,1185.5 792.0,1180.6 790.6,1175.8 789.0,1171.0 787.3,1166.2 785.6,1161.4 783.9,1156.7 782.2,1151.9 780.5,1147.2 778.8,1142.4 777.1,1137.6 775.4,1132.9 773.7,1128.1 771.9,1123.4 770.2,1118.6 768.5,1113.9 766.7,1109.1 764.9,1104.4 763.0,1099.7 761.1,1095.0 759.1,1090.4 757.0,1085.8 754.9,1081.2 752.7,1076.6 750.4,1072.1 748.0,1067.7 745.5,1063.3 742.9,1058.9 740.2,1054.7 737.4,1050.5 734.4,1046.4 731.3,1042.4 728.1,1038.5 724.8,1034.7 721.3,1031.0 717.6,1027.5 713.9,1024.1 710.0,1020.9 705.9,1017.8 701.8,1015.0 697.5,1012.3 693.1,1009.9 688.5,1007.6 683.9,1005.6 679.1,1003.9 674.3,1002.4 669.4,1001.2 664.4,1000.3 659.4,999.6 654.4,999.3"/><path d="M796.7,1209.6 796.2,1204.6 795.7,1199.5 795.2,1194.5 794.7,1189.5 794.2,1184.5 793.8,1179.4 793.4,1174.4 793.0,1169.4 792.6,1164.3 792.2,1159.3 791.8,1154.3 791.4,1149.2 791.1,1144.2 790.8,1139.2 790.4,1134.1 790.1,1129.1 789.7,1124.1 789.4,1119.0 789.1,1114.0 788.8,1108.9 788.5,1103.9 788.3,1098.9 788.2,1093.8 788.2,1088.8 788.2,1083.7 788.3,1078.7 788.6,1073.6 789.0,1068.6 789.5,1063.6 790.2,1058.6 791.0,1053.6 792.0,1048.6 793.1,1043.7 794.5,1038.9 796.1,1034.1 797.8,1029.3 799.8,1024.7 802.0,1020.2 804.4,1015.7 807.1,1011.5 810.0,1007.3 813.1,1003.4 816.5,999.6 820.1,996.0 823.9,992.7 827.9,989.7 832.2,986.9 836.6,984.5 841.2,982.4 845.9,980.6 850.7,979.3 855.7,978.3 860.7,977.7 865.8,977.6 870.8,977.9"/><path d="M798.2,1210.8 797.9,1205.7 797.7,1200.7 797.5,1195.6 797.4,1190.5 797.5,1185.5 797.6,1180.4 797.8,1175.3 798.1,1170.3 798.5,1165.2 799.0,1160.2 799.6,1155.1 800.2,1150.1 800.9,1145.1 801.5,1140.0 802.1,1135.0 802.8,1130.0 803.4,1124.9 804.1,1119.9 804.8,1114.9 805.5,1109.9 806.2,1104.8 807.1,1099.8 807.9,1094.8 808.9,1089.9 810.0,1084.9 811.2,1080.0 812.5,1075.1 814.0,1070.2 815.6,1065.4 817.3,1060.7 819.2,1056.0 821.3,1051.3 823.6,1046.8 826.1,1042.4 828.8,1038.1 831.7,1033.9 834.7,1029.9 838.0,1026.0 841.5,1022.3 845.2,1018.9 849.2,1015.7 853.3,1012.7 857.6,1010.0 862.0,1007.6 866.7,1005.6 871.4,1003.8 876.3,1002.5 881.3,1001.5 886.4,1001.0 891.4,1000.8 896.5,1001.1 901.5,1001.9 906.4,1003.1 911.2,1004.8"/><path d="M798.5,1209.9 798.6,1204.8 799.1,1199.8 799.8,1194.8 800.9,1189.9 802.1,1185.0 803.3,1180.1 804.5,1175.2 805.8,1170.3 807.0,1165.4 808.2,1160.5 809.4,1155.6 810.7,1150.7 811.9,1145.8 813.1,1141.0 814.3,1136.1 815.6,1131.2 816.8,1126.3 818.0,1121.4 819.3,1116.5 820.6,1111.6 822.0,1106.8 823.4,1101.9 824.9,1097.1 826.5,1092.3 828.1,1087.6 829.9,1082.9 831.8,1078.2 833.8,1073.6 836.0,1069.0 838.3,1064.5 840.8,1060.1 843.4,1055.8 846.2,1051.6 849.2,1047.6 852.3,1043.6 855.7,1039.8 859.2,1036.2 862.9,1032.8 866.8,1029.6 870.9,1026.6 875.1,1023.9 879.5,1021.4 884.1,1019.3 888.7,1017.4 893.6,1015.9 898.5,1014.7 903.4,1013.9 908.5,1013.5 913.5,1013.5 918.5,1013.9 923.5,1014.7 928.4,1016.0 933.1,1017.7"/><path d="M798.7,1211.5 798.8,1206.4 799.2,1201.4 799.9,1196.3 800.9,1191.4 802.2,1186.5 803.8,1181.6 805.6,1176.9 807.7,1172.3 810.0,1167.8 812.3,1163.3 814.6,1158.8 816.9,1154.3 819.2,1149.7 821.5,1145.2 823.8,1140.7 826.1,1136.2 828.4,1131.7 830.7,1127.2 833.1,1122.7 835.5,1118.3 838.0,1113.8 840.5,1109.5 843.2,1105.1 845.9,1100.9 848.8,1096.7 851.7,1092.6 854.8,1088.6 858.1,1084.7 861.5,1081.0 865.1,1077.4 868.8,1073.9 872.7,1070.7 876.7,1067.6 881.0,1064.8 885.3,1062.3 889.9,1060.0 894.5,1058.0 899.3,1056.4 904.2,1055.1 909.2,1054.2 914.2,1053.6 919.3,1053.5 924.3,1053.8 929.4,1054.5 934.3,1055.7 939.1,1057.3 943.7,1059.4 948.1,1062.0 952.1,1065.0 955.9,1068.4 959.2,1072.2 962.1,1076.4"/><path d="M813.5,1212.2 812.1,1207.4 810.4,1202.6 808.4,1197.9 806.2,1193.4 803.7,1189.0 800.9,1184.8 797.9,1180.8 794.8,1176.8 791.8,1172.7 788.8,1168.7 785.7,1164.7 782.7,1160.6 779.6,1156.6 776.6,1152.6 773.6,1148.5 770.5,1144.5 767.5,1140.5 764.5,1136.4 761.5,1132.4 758.5,1128.3 755.6,1124.2 752.7,1120.0 750.0,1115.8 747.3,1111.5 744.7,1107.2 742.2,1102.8 739.8,1098.4 737.6,1093.8 735.5,1089.2 733.6,1084.5 731.9,1079.8 730.4,1075.0 729.2,1070.1 728.1,1065.1 727.4,1060.1 726.8,1055.1 726.6,1050.1 726.7,1045.0 727.1,1040.0 727.8,1035.0 728.9,1030.1 730.3,1025.2 732.0,1020.5 734.2,1015.9 736.6,1011.5 739.5,1007.3 742.7,1003.4 746.2,999.8 750.0,996.5 754.1,993.6 758.5,991.1 763.1,989.0 767.9,987.4"/><path d="M815.3,1212.6 814.3,1207.7 813.2,1202.7 811.9,1197.8 810.5,1192.9 809.0,1188.1 807.3,1183.3 805.5,1178.6 803.6,1173.9 801.5,1169.2 799.3,1164.7 796.9,1160.1 794.5,1155.7 792.1,1151.2 789.7,1146.8 787.3,1142.3 784.9,1137.8 782.4,1133.4 780.0,1128.9 777.6,1124.4 775.3,1119.9 773.0,1115.4 770.7,1110.9 768.5,1106.3 766.4,1101.7 764.3,1097.1 762.4,1092.4 760.6,1087.6 758.9,1082.9 757.3,1078.0 755.9,1073.2 754.6,1068.2 753.5,1063.3 752.6,1058.3 752.0,1053.3 751.5,1048.2 751.2,1043.1 751.2,1038.1 751.5,1033.0 752.0,1027.9 752.8,1022.9 753.9,1018.0 755.3,1013.1 757.0,1008.3 758.9,1003.6 761.2,999.1 763.8,994.7 766.8,990.6 770.0,986.7 773.5,983.0 777.2,979.6 781.3,976.5 785.6,973.8 790.1,971.5 794.8,969.5"/><path d="M815.5,1213.2 814.7,1208.2 813.8,1203.2 812.9,1198.3 811.8,1193.3 810.8,1188.4 809.6,1183.5 808.4,1178.6 807.1,1173.7 805.8,1168.8 804.4,1164.0 802.9,1159.2 801.4,1154.3 799.9,1149.5 798.5,1144.7 797.0,1139.9 795.5,1135.0 794.0,1130.2 792.6,1125.4 791.1,1120.6 789.7,1115.7 788.3,1110.9 787.0,1106.0 785.8,1101.1 784.7,1096.2 783.6,1091.2 782.7,1086.3 781.8,1081.3 781.1,1076.3 780.6,1071.3 780.2,1066.3 780.0,1061.2 779.9,1056.2 780.1,1051.1 780.4,1046.1 781.0,1041.1 781.7,1036.1 782.8,1031.2 784.0,1026.3 785.5,1021.5 787.3,1016.7 789.4,1012.1 791.7,1007.6 794.3,1003.3 797.1,999.1 800.2,995.2 803.6,991.5 807.3,988.0 811.2,984.8 815.3,981.9 819.7,979.3 824.2,977.1 828.9,975.2 833.7,973.8"/><path d="M812.9,1213.5 812.2,1208.5 811.6,1203.5 810.9,1198.6 810.3,1193.6 809.6,1188.6 809.0,1183.7 808.3,1178.7 807.6,1173.8 807.0,1168.8 806.3,1163.8 805.6,1158.9 804.9,1153.9 804.2,1149.0 803.5,1144.0 802.8,1139.0 802.2,1134.1 801.5,1129.1 800.8,1124.2 800.1,1119.2 799.5,1114.2 798.9,1109.3 798.4,1104.3 797.9,1099.3 797.6,1094.3 797.3,1089.3 797.2,1084.3 797.1,1079.3 797.3,1074.3 797.5,1069.3 798.0,1064.3 798.6,1059.4 799.4,1054.4 800.4,1049.5 801.7,1044.7 803.1,1039.9 804.8,1035.2 806.8,1030.6 809.0,1026.1 811.4,1021.7 814.1,1017.5 817.1,1013.5 820.3,1009.6 823.8,1006.0 827.5,1002.7 831.5,999.6 835.7,996.9 840.1,994.5 844.6,992.4 849.4,990.8 854.2,989.6 859.1,988.8 864.1,988.5 869.1,988.6 874.1,989.2 879.0,990.4"/><path d="M814.8,1210.9 814.3,1205.9 813.8,1200.8 813.4,1195.8 813.0,1190.7 812.7,1185.6 812.4,1180.5 812.2,1175.5 812.1,1170.4 811.9,1165.3 811.9,1160.2 811.9,1155.1 811.9,1150.1 812.0,1145.0 812.1,1139.9 812.2,1134.8 812.3,1129.7 812.5,1124.6 812.6,1119.6 812.8,1114.5 813.0,1109.4 813.3,1104.3 813.7,1099.3 814.1,1094.2 814.7,1089.2 815.4,1084.1 816.2,1079.1 817.1,1074.1 818.2,1069.1 819.5,1064.2 821.0,1059.4 822.6,1054.5 824.5,1049.8 826.5,1045.2 828.8,1040.6 831.3,1036.2 834.0,1031.9 837.0,1027.8 840.2,1023.9 843.7,1020.1 847.4,1016.6 851.3,1013.4 855.4,1010.4 859.7,1007.8 864.2,1005.4 868.9,1003.5 873.8,1001.9 878.7,1000.7 883.7,1000.0 888.8,999.7 893.9,999.9 898.9,1000.5 903.9,1001.7"/><path d="M814.0,1211.6 814.0,1206.5 814.4,1201.5 815.0,1196.5 815.9,1191.5 817.1,1186.6 818.4,1181.7 819.7,1176.9 821.0,1172.0 822.3,1167.1 823.6,1162.2 824.9,1157.3 826.2,1152.5 827.5,1147.6 828.8,1142.7 830.1,1137.8 831.4,1133.0 832.7,1128.1 834.0,1123.2 835.4,1118.3 836.7,1113.5 838.2,1108.7 839.7,1103.8 841.3,1099.1 843.0,1094.3 844.8,1089.6 846.8,1084.9 848.9,1080.3 851.1,1075.8 853.5,1071.4 856.0,1067.0 858.8,1062.8 861.7,1058.6 864.8,1054.7 868.1,1050.8 871.6,1047.2 875.3,1043.8 879.2,1040.5 883.2,1037.6 887.5,1034.9 892.0,1032.5 896.5,1030.4 901.3,1028.6 906.1,1027.2 911.1,1026.3 916.1,1025.7 921.1,1025.5 926.2,1025.8 931.2,1026.5 936.1,1027.7 940.8,1029.4 945.4,1031.6 949.7,1034.2 953.8,1037.2"/><path d="M815.2,1211.6 815.0,1206.5 815.1,1201.5 815.3,1196.4 815.6,1191.3 816.2,1186.3 817.0,1181.3 817.9,1176.3 819.0,1171.4 820.3,1166.5 821.8,1161.6 823.4,1156.9 825.3,1152.1 827.3,1147.5 829.4,1142.9 831.5,1138.3 833.6,1133.7 835.7,1129.1 837.9,1124.5 840.1,1119.9 842.3,1115.4 844.6,1110.8 846.9,1106.4 849.4,1101.9 851.9,1097.5 854.6,1093.2 857.4,1089.0 860.3,1084.9 863.4,1080.8 866.6,1076.9 870.0,1073.1 873.5,1069.5 877.2,1066.0 881.1,1062.8 885.1,1059.7 889.3,1056.9 893.7,1054.3 898.2,1052.0 902.8,1050.0 907.6,1048.4 912.5,1047.1 917.5,1046.1 922.5,1045.6 927.6,1045.4 932.6,1045.7 937.7,1046.4 942.6,1047.6 947.4,1049.2 952.0,1051.2 956.4,1053.8 960.5,1056.7 964.3,1060.1 967.7,1063.9"/><path d="M831.2,1212.2 830.2,1207.3 829.1,1202.4 827.7,1197.5 826.2,1192.7 824.5,1187.9 822.6,1183.2 820.6,1178.6 818.3,1174.1 815.9,1169.6 813.4,1165.3 810.6,1161.0 807.7,1156.9 804.8,1152.7 801.9,1148.6 799.0,1144.5 796.1,1140.3 793.2,1136.2 790.3,1132.0 787.5,1127.9 784.6,1123.7 781.9,1119.5 779.2,1115.2 776.5,1110.9 774.0,1106.5 771.6,1102.1 769.3,1097.5 767.2,1093.0 765.2,1088.3 763.3,1083.6 761.7,1078.8 760.3,1074.0 759.1,1069.1 758.2,1064.1 757.5,1059.1 757.1,1054.0 757.0,1049.0 757.2,1043.9 757.8,1038.9 758.7,1033.9 759.9,1029.0 761.5,1024.2 763.5,1019.6 765.8,1015.1 768.5,1010.8 771.6,1006.8 775.0,1003.1 778.8,999.7 782.8,996.7 787.1,994.1 791.7,991.9 796.5,990.3 801.4,989.1 806.5,988.6"/><path d="M830.2,1212.6 829.1,1207.6 827.8,1202.7 826.2,1197.9 824.3,1193.2 822.3,1188.5 820.0,1184.0 817.5,1179.6 815.1,1175.1 812.6,1170.7 810.1,1166.2 807.7,1161.8 805.2,1157.3 802.7,1152.9 800.3,1148.5 797.8,1144.0 795.3,1139.6 792.9,1135.1 790.4,1130.7 788.0,1126.2 785.6,1121.7 783.3,1117.2 781.0,1112.7 778.7,1108.1 776.6,1103.5 774.5,1098.9 772.5,1094.2 770.6,1089.5 768.9,1084.7 767.2,1079.9 765.8,1075.1 764.4,1070.2 763.2,1065.2 762.2,1060.2 761.4,1055.2 760.8,1050.2 760.4,1045.1 760.2,1040.0 760.3,1035.0 760.6,1029.9 761.1,1024.8 761.9,1019.8 763.0,1014.9 764.4,1010.0 766.1,1005.2 768.0,1000.5 770.2,995.9 772.8,991.5 775.6,987.3 778.7,983.3 782.1,979.5 785.8,976.0 789.7,972.7"/><path d="M828.6,1213.2 827.9,1208.2 827.2,1203.3 826.4,1198.3 825.6,1193.3 824.7,1188.4 823.8,1183.4 822.7,1178.5 821.7,1173.6 820.5,1168.7 819.3,1163.8 818.1,1159.0 816.9,1154.1 815.7,1149.2 814.4,1144.3 813.2,1139.5 812.0,1134.6 810.8,1129.7 809.6,1124.8 808.4,1119.9 807.3,1115.0 806.2,1110.1 805.3,1105.2 804.4,1100.2 803.6,1095.3 803.0,1090.3 802.5,1085.3 802.2,1080.3 802.1,1075.2 802.1,1070.2 802.4,1065.2 802.8,1060.2 803.5,1055.2 804.5,1050.3 805.7,1045.4 807.2,1040.6 809.0,1035.9 811.0,1031.3 813.4,1026.9 816.1,1022.6 819.0,1018.6 822.3,1014.7 825.8,1011.2 829.6,1007.9 833.7,1005.0 838.0,1002.4 842.6,1000.2 847.3,998.5 852.2,997.2 857.1,996.4 862.1,996.1 867.2,996.4 872.1,997.2"/><path d="M831.5,1214.3 831.0,1209.3 830.6,1204.3 830.2,1199.3 829.7,1194.3 829.3,1189.4 829.0,1184.4 828.6,1179.4 828.2,1174.4 827.8,1169.4 827.4,1164.4 827.0,1159.4 826.6,1154.4 826.3,1149.4 825.9,1144.4 825.5,1139.4 825.1,1134.4 824.7,1129.4 824.4,1124.4 824.1,1119.4 823.8,1114.4 823.6,1109.4 823.5,1104.4 823.5,1099.4 823.6,1094.3 823.9,1089.3 824.3,1084.3 824.9,1079.4 825.7,1074.4 826.7,1069.5 827.9,1064.6 829.3,1059.8 830.9,1055.1 832.8,1050.5 835.0,1046.0 837.5,1041.6 840.2,1037.4 843.2,1033.3 846.4,1029.5 850.0,1026.0 853.7,1022.7 857.8,1019.7 862.1,1017.1 866.6,1014.9 871.2,1013.1 876.0,1011.7 881.0,1010.8 886.0,1010.4 891.0,1010.5 895.9,1011.1 900.8,1012.3 905.5,1014.0 910.0,1016.2"/><path d="M829.9,1214.5 829.6,1209.5 829.4,1204.5 829.2,1199.4 829.1,1194.4 829.1,1189.4 829.1,1184.3 829.2,1179.3 829.4,1174.3 829.7,1169.2 830.0,1164.2 830.4,1159.2 830.8,1154.2 831.4,1149.2 831.9,1144.1 832.5,1139.1 833.0,1134.1 833.6,1129.1 834.1,1124.1 834.7,1119.1 835.3,1114.1 835.9,1109.1 836.6,1104.1 837.4,1099.1 838.2,1094.2 839.1,1089.2 840.0,1084.3 841.1,1079.3 842.3,1074.4 843.6,1069.6 845.0,1064.7 846.5,1059.9 848.2,1055.2 850.0,1050.5 852.0,1045.9 854.1,1041.3 856.4,1036.8 858.9,1032.4 861.5,1028.1 864.3,1024.0 867.4,1019.9 870.6,1016.0 873.9,1012.3 877.5,1008.8 881.3,1005.4 885.2,1002.2 889.3,999.3 893.6,996.6 898.0,994.2 902.5,992.1 907.2,990.2 912.0,988.7 916.9,987.5 921.9,986.6 926.9,986.1"/><path d="M831.5,1213.3 831.6,1208.3 832.0,1203.3 832.6,1198.3 833.5,1193.4 834.6,1188.5 835.9,1183.6 837.5,1178.8 839.0,1174.1 840.5,1169.3 842.1,1164.5 843.6,1159.7 845.1,1154.9 846.6,1150.2 848.2,1145.4 849.7,1140.6 851.2,1135.8 852.8,1131.0 854.3,1126.2 855.8,1121.5 857.3,1116.7 858.8,1111.9 860.2,1107.1 861.6,1102.2 863.0,1097.4 864.3,1092.6 865.6,1087.7 866.8,1082.8 867.9,1078.0 869.0,1073.1 870.0,1068.1 871.0,1063.2 871.8,1058.3 872.5,1053.3 873.2,1048.3 873.7,1043.3 874.2,1038.3 874.5,1033.3 874.7,1028.3 874.7,1023.3 874.7,1018.3 874.4,1013.2 874.1,1008.2 873.6,1003.2 872.9,998.3 872.1,993.3 871.1,988.4 869.9,983.5 868.5,978.7 867.0,973.9 865.3,969.2 863.4,964.5 861.3,960.0 859.0,955.5"/><path d="M829.6,1212.5 829.9,1207.5 830.5,1202.4 831.4,1197.4 832.7,1192.5 834.2,1187.7 836.1,1183.0 838.2,1178.4 840.5,1173.9 842.8,1169.4 845.1,1164.8 847.3,1160.3 849.6,1155.8 851.9,1151.2 854.1,1146.7 856.4,1142.2 858.7,1137.7 860.9,1133.1 863.2,1128.6 865.5,1124.1 867.9,1119.6 870.2,1115.1 872.7,1110.7 875.2,1106.3 877.8,1101.9 880.5,1097.6 883.2,1093.4 886.1,1089.2 889.1,1085.1 892.2,1081.2 895.5,1077.3 898.9,1073.5 902.4,1069.9 906.1,1066.4 909.9,1063.0 913.8,1059.9 918.0,1056.9 922.2,1054.2 926.6,1051.6 931.1,1049.4 935.8,1047.4 940.5,1045.6 945.4,1044.2 950.4,1043.1 955.4,1042.3 960.4,1041.9 965.5,1041.9 970.5,1042.2 975.5,1043.0 980.5,1044.1 985.3,1045.7 990.0,1047.6 994.5,1050.0 998.7,1052.7"/><path d="M846.0,1216.0 844.9,1211.0 843.6,1206.2 842.2,1201.3 840.6,1196.6 838.8,1191.9 836.8,1187.2 834.7,1182.6 832.5,1178.1 830.1,1173.7 827.5,1169.4 824.8,1165.1 821.9,1161.0 818.9,1157.0 815.9,1152.9 812.8,1148.9 809.8,1144.9 806.8,1140.8 803.8,1136.8 800.8,1132.7 797.8,1128.7 794.9,1124.5 792.1,1120.4 789.3,1116.2 786.7,1111.9 784.1,1107.6 781.6,1103.2 779.3,1098.7 777.1,1094.2 775.1,1089.6 773.2,1084.9 771.6,1080.1 770.1,1075.3 768.9,1070.4 767.9,1065.5 767.2,1060.5 766.8,1055.5 766.6,1050.4 766.8,1045.4 767.3,1040.4 768.1,1035.4 769.2,1030.5 770.7,1025.7 772.6,1021.0 774.8,1016.5 777.4,1012.2 780.4,1008.1 783.6,1004.3 787.3,1000.8 791.2,997.6 795.4,994.8 799.9,992.5 804.5,990.6 809.4,989.3"/><path d="M847.3,1215.0 846.3,1210.1 845.2,1205.2 843.9,1200.4 842.5,1195.6 840.9,1190.8 839.2,1186.1 837.4,1181.4 835.4,1176.8 833.3,1172.3 831.1,1167.8 828.7,1163.4 826.3,1159.0 823.7,1154.7 821.0,1150.5 818.4,1146.2 815.7,1142.0 813.1,1137.7 810.5,1133.4 807.9,1129.2 805.3,1124.9 802.7,1120.6 800.2,1116.2 797.8,1111.9 795.4,1107.4 793.1,1103.0 790.9,1098.5 788.8,1093.9 786.8,1089.3 785.0,1084.7 783.2,1080.0 781.6,1075.3 780.2,1070.5 778.9,1065.6 777.9,1060.7 777.0,1055.8 776.3,1050.8 775.9,1045.8 775.6,1040.8 775.6,1035.8 775.9,1030.8 776.5,1025.8 777.3,1020.9 778.4,1016.0 779.7,1011.2 781.4,1006.5 783.4,1001.9 785.6,997.4 788.2,993.1 791.1,989.0 794.2,985.1 797.7,981.5 801.4,978.1 805.3,975.0"/><path d="M846.1,1213.4 845.2,1208.4 844.2,1203.5 843.0,1198.6 841.8,1193.8 840.5,1188.9 839.1,1184.1 837.6,1179.3 836.1,1174.5 834.7,1169.7 833.2,1164.9 831.8,1160.1 830.3,1155.3 828.9,1150.5 827.4,1145.7 825.9,1140.9 824.5,1136.1 823.0,1131.3 821.6,1126.5 820.2,1121.7 818.8,1116.9 817.4,1112.0 816.1,1107.2 814.9,1102.3 813.8,1097.4 812.7,1092.5 811.7,1087.6 810.8,1082.7 810.1,1077.7 809.4,1072.7 808.9,1067.8 808.6,1062.7 808.4,1057.7 808.3,1052.7 808.5,1047.7 808.8,1042.7 809.3,1037.7 810.0,1032.7 811.0,1027.8 812.1,1022.9 813.5,1018.1 815.1,1013.4 817.0,1008.7 819.1,1004.1 821.4,999.7 824.0,995.4 826.9,991.3 830.0,987.3 833.3,983.6 836.9,980.1 840.7,976.8 844.7,973.8 848.9,971.1"/><path d="M845.1,1215.6 844.5,1210.6 843.9,1205.5 843.3,1200.5 842.8,1195.5 842.2,1190.4 841.7,1185.4 841.2,1180.3 840.7,1175.3 840.2,1170.3 839.6,1165.2 839.1,1160.2 838.6,1155.1 838.1,1150.1 837.6,1145.1 837.1,1140.0 836.5,1135.0 836.0,1129.9 835.5,1124.9 834.9,1119.9 834.3,1114.8 833.7,1109.8 833.1,1104.8 832.3,1099.8 831.5,1094.8 830.6,1089.8 829.7,1084.8 828.6,1079.9 827.4,1074.9 826.1,1070.0 824.7,1065.2 823.2,1060.3 821.5,1055.6 819.6,1050.9 817.7,1046.2 815.5,1041.6 813.2,1037.1 810.7,1032.7 808.0,1028.4 805.1,1024.2 802.1,1020.2 798.8,1016.3 795.4,1012.6 791.8,1009.0 788.0,1005.7 784.0,1002.5 779.9,999.6 775.6,996.9 771.1,994.5 766.5,992.4 761.8,990.6 756.9,989.1 752.0,988.0 747.0,987.2"/><path d="M846.6,1216.0 846.3,1211.0 846.1,1206.0 846.1,1200.9 846.2,1195.9 846.4,1190.9 846.7,1185.8 846.9,1180.8 847.1,1175.8 847.3,1170.8 847.5,1165.7 847.8,1160.7 848.0,1155.7 848.2,1150.7 848.4,1145.6 848.6,1140.6 848.8,1135.6 849.1,1130.5 849.3,1125.5 849.6,1120.5 849.9,1115.5 850.3,1110.5 850.8,1105.5 851.4,1100.5 852.0,1095.5 852.8,1090.5 853.8,1085.6 854.9,1080.6 856.1,1075.8 857.5,1070.9 859.2,1066.2 861.0,1061.5 863.0,1056.9 865.2,1052.4 867.7,1048.0 870.4,1043.7 873.4,1039.7 876.5,1035.8 879.9,1032.1 883.6,1028.6 887.5,1025.4 891.6,1022.5 895.9,1019.9 900.4,1017.6 905.0,1015.7 909.8,1014.2 914.7,1013.1 919.7,1012.5 924.8,1012.3 929.8,1012.6 934.8,1013.4 939.6,1014.6 944.3,1016.4"/><path d="M846.6,1213.3 846.7,1208.2 847.0,1203.2 847.6,1198.2 848.5,1193.2 849.6,1188.3 850.9,1183.5 852.1,1178.6 853.4,1173.7 854.6,1168.8 855.9,1163.9 857.1,1159.1 858.4,1154.2 859.6,1149.3 860.8,1144.4 862.1,1139.5 863.3,1134.7 864.6,1129.8 865.8,1124.9 867.1,1120.0 868.5,1115.2 869.9,1110.3 871.3,1105.5 872.9,1100.7 874.5,1096.0 876.3,1091.3 878.2,1086.6 880.2,1082.0 882.4,1077.4 884.7,1073.0 887.2,1068.6 889.9,1064.3 892.7,1060.2 895.8,1056.2 899.0,1052.3 902.5,1048.7 906.1,1045.2 910.0,1041.9 914.0,1038.9 918.2,1036.2 922.6,1033.7 927.2,1031.6 931.9,1029.8 936.7,1028.3 941.6,1027.3 946.6,1026.6 951.7,1026.4 956.7,1026.6 961.7,1027.3 966.6,1028.4 971.4,1030.0 976.0,1032.1 980.3,1034.6 984.4,1037.6"/><path d="M844.5,1214.6 844.8,1209.6 845.5,1204.6 846.6,1199.6 848.1,1194.8 849.9,1190.0 851.9,1185.4 853.8,1180.7 855.8,1176.0 857.7,1171.3 859.7,1166.7 861.6,1162.0 863.6,1157.3 865.6,1152.6 867.5,1148.0 869.5,1143.3 871.4,1138.6 873.4,1133.9 875.4,1129.3 877.4,1124.6 879.4,1120.0 881.5,1115.3 883.6,1110.7 885.7,1106.1 888.0,1101.6 890.3,1097.1 892.7,1092.6 895.2,1088.2 897.9,1083.9 900.6,1079.6 903.5,1075.4 906.4,1071.3 909.5,1067.3 912.8,1063.4 916.2,1059.7 919.7,1056.1 923.4,1052.6 927.2,1049.3 931.2,1046.1 935.4,1043.2 939.6,1040.5 944.0,1038.0 948.6,1035.7 953.2,1033.7 958.0,1032.0 962.9,1030.6 967.8,1029.4 972.8,1028.7 977.9,1028.2 982.9,1028.1 988.0,1028.4 993.0,1029.0 998.0,1030.1 1002.9,1031.5"/><path d="M863.1,1215.5 862.5,1210.4 861.7,1205.4 860.7,1200.5 859.6,1195.5 858.3,1190.6 856.8,1185.8 855.2,1181.0 853.4,1176.3 851.5,1171.6 849.3,1167.0 847.1,1162.5 844.6,1158.1 842.1,1153.7 839.4,1149.4 836.7,1145.1 834.0,1140.9 831.3,1136.6 828.6,1132.3 825.9,1128.0 823.3,1123.7 820.7,1119.3 818.2,1114.9 815.7,1110.5 813.3,1106.1 811.0,1101.6 808.8,1097.0 806.6,1092.4 804.6,1087.8 802.8,1083.1 801.0,1078.3 799.4,1073.5 798.0,1068.7 796.8,1063.8 795.7,1058.8 794.9,1053.8 794.3,1048.8 793.9,1043.8 793.8,1038.7 793.9,1033.6 794.3,1028.6 794.9,1023.6 795.9,1018.6 797.1,1013.7 798.7,1008.9 800.5,1004.2 802.7,999.6 805.1,995.2 807.9,990.9 811.0,986.9 814.4,983.2 818.0,979.7 821.9,976.5 826.1,973.6"/><path d="M862.7,1215.2 862.0,1210.2 861.1,1205.2 860.0,1200.3 858.7,1195.4 857.2,1190.6 855.6,1185.8 853.7,1181.1 851.6,1176.5 849.4,1172.0 847.2,1167.4 845.0,1162.9 842.8,1158.4 840.6,1153.8 838.4,1149.3 836.2,1144.7 834.0,1140.2 831.8,1135.6 829.7,1131.1 827.5,1126.5 825.4,1121.9 823.3,1117.3 821.3,1112.7 819.4,1108.0 817.5,1103.3 815.7,1098.6 814.0,1093.9 812.4,1089.1 810.9,1084.2 809.5,1079.4 808.3,1074.5 807.2,1069.6 806.3,1064.6 805.5,1059.6 804.9,1054.6 804.5,1049.5 804.4,1044.5 804.4,1039.5 804.6,1034.4 805.1,1029.4 805.8,1024.4 806.8,1019.4 808.0,1014.5 809.5,1009.7 811.2,1005.0 813.2,1000.3 815.5,995.8 818.1,991.5 820.9,987.3 824.0,983.3 827.4,979.6 831.0,976.1"/><path d="M860.8,1216.5 860.3,1211.5 859.8,1206.5 859.1,1201.5 858.3,1196.5 857.3,1191.5 856.3,1186.6 855.2,1181.6 854.1,1176.7 853.0,1171.8 851.8,1166.8 850.7,1161.9 849.6,1157.0 848.5,1152.0 847.4,1147.1 846.3,1142.2 845.2,1137.2 844.0,1132.3 842.9,1127.4 841.8,1122.5 840.6,1117.5 839.3,1112.6 838.0,1107.8 836.6,1102.9 835.2,1098.1 833.6,1093.2 831.9,1088.5 830.2,1083.7 828.3,1079.0 826.3,1074.4 824.1,1069.8 821.8,1065.3 819.3,1060.9 816.7,1056.6 813.9,1052.4 810.9,1048.3 807.7,1044.4 804.4,1040.6 800.9,1036.9 797.2,1033.5 793.3,1030.2 789.3,1027.2 785.1,1024.4 780.7,1021.9 776.1,1019.6 771.5,1017.7 766.7,1016.1 761.8,1014.8 756.8,1013.8 751.8,1013.2 746.8,1013.0 741.7,1013.2 736.7,1013.9"/><path d="M863.3,1215.8 863.1,1210.8 862.9,1205.8 862.6,1200.8 862.3,1195.8 862.0,1190.8 861.7,1185.8 861.4,1180.8 861.1,1175.8 860.7,1170.8 860.4,1165.8 860.0,1160.8 859.6,1155.8 859.2,1150.8 858.8,1145.8 858.4,1140.8 858.1,1135.8 857.7,1130.8 857.3,1125.8 857.0,1120.8 856.7,1115.8 856.4,1110.8 856.2,1105.8 856.1,1100.8 856.1,1095.7 856.1,1090.7 856.3,1085.7 856.5,1080.7 856.9,1075.7 857.5,1070.7 858.2,1065.8 859.0,1060.8 860.0,1055.9 861.2,1051.0 862.6,1046.2 864.2,1041.5 865.9,1036.8 867.9,1032.2 870.1,1027.7 872.5,1023.3 875.2,1019.0 878.1,1014.9 881.2,1011.0 884.5,1007.2 888.0,1003.7 891.8,1000.3 895.8,997.3 899.9,994.5 904.3,992.0 908.8,989.8 913.5,988.0 918.3,986.5 923.2,985.5"/><path d="M860.7,1215.7 860.9,1210.6 861.2,1205.6 861.7,1200.5 862.3,1195.5 863.1,1190.5 864.0,1185.5 864.9,1180.5 865.8,1175.5 866.7,1170.5 867.6,1165.5 868.5,1160.5 869.4,1155.5 870.3,1150.5 871.2,1145.5 872.2,1140.5 873.1,1135.5 874.0,1130.5 874.9,1125.5 875.9,1120.5 876.9,1115.6 877.9,1110.6 879.0,1105.6 880.2,1100.7 881.5,1095.8 882.8,1090.9 884.3,1086.0 885.8,1081.2 887.5,1076.4 889.4,1071.7 891.3,1067.0 893.5,1062.4 895.7,1057.8 898.2,1053.4 900.8,1049.0 903.6,1044.8 906.6,1040.7 909.8,1036.7 913.1,1032.9 916.7,1029.3 920.4,1025.8 924.3,1022.6 928.4,1019.6 932.7,1016.9 937.1,1014.4 941.7,1012.2 946.4,1010.3 951.2,1008.8 956.2,1007.5 961.2,1006.7 966.2,1006.2 971.3,1006.2 976.4,1006.5"/><path d="M861.7,1214.7 861.9,1209.7 862.2,1204.6 862.7,1199.6 863.3,1194.6 864.0,1189.5 864.9,1184.6 865.9,1179.6 867.1,1174.7 868.4,1169.8 869.8,1164.9 871.4,1160.1 873.1,1155.4 874.8,1150.6 876.5,1145.8 878.2,1141.1 879.9,1136.3 881.7,1131.5 883.4,1126.8 885.2,1122.0 887.1,1117.3 889.0,1112.7 891.0,1108.0 893.1,1103.4 895.3,1098.9 897.7,1094.4 900.2,1090.0 902.8,1085.6 905.6,1081.4 908.5,1077.3 911.6,1073.3 915.0,1069.5 918.4,1065.8 922.1,1062.3 926.0,1059.1 930.0,1056.0 934.3,1053.2 938.7,1050.7 943.2,1048.5 947.9,1046.6 952.7,1045.1 957.7,1044.0 962.7,1043.2 967.7,1042.9 972.8,1042.9 977.8,1043.5 982.8,1044.5 987.6,1045.9 992.3,1047.9 996.7,1050.3 1000.9,1053.1"/><path d="M863.4,1217.1 863.6,1212.1 864.1,1207.1 864.8,1202.1 865.6,1197.1 866.7,1192.2 867.9,1187.4 869.3,1182.5 870.9,1177.8 872.6,1173.1 874.6,1168.4 876.7,1163.9 878.9,1159.4 881.3,1154.9 883.7,1150.5 886.1,1146.1 888.5,1141.7 890.9,1137.3 893.3,1132.9 895.8,1128.5 898.3,1124.1 900.8,1119.8 903.5,1115.5 906.2,1111.3 909.1,1107.2 912.0,1103.1 915.1,1099.2 918.3,1095.3 921.7,1091.6 925.2,1088.0 928.9,1084.6 932.8,1081.4 936.8,1078.3 941.0,1075.5 945.3,1073.0 949.8,1070.7 954.4,1068.8 959.1,1067.1 964.0,1065.8 968.9,1064.9 973.9,1064.4 979.0,1064.3 984.0,1064.6 988.9,1065.3 993.8,1066.6 998.5,1068.3 1003.1,1070.4 1007.4,1073.0 1011.4,1076.1 1015.0,1079.6 1018.2,1083.4 1021.0,1087.6 1023.2,1092.1"/><path d="M878.3,1218.1 877.5,1213.2 876.4,1208.3 875.1,1203.5 873.6,1198.7 871.9,1194.0 870.0,1189.3 867.9,1184.8 865.6,1180.3 863.2,1176.0 860.5,1171.8 857.6,1167.6 854.8,1163.5 851.9,1159.4 849.1,1155.3 846.2,1151.2 843.3,1147.1 840.5,1143.0 837.7,1138.9 834.8,1134.7 832.1,1130.5 829.4,1126.3 826.8,1122.0 824.2,1117.7 821.8,1113.4 819.4,1108.9 817.3,1104.4 815.2,1099.9 813.3,1095.2 811.6,1090.5 810.2,1085.7 808.9,1080.9 807.8,1076.0 807.1,1071.0 806.6,1066.0 806.3,1061.0 806.4,1056.0 806.9,1051.0 807.6,1046.1 808.7,1041.2 810.2,1036.4 812.0,1031.8 814.2,1027.3 816.8,1022.9 819.7,1018.9 823.0,1015.1 826.6,1011.6 830.5,1008.5 834.7,1005.8 839.2,1003.6 843.9,1001.8 848.7,1000.6 853.7,999.9"/><path d="M877.3,1216.8 876.4,1211.8 875.2,1206.8 873.8,1202.0 872.1,1197.2 870.2,1192.4 868.1,1187.8 865.8,1183.3 863.5,1178.8 861.2,1174.3 858.8,1169.8 856.5,1165.2 854.2,1160.7 851.9,1156.2 849.6,1151.7 847.2,1147.2 844.9,1142.6 842.6,1138.1 840.3,1133.6 838.0,1129.1 835.8,1124.5 833.5,1119.9 831.4,1115.3 829.3,1110.7 827.2,1106.1 825.3,1101.4 823.4,1096.7 821.6,1091.9 819.9,1087.1 818.3,1082.3 816.9,1077.4 815.5,1072.5 814.4,1067.6 813.4,1062.6 812.5,1057.6 811.8,1052.6 811.4,1047.5 811.1,1042.5 811.0,1037.4 811.1,1032.3 811.5,1027.2 812.1,1022.2 812.9,1017.2 814.0,1012.2 815.4,1007.3 817.0,1002.5 818.9,997.8 821.1,993.2 823.5,988.8 826.2,984.5 829.2,980.3 832.4,976.4 835.9,972.7"/><path d="M877.0,1217.9 876.5,1212.9 875.7,1207.9 874.9,1202.9 874.0,1197.9 873.0,1193.0 871.9,1188.1 870.7,1183.2 869.5,1178.3 868.3,1173.4 867.1,1168.5 865.9,1163.6 864.7,1158.7 863.5,1153.8 862.3,1148.9 861.1,1144.0 859.9,1139.1 858.8,1134.2 857.6,1129.3 856.5,1124.4 855.4,1119.5 854.3,1114.5 853.3,1109.6 852.4,1104.6 851.6,1099.7 850.8,1094.7 850.2,1089.7 849.7,1084.7 849.3,1079.6 849.0,1074.6 848.9,1069.6 848.9,1064.5 849.1,1059.5 849.5,1054.5 850.0,1049.4 850.8,1044.5 851.7,1039.5 852.9,1034.6 854.2,1029.8 855.8,1025.0 857.7,1020.3 859.7,1015.7 862.1,1011.2 864.6,1006.9 867.4,1002.7 870.4,998.6 873.7,994.8 877.2,991.2 881.0,987.8 884.9,984.7 889.1,981.9"/><path d="M877.8,1216.0 877.4,1211.0 877.0,1205.9 876.6,1200.9 876.1,1195.8 875.6,1190.8 875.1,1185.7 874.5,1180.7 873.9,1175.7 873.4,1170.6 872.8,1165.6 872.3,1160.5 871.7,1155.5 871.1,1150.5 870.6,1145.4 870.0,1140.4 869.5,1135.4 868.9,1130.3 868.4,1125.3 868.0,1120.2 867.6,1115.2 867.2,1110.1 867.0,1105.1 866.9,1100.0 867.0,1094.9 867.2,1089.9 867.5,1084.8 868.1,1079.8 868.8,1074.8 869.8,1069.8 871.0,1064.9 872.4,1060.0 874.1,1055.2 876.0,1050.5 878.2,1046.0 880.7,1041.6 883.5,1037.3 886.6,1033.3 890.0,1029.5 893.6,1026.0 897.5,1022.8 901.7,1019.9 906.0,1017.3 910.6,1015.2 915.4,1013.5 920.3,1012.3 925.3,1011.5 930.4,1011.3 935.5,1011.6 940.5,1012.4 945.3,1013.8"/><path d="M878.6,1216.7 878.4,1211.6 878.3,1206.5 878.2,1201.4 878.1,1196.4 878.1,1191.3 878.2,1186.2 878.3,1181.1 878.5,1176.0 878.7,1170.9 879.0,1165.8 879.3,1160.7 879.7,1155.6 880.0,1150.5 880.4,1145.5 880.7,1140.4 881.1,1135.3 881.5,1130.2 881.8,1125.1 882.2,1120.1 882.7,1115.0 883.1,1109.9 883.7,1104.8 884.3,1099.8 884.9,1094.7 885.7,1089.7 886.5,1084.7 887.4,1079.7 888.5,1074.7 889.7,1069.7 891.0,1064.8 892.4,1059.9 894.0,1055.1 895.7,1050.3 897.7,1045.5 899.7,1040.9 902.0,1036.3 904.4,1031.8 907.0,1027.5 909.8,1023.2 912.8,1019.1 916.0,1015.1 919.4,1011.3 923.0,1007.7 926.7,1004.2 930.7,1001.0 934.8,998.0 939.1,995.3 943.5,992.8 948.1,990.6 952.9,988.7 957.7,987.2 962.7,986.0"/><path d="M877.4,1218.2 877.4,1213.1 877.5,1208.0 877.8,1202.9 878.2,1197.9 878.8,1192.8 879.5,1187.8 880.3,1182.8 881.2,1177.8 882.3,1172.8 883.6,1167.9 884.9,1163.0 886.4,1158.2 888.0,1153.3 889.7,1148.5 891.3,1143.7 892.9,1138.9 894.6,1134.1 896.2,1129.3 897.7,1124.5 899.2,1119.6 900.7,1114.7 902.0,1109.8 903.3,1104.9 904.4,1100.0 905.5,1095.0 906.3,1090.0 907.1,1085.0 907.6,1079.9 908.0,1074.9 908.2,1069.8 908.1,1064.7 907.8,1059.6 907.3,1054.6 906.6,1049.6 905.5,1044.6 904.2,1039.7 902.6,1034.9 900.7,1030.1 898.5,1025.6 896.0,1021.1 893.2,1016.9 890.1,1012.9 886.7,1009.1 883.0,1005.6 879.0,1002.5 874.8,999.6 870.3,997.2 865.7,995.2 860.9,993.6 855.9,992.4"/><path d="M877.6,1218.3 877.7,1213.3 877.9,1208.3 878.4,1203.3 879.0,1198.3 879.8,1193.4 880.7,1188.5 881.8,1183.6 883.1,1178.8 884.6,1174.0 886.2,1169.3 887.9,1164.6 889.9,1160.0 892.0,1155.4 894.2,1150.9 896.5,1146.5 898.8,1142.0 901.1,1137.6 903.4,1133.2 905.7,1128.7 908.1,1124.3 910.5,1119.9 913.0,1115.6 915.5,1111.3 918.1,1107.0 920.8,1102.8 923.5,1098.6 926.4,1094.5 929.3,1090.4 932.3,1086.4 935.5,1082.6 938.8,1078.8 942.2,1075.1 945.7,1071.6 949.4,1068.2 953.2,1064.9 957.1,1061.8 961.2,1058.9 965.4,1056.2 969.7,1053.6 974.1,1051.3 978.7,1049.2 983.3,1047.4 988.1,1045.9 992.9,1044.6 997.8,1043.6 1002.8,1043.0 1007.8,1042.6 1012.8,1042.6 1017.8,1043.0 1022.7,1043.7 1027.6,1044.8 1032.4,1046.2"/><path d="M894.6,1219.4 893.4,1214.5 891.8,1209.8 889.9,1205.1 887.7,1200.7 885.2,1196.3 882.5,1192.1 879.7,1188.0 876.9,1183.8 874.1,1179.7 871.3,1175.5 868.5,1171.4 865.7,1167.2 863.0,1163.1 860.2,1158.9 857.4,1154.8 854.6,1150.6 851.8,1146.4 849.0,1142.3 846.2,1138.2 843.3,1134.1 840.4,1130.0 837.5,1125.9 834.5,1121.9 831.5,1117.9 828.5,1113.9 825.3,1110.0 822.1,1106.2 818.9,1102.4 815.5,1098.7 812.1,1095.0 808.6,1091.4 805.0,1088.0 801.3,1084.6 797.6,1081.3 793.7,1078.1 789.7,1075.1 785.7,1072.1 781.5,1069.3 777.3,1066.7 772.9,1064.2 768.5,1061.9 763.9,1059.8 759.3,1057.9 754.6,1056.1 749.9,1054.6 745.1,1053.3 740.2,1052.2 735.2,1051.4 730.3,1050.8 725.3,1050.5"/><path d="M893.9,1217.5 893.2,1212.4 892.3,1207.4 891.3,1202.4 890.2,1197.5 888.9,1192.5 887.5,1187.6 885.9,1182.8 884.2,1178.0 882.4,1173.2 880.5,1168.5 878.5,1163.8 876.5,1159.1 874.6,1154.4 872.6,1149.7 870.6,1145.1 868.6,1140.4 866.7,1135.6 864.8,1130.9 862.9,1126.2 861.2,1121.4 859.5,1116.6 857.9,1111.8 856.5,1106.9 855.2,1101.9 854.1,1097.0 853.2,1092.0 852.5,1086.9 852.1,1081.8 851.9,1076.7 851.9,1071.7 852.3,1066.6 852.9,1061.5 853.9,1056.5 855.2,1051.6 856.9,1046.8 859.0,1042.1 861.4,1037.7 864.1,1033.4 867.3,1029.4 870.7,1025.7 874.6,1022.3 878.7,1019.3 883.1,1016.8 887.8,1014.7 892.6,1013.2 897.6,1012.2 902.7,1011.8 907.8,1012.0 912.8,1012.9"/><path d="M893.7,1217.7 893.2,1212.7 892.5,1207.7 891.8,1202.7 891.0,1197.8 890.2,1192.8 889.3,1187.9 888.3,1183.0 887.2,1178.1 886.1,1173.2 884.9,1168.3 883.6,1163.4 882.3,1158.6 880.9,1153.8 879.5,1148.9 878.1,1144.1 876.7,1139.3 875.3,1134.5 873.9,1129.7 872.5,1124.8 871.2,1120.0 870.0,1115.1 868.9,1110.2 867.8,1105.3 866.9,1100.4 866.1,1095.4 865.5,1090.4 865.1,1085.4 864.8,1080.4 864.7,1075.4 864.9,1070.4 865.3,1065.4 865.9,1060.4 866.8,1055.5 868.0,1050.6 869.5,1045.8 871.2,1041.1 873.3,1036.5 875.7,1032.1 878.4,1027.9 881.4,1023.9 884.8,1020.1 888.4,1016.7 892.3,1013.5 896.5,1010.8 900.9,1008.4 905.6,1006.4 910.4,1005.0 915.3,1004.0 920.3,1003.6 925.3,1003.7 930.3,1004.3 935.2,1005.6"/><path d="M893.4,1217.6 893.0,1212.5 892.6,1207.5 892.2,1202.4 891.9,1197.4 891.5,1192.3 891.2,1187.3 890.8,1182.2 890.5,1177.2 890.1,1172.1 889.8,1167.1 889.5,1162.0 889.2,1157.0 888.9,1151.9 888.5,1146.8 888.2,1141.8 887.9,1136.7 887.6,1131.7 887.3,1126.6 887.1,1121.6 886.9,1116.5 886.8,1111.4 886.7,1106.4 886.7,1101.3 886.8,1096.2 887.1,1091.2 887.4,1086.1 887.9,1081.1 888.6,1076.1 889.4,1071.1 890.4,1066.1 891.6,1061.2 892.9,1056.3 894.5,1051.5 896.3,1046.7 898.3,1042.1 900.6,1037.6 903.1,1033.2 905.8,1028.9 908.8,1024.8 912.0,1020.9 915.5,1017.2 919.2,1013.7 923.1,1010.5 927.2,1007.6 931.6,1005.0 936.1,1002.7 940.8,1000.8 945.6,999.3 950.5,998.2 955.6,997.5 960.6,997.2"/><path d="M893.6,1218.2 893.4,1213.2 893.3,1208.2 893.3,1203.2 893.3,1198.2 893.4,1193.2 893.6,1188.2 893.8,1183.2 894.1,1178.2 894.5,1173.2 895.0,1168.2 895.5,1163.2 896.0,1158.2 896.5,1153.2 896.9,1148.3 897.4,1143.3 897.9,1138.3 898.4,1133.3 898.9,1128.3 899.5,1123.3 900.1,1118.4 900.8,1113.4 901.5,1108.5 902.4,1103.5 903.4,1098.6 904.5,1093.7 905.7,1088.9 907.2,1084.1 908.8,1079.3 910.6,1074.7 912.5,1070.1 914.7,1065.6 917.2,1061.2 919.8,1056.9 922.7,1052.8 925.8,1048.9 929.2,1045.2 932.8,1041.7 936.6,1038.5 940.7,1035.6 944.9,1032.9 949.4,1030.6 954.0,1028.7 958.8,1027.2 963.7,1026.1 968.7,1025.5 973.7,1025.4 978.7,1025.7 983.6,1026.5 988.4,1027.9 993.1,1029.7 997.5,1032.1 1001.6,1034.9"/><path d="M893.3,1218.4 893.6,1213.3 894.1,1208.3 894.9,1203.3 896.0,1198.3 897.4,1193.4 898.8,1188.5 900.3,1183.6 901.7,1178.8 903.2,1173.9 904.7,1169.0 906.1,1164.1 907.6,1159.3 909.0,1154.4 910.5,1149.5 911.9,1144.7 913.4,1139.8 914.9,1134.9 916.4,1130.1 917.9,1125.2 919.5,1120.4 921.2,1115.6 923.0,1110.8 924.8,1106.1 926.7,1101.3 928.8,1096.7 930.9,1092.1 933.2,1087.5 935.7,1083.1 938.3,1078.7 941.0,1074.4 943.9,1070.3 947.0,1066.2 950.3,1062.3 953.7,1058.5 957.3,1055.0 961.1,1051.6 965.1,1048.4 969.2,1045.5 973.6,1042.8 978.0,1040.4 982.6,1038.2 987.4,1036.4 992.3,1035.0 997.2,1033.8 1002.3,1033.1 1007.3,1032.7 1012.4,1032.8 1017.5,1033.3 1022.5,1034.2"/><path d="M894.4,1217.3 894.7,1212.2 895.3,1207.2 896.2,1202.2 897.3,1197.3 898.7,1192.4 900.4,1187.6 902.3,1183.0 904.5,1178.4 906.9,1173.9 909.2,1169.4 911.5,1164.9 913.8,1160.4 916.2,1155.9 918.5,1151.4 920.8,1146.9 923.1,1142.4 925.5,1137.9 927.8,1133.4 930.2,1129.0 932.6,1124.5 935.1,1120.1 937.7,1115.7 940.3,1111.4 943.0,1107.1 945.8,1102.9 948.7,1098.8 951.8,1094.7 954.9,1090.8 958.2,1086.9 961.6,1083.2 965.2,1079.6 968.9,1076.2 972.8,1072.9 976.8,1069.8 981.0,1066.9 985.3,1064.3 989.7,1061.9 994.3,1059.7 999.0,1057.8 1003.8,1056.2 1008.7,1054.9 1013.7,1054.0 1018.7,1053.4 1023.8,1053.2 1028.8,1053.4 1033.9,1054.0 1038.8,1054.9 1043.7,1056.3 1048.4,1058.1 1053.0,1060.4 1057.3,1063.0"/><path d="M910.9,1218.8 910.1,1213.8 909.2,1208.8 908.1,1203.8 906.7,1198.9 905.2,1194.0 903.6,1189.2 901.7,1184.4 899.7,1179.8 897.5,1175.2 895.1,1170.6 892.6,1166.2 889.9,1161.9 887.1,1157.6 884.3,1153.4 881.5,1149.1 878.7,1144.8 876.0,1140.5 873.2,1136.2 870.6,1131.9 868.0,1127.5 865.4,1123.1 863.0,1118.6 860.7,1114.1 858.5,1109.5 856.5,1104.8 854.6,1100.1 852.9,1095.2 851.5,1090.4 850.2,1085.4 849.2,1080.4 848.5,1075.4 848.1,1070.3 847.9,1065.2 848.1,1060.1 848.7,1055.0 849.6,1050.0 850.9,1045.1 852.5,1040.3 854.6,1035.6 857.0,1031.1 859.8,1026.9 863.0,1022.9 866.6,1019.2 870.5,1016.0 874.7,1013.1 879.2,1010.7 883.9,1008.8 888.8,1007.4 893.9,1006.7"/><path d="M909.7,1220.9 909.1,1215.9 908.4,1210.9 907.6,1206.0 906.6,1201.0 905.6,1196.1 904.4,1191.2 903.1,1186.4 901.7,1181.6 900.2,1176.8 898.6,1172.0 896.9,1167.3 895.0,1162.6 893.1,1158.0 891.1,1153.4 889.1,1148.7 887.2,1144.1 885.2,1139.5 883.3,1134.8 881.4,1130.2 879.6,1125.5 877.9,1120.8 876.2,1116.0 874.7,1111.2 873.3,1106.4 872.1,1101.5 871.1,1096.6 870.2,1091.7 869.5,1086.7 869.1,1081.7 868.9,1076.6 868.9,1071.6 869.2,1066.6 869.9,1061.6 870.8,1056.7 872.1,1051.8 873.6,1047.0 875.6,1042.4 877.8,1037.9 880.5,1033.6 883.4,1029.6 886.8,1025.8 890.4,1022.3 894.3,1019.2 898.5,1016.5 903.0,1014.2 907.7,1012.4 912.6,1011.1 917.5,1010.3 922.6,1010.1 927.6,1010.5"/><path d="M909.0,1220.4 908.5,1215.4 908.0,1210.5 907.3,1205.5 906.6,1200.6 905.8,1195.6 904.9,1190.7 904.0,1185.8 903.0,1180.9 901.9,1176.0 900.7,1171.1 899.5,1166.3 898.2,1161.5 896.8,1156.7 895.4,1151.9 893.9,1147.1 892.5,1142.3 891.1,1137.5 889.7,1132.7 888.4,1127.8 887.1,1123.0 885.9,1118.2 884.7,1113.3 883.6,1108.4 882.7,1103.5 881.8,1098.6 881.1,1093.6 880.6,1088.6 880.2,1083.7 879.9,1078.7 879.9,1073.7 880.1,1068.7 880.5,1063.7 881.1,1058.7 882.0,1053.8 883.1,1048.9 884.5,1044.1 886.2,1039.4 888.1,1034.8 890.3,1030.3 892.9,1026.0 895.7,1021.8 898.8,1017.9 902.2,1014.2 905.8,1010.8 909.7,1007.7 913.9,1005.0 918.3,1002.5 922.9,1000.5 927.6,998.9 932.5,997.8 937.4,997.2"/><path d="M908.6,1220.9 908.3,1215.8 908.1,1210.7 907.9,1205.6 907.6,1200.5 907.4,1195.4 907.2,1190.3 907.1,1185.2 906.9,1180.1 906.8,1175.0 906.7,1169.9 906.5,1164.8 906.4,1159.7 906.3,1154.7 906.1,1149.6 906.0,1144.5 905.9,1139.4 905.8,1134.3 905.7,1129.2 905.7,1124.1 905.8,1119.0 906.0,1113.9 906.3,1108.8 906.8,1103.7 907.4,1098.6 908.1,1093.6 909.1,1088.6 910.2,1083.6 911.6,1078.7 913.2,1073.8 915.0,1069.1 917.1,1064.4 919.4,1059.9 922.1,1055.5 925.0,1051.3 928.1,1047.3 931.6,1043.6 935.3,1040.1 939.3,1036.9 943.5,1034.1 948.0,1031.6 952.6,1029.5 957.4,1027.8 962.4,1026.6 967.4,1026.0 972.5,1025.8 977.6,1026.2 982.6,1027.1 987.5,1028.6"/><path d="M909.5,1219.7 909.5,1214.7 909.6,1209.6 909.9,1204.6 910.2,1199.6 910.7,1194.6 911.3,1189.6 912.0,1184.6 912.6,1179.6 913.3,1174.6 913.9,1169.6 914.6,1164.6 915.2,1159.7 915.9,1154.7 916.6,1149.7 917.2,1144.7 917.9,1139.7 918.5,1134.7 919.1,1129.7 919.7,1124.7 920.3,1119.7 920.8,1114.7 921.3,1109.7 921.7,1104.7 922.0,1099.7 922.3,1094.7 922.5,1089.6 922.6,1084.6 922.6,1079.6 922.5,1074.5 922.3,1069.5 922.0,1064.5 921.5,1059.5 920.9,1054.5 920.2,1049.5 919.3,1044.6 918.2,1039.6 917.0,1034.8 915.6,1029.9 914.1,1025.1 912.3,1020.4 910.4,1015.8 908.3,1011.2 906.0,1006.8 903.4,1002.4 900.7,998.2 897.8,994.1 894.7,990.1 891.4,986.3 887.9,982.7"/><path d="M910.5,1220.3 910.8,1215.3 911.3,1210.3 912.0,1205.3 913.0,1200.3 914.2,1195.4 915.6,1190.6 917.2,1185.8 918.9,1181.1 920.5,1176.3 922.1,1171.5 923.8,1166.8 925.4,1162.0 927.0,1157.2 928.7,1152.5 930.3,1147.7 931.9,1142.9 933.6,1138.2 935.3,1133.4 937.0,1128.7 938.8,1124.0 940.7,1119.3 942.6,1114.7 944.7,1110.1 946.9,1105.6 949.2,1101.1 951.7,1096.7 954.4,1092.4 957.2,1088.3 960.2,1084.2 963.4,1080.3 966.7,1076.6 970.3,1073.0 974.1,1069.7 978.1,1066.6 982.2,1063.7 986.6,1061.2 991.1,1058.9 995.7,1057.0 1000.5,1055.5 1005.5,1054.4 1010.4,1053.6 1015.5,1053.4 1020.5,1053.5 1025.5,1054.2 1030.4,1055.3 1035.2,1056.9 1039.8,1059.1 1044.1,1061.7 1048.1,1064.7 1051.7,1068.2"/><path d="M910.4,1220.9 910.6,1215.9 911.0,1210.8 911.6,1205.8 912.5,1200.8 913.5,1195.8 914.7,1190.9 916.1,1186.0 917.7,1181.2 919.5,1176.5 921.5,1171.8 923.7,1167.2 925.9,1162.7 928.2,1158.2 930.5,1153.6 932.7,1149.1 935.0,1144.6 937.3,1140.1 939.6,1135.6 942.0,1131.1 944.5,1126.7 947.1,1122.3 949.8,1118.0 952.6,1113.8 955.6,1109.7 958.7,1105.7 962.0,1101.8 965.4,1098.1 969.0,1094.6 972.8,1091.2 976.8,1088.1 981.0,1085.2 985.3,1082.6 989.9,1080.3 994.5,1078.4 999.3,1076.8 1004.3,1075.6 1009.3,1074.8 1014.3,1074.4 1019.4,1074.6 1024.4,1075.2 1029.4,1076.3 1034.2,1077.9 1038.8,1080.0 1043.1,1082.6 1047.1,1085.7 1050.7,1089.3 1053.9,1093.2 1056.5,1097.6"/><path d="M926.3,1221.4 925.5,1216.4 924.4,1211.5 923.0,1206.6 921.4,1201.8 919.6,1197.0 917.6,1192.4 915.3,1187.9 912.9,1183.4 910.2,1179.1 907.3,1175.0 904.3,1170.9 901.3,1166.8 898.4,1162.7 895.4,1158.6 892.4,1154.5 889.4,1150.4 886.5,1146.3 883.6,1142.1 880.7,1137.9 877.9,1133.7 875.3,1129.4 872.7,1125.0 870.2,1120.6 867.9,1116.1 865.7,1111.5 863.7,1106.9 861.9,1102.1 860.4,1097.3 859.1,1092.4 858.0,1087.4 857.2,1082.4 856.8,1077.4 856.6,1072.3 856.8,1067.3 857.4,1062.2 858.3,1057.3 859.7,1052.4 861.4,1047.6 863.6,1043.0 866.1,1038.6 869.1,1034.5 872.4,1030.7 876.1,1027.2 880.2,1024.2 884.5,1021.6 889.1,1019.5 894.0,1018.0 898.9,1017.0"/><path d="M927.3,1220.0 926.3,1215.0 924.9,1210.1 923.3,1205.4 921.4,1200.7 919.3,1196.1 917.1,1191.5 915.0,1186.9 912.9,1182.3 910.8,1177.7 908.7,1173.1 906.6,1168.5 904.5,1163.9 902.4,1159.3 900.3,1154.7 898.2,1150.1 896.1,1145.5 894.1,1140.9 892.1,1136.2 890.1,1131.6 888.2,1126.9 886.5,1122.1 884.8,1117.4 883.3,1112.5 881.9,1107.7 880.7,1102.7 879.7,1097.8 878.9,1092.8 878.4,1087.8 878.1,1082.7 878.1,1077.7 878.4,1072.6 878.9,1067.6 879.9,1062.6 881.1,1057.7 882.7,1052.9 884.7,1048.3 887.1,1043.8 889.8,1039.5 892.9,1035.5 896.3,1031.8 900.1,1028.4 904.2,1025.4 908.5,1022.9 913.1,1020.8 918.0,1019.3 922.9,1018.3 928.0,1017.9 933.0,1018.2"/><path d="M927.0,1221.2 926.5,1216.1 926.0,1211.1 925.3,1206.1 924.7,1201.0 923.9,1196.0 923.1,1191.0 922.2,1186.0 921.2,1181.0 920.2,1176.0 919.0,1171.1 917.9,1166.1 916.6,1161.2 915.3,1156.3 913.9,1151.4 912.6,1146.5 911.2,1141.6 909.9,1136.7 908.5,1131.8 907.3,1126.9 906.1,1121.9 904.9,1117.0 903.9,1112.0 903.0,1107.0 902.2,1102.0 901.5,1097.0 901.0,1091.9 900.6,1086.8 900.4,1081.8 900.5,1076.7 900.7,1071.6 901.2,1066.5 901.9,1061.5 902.9,1056.5 904.1,1051.6 905.7,1046.8 907.5,1042.0 909.6,1037.4 912.0,1032.9 914.8,1028.6 917.8,1024.6 921.2,1020.7 924.8,1017.2 928.7,1013.9 932.9,1011.0 937.3,1008.5 941.9,1006.4 946.7,1004.7 951.6,1003.5 956.6,1002.8 961.7,1002.6"/><path d="M925.1,1221.6 924.9,1216.5 924.6,1211.5 924.3,1206.4 924.0,1201.4 923.7,1196.3 923.3,1191.3 923.0,1186.3 922.7,1181.2 922.4,1176.2 922.1,1171.1 921.8,1166.1 921.4,1161.0 921.1,1156.0 920.8,1151.0 920.5,1145.9 920.2,1140.9 919.9,1135.8 919.7,1130.8 919.5,1125.7 919.4,1120.7 919.4,1115.6 919.5,1110.6 919.8,1105.5 920.2,1100.5 920.7,1095.5 921.5,1090.5 922.4,1085.5 923.6,1080.6 925.0,1075.7 926.6,1070.9 928.4,1066.2 930.6,1061.6 933.0,1057.2 935.7,1052.9 938.6,1048.8 941.9,1044.9 945.4,1041.3 949.2,1038.0 953.2,1034.9 957.5,1032.2 962.0,1029.9 966.7,1028.1 971.5,1026.6 976.5,1025.7 981.5,1025.2 986.6,1025.3 991.6,1025.9 996.5,1027.1"/><path d="M927.5,1221.3 927.4,1216.3 927.3,1211.3 927.4,1206.3 927.5,1201.3 927.6,1196.3 927.9,1191.3 928.2,1186.3 928.6,1181.3 929.0,1176.4 929.5,1171.4 930.1,1166.4 930.8,1161.5 931.4,1156.5 932.1,1151.6 932.8,1146.6 933.4,1141.6 934.1,1136.7 934.8,1131.7 935.5,1126.8 936.3,1121.9 937.2,1116.9 938.1,1112.0 939.2,1107.1 940.3,1102.3 941.6,1097.4 942.9,1092.6 944.5,1087.8 946.2,1083.1 948.0,1078.5 950.1,1073.9 952.3,1069.4 954.7,1065.1 957.3,1060.8 960.1,1056.7 963.1,1052.7 966.4,1048.9 969.8,1045.2 973.5,1041.8 977.3,1038.7 981.4,1035.7 985.6,1033.1 990.1,1030.8 994.6,1028.8 999.4,1027.1 1004.2,1025.9 1009.1,1025.0 1014.1,1024.6 1019.1,1024.6 1024.1,1025.0 1029.0,1025.9"/><path d="M927.3,1221.3 927.3,1216.2 927.4,1211.1 927.6,1206.1 928.0,1201.0 928.4,1195.9 928.9,1190.9 929.6,1185.8 930.4,1180.8 931.2,1175.8 932.2,1170.8 933.3,1165.8 934.5,1160.9 935.8,1156.0 937.2,1151.1 938.5,1146.2 939.8,1141.3 941.2,1136.3 942.5,1131.4 943.7,1126.5 944.9,1121.6 946.1,1116.6 947.2,1111.6 948.2,1106.7 949.2,1101.7 950.0,1096.7 950.8,1091.6 951.4,1086.6 951.9,1081.5 952.3,1076.4 952.6,1071.4 952.7,1066.3 952.6,1061.2 952.4,1056.1 952.0,1051.1 951.4,1046.0 950.6,1041.0 949.6,1036.0 948.4,1031.0 947.0,1026.2 945.3,1021.3 943.5,1016.6 941.4,1012.0 939.0,1007.5 936.5,1003.1 933.7,998.8 930.6,994.8 927.3,990.9"/><path d="M926.4,1220.7 926.6,1215.6 927.1,1210.5 927.8,1205.5 928.7,1200.5 929.8,1195.5 931.2,1190.6 932.7,1185.7 934.4,1180.9 936.4,1176.2 938.5,1171.6 940.9,1167.1 943.3,1162.6 945.7,1158.1 948.1,1153.6 950.5,1149.1 953.0,1144.6 955.4,1140.1 957.9,1135.7 960.5,1131.3 963.2,1127.0 965.9,1122.7 968.8,1118.5 971.8,1114.4 975.0,1110.4 978.3,1106.5 981.8,1102.7 985.4,1099.2 989.2,1095.8 993.2,1092.6 997.4,1089.7 1001.8,1087.1 1006.3,1084.7 1011.0,1082.7 1015.8,1081.0 1020.7,1079.7 1025.7,1078.9 1030.8,1078.4 1035.9,1078.4 1041.0,1078.9 1046.0,1079.9 1050.9,1081.5 1055.6,1083.5 1060.0,1086.0 1064.1,1089.0 1067.8,1092.5 1071.1,1096.4 1073.9,1100.6"/><path d="M942.3,1223.3 941.3,1218.4 940.1,1213.5 938.8,1208.7 937.2,1203.9 935.5,1199.1 933.7,1194.5 931.6,1189.9 929.4,1185.4 927.0,1180.9 924.4,1176.6 921.7,1172.4 918.9,1168.2 915.9,1164.2 912.9,1160.2 909.8,1156.2 906.8,1152.1 903.9,1148.1 900.9,1144.0 898.0,1139.9 895.2,1135.7 892.5,1131.5 889.8,1127.2 887.3,1122.9 884.9,1118.4 882.7,1114.0 880.6,1109.4 878.6,1104.7 876.9,1100.0 875.4,1095.2 874.1,1090.3 873.1,1085.4 872.4,1080.4 871.9,1075.4 871.8,1070.4 872.0,1065.4 872.5,1060.4 873.4,1055.4 874.6,1050.6 876.2,1045.8 878.2,1041.2 880.6,1036.8 883.4,1032.6 886.5,1028.6 890.0,1025.0 893.9,1021.8 898.0,1018.9 902.4,1016.5"/><path d="M940.9,1223.6 939.9,1218.7 938.6,1213.8 937.1,1209.0 935.4,1204.3 933.4,1199.7 931.3,1195.2 929.0,1190.7 926.7,1186.2 924.5,1181.8 922.2,1177.3 919.9,1172.8 917.6,1168.4 915.3,1163.9 913.1,1159.4 910.8,1155.0 908.5,1150.5 906.2,1146.0 904.0,1141.6 901.8,1137.1 899.6,1132.5 897.5,1128.0 895.5,1123.4 893.6,1118.8 891.8,1114.1 890.1,1109.4 888.5,1104.6 887.1,1099.8 885.8,1095.0 884.7,1090.1 883.8,1085.1 883.1,1080.2 882.6,1075.2 882.4,1070.2 882.4,1065.2 882.6,1060.2 883.2,1055.2 884.0,1050.2 885.1,1045.4 886.6,1040.5 888.3,1035.9 890.4,1031.3 892.8,1026.9 895.5,1022.7 898.5,1018.7 901.9,1014.9 905.5,1011.5 909.5,1008.4 913.6,1005.6 918.1,1003.3 922.7,1001.3"/><path d="M941.1,1222.0 940.3,1217.0 939.3,1212.1 938.2,1207.2 937.0,1202.4 935.6,1197.6 934.2,1192.8 932.6,1188.0 931.1,1183.3 929.5,1178.5 928.0,1173.8 926.4,1169.0 924.9,1164.3 923.3,1159.5 921.8,1154.7 920.2,1150.0 918.7,1145.2 917.1,1140.5 915.7,1135.7 914.2,1130.9 912.9,1126.1 911.6,1121.2 910.4,1116.4 909.4,1111.5 908.5,1106.6 907.8,1101.6 907.2,1096.6 906.9,1091.7 906.8,1086.7 906.9,1081.6 907.2,1076.7 907.8,1071.7 908.8,1066.8 910.0,1061.9 911.5,1057.2 913.3,1052.5 915.5,1048.0 918.0,1043.7 920.8,1039.5 924.0,1035.7 927.5,1032.1 931.3,1028.8 935.3,1025.9 939.7,1023.4 944.2,1021.4 949.0,1019.8 953.9,1018.8 958.9,1018.3 963.9,1018.3 968.8,1019.0"/><path d="M941.4,1221.2 940.9,1216.2 940.3,1211.1 939.7,1206.1 939.0,1201.1 938.4,1196.0 937.7,1191.0 937.0,1185.9 936.3,1180.9 935.6,1175.9 934.9,1170.9 934.1,1165.8 933.4,1160.8 932.6,1155.8 931.8,1150.8 931.0,1145.8 930.2,1140.7 929.4,1135.7 928.7,1130.7 928.0,1125.7 927.4,1120.6 926.9,1115.6 926.5,1110.5 926.2,1105.4 926.0,1100.3 926.0,1095.3 926.2,1090.2 926.5,1085.1 927.0,1080.1 927.8,1075.0 928.8,1070.1 930.0,1065.1 931.5,1060.3 933.2,1055.5 935.2,1050.8 937.5,1046.3 940.1,1041.9 943.0,1037.8 946.2,1033.8 949.7,1030.1 953.4,1026.6 957.4,1023.5 961.7,1020.7 966.1,1018.3 970.8,1016.4 975.7,1014.8 980.6,1013.8 985.7,1013.2 990.8,1013.2 995.8,1013.7"/><path d="M942.2,1221.2 941.8,1216.2 941.5,1211.2 941.3,1206.1 941.1,1201.1 941.0,1196.0 941.0,1191.0 941.0,1185.9 941.1,1180.9 941.2,1175.8 941.5,1170.8 941.7,1165.7 942.0,1160.7 942.2,1155.7 942.5,1150.6 942.7,1145.6 943.0,1140.5 943.3,1135.5 943.6,1130.5 944.0,1125.4 944.5,1120.4 945.0,1115.4 945.7,1110.4 946.6,1105.4 947.6,1100.5 948.8,1095.5 950.1,1090.7 951.7,1085.9 953.5,1081.2 955.6,1076.6 957.9,1072.1 960.4,1067.7 963.2,1063.5 966.3,1059.5 969.7,1055.8 973.3,1052.3 977.2,1049.1 981.4,1046.2 985.8,1043.7 990.4,1041.6 995.1,1039.9 1000.0,1038.7 1005.0,1038.0 1010.1,1037.9 1015.1,1038.3 1020.1,1039.2 1024.9,1040.7 1029.5,1042.8 1033.8,1045.5 1037.7,1048.7"/><path d="M942.2,1223.5 942.0,1218.4 942.0,1213.3 942.2,1208.2 942.4,1203.1 942.9,1198.0 943.5,1192.9 944.2,1187.9 945.1,1182.9 946.1,1177.9 947.3,1172.9 948.6,1168.0 950.1,1163.1 951.6,1158.2 953.2,1153.3 954.7,1148.5 956.2,1143.6 957.8,1138.8 959.4,1133.9 961.1,1129.1 962.8,1124.3 964.6,1119.5 966.6,1114.8 968.6,1110.2 970.8,1105.5 973.1,1101.0 975.6,1096.5 978.3,1092.2 981.1,1087.9 984.1,1083.8 987.3,1079.8 990.7,1076.0 994.2,1072.4 998.0,1069.0 1002.0,1065.8 1006.2,1062.8 1010.5,1060.2 1015.1,1057.8 1019.8,1055.8 1024.6,1054.2 1029.5,1052.9 1034.5,1052.0 1039.6,1051.6 1044.7,1051.6 1049.8,1052.1 1054.8,1053.0 1059.7,1054.4 1064.4,1056.3"/><path d="M942.8,1222.4 942.7,1217.3 942.8,1212.3 943.1,1207.3 943.6,1202.2 944.2,1197.2 945.0,1192.3 946.0,1187.3 947.2,1182.4 948.5,1177.6 950.0,1172.8 951.7,1168.0 953.5,1163.3 955.5,1158.7 957.6,1154.1 959.7,1149.5 961.8,1144.9 963.9,1140.4 966.0,1135.8 968.2,1131.3 970.5,1126.8 972.9,1122.4 975.4,1118.0 978.1,1113.7 980.8,1109.5 983.7,1105.4 986.8,1101.4 990.0,1097.5 993.5,1093.8 997.1,1090.3 1000.9,1087.0 1004.8,1083.9 1009.0,1081.1 1013.4,1078.5 1017.9,1076.3 1022.5,1074.4 1027.3,1072.9 1032.2,1071.7 1037.2,1071.0 1042.3,1070.7 1047.3,1070.9 1052.3,1071.6 1057.2,1072.8 1061.9,1074.4 1066.5,1076.6 1070.8,1079.3 1074.7,1082.4 1078.2,1086.0 1081.3,1090.0"/><path d="M957.9,1224.8 957.0,1219.8 955.9,1214.9 954.5,1210.0 952.9,1205.2 951.1,1200.5 949.0,1195.9 946.8,1191.4 944.3,1187.0 941.6,1182.7 938.7,1178.6 935.7,1174.5 932.7,1170.5 929.6,1166.4 926.6,1162.4 923.6,1158.3 920.6,1154.2 917.6,1150.2 914.7,1146.0 911.8,1141.9 909.0,1137.7 906.2,1133.5 903.6,1129.1 901.0,1124.8 898.6,1120.3 896.4,1115.8 894.2,1111.3 892.3,1106.6 890.5,1101.9 888.9,1097.1 887.6,1092.2 886.5,1087.3 885.6,1082.3 885.0,1077.3 884.8,1072.2 884.8,1067.2 885.1,1062.1 885.8,1057.1 886.8,1052.2 888.2,1047.3 890.0,1042.6 892.1,1038.0 894.6,1033.6 897.4,1029.4 900.6,1025.5 904.2,1021.9 908.1,1018.7"/><path d="M956.7,1223.1 956.1,1218.1 955.4,1213.0 954.6,1208.0 953.6,1203.0 952.6,1198.0 951.4,1193.0 950.1,1188.1 948.7,1183.2 947.2,1178.4 945.5,1173.5 943.8,1168.7 941.9,1164.0 940.0,1159.3 937.9,1154.6 935.9,1150.0 933.8,1145.3 931.8,1140.6 929.8,1135.9 928.0,1131.2 926.1,1126.4 924.4,1121.6 922.9,1116.8 921.4,1111.9 920.2,1106.9 919.1,1102.0 918.2,1096.9 917.6,1091.9 917.2,1086.8 917.1,1081.7 917.2,1076.6 917.7,1071.5 918.5,1066.5 919.7,1061.5 921.2,1056.7 923.1,1052.0 925.4,1047.4 928.0,1043.0 931.1,1038.9 934.4,1035.1 938.2,1031.7 942.3,1028.6 946.6,1026.0 951.3,1023.9 956.1,1022.3 961.1,1021.2 966.2,1020.8 971.3,1021.0 976.3,1021.9"/><path d="M956.7,1224.7 956.1,1219.6 955.5,1214.6 954.7,1209.5 953.9,1204.5 952.9,1199.5 951.9,1194.5 950.7,1189.6 949.5,1184.7 948.2,1179.7 946.9,1174.8 945.6,1169.9 944.3,1165.0 943.0,1160.1 941.7,1155.1 940.4,1150.2 939.2,1145.3 937.9,1140.4 936.7,1135.4 935.5,1130.5 934.4,1125.5 933.4,1120.5 932.4,1115.5 931.6,1110.5 930.9,1105.5 930.3,1100.4 929.9,1095.4 929.6,1090.3 929.5,1085.2 929.5,1080.1 929.8,1075.0 930.3,1070.0 931.0,1064.9 931.9,1059.9 933.1,1055.0 934.5,1050.1 936.2,1045.3 938.2,1040.6 940.5,1036.1 943.0,1031.7 945.8,1027.4 948.9,1023.4 952.3,1019.6 955.9,1016.0 959.8,1012.7 964.0,1009.8 968.3,1007.2 972.9,1004.9"/><path d="M959.4,1223.2 959.1,1218.1 958.8,1213.0 958.5,1207.9 958.1,1202.8 957.8,1197.7 957.5,1192.6 957.1,1187.5 956.8,1182.4 956.5,1177.3 956.1,1172.3 955.8,1167.2 955.4,1162.1 955.1,1157.0 954.8,1151.9 954.4,1146.8 954.1,1141.7 953.8,1136.6 953.5,1131.5 953.3,1126.4 953.2,1121.3 953.1,1116.2 953.2,1111.1 953.3,1106.0 953.6,1100.9 954.0,1095.8 954.5,1090.8 955.2,1085.7 956.1,1080.7 957.2,1075.7 958.5,1070.8 959.9,1065.9 961.6,1061.1 963.6,1056.4 965.7,1051.7 968.1,1047.2 970.8,1042.9 973.7,1038.7 976.9,1034.7 980.3,1030.9 983.9,1027.3 987.8,1024.0 991.9,1021.0 996.3,1018.3 1000.8,1016.0 1005.5,1014.0 1010.4,1012.4 1015.3,1011.3"/><path d="M959.2,1222.1 959.2,1217.1 959.4,1212.1 959.7,1207.1 960.2,1202.1 960.8,1197.2 961.4,1192.2 961.9,1187.2 962.5,1182.2 963.1,1177.3 963.7,1172.3 964.3,1167.3 964.9,1162.3 965.5,1157.4 966.1,1152.4 966.6,1147.4 967.2,1142.5 967.9,1137.5 968.6,1132.5 969.3,1127.6 970.1,1122.6 971.0,1117.7 972.0,1112.8 973.2,1107.9 974.4,1103.1 975.9,1098.3 977.5,1093.5 979.2,1088.8 981.2,1084.2 983.3,1079.7 985.7,1075.3 988.3,1071.0 991.1,1066.9 994.1,1062.9 997.4,1059.1 1000.9,1055.5 1004.7,1052.2 1008.6,1049.1 1012.8,1046.3 1017.1,1043.9 1021.7,1041.8 1026.4,1040.1 1031.2,1038.7 1036.2,1037.8 1041.1,1037.4 1046.1,1037.4 1051.1,1038.0 1056.0,1039.0"/><path d="M957.9,1223.8 958.0,1218.7 958.2,1213.6 958.5,1208.6 959.0,1203.5 959.6,1198.5 960.4,1193.4 961.3,1188.4 962.3,1183.4 963.5,1178.5 964.8,1173.6 966.2,1168.7 967.6,1163.8 969.0,1158.9 970.5,1154.0 971.9,1149.1 973.3,1144.2 974.8,1139.4 976.4,1134.5 978.0,1129.7 979.7,1124.9 981.5,1120.2 983.5,1115.5 985.6,1110.9 987.9,1106.3 990.4,1101.9 993.1,1097.5 995.9,1093.3 999.0,1089.3 1002.3,1085.4 1005.9,1081.7 1009.6,1078.3 1013.6,1075.1 1017.8,1072.3 1022.2,1069.7 1026.8,1067.5 1031.5,1065.7 1036.4,1064.3 1041.4,1063.4 1046.5,1062.9 1051.6,1063.0 1056.7,1063.6 1061.6,1064.7 1066.4,1066.3 1071.0,1068.5 1075.3,1071.3 1079.2,1074.5"/><path d="M957.5,1224.8 957.8,1219.8 958.3,1214.8 959.1,1209.8 960.1,1204.9 961.4,1200.0 962.9,1195.1 964.6,1190.4 966.5,1185.7 968.7,1181.2 970.9,1176.7 973.1,1172.1 975.3,1167.6 977.6,1163.1 979.8,1158.6 982.0,1154.0 984.3,1149.5 986.6,1145.0 988.9,1140.6 991.4,1136.2 993.9,1131.8 996.6,1127.5 999.4,1123.3 1002.3,1119.3 1005.4,1115.3 1008.7,1111.4 1012.2,1107.8 1015.8,1104.3 1019.7,1101.0 1023.7,1098.0 1027.9,1095.3 1032.4,1092.9 1036.9,1090.8 1041.7,1089.0 1046.6,1087.7 1051.5,1086.8 1056.5,1086.4 1061.6,1086.5 1066.6,1087.1 1071.5,1088.2 1076.3,1089.8 1080.8,1092.0 1085.1,1094.7 1089.0,1097.9 1092.5,1101.5 1095.4,1105.6 1097.8,1110.1"/><path d="M974.7,1224.7 973.7,1219.7 972.5,1214.8 971.1,1210.0 969.4,1205.2 967.5,1200.5 965.4,1195.9 963.2,1191.4 960.7,1187.0 958.0,1182.7 955.1,1178.6 952.0,1174.6 948.9,1170.6 945.7,1166.7 942.6,1162.7 939.4,1158.8 936.3,1154.8 933.2,1150.9 930.0,1146.9 926.9,1142.9 923.8,1138.9 920.7,1134.9 917.7,1130.9 914.6,1126.9 911.6,1122.8 908.6,1118.8 905.6,1114.7 902.7,1110.5 899.8,1106.4 897.0,1102.2 894.2,1098.0 891.5,1093.8 888.8,1089.5 886.1,1085.2 883.5,1080.8 881.0,1076.5 878.6,1072.1 876.2,1067.6 873.9,1063.1 871.6,1058.6 869.5,1054.0 867.4,1049.4 865.4,1044.8 863.5,1040.1 861.7,1035.4 860.0,1030.6 858.4,1025.8"/><path d="M975.2,1224.2 974.1,1219.3 972.7,1214.4 970.9,1209.6 969.0,1205.0 966.7,1200.4 964.4,1195.9 962.1,1191.4 959.7,1186.9 957.4,1182.4 955.1,1177.9 952.8,1173.4 950.4,1168.9 948.1,1164.3 945.8,1159.8 943.5,1155.3 941.1,1150.8 938.8,1146.3 936.6,1141.8 934.3,1137.2 932.1,1132.7 929.9,1128.1 927.7,1123.5 925.6,1118.9 923.5,1114.2 921.5,1109.6 919.5,1104.9 917.7,1100.2 915.9,1095.4 914.1,1090.7 912.5,1085.9 911.0,1081.0 909.5,1076.2 908.2,1071.3 906.9,1066.4 905.8,1061.4 904.9,1056.4 904.0,1051.4 903.3,1046.4 902.7,1041.3 902.3,1036.3 902.1,1031.2 902.0,1026.1 902.1,1021.1 902.3,1016.0 902.8,1010.9 903.4,1005.9"/><path d="M972.9,1225.0 972.3,1220.0 971.6,1215.0 970.9,1209.9 970.1,1204.9 969.2,1199.9 968.2,1194.9 967.2,1189.9 966.2,1185.0 965.0,1180.0 963.8,1175.1 962.5,1170.1 961.2,1165.2 959.8,1160.4 958.4,1155.5 957.0,1150.6 955.6,1145.7 954.3,1140.8 952.9,1135.9 951.6,1131.0 950.3,1126.1 949.0,1121.1 947.8,1116.2 946.6,1111.3 945.5,1106.3 944.4,1101.4 943.4,1096.4 942.4,1091.4 941.5,1086.4 940.7,1081.4 940.0,1076.3 939.3,1071.3 938.8,1066.2 938.3,1061.2 937.9,1056.1 937.7,1051.0 937.6,1045.9 937.5,1040.9 937.6,1035.8 937.9,1030.7 938.2,1025.6 938.7,1020.6 939.4,1015.5 940.2,1010.5 941.1,1005.5 942.3,1000.6"/><path d="M973.3,1223.3 972.9,1218.3 972.4,1213.2 972.0,1208.2 971.6,1203.1 971.1,1198.1 970.7,1193.1 970.2,1188.0 969.8,1183.0 969.3,1178.0 968.9,1172.9 968.4,1167.9 968.0,1162.8 967.5,1157.8 967.1,1152.8 966.6,1147.7 966.1,1142.7 965.7,1137.7 965.1,1132.6 964.6,1127.6 963.9,1122.6 963.2,1117.6 962.4,1112.6 961.5,1107.6 960.5,1102.7 959.4,1097.7 958.2,1092.8 956.8,1088.0 955.2,1083.1 953.5,1078.4 951.7,1073.7 949.6,1069.1 947.4,1064.5 944.9,1060.1 942.3,1055.8 939.4,1051.6 936.4,1047.6 933.1,1043.7 929.6,1040.0 926.0,1036.6 922.1,1033.3 918.0,1030.4 913.7,1027.7 909.3,1025.2 904.7,1023.2 899.9,1021.4 895.0,1020.0 890.1,1019.0"/><path d="M975.5,1225.7 975.3,1220.7 975.3,1215.7 975.4,1210.7 975.6,1205.7 975.9,1200.7 976.3,1195.7 976.8,1190.7 977.3,1185.7 977.9,1180.7 978.4,1175.8 978.9,1170.8 979.5,1165.8 980.0,1160.8 980.5,1155.8 981.1,1150.8 981.6,1145.9 982.1,1140.9 982.6,1135.9 983.0,1130.9 983.5,1125.9 983.8,1120.9 984.2,1115.9 984.4,1110.9 984.6,1105.9 984.8,1100.9 984.8,1095.9 984.7,1090.9 984.6,1085.9 984.3,1080.9 984.0,1075.9 983.5,1070.9 982.9,1065.9 982.1,1061.0 981.3,1056.0 980.2,1051.1 979.0,1046.3 977.7,1041.4 976.2,1036.7 974.5,1031.9 972.6,1027.3 970.6,1022.7 968.3,1018.2 965.9,1013.8 963.3,1009.6 960.5,1005.4 957.5,1001.4 954.3,997.5"/><path d="M975.1,1226.2 975.0,1221.1 975.0,1216.1 975.2,1211.1 975.4,1206.1 975.8,1201.1 976.3,1196.1 976.9,1191.1 977.6,1186.1 978.5,1181.1 979.5,1176.2 980.6,1171.3 981.8,1166.4 983.2,1161.6 984.6,1156.8 986.0,1152.0 987.4,1147.1 988.9,1142.3 990.3,1137.5 991.8,1132.7 993.3,1127.9 994.9,1123.1 996.4,1118.4 998.1,1113.6 999.8,1108.9 1001.5,1104.2 1003.4,1099.5 1005.3,1094.8 1007.2,1090.2 1009.3,1085.6 1011.4,1081.1 1013.7,1076.6 1016.0,1072.1 1018.4,1067.7 1021.0,1063.4 1023.6,1059.1 1026.4,1054.9 1029.3,1050.8 1032.3,1046.8 1035.4,1042.8 1038.6,1039.0 1042.0,1035.3 1045.5,1031.7 1049.1,1028.2 1052.9,1024.8 1056.7,1021.6 1060.7,1018.6"/><path d="M974.1,1223.5 974.5,1218.4 975.4,1213.4 976.6,1208.5 978.2,1203.6 980.1,1198.9 982.2,1194.3 984.3,1189.7 986.3,1185.1 988.4,1180.4 990.5,1175.8 992.6,1171.2 994.7,1166.5 996.8,1161.9 998.9,1157.3 1001.0,1152.7 1003.1,1148.0 1005.2,1143.4 1007.3,1138.8 1009.5,1134.2 1011.6,1129.6 1013.8,1125.0 1016.0,1120.4 1018.2,1115.9 1020.5,1111.3 1022.8,1106.8 1025.1,1102.3 1027.5,1097.8 1029.9,1093.4 1032.4,1088.9 1035.0,1084.5 1037.6,1080.2 1040.2,1075.8 1042.9,1071.5 1045.7,1067.3 1048.6,1063.1 1051.5,1058.9 1054.5,1054.8 1057.5,1050.8 1060.7,1046.8 1063.9,1042.9 1067.2,1039.0 1070.6,1035.3 1074.1,1031.5 1077.6,1027.9 1081.3,1024.4 1085.0,1020.9"/><path d="M990.7,1224.8 989.4,1219.9 987.7,1215.2 985.7,1210.6 983.4,1206.1 980.8,1201.8 977.8,1197.8 974.7,1193.8 971.6,1189.9 968.5,1185.9 965.4,1182.0 962.3,1178.0 959.2,1174.1 956.1,1170.1 953.0,1166.2 949.9,1162.2 946.8,1158.3 943.7,1154.3 940.6,1150.3 937.6,1146.4 934.5,1142.3 931.5,1138.3 928.6,1134.3 925.6,1130.2 922.7,1126.1 919.9,1122.0 917.1,1117.8 914.4,1113.6 911.7,1109.3 909.1,1105.0 906.6,1100.7 904.1,1096.3 901.8,1091.8 899.5,1087.4 897.3,1082.8 895.3,1078.2 893.4,1073.6 891.5,1068.9 889.9,1064.2 888.3,1059.4 886.9,1054.6 885.6,1049.7 884.5,1044.8 883.5,1039.9 882.8,1034.9 882.2,1029.9 881.7,1024.9 881.5,1019.9"/><path d="M989.3,1225.8 988.5,1220.9 987.7,1215.9 986.7,1211.0 985.6,1206.1 984.3,1201.2 983.0,1196.3 981.5,1191.5 979.9,1186.7 978.2,1182.0 976.4,1177.3 974.5,1172.7 972.4,1168.1 970.3,1163.5 968.1,1159.0 966.0,1154.4 963.9,1149.9 961.7,1145.3 959.5,1140.8 957.3,1136.3 955.0,1131.8 952.6,1127.4 950.2,1122.9 947.7,1118.6 945.2,1114.2 942.5,1110.0 939.8,1105.8 936.9,1101.6 933.9,1097.6 930.8,1093.6 927.5,1089.8 924.2,1086.0 920.7,1082.4 917.0,1079.0 913.2,1075.7 909.3,1072.5 905.2,1069.6 901.0,1066.8 896.7,1064.2 892.2,1061.9 887.6,1059.9 882.9,1058.1 878.1,1056.5 873.3,1055.3 868.3,1054.4 863.3,1053.8 858.3,1053.6 853.3,1053.7"/><path d="M990.9,1226.5 990.2,1221.6 989.4,1216.6 988.4,1211.7 987.4,1206.8 986.3,1201.9 985.0,1197.1 983.6,1192.3 982.2,1187.5 980.6,1182.7 979.0,1178.0 977.5,1173.2 975.9,1168.5 974.3,1163.7 972.8,1159.0 971.2,1154.2 969.6,1149.5 968.1,1144.7 966.5,1140.0 965.0,1135.2 963.5,1130.4 962.0,1125.6 960.6,1120.8 959.2,1116.0 957.8,1111.2 956.5,1106.4 955.2,1101.6 954.0,1096.7 952.8,1091.9 951.7,1087.0 950.6,1082.1 949.7,1077.2 948.8,1072.3 947.9,1067.3 947.2,1062.4 946.6,1057.4 946.0,1052.4 945.6,1047.5 945.2,1042.5 945.0,1037.5 944.9,1032.5 944.9,1027.5 945.0,1022.5 945.2,1017.5 945.6,1012.5 946.1,1007.5 946.7,1002.5 947.5,997.6"/><path d="M990.5,1227.2 990.0,1222.2 989.5,1217.1 989.0,1212.1 988.4,1207.0 987.9,1202.0 987.3,1197.0 986.7,1191.9 986.1,1186.9 985.4,1181.8 984.8,1176.8 984.1,1171.8 983.5,1166.7 982.8,1161.7 982.2,1156.7 981.5,1151.6 980.9,1146.6 980.3,1141.6 979.7,1136.5 979.1,1131.5 978.6,1126.4 978.1,1121.4 977.6,1116.3 977.3,1111.3 977.0,1106.2 976.8,1101.1 976.6,1096.1 976.6,1091.0 976.7,1085.9 976.9,1080.8 977.2,1075.8 977.6,1070.7 978.2,1065.7 978.9,1060.7 979.8,1055.7 980.8,1050.7 982.0,1045.8 983.3,1040.9 984.9,1036.0 986.6,1031.3 988.5,1026.6 990.6,1021.9 992.9,1017.4 995.4,1013.0 998.1,1008.7 1001.0,1004.5 1004.1,1000.5 1007.4,996.7"/><path d="M989.9,1226.3 989.9,1221.3 990.0,1216.3 990.2,1211.3 990.6,1206.3 991.2,1201.3 991.8,1196.3 992.4,1191.3 992.9,1186.3 993.5,1181.4 994.1,1176.4 994.7,1171.4 995.2,1166.4 995.8,1161.4 996.4,1156.4 997.0,1151.4 997.5,1146.4 998.1,1141.5 998.7,1136.5 999.3,1131.5 1000.0,1126.5 1000.6,1121.5 1001.3,1116.6 1002.0,1111.6 1002.7,1106.6 1003.5,1101.7 1004.3,1096.7 1005.2,1091.8 1006.1,1086.8 1007.0,1081.9 1008.0,1077.0 1009.1,1072.1 1010.2,1067.2 1011.4,1062.3 1012.7,1057.4 1014.0,1052.6 1015.4,1047.8 1016.9,1043.0 1018.4,1038.2 1020.1,1033.5 1021.8,1028.7 1023.6,1024.1 1025.5,1019.4 1027.5,1014.8 1029.6,1010.2 1031.8,1005.7 1034.1,1001.3 1036.5,996.9"/><path d="M989.6,1225.9 989.5,1220.9 989.5,1215.8 989.7,1210.8 989.9,1205.8 990.4,1200.7 990.9,1195.7 991.6,1190.7 992.4,1185.7 993.3,1180.8 994.4,1175.8 995.5,1170.9 996.9,1166.1 998.3,1161.2 999.8,1156.4 1001.3,1151.6 1002.8,1146.8 1004.4,1142.0 1005.9,1137.1 1007.5,1132.4 1009.1,1127.6 1010.7,1122.8 1012.5,1118.1 1014.2,1113.3 1016.1,1108.6 1018.0,1103.9 1019.9,1099.3 1022.0,1094.7 1024.2,1090.1 1026.4,1085.6 1028.8,1081.2 1031.2,1076.8 1033.8,1072.4 1036.5,1068.2 1039.4,1064.0 1042.3,1059.9 1045.4,1055.9 1048.6,1052.0 1052.0,1048.2 1055.5,1044.6 1059.1,1041.1 1062.9,1037.7 1066.8,1034.5 1070.8,1031.5 1075.0,1028.7 1079.3,1026.0 1083.7,1023.6 1088.2,1021.4"/><path d="M989.5,1225.4 990.0,1220.4 990.8,1215.4 992.0,1210.5 993.5,1205.7 995.3,1201.0 997.5,1196.5 999.9,1192.1 1002.3,1187.7 1004.6,1183.2 1007.0,1178.8 1009.4,1174.4 1011.8,1170.0 1014.1,1165.5 1016.5,1161.1 1018.9,1156.7 1021.3,1152.2 1023.7,1147.8 1026.1,1143.4 1028.5,1139.0 1031.0,1134.6 1033.5,1130.3 1036.0,1125.9 1038.6,1121.6 1041.2,1117.3 1043.8,1113.0 1046.5,1108.8 1049.3,1104.6 1052.1,1100.4 1055.0,1096.3 1057.9,1092.3 1061.0,1088.2 1064.1,1084.3 1067.2,1080.4 1070.5,1076.6 1073.8,1072.8 1077.3,1069.1 1080.8,1065.6 1084.4,1062.1 1088.1,1058.7 1091.9,1055.4 1095.8,1052.2 1099.8,1049.1 1103.8,1046.2 1108.0,1043.4 1112.3,1040.7 1116.6,1038.2"/><path d="M1005.2,1227.9 1004.0,1223.0 1002.4,1218.2 1000.3,1213.6 997.9,1209.2 995.2,1204.9 992.6,1200.6 989.9,1196.3 987.2,1192.1 984.6,1187.8 981.9,1183.5 979.2,1179.2 976.6,1175.0 973.9,1170.7 971.2,1166.4 968.6,1162.1 965.9,1157.9 963.2,1153.6 960.4,1149.4 957.6,1145.2 954.7,1141.0 951.8,1136.9 948.7,1132.9 945.6,1129.0 942.4,1125.1 939.0,1121.3 935.5,1117.7 931.9,1114.2 928.2,1110.8 924.3,1107.6 920.3,1104.5 916.1,1101.7 911.8,1099.0 907.4,1096.6 902.8,1094.5 898.1,1092.6 893.3,1091.1 888.5,1089.8 883.5,1088.9 878.5,1088.4 873.4,1088.2 868.4,1088.4 863.4,1089.1 858.5,1090.1 853.6,1091.6 849.0,1093.5 844.5,1095.8"/><path d="M1005.1,1227.8 1004.6,1222.7 1004.0,1217.6 1003.2,1212.6 1002.3,1207.6 1001.2,1202.6 1000.1,1197.6 998.7,1192.7 997.3,1187.8 995.7,1182.9 994.0,1178.1 992.2,1173.3 990.5,1168.5 988.7,1163.7 986.9,1158.9 985.1,1154.1 983.4,1149.4 981.6,1144.6 979.8,1139.8 978.1,1135.0 976.4,1130.1 974.7,1125.3 973.1,1120.5 971.5,1115.6 969.9,1110.8 968.4,1105.9 966.9,1101.0 965.4,1096.1 964.1,1091.2 962.8,1086.3 961.6,1081.3 960.4,1076.3 959.3,1071.3 958.3,1066.3 957.4,1061.3 956.6,1056.3 955.9,1051.2 955.3,1046.1 954.7,1041.1 954.3,1036.0 954.1,1030.9 953.9,1025.8 953.9,1020.7 954.0,1015.6 954.2,1010.5 954.6,1005.4 955.1,1000.3"/><path d="M1007.2,1227.4 1006.9,1222.4 1006.4,1217.4 1005.9,1212.4 1005.3,1207.4 1004.6,1202.4 1003.8,1197.5 1003.0,1192.5 1002.1,1187.6 1001.1,1182.6 1000.0,1177.7 998.8,1172.8 997.6,1168.0 996.3,1163.1 995.0,1158.3 993.7,1153.4 992.4,1148.6 991.0,1143.7 989.6,1138.9 988.2,1134.1 986.6,1129.3 985.0,1124.5 983.4,1119.8 981.6,1115.1 979.7,1110.5 977.6,1105.9 975.5,1101.3 973.2,1096.8 970.7,1092.5 968.1,1088.2 965.3,1084.0 962.4,1079.9 959.2,1076.0 955.9,1072.2 952.4,1068.6 948.7,1065.2 944.9,1062.0 940.8,1059.0 936.6,1056.2 932.2,1053.8 927.7,1051.6 923.1,1049.7 918.3,1048.1 913.4,1046.9 908.4,1046.1 903.4,1045.7"/><path d="M1006.5,1227.3 1006.3,1222.3 1006.1,1217.2 1005.9,1212.2 1005.6,1207.2 1005.3,1202.2 1005.0,1197.1 1004.7,1192.1 1004.4,1187.1 1004.0,1182.1 1003.6,1177.1 1003.2,1172.1 1002.8,1167.1 1002.4,1162.0 1002.0,1157.0 1001.6,1152.0 1001.2,1147.0 1000.9,1142.0 1000.5,1137.0 1000.2,1132.0 999.9,1126.9 999.6,1121.9 999.4,1116.9 999.2,1111.9 999.1,1106.8 999.0,1101.8 999.0,1096.8 999.1,1091.7 999.2,1086.7 999.4,1081.7 999.8,1076.7 1000.2,1071.7 1000.7,1066.7 1001.3,1061.7 1002.1,1056.7 1002.9,1051.7 1003.9,1046.8 1005.0,1041.9 1006.2,1037.0 1007.6,1032.2 1009.1,1027.4 1010.8,1022.6 1012.6,1018.0 1014.5,1013.3 1016.7,1008.8 1018.9,1004.3 1021.4,999.9"/><path d="M1005.7,1228.3 1005.6,1223.2 1005.6,1218.2 1005.6,1213.1 1005.7,1208.0 1005.8,1202.9 1006.0,1197.8 1006.2,1192.7 1006.5,1187.6 1006.8,1182.5 1007.1,1177.5 1007.5,1172.4 1008.0,1167.3 1008.5,1162.3 1009.0,1157.2 1009.5,1152.1 1010.0,1147.1 1010.4,1142.0 1010.9,1136.9 1011.2,1131.8 1011.6,1126.8 1011.9,1121.7 1012.1,1116.6 1012.2,1111.5 1012.2,1106.4 1012.2,1101.3 1012.0,1096.2 1011.7,1091.1 1011.3,1086.1 1010.8,1081.0 1010.1,1076.0 1009.3,1070.9 1008.4,1065.9 1007.2,1061.0 1005.9,1056.1 1004.4,1051.2 1002.7,1046.4 1000.9,1041.6 998.8,1037.0 996.6,1032.4 994.1,1028.0 991.4,1023.6 988.6,1019.4 985.5,1015.4 982.2,1011.5"/><path d="M1006.5,1226.7 1006.7,1221.7 1007.0,1216.7 1007.5,1211.7 1008.1,1206.7 1008.9,1201.8 1009.8,1196.9 1010.8,1192.0 1012.0,1187.1 1013.3,1182.3 1014.8,1177.5 1016.4,1172.7 1018.1,1168.0 1020.0,1163.4 1021.8,1158.7 1023.7,1154.1 1025.6,1149.4 1027.4,1144.8 1029.2,1140.1 1031.0,1135.4 1032.8,1130.7 1034.4,1126.0 1036.1,1121.3 1037.6,1116.5 1039.1,1111.7 1040.5,1106.9 1041.7,1102.1 1042.9,1097.2 1044.0,1092.3 1044.9,1087.4 1045.7,1082.5 1046.3,1077.5 1046.8,1072.5 1047.1,1067.5 1047.3,1062.5 1047.2,1057.5 1047.0,1052.5 1046.5,1047.5 1045.9,1042.5 1045.0,1037.6 1043.9,1032.7 1042.5,1027.9 1041.0,1023.2 1039.1,1018.5 1037.1,1013.9 1034.8,1009.5 1032.2,1005.2"/><path d="M1005.2,1227.6 1005.5,1222.6 1006.0,1217.5 1006.6,1212.5 1007.5,1207.4 1008.5,1202.5 1009.7,1197.5 1011.1,1192.6 1012.7,1187.8 1014.5,1183.0 1016.4,1178.3 1018.5,1173.7 1020.8,1169.2 1023.1,1164.7 1025.5,1160.1 1027.8,1155.6 1030.2,1151.1 1032.4,1146.6 1034.7,1142.0 1036.8,1137.4 1038.9,1132.8 1040.9,1128.1 1042.7,1123.3 1044.4,1118.5 1046.0,1113.7 1047.4,1108.8 1048.6,1103.9 1049.6,1098.9 1050.3,1093.9 1050.8,1088.8 1051.1,1083.7 1051.0,1078.6 1050.7,1073.6 1050.1,1068.5 1049.1,1063.5 1047.8,1058.6 1046.1,1053.8 1044.0,1049.2 1041.6,1044.7 1038.9,1040.4 1035.8,1036.4 1032.3,1032.7 1028.5,1029.3 1024.4,1026.3 1020.0,1023.7 1015.4,1021.6"/><path d="M1023.4,1227.3 1022.4,1222.4 1021.2,1217.4 1019.7,1212.6 1018.1,1207.8 1016.1,1203.1 1014.0,1198.6 1011.6,1194.1 1009.0,1189.7 1006.2,1185.5 1003.3,1181.4 1000.4,1177.3 997.5,1173.1 994.6,1169.0 991.6,1164.9 988.7,1160.7 985.8,1156.6 982.8,1152.5 979.7,1148.5 976.7,1144.5 973.5,1140.5 970.3,1136.6 967.0,1132.7 963.7,1128.9 960.2,1125.3 956.6,1121.7 953.0,1118.2 949.2,1114.8 945.3,1111.6 941.3,1108.5 937.1,1105.6 932.9,1102.9 928.5,1100.4 924.0,1098.0 919.4,1095.9 914.7,1094.1 909.9,1092.5 905.0,1091.2 900.0,1090.2 895.0,1089.5 890.0,1089.1 884.9,1089.1 879.8,1089.4 874.8,1090.1"/><path d="M1021.3,1227.8 1020.3,1222.8 1019.0,1217.9 1017.4,1213.1 1015.5,1208.3 1013.4,1203.7 1011.2,1199.1 1009.0,1194.5 1006.8,1189.9 1004.6,1185.4 1002.4,1180.8 1000.2,1176.2 997.9,1171.6 995.7,1167.0 993.5,1162.5 991.3,1157.9 989.0,1153.3 986.7,1148.8 984.4,1144.3 982.0,1139.8 979.5,1135.3 976.9,1131.0 974.2,1126.6 971.4,1122.4 968.5,1118.2 965.4,1114.2 962.2,1110.2 958.8,1106.4 955.3,1102.7 951.6,1099.2 947.8,1095.9 943.7,1092.8 939.5,1089.9 935.2,1087.3 930.7,1084.9 926.0,1082.8 921.3,1081.1 916.4,1079.7 911.4,1078.6 906.4,1077.9 901.3,1077.7 896.2,1077.8 891.1,1078.4 886.1,1079.4 881.3,1080.9"/><path d="M1022.4,1229.9 1021.8,1224.9 1021.1,1220.0 1020.3,1215.0 1019.4,1210.1 1018.4,1205.1 1017.3,1200.2 1016.1,1195.3 1014.8,1190.5 1013.5,1185.6 1012.2,1180.7 1010.9,1175.9 1009.6,1171.0 1008.3,1166.2 1007.0,1161.3 1005.7,1156.4 1004.4,1151.6 1003.0,1146.7 1001.6,1141.9 1000.2,1137.1 998.8,1132.3 997.2,1127.5 995.6,1122.7 993.9,1118.0 992.1,1113.2 990.3,1108.6 988.3,1104.0 986.2,1099.4 983.9,1094.9 981.6,1090.4 979.1,1086.1 976.5,1081.8 973.7,1077.6 970.7,1073.5 967.6,1069.5 964.4,1065.7 961.0,1062.0 957.4,1058.5 953.6,1055.1 949.7,1052.0 945.6,1049.0 941.4,1046.3 937.1,1043.8 932.6,1041.5 927.9,1039.5 923.2,1037.8"/><path d="M1022.9,1228.3 1022.6,1223.2 1022.3,1218.2 1022.0,1213.2 1021.8,1208.2 1021.6,1203.1 1021.3,1198.1 1021.1,1193.1 1020.9,1188.0 1020.8,1183.0 1020.6,1178.0 1020.4,1172.9 1020.2,1167.9 1020.1,1162.9 1019.9,1157.8 1019.7,1152.8 1019.5,1147.8 1019.3,1142.7 1019.0,1137.7 1018.8,1132.7 1018.4,1127.7 1018.0,1122.6 1017.5,1117.6 1017.0,1112.6 1016.3,1107.6 1015.6,1102.6 1014.7,1097.7 1013.7,1092.7 1012.6,1087.8 1011.3,1083.0 1009.9,1078.1 1008.3,1073.3 1006.6,1068.6 1004.6,1064.0 1002.5,1059.4 1000.3,1054.9 997.8,1050.5 995.1,1046.2 992.3,1042.1 989.2,1038.1 985.9,1034.3 982.4,1030.6 978.8,1027.2 974.9,1023.9 970.9,1020.9 966.7,1018.2 962.3,1015.7"/><path d="M1020.8,1227.8 1020.7,1222.7 1020.7,1217.6 1020.7,1212.6 1020.9,1207.5 1021.2,1202.5 1021.6,1197.4 1022.0,1192.4 1022.6,1187.4 1023.3,1182.4 1024.0,1177.3 1024.8,1172.4 1025.7,1167.4 1026.5,1162.4 1027.3,1157.4 1028.1,1152.4 1028.9,1147.4 1029.6,1142.4 1030.4,1137.4 1031.0,1132.4 1031.6,1127.3 1032.1,1122.3 1032.6,1117.3 1032.9,1112.2 1033.1,1107.2 1033.2,1102.1 1033.1,1097.0 1032.9,1092.0 1032.6,1086.9 1032.0,1081.9 1031.3,1076.9 1030.3,1071.9 1029.2,1067.0 1027.9,1062.1 1026.3,1057.3 1024.5,1052.6 1022.4,1048.0 1020.1,1043.5 1017.6,1039.1 1014.8,1034.9 1011.7,1030.9 1008.4,1027.0 1004.8,1023.4 1001.1,1020.1 997.0,1017.0 992.8,1014.2"/><path d="M1020.9,1228.6 1021.1,1223.6 1021.5,1218.5 1022.1,1213.5 1022.8,1208.5 1023.8,1203.5 1025.0,1198.6 1026.4,1193.7 1028.0,1188.9 1029.8,1184.1 1031.5,1179.4 1033.3,1174.6 1035.0,1169.9 1036.8,1165.1 1038.5,1160.4 1040.3,1155.6 1042.0,1150.9 1043.8,1146.1 1045.6,1141.4 1047.4,1136.6 1049.2,1131.9 1051.1,1127.2 1052.9,1122.5 1054.9,1117.8 1056.8,1113.1 1058.8,1108.5 1060.9,1103.8 1063.0,1099.2 1065.1,1094.6 1067.4,1090.1 1069.6,1085.6 1072.0,1081.1 1074.4,1076.6 1076.9,1072.2 1079.5,1067.8 1082.2,1063.5 1084.9,1059.3 1087.8,1055.1 1090.7,1050.9 1093.7,1046.9 1096.8,1042.9 1100.0,1039.0 1103.3,1035.1 1106.8,1031.4 1110.3,1027.7 1113.9,1024.2 1117.6,1020.7"/><path d="M1022.2,1228.9 1022.5,1223.9 1023.0,1218.8 1023.8,1213.8 1024.9,1208.8 1026.2,1203.9 1027.7,1199.1 1029.5,1194.3 1031.5,1189.7 1033.8,1185.1 1036.3,1180.7 1038.8,1176.3 1041.3,1171.8 1043.8,1167.4 1046.3,1163.0 1048.9,1158.6 1051.4,1154.2 1054.0,1149.8 1056.6,1145.4 1059.2,1141.1 1061.8,1136.7 1064.5,1132.4 1067.3,1128.2 1070.1,1123.9 1072.9,1119.7 1075.9,1115.6 1078.9,1111.5 1082.0,1107.5 1085.2,1103.5 1088.4,1099.6 1091.8,1095.8 1095.2,1092.0 1098.8,1088.4 1102.4,1084.9 1106.2,1081.4 1110.1,1078.1 1114.0,1075.0 1118.1,1071.9 1122.3,1069.1 1126.6,1066.3 1131.0,1063.8 1135.5,1061.4 1140.1,1059.2 1144.8,1057.3 1149.5,1055.5"/><path d="M1037.7,1228.6 1037.2,1223.5 1036.4,1218.5 1035.4,1213.5 1034.1,1208.6 1032.6,1203.7 1030.8,1199.0 1028.8,1194.3 1026.5,1189.7 1024.2,1185.2 1021.8,1180.8 1019.4,1176.3 1017.0,1171.8 1014.6,1167.3 1012.2,1162.8 1009.8,1158.3 1007.4,1153.8 1004.9,1149.4 1002.4,1145.0 999.8,1140.6 997.2,1136.3 994.4,1132.0 991.5,1127.8 988.5,1123.7 985.4,1119.7 982.2,1115.8 978.8,1112.0 975.2,1108.3 971.5,1104.9 967.6,1101.6 963.6,1098.5 959.4,1095.6 955.0,1093.0 950.5,1090.6 945.9,1088.6 941.1,1086.8 936.2,1085.4 931.2,1084.4 926.2,1083.8 921.1,1083.5 916.0,1083.7 911.0,1084.3 906.0,1085.4 901.1,1086.9 896.5,1088.9"/><path d="M1037.6,1230.8 1037.4,1225.7 1037.0,1220.7 1036.5,1215.6 1035.9,1210.6 1035.1,1205.6 1034.1,1200.6 1033.0,1195.7 1031.8,1190.8 1030.5,1185.9 1029.0,1181.1 1027.5,1176.2 1026.0,1171.4 1024.5,1166.5 1023.0,1161.7 1021.5,1156.9 1020.0,1152.0 1018.6,1147.2 1017.2,1142.3 1015.8,1137.4 1014.4,1132.6 1013.1,1127.7 1011.8,1122.8 1010.5,1117.9 1009.4,1112.9 1008.2,1108.0 1007.2,1103.1 1006.2,1098.1 1005.3,1093.1 1004.5,1088.1 1003.8,1083.1 1003.2,1078.1 1002.7,1073.0 1002.3,1068.0 1002.0,1062.9 1001.8,1057.9 1001.8,1052.8 1001.9,1047.7 1002.1,1042.7 1002.5,1037.6 1003.0,1032.6 1003.7,1027.6 1004.5,1022.6 1005.5,1017.6"/><path d="M1037.1,1229.1 1037.1,1224.0 1037.0,1218.9 1036.8,1213.8 1036.6,1208.7 1036.3,1203.5 1035.9,1198.4 1035.5,1193.3 1035.0,1188.3 1034.5,1183.2 1033.9,1178.1 1033.2,1173.0 1032.6,1167.9 1032.0,1162.9 1031.3,1157.8 1030.7,1152.7 1030.0,1147.6 1029.2,1142.6 1028.4,1137.5 1027.6,1132.5 1026.6,1127.5 1025.6,1122.5 1024.4,1117.5 1023.2,1112.5 1021.8,1107.6 1020.2,1102.7 1018.5,1097.9 1016.7,1093.1 1014.6,1088.4 1012.4,1083.8 1010.0,1079.3 1007.4,1074.9 1004.6,1070.6 1001.6,1066.5 998.3,1062.5 994.9,1058.8 991.2,1055.2 987.4,1051.8 983.3,1048.7 979.0,1045.9 974.6,1043.4 970.0,1041.1 965.2,1039.2"/><path d="M1038.4,1228.5 1038.5,1223.4 1038.5,1218.4 1038.5,1213.3 1038.5,1208.3 1038.4,1203.3 1038.4,1198.2 1038.3,1193.2 1038.2,1188.1 1038.1,1183.1 1038.0,1178.0 1037.9,1173.0 1037.8,1168.0 1037.8,1162.9 1037.7,1157.9 1037.6,1152.8 1037.4,1147.8 1037.3,1142.7 1037.1,1137.7 1036.8,1132.7 1036.5,1127.6 1036.1,1122.6 1035.5,1117.6 1034.9,1112.6 1034.2,1107.6 1033.3,1102.6 1032.3,1097.7 1031.1,1092.8 1029.8,1087.9 1028.3,1083.1 1026.6,1078.3 1024.7,1073.7 1022.6,1069.1 1020.3,1064.6 1017.8,1060.2 1015.0,1056.0 1012.1,1051.9 1008.9,1048.0 1005.5,1044.2 1001.9,1040.7 998.0,1037.5 994.0,1034.4 989.8,1031.7 985.3,1029.3 980.8,1027.2"/><path d="M1037.5,1228.9 1037.8,1223.9 1038.2,1218.8 1038.6,1213.7 1039.2,1208.6 1039.7,1203.6 1040.4,1198.5 1041.1,1193.5 1041.9,1188.5 1042.8,1183.5 1043.8,1178.4 1044.8,1173.5 1045.8,1168.5 1046.8,1163.5 1047.9,1158.5 1048.9,1153.5 1050.0,1148.5 1051.0,1143.6 1052.1,1138.6 1053.2,1133.6 1054.3,1128.6 1055.5,1123.7 1056.7,1118.7 1057.9,1113.8 1059.1,1108.8 1060.5,1103.9 1061.8,1099.0 1063.2,1094.1 1064.7,1089.3 1066.2,1084.4 1067.8,1079.6 1069.5,1074.7 1071.2,1070.0 1073.0,1065.2 1074.9,1060.5 1076.9,1055.8 1079.0,1051.1 1081.1,1046.5 1083.4,1041.9 1085.7,1037.4 1088.1,1032.9 1090.7,1028.5 1093.3,1024.2 1096.0,1019.9"/><path d="M1038.6,1229.0 1039.0,1224.0 1039.6,1219.0 1040.3,1214.0 1041.2,1209.0 1042.2,1204.1 1043.3,1199.1 1044.6,1194.3 1045.9,1189.4 1047.4,1184.6 1049.1,1179.8 1050.8,1175.1 1052.7,1170.4 1054.7,1165.8 1056.8,1161.2 1058.9,1156.6 1061.0,1152.0 1063.0,1147.4 1065.0,1142.8 1067.0,1138.1 1069.0,1133.5 1070.8,1128.8 1072.7,1124.1 1074.4,1119.4 1076.1,1114.6 1077.7,1109.8 1079.2,1105.0 1080.6,1100.2 1081.9,1095.3 1083.1,1090.4 1084.1,1085.4 1085.0,1080.5 1085.8,1075.5 1086.4,1070.5 1086.8,1065.4 1087.1,1060.4 1087.2,1055.4 1087.0,1050.3 1086.7,1045.3 1086.2,1040.3 1085.4,1035.3 1084.5,1030.3 1083.3,1025.4 1081.8,1020.6 1080.2,1015.8 1078.3,1011.2"/><path d="M1037.9,1229.9 1038.4,1224.8 1039.2,1219.8 1040.1,1214.8 1041.3,1209.8 1042.6,1204.9 1044.1,1200.1 1045.7,1195.2 1047.5,1190.5 1049.6,1185.8 1051.7,1181.2 1054.1,1176.7 1056.6,1172.3 1059.2,1168.0 1061.9,1163.6 1064.7,1159.3 1067.4,1155.0 1070.1,1150.7 1072.8,1146.5 1075.6,1142.2 1078.4,1137.9 1081.2,1133.7 1084.0,1129.5 1086.9,1125.3 1089.8,1121.1 1092.8,1116.9 1095.7,1112.8 1098.8,1108.7 1101.9,1104.7 1105.0,1100.7 1108.2,1096.7 1111.4,1092.8 1114.8,1089.0 1118.1,1085.2 1121.6,1081.4 1125.1,1077.7 1128.6,1074.1 1132.3,1070.6 1136.0,1067.1 1139.8,1063.7 1143.7,1060.4 1147.6,1057.2 1151.6,1054.1 1155.7,1051.0"/><path d="M1048.0,1224.0 1052.5,1215.8 1057.1,1207.6 1061.6,1199.4 1066.1,1191.2 1070.6,1183.1 1075.0,1175.0 1079.0,1167.3 1082.6,1160.0 1086.1,1152.7 1089.9,1145.1 1094.4,1137.0 1100.0,1128.0 1106.9,1117.8 1115.0,1106.6 1123.7,1094.8 1132.7,1082.9 1141.6,1071.1 1150.0,1060.0 1157.9,1049.5 1165.6,1039.4 1173.2,1029.5 1180.8,1019.7 1188.4,1009.9 1196.0,1000.0"/><path d="M1046.0,1223.0 1050.0,1214.2 1054.1,1205.6 1058.2,1196.9 1062.3,1188.2 1066.2,1179.2 1070.0,1170.0 1073.6,1160.3 1077.0,1150.1 1080.2,1139.8 1083.5,1129.5 1086.7,1119.5 1090.0,1110.0 1093.3,1100.9 1096.7,1092.1 1100.0,1083.6 1103.3,1075.4 1106.7,1067.5 1110.0,1060.0 1113.4,1052.9 1116.7,1046.1 1120.1,1039.8 1123.5,1033.6 1126.8,1027.7 1130.0,1022.0 1133.1,1016.5 1136.1,1011.4 1139.1,1006.5 1142.1,1001.7 1145.0,996.9 1148.0,992.0"/><path d="M1047.0,1223.0 1050.5,1216.8 1054.0,1210.8 1057.6,1204.8 1061.1,1198.6 1064.6,1192.0 1068.0,1185.0 1071.4,1177.5 1074.7,1169.6 1078.1,1161.4 1081.4,1152.9 1084.7,1144.1 1088.0,1135.0 1091.2,1125.4 1094.2,1115.2 1097.2,1104.7 1100.4,1094.3 1104.0,1084.2 1108.0,1075.0 1112.8,1066.4 1118.2,1058.2 1124.0,1050.4 1129.8,1043.1 1135.2,1036.3 1140.0,1030.0 1144.0,1024.5 1147.6,1019.7 1150.8,1015.4 1153.8,1011.3 1156.8,1007.3 1160.0,1003.0"/><path d="M1044.0,1221.0 1046.3,1212.5 1048.7,1204.1 1051.0,1195.8 1053.3,1187.3 1055.7,1178.7 1058.0,1170.0 1060.3,1161.2 1062.6,1152.3 1064.9,1143.4 1067.2,1134.2 1069.6,1124.8 1072.0,1115.0 1074.6,1104.5 1077.3,1093.4 1080.1,1082.1 1082.9,1070.8 1085.5,1060.0 1088.0,1050.0 1090.2,1041.0 1092.3,1032.7 1094.2,1024.9 1096.1,1017.4 1098.0,1009.8 1100.0,1002.0"/><path d="M1042.0,1220.0 1043.3,1211.8 1044.7,1203.7 1046.0,1195.6 1047.3,1187.4 1048.7,1178.9 1050.0,1170.0 1051.3,1160.6 1052.7,1150.7 1054.0,1140.6 1055.3,1130.4 1056.7,1120.1 1058.0,1110.0 1059.4,1099.8 1060.7,1089.3 1062.1,1078.8 1063.5,1068.5 1064.8,1058.8 1066.0,1050.0 1067.1,1042.2 1068.1,1035.2 1069.1,1028.8 1070.1,1022.6 1071.0,1016.4 1072.0,1010.0"/></g><g clip-path="url(#cr)" fill="#333" opacity="0.85"><path d="M666.0,1201.5 L660.7,1138.4 L662.7,1138.1 L674.0,1200.5Z"/><path d="M682.0,1202.8 L679.6,1158.6 L681.5,1158.3 L690.0,1201.8Z"/><path d="M698.0,1203.9 L695.3,1140.6 L697.3,1140.5 L706.0,1203.2Z"/><path d="M714.0,1204.8 L716.8,1146.8 L718.8,1146.8 L722.0,1204.8Z"/><path d="M730.0,1206.5 L728.5,1156.6 L730.5,1156.4 L738.0,1205.7Z"/><path d="M746.0,1207.7 L744.6,1145.7 L746.6,1145.6 L754.0,1207.1Z"/><path d="M762.0,1208.9 L760.7,1143.4 L762.7,1143.3 L770.0,1208.4Z"/><path d="M778.0,1210.3 L774.9,1150.8 L776.9,1150.6 L786.0,1209.5Z"/><path d="M794.0,1211.7 L791.2,1158.8 L793.2,1158.6 L802.0,1210.8Z"/><path d="M810.0,1213.0 L806.6,1161.7 L808.6,1161.5 L818.0,1212.0Z"/><path d="M826.0,1214.2 L822.7,1149.8 L824.7,1149.6 L834.0,1213.4Z"/><path d="M842.0,1215.6 L839.0,1170.1 L841.0,1169.8 L850.0,1214.5Z"/><path d="M858.0,1216.5 L859.3,1168.5 L861.3,1168.4 L866.0,1216.2Z"/><path d="M874.0,1217.9 L873.9,1171.0 L875.9,1170.9 L882.0,1217.3Z"/><path d="M890.0,1219.2 L888.4,1159.3 L890.3,1159.1 L898.0,1218.6Z"/><path d="M906.0,1220.4 L905.7,1166.7 L907.7,1166.6 L914.0,1219.9Z"/><path d="M922.0,1221.6 L922.2,1171.5 L924.2,1171.4 L930.0,1221.2Z"/><path d="M938.0,1223.1 L935.1,1166.3 L937.1,1166.0 L946.0,1222.3Z"/><path d="M954.0,1224.2 L954.6,1182.7 L956.6,1182.6 L962.0,1223.7Z"/><path d="M970.0,1225.6 L969.7,1186.9 L971.7,1186.7 L978.0,1224.9Z"/><path d="M986.0,1226.9 L984.9,1180.0 L986.9,1179.8 L994.0,1226.2Z"/><path d="M1002.0,1227.9 L1003.6,1184.9 L1005.6,1184.9 L1010.0,1227.7Z"/><path d="M1018.0,1229.4 L1018.3,1190.1 L1020.3,1190.0 L1026.0,1228.8Z"/><path d="M1034.0,1230.3 L1038.5,1166.3 L1040.5,1166.4 L1042.0,1230.5Z"/></g><defs><linearGradient id="gz" x1="0" y1="0" x2="0" y2="1"><stop offset="0" stop-color="#000" stop-opacity="0"/><stop offset="1" stop-color="#000" stop-opacity="0.22"/></linearGradient></defs><path d="M766,1160 L1048,1185 L1050.7,1227.7 L766,1203.7Z" fill="url(#gz)"/><path d="M766,1203.7 L1050.7,1227.7 L1043.4,1297.3 L766.5,1273.5Z" fill="#363636"/><path d="M766,1270 L1043.8,1293 L1043.4,1297.3 L766.5,1273.5Z" fill="#222"/><g fill="#c9a559"><path d="M1062,1262 L1069.5,1261.5 L1066,1293.3 L1054,1293.3Z"/><path d="M1091,1263 Q1108,1262 1107,1270 Q1104,1277 1098.3,1280" fill="none" stroke="#c9a559" stroke-width="5" stroke-linecap="round"/><path d="M1083,1293.3 L1106.5,1295" fill="none" stroke="#c9a559" stroke-width="4.5" stroke-linecap="round"/><path d="M1119.0,1278.0 L1126.0,1279.0 L1125.7,1298.0 L1118.7,1297.5Z"/><path d="M1138.2,1280.0 L1145.2,1281.0 L1144.9,1300.0 L1137.9,1299.5Z"/><path d="M1156.5,1282.5 L1163.5,1283.5 L1163.2,1301.7 L1156.2,1301.2Z"/><path d="M1178.2,1285.0 L1185.2,1286.0 L1184.9,1304.0 L1177.9,1303.5Z"/><path d="M1196.5,1286.7 L1203.5,1287.7 L1203.2,1305.8 L1196.2,1305.3Z"/><path d="M1215.7,1288.3 L1222.7,1289.3 L1222.4,1307.5 L1215.4,1307.0Z"/></g><g fill="#161616"><path d="M1142.6,880.8 1145.2,884.5 1147.9,888.2 1150.5,891.8 1153.2,895.4 1155.9,899.0 1158.5,902.7 1161.2,906.3 1163.8,910.0 1166.5,913.8 1169.1,917.6 1171.7,921.4 1174.4,925.4 1177.0,929.5 1179.7,933.6 1182.5,937.8 1185.2,942.1 1188.0,946.4 1190.7,950.7 1193.4,955.1 1196.1,959.5 1198.7,963.9 1201.2,968.3 1203.7,972.7 1206.0,977.1 1208.2,981.4 1210.4,985.8 1212.5,990.1 1214.5,994.4 1216.5,998.7 1218.4,1003.1 1220.3,1007.5 1222.1,1011.9 1223.9,1016.4 1225.7,1020.9 1227.5,1025.6 1229.2,1030.3 1231.0,1035.2 1232.9,1040.5 1234.7,1046.0 1236.5,1051.6 1238.3,1057.3 1240.0,1062.9 1241.7,1068.5 1243.3,1073.8 1244.8,1078.9 1246.2,1083.6 1247.4,1087.8 1248.5,1091.5 1249.5,1094.7 1250.2,1097.4 1250.9,1099.7 1251.4,1101.6 1251.8,1103.2 1252.1,1104.7 1252.4,1105.9 1252.6,1107.1 1252.8,1108.2 1252.9,1109.4 1253.1,1110.7 1253.2,1112.1 1253.3,1113.5 1253.4,1114.9 1253.4,1116.3 1253.3,1117.6 1253.2,1118.9 1253.1,1120.2 1252.9,1121.5 1252.8,1122.7 1252.6,1124.0 1252.4,1125.3 1252.3,1126.6 1252.2,1127.9 1253.8,1128.1 1253.9,1126.8 1254.0,1125.5 1254.2,1124.2 1254.3,1122.9 1254.5,1121.7 1254.7,1120.4 1254.8,1119.1 1254.9,1117.7 1255.0,1116.4 1255.0,1114.9 1254.9,1113.5 1254.8,1111.9 1254.6,1110.5 1254.5,1109.2 1254.4,1108.0 1254.2,1106.8 1254.0,1105.6 1253.7,1104.3 1253.4,1102.9 1252.9,1101.2 1252.4,1099.2 1251.8,1096.9 1251.0,1094.2 1250.1,1091.1 1249.0,1087.4 1247.7,1083.1 1246.4,1078.4 1244.9,1073.3 1243.3,1068.0 1241.6,1062.5 1239.8,1056.8 1238.0,1051.1 1236.2,1045.5 1234.4,1040.0 1232.5,1034.7 1230.8,1029.7 1229.0,1025.0 1227.2,1020.3 1225.4,1015.8 1223.6,1011.3 1221.7,1006.8 1219.9,1002.4 1217.9,998.1 1216.0,993.7 1213.9,989.4 1211.8,985.0 1209.7,980.7 1207.4,976.3 1205.1,971.9 1202.6,967.5 1200.1,963.1 1197.5,958.7 1194.8,954.3 1192.1,949.9 1189.4,945.5 1186.6,941.2 1183.8,936.9 1181.1,932.7 1178.4,928.6 1175.6,924.6 1172.9,920.7 1170.2,916.8 1167.5,913.1 1164.7,909.4 1162.0,905.7 1159.3,902.1 1156.5,898.5 1153.8,895.0 1151.0,891.4 1148.3,887.8 1145.6,884.2 1142.8,880.6Z"/><path d="M1179.9,888.8 1182.4,891.8 1184.9,894.8 1187.4,897.7 1190.0,900.7 1192.6,903.6 1195.1,906.5 1197.6,909.5 1200.1,912.5 1202.5,915.6 1204.9,918.7 1207.2,922.0 1209.4,925.4 1211.6,928.9 1213.7,932.4 1215.8,936.1 1217.8,939.8 1219.8,943.6 1221.8,947.4 1223.7,951.3 1225.5,955.3 1227.4,959.3 1229.1,963.4 1230.9,967.5 1232.6,971.6 1234.2,975.8 1235.8,980.1 1237.4,984.5 1238.9,988.9 1240.4,993.4 1241.8,998.0 1243.2,1002.5 1244.5,1007.1 1245.8,1011.7 1247.0,1016.2 1248.1,1020.7 1249.2,1025.2 1250.3,1029.7 1251.2,1034.3 1252.2,1039.1 1253.1,1043.8 1253.9,1048.6 1254.6,1053.3 1255.4,1057.9 1256.0,1062.4 1256.6,1066.7 1257.1,1070.8 1257.5,1074.6 1257.9,1078.1 1258.2,1081.2 1258.4,1084.1 1258.4,1086.7 1258.4,1089.1 1258.4,1091.3 1258.3,1093.3 1258.1,1095.3 1258.0,1097.2 1257.8,1099.1 1257.6,1101.0 1257.4,1102.9 1257.2,1104.9 1257.0,1107.0 1256.8,1109.0 1256.6,1110.9 1256.4,1112.9 1256.1,1114.8 1255.9,1116.6 1255.6,1118.5 1255.3,1120.4 1255.0,1122.2 1254.7,1124.1 1254.5,1126.0 1254.2,1127.9 1255.8,1128.1 1256.0,1126.2 1256.3,1124.3 1256.6,1122.5 1256.9,1120.6 1257.2,1118.7 1257.4,1116.9 1257.7,1115.0 1258.0,1113.1 1258.2,1111.1 1258.4,1109.1 1258.6,1107.1 1258.8,1105.1 1259.0,1103.0 1259.2,1101.1 1259.4,1099.2 1259.5,1097.3 1259.7,1095.4 1259.9,1093.4 1260.0,1091.3 1260.0,1089.1 1260.0,1086.7 1260.0,1084.0 1259.8,1081.1 1259.5,1077.9 1259.1,1074.4 1258.7,1070.6 1258.2,1066.5 1257.6,1062.2 1256.9,1057.7 1256.2,1053.0 1255.5,1048.3 1254.6,1043.5 1253.7,1038.8 1252.8,1034.0 1251.8,1029.4 1250.8,1024.8 1249.7,1020.3 1248.5,1015.8 1247.3,1011.2 1246.0,1006.7 1244.7,1002.1 1243.3,997.5 1241.9,992.9 1240.4,988.4 1238.9,984.0 1237.3,979.6 1235.7,975.2 1234.0,971.0 1232.3,966.8 1230.6,962.7 1228.8,958.6 1227.0,954.6 1225.1,950.6 1223.2,946.7 1221.2,942.8 1219.2,939.0 1217.1,935.3 1215.0,931.7 1212.8,928.1 1210.6,924.6 1208.3,921.3 1205.9,918.0 1203.4,914.9 1200.9,911.8 1198.3,908.9 1195.7,905.9 1193.1,903.1 1190.5,900.2 1187.9,897.3 1185.3,894.5 1182.7,891.6 1180.1,888.6Z"/><path d="M1235.9,898.0 1236.6,901.1 1237.3,904.2 1238.0,907.2 1238.8,910.2 1239.5,913.3 1240.3,916.3 1241.0,919.3 1241.7,922.4 1242.4,925.5 1243.1,928.7 1243.8,931.9 1244.4,935.1 1245.1,938.5 1245.7,941.9 1246.2,945.4 1246.8,949.0 1247.4,952.6 1247.9,956.2 1248.5,959.8 1249.0,963.4 1249.6,966.9 1250.1,970.3 1250.7,973.6 1251.2,976.8 1251.8,979.9 1252.3,982.9 1252.8,985.7 1253.4,988.5 1253.9,991.2 1254.4,993.9 1255.0,996.5 1255.5,999.2 1255.9,1001.8 1256.4,1004.5 1256.8,1007.3 1257.2,1010.1 1257.6,1013.0 1258.0,1015.9 1258.3,1018.7 1258.7,1021.6 1259.0,1024.5 1259.3,1027.4 1259.6,1030.4 1259.8,1033.4 1260.1,1036.4 1260.2,1039.5 1260.4,1042.7 1260.5,1046.0 1260.6,1049.4 1260.6,1052.9 1260.5,1056.6 1260.5,1060.3 1260.4,1064.0 1260.2,1067.8 1260.1,1071.7 1259.9,1075.4 1259.8,1079.2 1259.6,1082.9 1259.4,1086.5 1259.2,1090.0 1259.0,1093.3 1258.8,1096.6 1258.6,1099.9 1258.3,1103.0 1258.1,1106.2 1257.8,1109.3 1257.5,1112.4 1257.3,1115.5 1257.0,1118.6 1256.7,1121.7 1256.5,1124.8 1256.2,1127.9 1257.8,1128.1 1258.1,1124.9 1258.3,1121.8 1258.6,1118.7 1258.9,1115.6 1259.1,1112.5 1259.4,1109.4 1259.7,1106.3 1259.9,1103.2 1260.2,1100.0 1260.4,1096.7 1260.6,1093.4 1260.8,1090.0 1261.0,1086.6 1261.2,1083.0 1261.4,1079.3 1261.5,1075.5 1261.7,1071.7 1261.8,1067.9 1262.0,1064.1 1262.1,1060.3 1262.1,1056.6 1262.2,1052.9 1262.2,1049.4 1262.1,1046.0 1262.0,1042.7 1261.8,1039.5 1261.7,1036.3 1261.4,1033.2 1261.2,1030.2 1260.9,1027.3 1260.6,1024.3 1260.3,1021.4 1259.9,1018.5 1259.6,1015.6 1259.2,1012.8 1258.8,1009.9 1258.4,1007.0 1258.0,1004.3 1257.5,1001.5 1257.0,998.9 1256.5,996.2 1256.0,993.6 1255.5,990.9 1255.0,988.2 1254.4,985.4 1253.9,982.6 1253.3,979.6 1252.8,976.6 1252.2,973.4 1251.7,970.1 1251.2,966.6 1250.6,963.1 1250.0,959.6 1249.5,956.0 1248.9,952.3 1248.2,948.7 1247.6,945.2 1246.9,941.7 1246.3,938.2 1245.6,934.9 1244.9,931.6 1244.1,928.4 1243.4,925.3 1242.6,922.2 1241.8,919.2 1241.0,916.1 1240.2,913.1 1239.4,910.1 1238.6,907.1 1237.8,904.1 1236.9,901.0 1236.1,898.0Z"/><path d="M1290.6,900.7 1290.3,904.0 1290.1,907.3 1289.8,910.6 1289.6,913.9 1289.4,917.2 1289.2,920.5 1289.0,923.8 1288.7,927.1 1288.5,930.3 1288.2,933.6 1287.8,936.8 1287.4,939.9 1287.0,943.1 1286.5,946.2 1286.0,949.2 1285.5,952.3 1285.0,955.3 1284.4,958.3 1283.8,961.3 1283.2,964.3 1282.6,967.3 1281.9,970.3 1281.3,973.4 1280.5,976.5 1279.7,979.7 1278.9,982.9 1277.9,986.1 1277.0,989.4 1276.0,992.7 1274.9,996.0 1273.9,999.2 1272.9,1002.5 1271.9,1005.7 1270.9,1008.8 1270.0,1011.8 1269.2,1014.8 1268.5,1017.6 1267.7,1020.2 1267.0,1022.7 1266.4,1025.2 1265.7,1027.6 1265.1,1029.9 1264.5,1032.3 1263.9,1034.8 1263.4,1037.3 1262.9,1040.0 1262.4,1042.9 1261.9,1045.9 1261.5,1049.1 1261.1,1052.6 1260.7,1056.2 1260.4,1059.9 1260.1,1063.7 1259.8,1067.5 1259.5,1071.4 1259.2,1075.2 1259.0,1079.1 1258.7,1082.8 1258.5,1086.4 1258.2,1089.9 1257.9,1093.3 1257.7,1096.6 1257.4,1099.9 1257.2,1103.0 1256.9,1106.2 1256.7,1109.3 1256.4,1112.4 1256.2,1115.5 1255.9,1118.6 1255.7,1121.7 1255.5,1124.8 1255.2,1127.9 1256.8,1128.1 1257.0,1124.9 1257.3,1121.8 1257.5,1118.7 1257.8,1115.6 1258.0,1112.5 1258.3,1109.4 1258.5,1106.3 1258.7,1103.2 1259.0,1100.0 1259.3,1096.7 1259.5,1093.4 1259.8,1090.1 1260.1,1086.6 1260.3,1082.9 1260.6,1079.2 1260.8,1075.4 1261.1,1071.5 1261.4,1067.6 1261.7,1063.8 1262.0,1060.0 1262.3,1056.3 1262.7,1052.7 1263.1,1049.3 1263.5,1046.1 1264.0,1043.1 1264.4,1040.3 1265.0,1037.7 1265.5,1035.1 1266.1,1032.7 1266.7,1030.3 1267.3,1028.0 1267.9,1025.6 1268.6,1023.2 1269.3,1020.7 1270.0,1018.0 1270.8,1015.2 1271.6,1012.3 1272.5,1009.2 1273.4,1006.1 1274.4,1003.0 1275.4,999.7 1276.5,996.4 1277.5,993.2 1278.5,989.9 1279.5,986.6 1280.4,983.3 1281.3,980.1 1282.1,976.9 1282.8,973.8 1283.5,970.7 1284.2,967.6 1284.8,964.6 1285.4,961.6 1286.0,958.6 1286.5,955.5 1286.9,952.5 1287.4,949.4 1287.8,946.3 1288.2,943.2 1288.6,940.1 1288.9,936.9 1289.2,933.6 1289.4,930.4 1289.7,927.1 1289.8,923.8 1290.0,920.5 1290.1,917.2 1290.3,913.9 1290.4,910.6 1290.5,907.3 1290.7,904.0 1290.8,900.7Z"/><path d="M1359.9,900.6 1358.2,904.7 1356.5,908.8 1354.9,912.8 1353.2,916.9 1351.6,920.9 1350.0,924.9 1348.3,929.0 1346.7,933.1 1344.9,937.2 1343.1,941.3 1341.3,945.5 1339.3,949.7 1337.3,954.0 1335.2,958.4 1333.1,962.9 1330.9,967.4 1328.7,971.9 1326.5,976.5 1324.2,981.0 1321.9,985.5 1319.5,990.0 1317.2,994.4 1314.9,998.7 1312.6,1002.9 1310.3,1007.0 1307.9,1011.1 1305.5,1015.0 1303.0,1018.9 1300.6,1022.8 1298.1,1026.6 1295.7,1030.4 1293.3,1034.3 1290.9,1038.1 1288.6,1041.9 1286.4,1045.7 1284.3,1049.6 1282.2,1053.6 1280.2,1057.8 1278.2,1062.1 1276.2,1066.4 1274.2,1070.7 1272.4,1075.0 1270.6,1079.2 1268.9,1083.1 1267.3,1086.9 1265.8,1090.4 1264.5,1093.6 1263.3,1096.4 1262.2,1098.8 1261.4,1100.7 1260.6,1102.4 1260.0,1103.8 1259.5,1105.0 1259.1,1106.0 1258.7,1106.9 1258.4,1107.7 1258.1,1108.6 1257.8,1109.6 1257.5,1110.6 1257.2,1111.8 1256.9,1113.1 1256.6,1114.5 1256.4,1115.8 1256.2,1117.2 1256.1,1118.5 1256.0,1119.9 1255.8,1121.2 1255.7,1122.6 1255.6,1123.9 1255.5,1125.3 1255.4,1126.6 1255.2,1127.9 1256.8,1128.1 1256.9,1126.7 1257.1,1125.4 1257.2,1124.1 1257.3,1122.7 1257.4,1121.4 1257.5,1120.0 1257.7,1118.7 1257.8,1117.4 1258.0,1116.1 1258.2,1114.8 1258.5,1113.5 1258.8,1112.2 1259.1,1111.0 1259.4,1110.0 1259.6,1109.1 1259.9,1108.3 1260.2,1107.5 1260.6,1106.6 1261.0,1105.6 1261.5,1104.4 1262.1,1103.0 1262.8,1101.4 1263.7,1099.4 1264.7,1097.0 1265.9,1094.2 1267.3,1091.0 1268.8,1087.5 1270.4,1083.8 1272.1,1079.8 1273.8,1075.6 1275.7,1071.4 1277.6,1067.1 1279.6,1062.7 1281.6,1058.5 1283.7,1054.4 1285.7,1050.4 1287.8,1046.5 1290.0,1042.7 1292.3,1038.9 1294.6,1035.1 1297.0,1031.3 1299.5,1027.5 1301.9,1023.7 1304.4,1019.8 1306.8,1015.9 1309.3,1011.9 1311.7,1007.8 1314.0,1003.7 1316.3,999.5 1318.6,995.1 1321.0,990.7 1323.3,986.2 1325.6,981.7 1327.9,977.2 1330.1,972.6 1332.4,968.1 1334.6,963.5 1336.7,959.1 1338.7,954.7 1340.7,950.3 1342.5,946.0 1344.3,941.8 1346.0,937.6 1347.7,933.5 1349.3,929.4 1350.8,925.3 1352.4,921.2 1353.9,917.1 1355.5,913.0 1357.0,909.0 1358.6,904.9 1360.1,900.8Z"/><path d="M1446.6,909.9 1442.6,913.6 1438.7,917.3 1434.7,921.0 1430.8,924.7 1426.8,928.4 1422.8,932.1 1418.9,935.8 1414.9,939.5 1411.0,943.2 1407.1,946.9 1403.2,950.7 1399.4,954.4 1395.7,958.2 1392.1,961.9 1388.5,965.6 1385.0,969.3 1381.5,973.0 1378.0,976.7 1374.5,980.5 1370.9,984.3 1367.2,988.1 1363.4,992.0 1359.5,996.0 1355.4,1000.1 1351.1,1004.4 1346.6,1008.7 1341.8,1013.2 1336.9,1017.8 1332.0,1022.4 1327.0,1027.1 1322.0,1031.8 1317.1,1036.5 1312.3,1041.1 1307.7,1045.7 1303.4,1050.1 1299.4,1054.5 1295.6,1058.8 1291.9,1063.2 1288.3,1067.7 1284.8,1072.2 1281.5,1076.6 1278.3,1081.0 1275.3,1085.2 1272.5,1089.2 1269.8,1093.0 1267.4,1096.5 1265.3,1099.7 1263.3,1102.6 1261.7,1105.0 1260.4,1107.1 1259.4,1108.8 1258.6,1110.3 1258.0,1111.5 1257.6,1112.6 1257.3,1113.6 1257.1,1114.4 1256.9,1115.2 1256.8,1116.0 1256.5,1116.8 1256.2,1117.7 1255.9,1118.8 1255.6,1119.7 1255.4,1120.7 1255.2,1121.5 1255.0,1122.4 1254.9,1123.2 1254.8,1124.0 1254.7,1124.7 1254.6,1125.5 1254.5,1126.3 1254.4,1127.0 1254.2,1127.9 1255.8,1128.1 1255.9,1127.3 1256.1,1126.5 1256.2,1125.7 1256.3,1125.0 1256.4,1124.2 1256.5,1123.4 1256.6,1122.7 1256.7,1121.9 1256.9,1121.0 1257.1,1120.2 1257.4,1119.3 1257.8,1118.3 1258.1,1117.3 1258.3,1116.4 1258.5,1115.5 1258.7,1114.8 1258.9,1114.0 1259.1,1113.1 1259.5,1112.2 1260.0,1111.0 1260.8,1109.6 1261.8,1107.9 1263.1,1105.9 1264.7,1103.4 1266.6,1100.6 1268.8,1097.4 1271.2,1093.9 1273.8,1090.1 1276.6,1086.1 1279.6,1081.9 1282.8,1077.6 1286.1,1073.2 1289.5,1068.7 1293.1,1064.3 1296.8,1059.8 1300.6,1055.5 1304.6,1051.2 1308.9,1046.8 1313.4,1042.2 1318.2,1037.6 1323.1,1033.0 1328.0,1028.3 1333.1,1023.6 1338.0,1019.0 1342.9,1014.4 1347.7,1009.9 1352.2,1005.5 1356.6,1001.3 1360.6,997.1 1364.6,993.1 1368.4,989.2 1372.0,985.4 1375.6,981.6 1379.2,977.8 1382.7,974.1 1386.2,970.4 1389.7,966.7 1393.2,963.0 1396.8,959.3 1400.6,955.6 1404.4,951.8 1408.1,948.0 1412.0,944.2 1415.8,940.4 1419.7,936.6 1423.5,932.8 1427.4,929.1 1431.3,925.3 1435.2,921.5 1439.1,917.7 1443.0,913.9 1446.8,910.1Z"/></g><path d="M1251,1112 L1262,1112 L1261,1137 L1246.7,1187.3 L1232,1186 L1249,1126 Z" fill="#3c3c3c"/><path d="M1251,1112 L1262,1112 L1260,1128 L1250,1126 Z" fill="#555"/><path d="M1340,1000.5 L1459,1023" stroke="#d8d8d8" stroke-width="1" fill="none"/><path d="M1335.5,1004 L1458,1043 L1458,1052 L1340,1008 Z" fill="#585858"/><path d="M1340,1008 L1458,1052 L1458,1072.5 L1337,1007.5 Z" fill="#c6c6c6"/><path d="M1335,1007 L1458,1072.5" stroke="#111" stroke-width="1.6" fill="none"/><path d="M1335.5,1004 L1458,1043" stroke="#444" stroke-width="1.4" fill="none"/>
</svg>
</body></html>
